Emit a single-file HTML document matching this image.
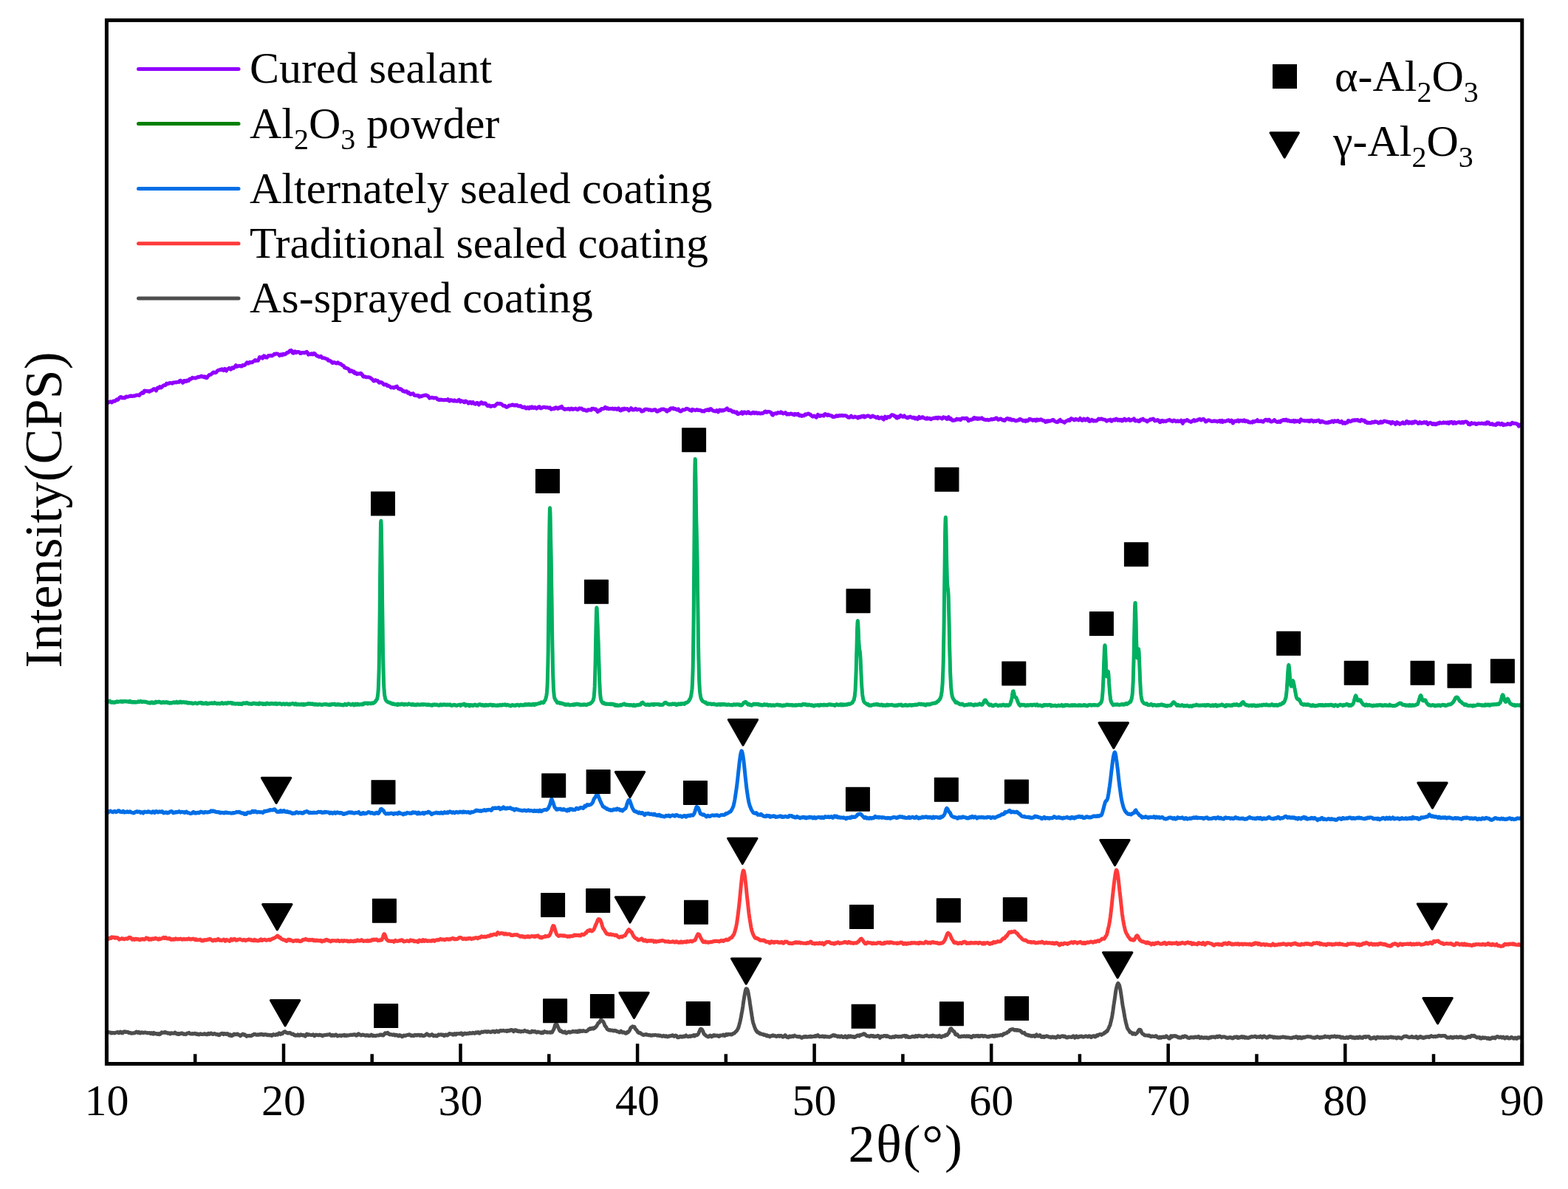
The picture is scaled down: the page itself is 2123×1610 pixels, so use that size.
<!DOCTYPE html><html><head><meta charset="utf-8"><style>html,body{margin:0;padding:0;background:#fff;}svg{display:block;}svg text{font-family:"Liberation Serif",serif;}</style></head><body>
<svg width="2123" height="1610" viewBox="0 0 2123 1610">
<rect width="2123" height="1610" fill="#fff"/>
<g fill="none" stroke-width="5" stroke-linejoin="round" stroke-linecap="round">
<path stroke="#9000FF" d="M144.4 545.0l1 0.0 1 0.4 1 -1.0 1 -0.1 1 -0.5 1 0.5 1 0.7 1 -1.0 1 -0.9 1 0.0 1 0.2 1 -0.8 1 -0.9 1 -0.9 1 0.7 1 -1.0 1 -1.3 1 -1.0 1 -0.5 1 0.1 1 1.3 1 -0.6 1 0.0 1 0.5 1 -0.1 1 -1.7 1 -0.2 1 0.5 1 -0.2 1 -0.3 1 -0.6 1 0.3 1 -0.7 1 0.5 1 0.0 1 -0.4 1 0.3 1 -0.3 1 -0.3 1 -0.5 1 -0.3 1 0.0 1 0.0 1 0.6 1 -1.5 1 -1.0 1 -0.1 1 -1.2 1 0.8 1 -0.5 1 -2.8 1 -0.2 1 0.7 1 -0.3 1 0.1 1 0.5 1 -0.5 1 0.8 1 -0.8 1 -0.7 1 0.1 1 -0.7 1 -0.9 1 -0.8 1 0.4 1 1.0 1 1.0 1 -2.2 1 -1.6 1 0.6 1 -0.9 1 -1.1 1 1.3 1 -0.1 1 -1.1 1 -1.1 1 -0.8 1 -0.3 1 0.2 1 -0.5 1 -2.0 1 0.0 1 0.3 1 -0.1 1 -0.9 1 0.1 1 -0.1 1 0.2 1 0.5 1 -1.3 1 0.1 1 -0.4 1 0.0 1 0.2 1 -0.4 1 -0.1 1 -0.2 1 0.2 1 -2.0 1 -0.1 1 0.8 1 0.4 1 1.8 1 -0.7 1 -2.2 1 0.1 1 0.9 1 0.1 1 -1.4 1 -0.1 1 0.5 1 -1.9 1 -0.7 1 0.4 1 -0.9 1 -1.0 1 0.7 1 -0.2 1 -0.2 1 0.4 1 -0.1 1 -0.7 1 -0.7 1 -0.3 1 0.5 1 -0.7 1 0.0 1 -0.9 1 0.2 1 0.8 1 -0.1 1 0.8 1 -1.1 1 0.6 1 1.4 1 -0.3 1 -2.0 1 -0.7 1 -1.4 1 0.0 1 -0.2 1 -0.9 1 -0.7 1 -1.2 1 -0.4 1 0.5 1 0.3 1 -0.4 1 -1.0 1 -1.5 1 -0.3 1 -0.5 1 -0.3 1 -0.4 1 0.5 1 -1.2 1 0.5 1 1.4 1 -0.4 1 -1.8 1 0.9 1 1.9 1 -2.0 1 -0.8 1 0.0 1 -1.1 1 1.2 1 0.7 1 -0.7 1 -1.6 1 0.9 1 -0.3 1 -1.6 1 -0.7 1 -1.5 1 1.8 1 -0.2 1 -0.4 1 -0.6 1 0.1 1 0.1 1 0.6 1 0.0 1 -1.5 1 -0.1 1 0.3 1 -0.5 1 -0.9 1 -1.4 1 -1.2 1 0.5 1 0.8 1 -1.1 1 -0.7 1 0.6 1 -0.4 1 0.3 1 -1.1 1 -0.5 1 -0.6 1 -1.0 1 0.9 1 -0.4 1 -0.1 1 0.3 1 -1.9 1 -2.7 1 0.6 1 0.0 1 -0.6 1 1.4 1 -1.2 1 -2.1 1 0.3 1 1.8 1 -0.3 1 0.6 1 -1.2 1 -1.4 1 0.0 1 0.1 1 -0.5 1 0.6 1 0.1 1 -0.9 1 -0.5 1 -1.3 1 0.5 1 -0.8 1 0.2 1 -0.1 1 0.4 1 0.8 1 1.3 1 -0.8 1 -0.8 1 1.1 1 -0.1 1 -1.6 1 0.0 1 0.7 1 -0.5 1 -0.8 1 -1.1 1 0.2 1 -0.7 1 -0.9 1 -1.3 1 0.7 1 -1.1 1 0.9 1 2.6 1 0.2 1 -1.4 1 -0.9 1 1.7 1 0.0 1 -1.1 1 -0.1 1 0.0 1 0.7 1 1.3 1 0.1 1 -0.8 1 -0.3 1 0.3 1 -0.1 1 0.3 1 -0.8 1 0.2 1 -0.9 1 1.2 1 2.5 1 -0.7 1 0.3 1 0.1 1 -0.9 1 -0.2 1 1.3 1 -0.4 1 -1.2 1 0.5 1 1.6 1 0.9 1 0.6 1 0.1 1 0.9 1 0.3 1 -0.2 1 -0.8 1 1.1 1 1.4 1 -0.2 1 0.2 1 0.2 1 0.2 1 0.6 1 0.4 1 0.0 1 2.1 1 -0.1 1 0.0 1 0.8 1 0.4 1 1.6 1 0.5 1 -0.5 1 -0.4 1 0.3 1 0.5 1 0.5 1 -0.1 1 -1.0 1 1.0 1 0.7 1 -0.1 1 0.2 1 1.2 1 0.9 1 0.2 1 0.7 1 2.0 1 0.7 1 -0.2 1 0.7 1 0.0 1 0.6 1 0.8 1 2.7 1 0.1 1 -1.3 1 0.2 1 1.1 1 1.0 1 -0.9 1 2.4 1 -0.1 1 -0.4 1 1.7 1 -0.3 1 -0.6 1 0.3 1 0.1 1 -0.8 1 0.7 1 1.2 1 2.2 1 0.7 1 -0.4 1 0.1 1 0.6 1 0.2 1 0.0 1 0.1 1 0.0 1 0.4 1 0.3 1 0.9 1 0.7 1 0.8 1 1.5 1 0.5 1 -0.4 1 -0.9 1 0.9 1 0.1 1 0.0 1 1.3 1 1.3 1 -0.2 1 -0.5 1 0.3 1 0.5 1 0.9 1 1.5 1 0.3 1 -0.5 1 0.1 1 0.5 1 1.3 1 -0.3 1 0.7 1 0.2 1 1.0 1 0.9 1 -0.2 1 -0.2 1 -0.1 1 0.8 1 -0.7 1 -0.8 1 0.2 1 -0.7 1 1.7 1 1.3 1 0.1 1 0.8 1 -0.5 1 0.6 1 1.1 1 1.3 1 -0.3 1 0.6 1 0.5 1 -0.4 1 -0.3 1 1.4 1 1.1 1 -0.8 1 1.3 1 1.2 1 0.0 1 -0.8 1 0.1 1 -0.3 1 1.7 1 1.0 1 -0.1 1 0.1 1 -0.4 1 0.7 1 -0.4 1 1.8 1 -0.1 1 -0.7 1 0.3 1 -0.9 1 0.1 1 -0.4 1 0.0 1 -0.5 1 -0.2 1 0.3 1 0.8 1 0.0 1 1.4 1 1.7 1 -0.4 1 -0.1 1 -0.4 1 0.0 1 0.5 1 0.4 1 -0.3 1 0.0 1 -0.1 1 0.9 1 1.2 1 0.4 1 0.4 1 -0.6 1 0.5 1 -0.4 1 0.3 1 0.1 1 0.2 1 0.0 1 -0.2 1 0.1 1 0.2 1 -0.1 1 -1.1 1 1.1 1 1.4 1 -0.5 1 -1.1 1 0.8 1 -0.2 1 0.9 1 -0.1 1 -1.0 1 1.2 1 -0.2 1 0.4 1 -0.1 1 -1.2 1 -0.7 1 1.6 1 1.1 1 -1.4 1 0.9 1 -0.2 1 0.1 1 1.4 1 0.0 1 -1.7 1 0.4 1 0.8 1 0.8 1 1.1 1 -1.2 1 -0.8 1 0.4 1 1.6 1 -1.3 1 -0.4 1 1.8 1 0.3 1 0.6 1 -0.5 1 -1.1 1 -0.1 1 1.5 1 1.2 1 -1.7 1 -0.9 1 -0.8 1 0.2 1 1.6 1 0.2 1 -0.2 1 -0.9 1 0.4 1 1.5 1 1.1 1 1.0 1 -0.1 1 -0.8 1 1.1 1 0.5 1 -0.5 1 -0.2 1 -0.3 1 0.4 1 0.2 1 -0.6 1 -1.2 1 -1.0 1 -0.9 1 0.2 1 0.2 1 -0.3 1 0.5 1 -0.2 1 0.8 1 0.9 1 1.0 1 0.2 1 -0.4 1 1.0 1 1.1 1 -0.1 1 -0.4 1 -0.8 1 -1.1 1 0.2 1 -0.1 1 -0.3 1 -0.8 1 0.0 1 1.0 1 0.2 1 -0.6 1 0.4 1 -0.7 1 0.5 1 1.1 1 0.1 1 0.1 1 -0.5 1 0.4 1 1.2 1 0.4 1 0.2 1 -0.6 1 0.0 1 1.4 1 0.5 1 -0.1 1 -1.2 1 0.7 1 0.7 1 -1.8 1 0.7 1 0.5 1 -1.6 1 0.6 1 1.0 1 -0.3 1 -0.8 1 0.8 1 1.0 1 -0.7 1 -0.7 1 -0.8 1 -0.3 1 1.9 1 0.3 1 -0.6 1 -0.3 1 -0.7 1 -0.1 1 0.0 1 0.6 1 0.1 1 -0.3 1 0.5 1 -0.2 1 0.5 1 -0.6 1 1.4 1 1.1 1 -0.5 1 -0.3 1 -0.5 1 0.6 1 -1.5 1 -0.3 1 0.2 1 1.1 1 0.3 1 -1.0 1 -0.9 1 0.8 1 -1.0 1 -1.0 1 2.1 1 0.5 1 0.7 1 0.9 1 -0.6 1 -0.1 1 0.1 1 0.0 1 -0.7 1 0.9 1 0.5 1 -0.7 1 -0.9 1 0.4 1 1.0 1 -0.7 1 0.2 1 -0.2 1 -0.6 1 0.8 1 0.6 1 0.3 1 -1.0 1 -0.9 1 0.4 1 -0.1 1 -0.2 1 0.9 1 1.1 1 0.3 1 -0.5 1 0.6 1 0.6 1 0.2 1 -0.1 1 -1.4 1 0.3 1 0.0 1 0.1 1 0.2 1 -2.0 1 0.1 1 -0.2 1 0.6 1 0.6 1 -0.6 1 1.1 1 1.7 1 1.1 1 -1.5 1 -0.8 1 0.6 1 -0.9 1 -1.7 1 0.1 1 0.1 1 -0.1 1 -1.0 1 -1.2 1 0.7 1 1.3 1 -1.0 1 0.6 1 0.9 1 -0.2 1 -0.4 1 0.2 1 0.0 1 -0.4 1 1.0 1 0.1 1 -0.8 1 -0.1 1 0.8 1 0.5 1 -0.6 1 -1.1 1 1.1 1 1.7 1 0.4 1 -1.7 1 -0.6 1 1.3 1 -0.5 1 -1.4 1 0.6 1 0.4 1 -0.4 1 -0.2 1 1.0 1 1.4 1 -1.0 1 -0.9 1 -1.3 1 0.6 1 1.6 1 0.0 1 0.0 1 -0.4 1 -1.1 1 0.4 1 1.2 1 -0.3 1 -0.4 1 0.0 1 0.0 1 0.6 1 2.0 1 0.1 1 -0.4 1 -0.2 1 -1.6 1 -0.5 1 -0.2 1 0.2 1 0.0 1 0.1 1 0.8 1 -0.1 1 -0.3 1 0.9 1 -0.2 1 0.2 1 -0.3 1 -0.6 1 0.0 1 -0.1 1 1.6 1 1.0 1 -0.1 1 -0.7 1 -1.1 1 0.4 1 -0.8 1 -0.9 1 0.2 1 -0.3 1 -0.1 1 0.7 1 0.5 1 -0.1 1 1.8 1 0.3 1 -1.8 1 0.3 1 -0.2 1 -2.0 1 -0.7 1 0.4 1 0.1 1 -0.6 1 1.2 1 -0.2 1 0.0 1 0.7 1 0.7 1 -0.2 1 -1.0 1 1.9 1 0.9 1 0.5 1 -0.3 1 -1.3 1 -0.7 1 0.2 1 0.0 1 -0.3 1 -0.6 1 -0.9 1 0.3 1 0.3 1 0.3 1 1.0 1 0.4 1 0.3 1 0.5 1 -2.0 1 0.8 1 -0.2 1 0.2 1 0.6 1 -0.3 1 -0.8 1 0.3 1 0.7 1 -0.4 1 0.3 1 0.0 1 0.5 1 1.0 1 -0.5 1 0.0 1 0.6 1 -1.4 1 -0.4 1 0.1 1 -0.4 1 -0.5 1 1.2 1 -0.1 1 -1.8 1 -0.2 1 0.7 1 1.2 1 0.7 1 0.1 1 0.3 1 0.4 1 -0.4 1 -1.1 1 0.8 1 1.5 1 -1.3 1 -1.4 1 0.2 1 0.9 1 0.1 1 -1.0 1 0.6 1 -0.4 1 -0.8 1 0.0 1 -1.0 1 -0.8 1 1.1 1 1.6 1 0.1 1 -0.4 1 0.0 1 1.1 1 0.9 1 0.6 1 -0.8 1 0.7 1 0.8 1 -0.5 1 -0.3 1 2.4 1 0.5 1 -0.8 1 -0.1 1 -0.3 1 -0.4 1 -1.1 1 2.3 1 -0.4 1 -1.8 1 -0.1 1 0.8 1 0.8 1 -0.7 1 -1.0 1 -0.2 1 1.8 1 0.1 1 0.5 1 -0.2 1 -1.0 1 -0.6 1 0.1 1 1.3 1 -0.8 1 -0.2 1 0.0 1 1.2 1 -0.2 1 -0.7 1 0.7 1 0.4 1 -0.4 1 -0.2 1 0.3 1 -0.8 1 -0.4 1 -1.1 1 -0.5 1 1.2 1 0.0 1 -0.8 1 0.1 1 0.0 1 0.4 1 0.5 1 0.6 1 2.6 1 0.6 1 -1.5 1 -0.6 1 0.0 1 -0.5 1 0.5 1 -0.7 1 -0.8 1 0.3 1 0.2 1 0.1 1 -1.3 1 0.6 1 0.9 1 0.6 1 -0.6 1 0.2 1 -0.9 1 1.2 1 1.2 1 -0.7 1 0.0 1 0.6 1 0.0 1 -0.9 1 0.0 1 0.8 1 -0.1 1 0.8 1 0.3 1 -1.6 1 0.8 1 0.4 1 -0.9 1 -0.3 1 2.0 1 0.6 1 -0.8 1 0.3 1 1.0 1 -0.7 1 0.0 1 0.3 1 -1.2 1 -0.9 1 0.7 1 -0.8 1 -0.3 1 -0.4 1 0.4 1 0.6 1 0.3 1 1.4 1 0.1 1 1.3 1 -0.6 1 -0.6 1 0.9 1 0.6 1 0.8 1 -2.1 1 -1.8 1 1.2 1 0.8 1 0.1 1 -0.9 1 0.1 1 0.0 1 -0.4 1 0.7 1 -2.0 1 -0.5 1 1.0 1 -0.1 1 1.1 1 -1.2 1 1.0 1 0.0 1 0.6 1 -0.2 1 0.4 1 1.3 1 0.0 1 0.2 1 -0.6 1 0.0 1 -1.2 1 0.2 1 0.6 1 -0.6 1 -0.5 1 0.6 1 -0.2 1 -0.7 1 0.6 1 0.2 1 -0.3 1 0.1 1 -0.1 1 0.3 1 0.4 1 0.9 1 0.9 1 0.0 1 0.1 1 -1.3 1 -0.8 1 1.1 1 0.6 1 0.3 1 -0.3 1 -0.8 1 0.3 1 0.2 1 0.7 1 0.7 1 -1.4 1 -0.4 1 0.9 1 -0.4 1 -1.2 1 0.6 1 -0.7 1 -0.3 1 1.9 1 -0.4 1 -0.6 1 -0.6 1 -0.3 1 -0.1 1 0.2 1 0.6 1 1.1 1 -0.1 1 -1.1 1 -0.7 1 0.6 1 0.7 1 -0.1 1 0.8 1 0.7 1 -0.2 1 -1.0 1 1.9 1 0.2 1 -0.6 1 -0.3 1 -0.6 1 0.2 1 2.0 1 0.7 1 -2.1 1 -1.7 1 0.6 1 1.5 1 -1.0 1 -0.9 1 0.4 1 0.1 1 -1.0 1 -1.1 1 -1.0 1 0.1 1 0.0 1 0.8 1 1.1 1 -0.2 1 1.9 1 0.6 1 -2.0 1 -0.2 1 1.2 1 -1.0 1 -1.7 1 0.9 1 0.4 1 0.7 1 -0.5 1 -1.0 1 1.3 1 0.7 1 0.4 1 0.7 1 -1.1 1 0.5 1 -0.6 1 -0.7 1 0.8 1 0.1 1 0.9 1 -0.6 1 -0.1 1 1.5 1 0.3 1 -1.2 1 0.9 1 0.8 1 -1.8 1 -1.3 1 1.8 1 -0.2 1 -0.2 1 -0.8 1 -0.3 1 1.2 1 0.2 1 0.5 1 0.5 1 0.1 1 -1.2 1 1.1 1 -0.2 1 -0.6 1 1.0 1 0.5 1 -0.6 1 -0.6 1 0.0 1 -0.5 1 -0.1 1 0.2 1 -0.8 1 0.6 1 0.7 1 -1.5 1 0.3 1 0.0 1 0.6 1 0.0 1 1.0 1 -0.5 1 -1.8 1 0.5 1 0.4 1 -0.1 1 1.4 1 0.5 1 -1.6 1 -1.2 1 2.5 1 0.4 1 -0.9 1 1.3 1 1.3 1 0.1 1 -0.6 1 0.4 1 -0.3 1 -0.3 1 -1.4 1 0.6 1 0.3 1 -0.5 1 0.1 1 0.9 1 -0.8 1 -1.3 1 -0.1 1 -0.2 1 0.5 1 0.2 1 -0.7 1 0.0 1 0.2 1 2.2 1 1.2 1 -0.6 1 -0.4 1 -0.8 1 0.4 1 -0.9 1 0.3 1 -2.1 1 -0.1 1 1.5 1 -0.1 1 -0.9 1 1.3 1 -0.1 1 -0.9 1 0.6 1 -0.6 1 0.4 1 -0.9 1 1.0 1 0.8 1 0.3 1 0.3 1 0.1 1 0.3 1 -0.4 1 0.0 1 0.7 1 -0.4 1 -0.2 1 -0.6 1 -0.4 1 0.7 1 -0.3 1 -0.5 1 0.2 1 -0.5 1 -0.9 1 0.0 1 1.2 1 1.1 1 -0.2 1 -0.6 1 -0.7 1 0.4 1 0.7 1 0.9 1 -0.4 1 1.0 1 0.0 1 -1.6 1 -0.5 1 -0.7 1 -0.2 1 0.7 1 0.9 1 -1.0 1 0.3 1 1.5 1 0.0 1 -0.7 1 0.2 1 0.6 1 0.6 1 0.3 1 -0.2 1 -0.5 1 -0.3 1 0.1 1 -1.4 1 -0.2 1 0.9 1 0.1 1 0.8 1 0.8 1 -0.8 1 0.6 1 0.7 1 -1.4 1 0.3 1 0.5 1 -0.9 1 -1.4 1 -0.4 1 1.0 1 -0.3 1 0.5 1 1.0 1 -0.6 1 -0.5 1 0.8 1 0.7 1 -1.7 1 0.0 1 1.0 1 -0.8 1 0.5 1 -0.5 1 -0.5 1 0.4 1 1.2 1 0.2 1 -0.2 1 0.8 1 1.2 1 -0.5 1 -1.1 1 1.0 1 -1.1 1 0.3 1 0.2 1 -0.4 1 -0.2 1 -0.7 1 -0.5 1 0.3 1 1.4 1 0.3 1 0.5 1 0.5 1 0.3 1 -0.3 1 -1.6 1 -0.7 1 -0.6 1 1.8 1 0.3 1 -0.1 1 0.8 1 0.2 1 0.8 1 -1.3 1 -0.8 1 -0.3 1 -0.3 1 -1.0 1 -0.2 1 1.1 1 -2.1 1 -0.8 1 0.6 1 0.3 1 0.7 1 0.7 1 -0.3 1 -1.3 1 0.5 1 0.5 1 -0.1 1 0.7 1 -1.2 1 -1.3 1 1.4 1 1.3 1 0.3 1 -1.2 1 -1.1 1 0.4 1 1.5 1 -0.1 1 -1.1 1 -1.0 1 0.4 1 3.1 1 0.2 1 -1.1 1 0.4 1 -1.4 1 1.2 1 0.5 1 -0.7 1 0.7 1 -0.1 1 0.0 1 -1.1 1 -0.4 1 -1.4 1 0.3 1 0.3 1 -0.5 1 -0.2 1 0.5 1 0.6 1 0.0 1 0.2 1 0.2 1 1.0 1 0.7 1 -0.8 1 -0.6 1 0.3 1 0.0 1 -0.9 1 2.0 1 0.1 1 -1.3 1 -0.7 1 -0.2 1 0.9 1 -1.2 1 -0.8 1 0.9 1 1.3 1 -0.9 1 -0.1 1 1.1 1 -1.1 1 0.3 1 1.5 1 -0.4 1 -1.8 1 -0.6 1 1.5 1 0.6 1 -1.1 1 0.1 1 0.2 1 -1.1 1 1.8 1 0.4 1 -0.6 1 -0.8 1 -0.1 1 0.1 1 -1.2 1 2.5 1 0.5 1 -0.2 1 -0.5 1 -0.1 1 1.4 1 0.1 1 -0.6 1 -2.1 1 0.5 1 -0.5 1 -0.8 1 1.2 1 0.7 1 0.0 1 0.2 1 1.2 1 0.4 1 -1.3 1 -0.4 1 -0.2 1 -1.3 1 0.5 1 -0.5 1 -0.4 1 -0.2 1 1.0 1 1.8 1 -0.5 1 -0.1 1 0.3 1 -1.0 1 0.4 1 1.5 1 1.2 1 -0.2 1 -1.8 1 -0.3 1 0.3 1 1.1 1 -0.7 1 0.0 1 0.5 1 -0.7 1 -0.5 1 -0.4 1 -0.1 1 -0.5 1 0.8 1 0.6 1 0.0 1 0.8 1 -0.7 1 -0.8 1 0.3 1 0.5 1 0.9 1 -0.5 1 -0.6 1 0.9 1 -0.4 1 0.2 1 0.3 1 -1.6 1 1.8 1 2.5 1 -2.4 1 -1.4 1 0.2 1 0.1 1 -0.8 1 -0.6 1 0.9 1 0.7 1 0.5 1 0.2 1 0.6 1 -0.4 1 -0.9 1 -0.7 1 -0.7 1 1.5 1 -0.5 1 -0.6 1 0.3 1 -0.6 1 -0.7 1 -0.1 1 -0.7 1 0.9 1 0.8 1 -0.7 1 -0.5 1 -0.5 1 0.9 1 1.0 1 1.8 1 -0.3 1 -1.0 1 -0.6 1 -0.3 1 0.3 1 0.7 1 0.1 1 0.5 1 0.0 1 -0.1 1 0.0 1 -0.6 1 0.5 1 0.2 1 -0.2 1 0.8 1 -0.7 1 -0.2 1 -0.6 1 1.5 1 -0.9 1 -0.6 1 2.1 1 -1.3 1 -0.2 1 0.7 1 -0.5 1 -0.2 1 -0.6 1 -0.2 1 -0.4 1 0.9 1 0.9 1 -0.1 1 -1.5 1 1.4 1 2.5 1 -1.8 1 -1.0 1 -0.2 1 0.4 1 -0.1 1 -1.0 1 -0.3 1 1.8 1 -0.7 1 -0.8 1 0.4 1 -0.3 1 0.7 1 -0.7 1 -0.6 1 1.8 1 0.1 1 -0.9 1 0.5 1 0.0 1 1.4 1 0.0 1 0.3 1 -0.1 1 -0.3 1 0.5 1 -1.5 1 0.1 1 0.4 1 -0.9 1 0.2 1 -0.7 1 -1.0 1 1.7 1 -0.1 1 0.2 1 0.0 1 -0.7 1 0.6 1 0.7 1 0.1 1 -1.6 1 -0.3 1 -1.0 1 0.0 1 1.0 1 0.4 1 -1.2 1 -0.2 1 1.7 1 0.8 1 0.3 1 -0.7 1 -0.2 1 -0.8 1 -0.8 1 1.4 1 0.6 1 0.5 1 0.5 1 0.0 1 -1.0 1 0.7 1 0.2 1 -1.9 1 -0.2 1 0.1 1 -1.0 1 -0.1 1 0.8 1 -0.8 1 -0.3 1 1.4 1 0.4 1 -0.8 1 0.4 1 0.9 1 0.2 1 -0.8 1 0.9 1 -0.3 1 -0.9 1 1.7 1 -0.1 1 -1.4 1 1.0 1 -0.4 1 -0.5 1 0.8 1 0.9 1 -2.0 1 -1.6 1 1.1 1 0.2 1 0.4 1 -0.2 1 0.6 1 -0.2 1 -0.1 1 0.4 1 -0.6 1 -0.1 1 1.4 1 -0.1 1 -1.5 1 -0.1 1 0.2 1 0.9 1 0.7 1 -0.8 1 -0.4 1 0.8 1 -0.3 1 -0.8 1 0.1 1 -0.4 1 1.0 1 1.7 1 -0.1 1 -1.5 1 0.2 1 0.7 1 0.4 1 0.3 1 0.5 1 0.1 1 -0.3 1 0.5 1 0.0 1 -1.1 1 -0.3 1 0.5 1 -0.6 1 -1.1 1 0.3 1 1.2 1 -1.5 1 -0.2 1 0.7 1 0.2 1 -0.6 1 -0.6 1 1.5 1 0.2 1 0.6 1 -0.3 1 -1.1 1 1.4 1 1.4 1 -0.7 1 -0.4 1 1.2 1 -1.1 1 0.2 1 -0.3 1 -2.7 1 0.2 1 0.7 1 0.6 1 -0.7 1 -0.1 1 -1.2 1 0.1 1 0.4 1 -0.8 1 0.7 1 -0.5 1 -0.2 1 0.0 1 1.2 1 0.0 1 0.6 1 -1.3 1 -0.8 1 0.6 1 0.7 1 -0.3 1 -0.1 1 2.2 1 -0.6 1 1.3 1 0.7 1 -0.7 1 0.6 1 -0.2 1 0.3 1 0.0 1 -1.3 1 0.0 1 0.5 1 -0.1 1 -1.1 1 0.0 1 0.8 1 -0.3 1 0.7 1 0.9 1 -0.1 1 -1.2 1 -0.8 1 1.5 1 -0.1 1 -0.6 1 -1.2 1 -0.5 1 0.5 1 0.2 1 0.7 1 -0.5 1 0.6 1 0.5 1 -0.5 1 0.4 1 1.8 1 -0.6 1 -1.6 1 1.1 1 -0.3 1 0.7 1 1.6 1 -1.1 1 -1.8 1 0.7 1 1.2 1 -0.4 1 1.2 1 -0.8 1 -0.3 1 -0.8 1 -0.6 1 1.6 1 -0.1 1 0.3 1 -1.1 1 -2.0 1 0.2 1 2.1 1 0.3 1 -1.6 1 0.5 1 0.9 1 0.3 1 -1.8 1 1.3 1 -0.2 1 -1.7 1 -0.1 1 0.4 1 0.9 1 0.7 1 0.8 1 -0.4 1 -1.5 1 0.6 1 1.0 1 -0.7 1 0.3 1 -0.9 1 -0.3 1 1.0 1 0.2 1 -1.2 1 1.5 1 1.4 1 -1.3 1 -0.3 1 -0.6 1 0.5 1 0.7 1 1.0 1 -1.1 1 0.0 1 1.2 1 -0.7 1 0.8 1 -0.4 1 -1.2 1 -0.1 1 0.4 1 -1.3 1 0.5 1 0.3 1 0.0 1 -0.4 1 -0.6 1 0.8 1 -0.4 1 -0.2 1 0.8 1 -0.1 1 -1.0 1 1.6 1 -0.1 1 -1.7 1 0.2 1 -0.5 1 0.4 1 1.7 1 -0.2 1 -1.5 1 1.0 1 0.5 1 -1.0 1 0.1 1 -0.4 1 -0.4 1 0.2 1 1.0 1 0.0 1 -1.1 1 -0.1 1 1.1 1 -1.0 1 -0.4 1 -0.3 1 0.1 1 0.8 1 0.6 1 2.2 1 0.0 1 0.4 1 -0.9 1 -1.5 1 0.8 1 0.2 1 -0.2 1 -0.3 1 0.3 1 1.0 1 0.0 1 -0.9 1 0.0 1 -0.3 1 0.2 1 0.2 1 -0.3 1 -0.2 1 0.3 1 0.4 1 0.0 1 -0.8 1 1.0 1 -0.1 1 -2.1 1 0.2 1 0.1 1 1.7 1 0.6 1 0.0 1 -0.4 1 -0.3 1 1.3 1 0.1 1 0.1 1 -0.5 1 0.8 1 -1.3 1 -1.1 1 1.1 1 -1.1 1 0.9 1 0.9 1 -0.4 1 -1.2 1 0.6 1 1.8 1 -0.9 1 0.4 1 -0.2 1 0.0 1 -0.2 1 -1.2 1 0.7 1 -0.2 1 0.8 1 -0.2 1 -1.4 1 -0.9 1 0.4 1 0.6 1 -0.1 1 0.0 1 0.1 1 0.6 1 0.0 1 1.5 1 1.6 1 -1.0 1 -1.0 1 1.1 1 0.1"/>
<path stroke="#00B060" d="M144.4 949.7l0.2 -0.3 0.3 0.1 0.3 0.2 0.2 0.1 0.2 0.3 0.3 0.1 0.3 0.3 0.2 -0.2 0.2 -0.2 0.3 -0.3 0.3 -0.3 0.2 0.1 0.2 -0.1 0.3 -0.1 0.3 0.0 0.2 -0.3 0.2 -0.1 0.3 0.3 0.3 0.2 0.2 0.4 0.2 0.3 0.3 0.6 0.3 0.2 0.2 0.1 0.2 0.2 0.3 -0.1 0.3 0.1 0.2 -0.3 0.2 0.1 0.3 -0.3 0.3 -0.1 0.2 -0.1 0.2 0.0 0.3 0.3 0.3 0.3 0.2 0.0 0.2 0.1 0.3 0.0 0.3 0.1 0.2 0.0 0.2 -0.2 0.3 -0.3 0.3 -0.1 0.2 0.1 0.2 -0.1 0.3 0.1 0.3 0.2 0.2 -0.1 0.2 -0.2 0.3 -0.1 0.3 0.1 0.2 -0.3 0.2 -0.5 0.3 0.3 0.3 -0.4 0.2 0.4 0.2 -0.1 0.3 0.2 0.3 0.1 0.2 -0.3 0.2 0.3 0.3 -0.5 0.3 0.0 0.2 0.0 0.2 0.3 0.3 -0.1 0.3 0.0 0.2 0.1 0.2 -0.2 0.3 -0.1 0.3 -0.2 0.2 0.1 0.2 0.1 0.3 -0.1 0.3 0.0 0.2 0.2 0.2 -0.2 0.3 -0.3 0.3 0.2 0.2 -0.2 0.2 0.0 0.3 0.0 0.3 0.2 0.2 0.3 0.2 -0.2 0.3 0.4 0.3 0.1 0.2 -0.3 0.2 0.0 0.3 -0.1 0.3 0.1 0.2 0.0 0.2 -0.4 0.3 0.3 0.3 -0.2 0.2 -0.1 0.2 -0.2 0.3 0.2 0.3 0.1 0.2 -0.2 0.2 0.0 0.3 0.3 0.3 -0.1 0.2 -0.2 0.2 0.3 0.3 -0.1 0.3 0.2 0.2 0.0 0.2 0.1 0.3 0.0 0.3 -0.3 0.2 0.2 0.2 0.1 0.3 -0.3 0.3 0.3 0.2 0.0 0.2 0.2 0.3 0.1 0.3 0.0 0.2 -0.2 0.2 0.1 0.3 0.1 0.3 -0.4 0.2 -0.6 0.2 -0.1 0.3 0.5 0.3 -0.2 0.2 -0.1 0.2 0.3 0.3 0.7 0.3 0.2 0.2 -0.2 0.2 0.1 0.3 0.2 0.3 0.1 0.2 -0.1 0.2 -0.2 0.3 -0.1 0.3 0.1 0.2 -0.3 0.2 0.1 0.3 0.1 0.3 0.2 0.2 0.3 0.2 -0.1 0.3 -0.1 0.3 -0.3 0.2 0.5 0.2 -0.2 0.3 -0.3 0.3 0.2 0.2 0.3 0.2 0.1 0.3 -0.6 0.3 0.3 0.2 0.2 0.2 -0.1 0.3 -0.1 0.3 0.2 0.2 0.0 0.2 -0.1 0.3 -0.3 0.3 -0.1 0.2 0.1 0.2 0.1 0.3 -0.2 0.3 0.0 0.2 0.2 0.2 -0.2 0.3 -0.2 0.3 -0.4 0.2 0.1 0.2 -0.2 0.3 0.1 0.3 0.2 0.2 0.0 0.2 0.3 0.3 -0.1 0.3 -0.2 0.2 -0.1 0.2 -0.2 0.3 -0.1 0.3 0.0 0.2 -0.1 0.2 -0.2 0.3 0.2 0.3 0.1 0.2 0.3 0.2 0.1 0.3 0.3 0.3 0.3 0.2 0.0 0.2 -0.3 0.3 -0.3 0.3 -0.1 0.2 0.1 0.2 -0.1 0.3 -0.1 0.3 0.1 0.2 0.2 0.2 0.1 0.3 0.0 0.3 0.1 0.2 -0.1 0.2 0.0 0.3 0.1 0.3 0.0 0.2 -0.2 0.2 -0.1 0.3 0.4 0.3 0.1 0.2 -0.1 0.2 0.0 0.3 0.1 0.3 0.0 0.2 -0.1 0.2 0.4 0.3 0.1 0.3 0.1 0.2 0.3 0.2 0.2 0.3 -0.1 0.3 -0.2 0.2 0.0 0.2 0.1 0.3 0.0 0.3 0.1 0.2 -0.2 0.2 0.3 0.3 0.4 0.3 0.1 0.2 -0.1 0.2 -0.2 0.3 0.3 0.3 -0.3 0.2 -0.4 0.2 -0.2 0.3 0.2 0.3 0.4 0.2 -0.3 0.2 0.1 0.3 -0.3 0.3 -0.1 0.2 -0.2 0.2 -0.2 0.3 0.5 0.3 -0.3 0.2 0.3 0.2 0.6 0.3 0.0 0.3 0.0 0.2 -0.1 0.2 -0.1 0.3 0.0 0.3 -0.3 0.2 -0.1 0.2 0.0 0.3 0.2 0.3 0.3 0.2 0.1 0.2 -0.3 0.3 -0.5 0.3 -0.4 0.2 -0.2 0.2 0.0 0.3 -0.3 0.3 0.4 0.2 0.2 0.2 0.1 0.3 0.0 0.3 -0.2 0.2 0.3 0.2 -0.4 0.3 -0.2 0.3 0.0 0.2 0.0 0.2 0.2 0.3 -0.1 0.3 0.1 0.2 0.1 0.2 -0.4 0.3 0.1 0.3 -0.1 0.2 -0.1 0.2 0.3 0.3 0.3 0.3 0.1 0.2 -0.4 0.2 0.3 0.3 -0.1 0.3 0.2 0.2 0.0 0.2 0.1 0.3 0.5 0.3 -0.2 0.2 0.3 0.2 -0.4 0.3 0.2 0.3 -0.1 0.2 -0.2 0.2 0.1 0.3 -0.3 0.3 0.5 0.2 -0.4 0.2 0.0 0.3 0.1 0.3 0.1 0.2 -0.2 0.2 -0.3 0.3 0.2 0.3 0.3 0.2 0.2 0.2 -0.4 0.3 0.2 0.3 -0.3 0.2 0.1 0.2 0.2 0.3 0.0 0.3 0.1 0.2 -0.4 0.2 -0.1 0.3 0.0 0.3 -0.2 0.2 0.2 0.2 -0.2 0.3 0.3 0.3 0.5 0.2 0.1 0.2 -0.1 0.3 -0.1 0.3 0.4 0.2 -0.3 0.2 -0.2 0.3 0.2 0.3 0.2 0.2 0.0 0.2 -0.3 0.3 0.5 0.3 0.3 0.2 -0.3 0.2 0.0 0.3 0.2 0.3 0.2 0.2 0.0 0.2 -0.3 0.3 -0.1 0.3 -0.2 0.2 0.1 0.2 -0.2 0.3 0.1 0.3 0.3 0.2 0.0 0.2 0.1 0.3 -0.5 0.3 0.1 0.2 0.1 0.2 -0.3 0.3 0.2 0.3 -0.3 0.2 -0.3 0.2 0.0 0.3 -0.1 0.3 -0.2 0.2 0.1 0.2 0.0 0.3 0.4 0.3 0.1 0.2 0.1 0.2 0.0 0.3 0.2 0.3 -0.2 0.2 -0.1 0.2 0.0 0.3 -0.1 0.3 -0.2 0.2 0.0 0.2 -0.2 0.3 -0.4 0.3 0.2 0.2 -0.3 0.2 0.5 0.3 0.2 0.3 0.5 0.2 0.2 0.2 -0.3 0.3 0.0 0.3 -0.3 0.2 -0.2 0.2 0.1 0.3 0.1 0.3 -0.1 0.2 0.0 0.2 0.3 0.3 0.2 0.3 -0.1 0.2 -0.2 0.2 -0.5 0.3 0.1 0.3 -0.3 0.2 -0.4 0.2 0.2 0.3 0.3 0.3 0.1 0.2 0.2 0.2 0.3 0.3 0.1 0.3 0.1 0.2 -0.3 0.2 0.1 0.3 -0.2 0.3 -0.3 0.2 0.2 0.2 -0.4 0.3 -0.1 0.3 0.1 0.2 0.1 0.2 0.3 0.3 0.0 0.3 0.1 0.2 0.0 0.2 0.2 0.3 -0.1 0.3 -0.1 0.2 -0.2 0.2 0.4 0.3 0.2 0.3 0.1 0.2 0.0 0.2 0.0 0.3 -0.2 0.3 -0.4 0.2 0.1 0.2 0.3 0.3 -0.1 0.3 -0.1 0.2 0.5 0.2 0.4 0.3 -0.2 0.3 0.0 0.2 0.1 0.2 0.1 0.3 -0.1 0.3 -0.1 0.2 0.2 0.2 -0.2 0.3 0.1 0.3 -0.3 0.2 0.2 0.2 0.0 0.3 -0.1 0.3 0.2 0.2 -0.1 0.2 0.1 0.3 0.1 0.3 0.2 0.2 -0.1 0.2 0.0 0.3 0.0 0.3 -0.3 0.2 0.0 0.2 0.0 0.3 0.3 0.3 -0.1 0.2 0.4 0.2 0.3 0.3 0.1 0.3 0.0 0.2 0.0 0.2 -0.1 0.3 -0.1 0.3 -0.1 0.2 -0.1 0.2 -0.2 0.3 0.1 0.3 -0.1 0.2 -0.2 0.2 0.0 0.3 -0.1 0.3 0.0 0.2 -0.1 0.2 0.0 0.3 0.2 0.3 0.2 0.2 -0.1 0.2 0.0 0.3 0.2 0.3 0.2 0.2 0.1 0.2 0.1 0.3 0.2 0.3 -0.2 0.2 -0.3 0.2 0.0 0.3 -0.2 0.3 0.1 0.2 -0.2 0.2 0.1 0.3 -0.1 0.3 0.0 0.2 -0.1 0.2 -0.3 0.3 -0.1 0.3 -0.1 0.2 0.0 0.2 0.1 0.3 0.1 0.3 0.2 0.2 -0.1 0.2 -0.3 0.3 -0.2 0.3 0.4 0.2 -0.2 0.2 0.1 0.3 0.4 0.3 0.3 0.2 0.3 0.2 -0.3 0.3 0.1 0.3 -0.1 0.2 -0.3 0.2 0.2 0.3 0.3 0.3 0.1 0.2 0.1 0.2 -0.1 0.3 0.0 0.3 -0.2 0.2 -0.1 0.2 0.0 0.3 0.0 0.3 0.4 0.2 -0.3 0.2 0.1 0.3 0.1 0.3 -0.3 0.2 0.1 0.2 -0.6 0.3 0.0 0.3 0.1 0.2 -0.1 0.2 0.4 0.3 0.1 0.3 0.5 0.2 0.3 0.2 -0.2 0.3 0.1 0.3 -0.2 0.2 -0.1 0.2 0.0 0.3 0.0 0.3 0.0 0.2 0.0 0.2 0.2 0.3 -0.1 0.3 -0.1 0.2 -0.4 0.2 -0.1 0.3 -0.1 0.3 0.1 0.2 0.1 0.2 -0.1 0.3 0.2 0.3 -0.1 0.2 -0.1 0.2 -0.1 0.3 -0.1 0.3 -0.2 0.2 0.1 0.2 0.3 0.3 0.1 0.3 0.0 0.2 -0.1 0.2 0.4 0.3 -0.2 0.3 0.1 0.2 0.1 0.2 -0.1 0.3 -0.1 0.3 0.0 0.2 -0.1 0.2 -0.1 0.3 -0.2 0.3 -0.3 0.2 -0.1 0.2 -0.3 0.3 0.4 0.3 0.6 0.2 0.0 0.2 0.0 0.3 0.1 0.3 0.1 0.2 0.1 0.2 -0.1 0.3 -0.1 0.3 -0.1 0.2 0.6 0.2 0.2 0.3 -0.1 0.3 -0.4 0.2 0.3 0.2 0.1 0.3 -0.1 0.3 -0.1 0.2 -0.1 0.2 0.1 0.3 -0.4 0.3 0.1 0.2 -0.1 0.2 0.1 0.3 0.2 0.3 -0.1 0.2 0.4 0.2 0.1 0.3 -0.1 0.3 0.0 0.2 -0.2 0.2 -0.1 0.3 -0.1 0.3 -0.1 0.2 -0.2 0.2 -0.3 0.3 -0.1 0.3 -0.2 0.2 -0.1 0.2 0.0 0.3 0.2 0.3 0.0 0.2 0.6 0.2 0.2 0.3 0.2 0.3 -0.1 0.2 0.2 0.2 -0.1 0.3 -0.2 0.3 -0.1 0.2 -0.1 0.2 0.2 0.3 -0.1 0.3 -0.2 0.2 0.1 0.2 -0.2 0.3 -0.2 0.3 -0.3 0.2 0.1 0.2 0.3 0.3 0.0 0.3 0.1 0.2 0.1 0.2 0.1 0.3 0.3 0.3 -0.3 0.2 0.0 0.2 -0.1 0.3 -0.3 0.3 0.0 0.2 -0.3 0.2 0.1 0.3 -0.1 0.3 -0.3 0.2 0.1 0.2 0.2 0.3 0.1 0.3 0.2 0.2 -0.2 0.2 0.1 0.3 -0.1 0.3 0.0 0.2 0.0 0.2 -0.3 0.3 -0.1 0.3 0.2 0.2 -0.2 0.2 0.0 0.3 0.0 0.3 0.5 0.2 0.2 0.2 0.4 0.3 0.3 0.3 -0.2 0.2 -0.5 0.2 -0.3 0.3 0.0 0.3 0.1 0.2 0.3 0.2 0.1 0.3 0.3 0.3 0.2 0.2 0.1 0.2 -0.2 0.3 -0.3 0.3 0.1 0.2 0.5 0.2 -0.4 0.3 0.1 0.3 0.1 0.2 0.4 0.2 -0.2 0.3 0.1 0.3 0.1 0.2 0.1 0.2 -0.1 0.3 -0.3 0.3 -0.1 0.2 0.0 0.2 -0.1 0.3 0.0 0.3 0.1 0.2 -0.1 0.2 0.1 0.3 -0.2 0.3 0.3 0.2 0.0 0.2 0.1 0.3 0.5 0.3 0.1 0.2 -0.1 0.2 -0.3 0.3 -0.1 0.3 -0.1 0.2 -0.2 0.2 0.0 0.3 -0.2 0.3 0.2 0.2 0.3 0.2 0.3 0.3 -0.2 0.3 -0.2 0.2 0.2 0.2 0.2 0.3 -0.2 0.3 -0.1 0.2 0.2 0.2 0.2 0.3 -0.3 0.3 -0.5 0.2 -0.1 0.2 -0.2 0.3 -0.4 0.3 0.1 0.2 -0.1 0.2 0.4 0.3 -0.1 0.3 0.1 0.2 0.0 0.2 -0.3 0.3 0.2 0.3 -0.2 0.2 0.0 0.2 0.3 0.3 -0.1 0.3 0.3 0.2 -0.2 0.2 -0.3 0.3 0.1 0.3 -0.5 0.2 0.0 0.2 0.3 0.3 -0.3 0.3 0.1 0.2 -0.1 0.2 0.3 0.3 -0.2 0.3 0.0 0.2 0.3 0.2 0.4 0.3 0.3 0.3 -0.3 0.2 0.0 0.2 0.2 0.3 0.3 0.3 -0.1 0.2 0.2 0.2 -0.2 0.3 0.3 0.3 -0.1 0.2 0.0 0.2 0.0 0.3 0.0 0.3 -0.1 0.2 0.1 0.2 0.0 0.3 -0.1 0.3 0.4 0.2 -0.3 0.2 0.2 0.3 0.1 0.3 -0.3 0.2 -0.2 0.2 -0.1 0.3 0.2 0.3 -0.1 0.2 0.0 0.2 -0.2 0.3 0.0 0.3 -0.2 0.2 -0.3 0.2 0.1 0.3 -0.2 0.3 0.2 0.2 0.2 0.2 0.1 0.3 0.2 0.3 0.1 0.2 -0.1 0.2 -0.1 0.3 -0.1 0.3 0.2 0.2 -0.1 0.2 -0.1 0.3 0.4 0.3 0.0 0.2 0.2 0.2 -0.3 0.3 -0.1 0.3 0.2 0.2 -0.1 0.2 0.2 0.3 -0.3 0.3 -0.1 0.2 0.0 0.2 0.5 0.3 0.1 0.3 0.0 0.2 0.1 0.2 0.2 0.3 -0.3 0.3 -0.8 0.2 -0.2 0.2 -0.3 0.3 0.3 0.3 0.0 0.2 0.1 0.2 0.2 0.3 -0.2 0.3 0.0 0.2 0.0 0.2 0.0 0.3 0.1 0.3 0.2 0.2 0.1 0.2 0.3 0.3 -0.4 0.3 -0.1 0.2 0.0 0.2 0.0 0.3 0.1 0.3 0.0 0.2 0.5 0.2 0.5 0.3 -0.4 0.3 -0.2 0.2 0.1 0.2 0.1 0.3 -0.4 0.3 -0.1 0.2 0.0 0.2 0.6 0.3 0.1 0.3 -0.1 0.2 -0.1 0.2 0.2 0.3 0.2 0.3 -0.6 0.2 -0.1 0.2 -0.2 0.3 0.0 0.3 -0.5 0.2 -0.2 0.2 -0.1 0.3 0.0 0.3 0.3 0.2 0.2 0.2 0.3 0.3 0.1 0.3 0.3 0.2 -0.1 0.2 -0.3 0.3 -0.1 0.3 0.0 0.2 0.3 0.2 -0.1 0.3 0.2 0.3 0.3 0.2 0.0 0.2 -0.3 0.3 -0.1 0.3 -0.3 0.2 -0.1 0.2 0.2 0.3 0.0 0.3 -0.1 0.2 -0.2 0.2 0.2 0.3 0.4 0.3 -0.3 0.2 -0.2 0.2 0.0 0.3 0.0 0.3 0.3 0.2 0.1 0.2 -0.1 0.3 -0.1 0.3 0.3 0.2 0.1 0.2 -0.2 0.3 -0.2 0.3 0.0 0.2 0.4 0.2 0.1 0.3 -0.2 0.3 -0.1 0.2 -0.2 0.2 -0.3 0.3 -0.2 0.3 0.1 0.2 -0.2 0.2 0.1 0.3 0.2 0.3 0.3 0.2 0.3 0.2 0.0 0.3 0.5 0.3 -0.3 0.2 -0.2 0.2 0.0 0.3 0.2 0.3 0.0 0.2 -0.3 0.2 -0.1 0.3 -0.2 0.3 0.0 0.2 -0.1 0.2 0.2 0.3 0.1 0.3 0.1 0.2 0.1 0.2 0.0 0.3 -0.1 0.3 -0.4 0.2 0.4 0.2 0.1 0.3 -0.1 0.3 0.3 0.2 -0.1 0.2 0.2 0.3 0.0 0.3 0.1 0.2 0.3 0.2 -0.2 0.3 0.0 0.3 -0.4 0.2 0.1 0.2 -0.2 0.3 0.2 0.3 -0.3 0.2 0.0 0.2 0.2 0.3 -0.3 0.3 -0.1 0.2 0.1 0.2 0.6 0.3 -0.3 0.3 0.2 0.2 0.2 0.2 0.3 0.3 -0.1 0.3 -0.2 0.2 0.0 0.2 -0.3 0.3 0.0 0.3 -0.2 0.2 0.1 0.2 -0.1 0.3 -0.3 0.3 0.2 0.2 0.0 0.2 0.2 0.3 -0.3 0.3 0.0 0.2 0.7 0.2 0.1 0.3 0.1 0.3 0.0 0.2 -0.1 0.2 0.2 0.3 -0.5 0.3 0.0 0.2 0.0 0.2 -0.1 0.3 0.2 0.3 -0.3 0.2 0.3 0.2 0.4 0.3 -0.2 0.3 -0.1 0.2 -0.3 0.2 -0.1 0.3 0.1 0.3 -0.3 0.2 -0.1 0.2 0.0 0.3 0.3 0.3 -0.1 0.2 -0.1 0.2 -0.1 0.3 -0.3 0.3 0.0 0.2 -0.2 0.2 0.1 0.3 0.2 0.3 0.1 0.2 0.1 0.2 0.1 0.3 0.2 0.3 0.4 0.2 -0.1 0.2 0.3 0.3 -0.3 0.3 0.1 0.2 0.1 0.2 -0.5 0.3 -0.4 0.3 -0.2 0.2 0.4 0.2 -0.1 0.3 0.2 0.3 0.7 0.2 0.0 0.2 0.2 0.3 0.2 0.3 0.1 0.2 -0.3 0.2 -0.1 0.3 0.1 0.3 -0.2 0.2 -0.2 0.2 -0.2 0.3 0.3 0.3 -0.1 0.2 0.3 0.2 0.2 0.3 0.0 0.3 0.1 0.2 0.0 0.2 -0.4 0.3 0.2 0.3 -0.2 0.2 0.1 0.2 0.1 0.3 0.0 0.3 0.1 0.2 -0.5 0.2 0.0 0.3 0.1 0.3 0.1 0.2 -0.2 0.2 0.1 0.3 0.3 0.3 0.2 0.2 -0.5 0.2 -0.3 0.3 0.0 0.3 0.1 0.2 -0.2 0.2 0.0 0.3 0.5 0.3 0.1 0.2 0.3 0.2 0.3 0.3 -0.3 0.3 0.0 0.2 0.0 0.2 0.1 0.3 -0.4 0.3 -0.3 0.2 0.1 0.2 -0.1 0.3 0.0 0.3 -0.1 0.2 0.1 0.2 -0.1 0.3 0.1 0.3 0.1 0.2 -0.2 0.2 0.1 0.3 0.0 0.3 -0.3 0.2 -0.1 0.2 -0.3 0.3 -0.3 0.3 0.2 0.2 -0.1 0.2 0.0 0.3 0.0 0.3 0.2 0.2 0.3 0.2 -0.1 0.3 -0.2 0.3 0.2 0.2 0.0 0.2 0.2 0.3 -0.3 0.3 -0.2 0.2 0.3 0.2 -0.1 0.3 0.1 0.3 -0.1 0.2 0.1 0.2 0.4 0.3 -0.4 0.3 0.1 0.2 -0.1 0.2 -0.1 0.3 0.2 0.3 -0.2 0.2 0.7 0.2 0.1 0.3 -0.2 0.3 -0.2 0.2 0.2 0.2 0.2 0.3 -0.3 0.3 0.0 0.2 0.1 0.2 0.4 0.3 -0.4 0.3 0.3 0.2 0.1 0.2 -0.3 0.3 0.3 0.3 -0.5 0.2 0.1 0.2 -0.1 0.3 0.1 0.3 0.5 0.2 -0.2 0.2 0.0 0.3 0.1 0.3 -0.4 0.2 0.2 0.2 0.0 0.3 0.1 0.3 0.4 0.2 0.0 0.2 0.1 0.3 -0.2 0.3 -0.1 0.2 0.1 0.2 -0.2 0.3 -0.3 0.3 0.1 0.2 -0.3 0.2 0.0 0.3 -0.1 0.3 0.3 0.2 0.1 0.2 -0.1 0.3 0.4 0.3 0.1 0.2 -0.2 0.2 0.0 0.3 0.3 0.3 -0.1 0.2 -0.1 0.2 0.0 0.3 0.5 0.3 0.0 0.2 -0.4 0.2 0.0 0.3 -0.1 0.3 0.0 0.2 -0.1 0.2 -0.1 0.3 0.2 0.3 0.0 0.2 -0.2 0.2 -0.2 0.3 -0.2 0.3 0.0 0.2 0.1 0.2 -0.1 0.3 0.2 0.3 0.2 0.2 0.1 0.2 -0.3 0.3 -0.1 0.3 -0.1 0.2 0.3 0.2 -0.2 0.3 0.0 0.3 0.2 0.2 -0.1 0.2 0.2 0.3 -0.1 0.3 0.1 0.2 0.1 0.2 0.1 0.3 0.0 0.3 0.3 0.2 0.0 0.2 0.0 0.3 -0.1 0.3 0.0 0.2 0.2 0.2 -0.5 0.3 0.2 0.3 -0.1 0.2 0.1 0.2 -0.3 0.3 0.1 0.3 0.4 0.2 -0.2 0.2 -0.1 0.3 0.4 0.3 -0.2 0.2 -0.4 0.2 -0.3 0.3 -0.2 0.3 0.2 0.2 -0.2 0.2 0.1 0.3 0.1 0.3 0.2 0.2 0.0 0.2 -0.1 0.3 -0.1 0.3 -0.2 0.2 0.3 0.2 -0.3 0.3 0.1 0.3 0.0 0.2 -0.3 0.2 0.2 0.3 0.0 0.3 0.2 0.2 -0.2 0.2 0.4 0.3 0.3 0.3 0.2 0.2 -0.2 0.2 0.1 0.3 -0.1 0.3 0.1 0.2 -0.1 0.2 0.1 0.3 0.2 0.3 -0.1 0.2 -0.1 0.2 -0.5 0.3 -0.2 0.3 0.2 0.2 -0.1 0.2 0.0 0.3 0.1 0.3 0.0 0.2 0.3 0.2 -0.3 0.3 0.0 0.3 0.3 0.2 -0.1 0.2 0.2 0.3 0.0 0.3 0.2 0.2 0.0 0.2 -0.2 0.3 0.3 0.3 -0.1 0.2 -0.2 0.2 0.3 0.3 0.0 0.3 0.4 0.2 -0.1 0.2 -0.1 0.3 0.2 0.3 -0.2 0.2 -0.3 0.2 0.0 0.3 0.1 0.3 0.3 0.2 -0.2 0.2 0.0 0.3 0.4 0.3 -0.3 0.2 0.1 0.2 -0.4 0.3 0.2 0.3 -0.3 0.2 -0.4 0.2 -0.3 0.3 -0.2 0.3 0.3 0.2 -0.3 0.2 0.2 0.3 0.2 0.3 0.5 0.2 0.2 0.2 0.3 0.3 0.0 0.3 0.1 0.2 -0.2 0.2 -0.2 0.3 0.1 0.3 -0.6 0.2 0.0 0.2 -0.3 0.3 -0.3 0.3 -0.1 0.2 -0.3 0.2 -0.1 0.3 0.1 0.3 0.3 0.2 -0.2 0.2 0.1 0.3 0.2 0.3 0.2 0.2 -0.1 0.2 0.1 0.3 0.2 0.3 0.3 0.2 0.0 0.2 0.3 0.3 0.2 0.3 0.0 0.2 -0.2 0.2 0.0 0.3 -0.1 0.3 -0.2 0.2 -0.1 0.2 -0.1 0.3 0.2 0.3 -0.4 0.2 0.0 0.2 -0.5 0.3 0.2 0.3 0.4 0.2 0.3 0.2 0.1 0.3 0.2 0.3 0.6 0.2 -0.1 0.2 -0.1 0.3 -0.1 0.3 -0.1 0.2 -0.4 0.2 -0.5 0.3 -0.2 0.3 -0.1 0.2 0.2 0.2 -0.3 0.3 0.4 0.3 0.5 0.2 0.2 0.2 -0.2 0.3 -0.2 0.3 0.3 0.2 -0.4 0.2 -0.5 0.3 0.0 0.3 -0.2 0.2 0.1 0.2 0.0 0.3 0.3 0.3 0.3 0.2 0.1 0.2 0.4 0.3 0.0 0.3 -0.2 0.2 0.0 0.2 -0.3 0.3 0.1 0.3 0.2 0.2 -0.1 0.2 -0.1 0.3 -0.1 0.3 0.0 0.2 0.0 0.2 -0.2 0.3 0.0 0.3 0.2 0.2 0.1 0.2 0.0 0.3 -0.3 0.3 -0.2 0.2 0.2 0.2 0.1 0.3 0.2 0.3 0.1 0.2 0.0 0.2 0.0 0.3 -0.5 0.3 -0.2 0.2 -0.5 0.2 -0.4 0.3 0.1 0.3 -0.2 0.2 0.2 0.2 0.2 0.3 -0.4 0.3 0.3 0.2 -0.4 0.2 -0.1 0.3 -0.2 0.3 0.0 0.2 0.6 0.2 -0.2 0.3 0.2 0.3 0.0 0.2 -0.2 0.2 0.1 0.3 -0.4 0.3 0.2 0.2 -0.1 0.2 0.6 0.3 0.3 0.3 -0.3 0.2 -0.2 0.2 -0.1 0.3 0.0 0.3 -0.3 0.2 -0.1 0.2 0.5 0.3 0.0 0.3 0.0 0.2 -0.1 0.2 -0.1 0.3 0.2 0.3 -0.1 0.2 -0.1 0.2 0.0 0.3 0.2 0.3 0.3 0.2 -0.2 0.2 -0.1 0.3 -0.1 0.3 -0.2 0.2 -0.1 0.2 -0.3 0.3 0.0 0.3 -0.1 0.2 0.2 0.2 0.2 0.3 -0.2 0.3 0.0 0.2 0.4 0.2 -0.4 0.3 -0.2 0.3 0.0 0.2 0.1 0.2 -0.2 0.3 -0.6 0.3 0.1 0.2 -0.1 0.2 -0.4 0.3 -0.2 0.3 -0.2 0.2 -0.3 0.2 -0.5 0.3 -0.7 0.3 -0.2 0.2 -0.2 0.2 -0.2 0.3 -0.3 0.3 -0.6 0.2 -0.2 0.2 -0.9 0.3 -1.3 0.3 -1.1 0.2 -1.9 0.2 -1.6 0.3 -2.8 0.3 -3.3 0.2 -4.7 0.2 -6.4 0.3 -8.2 0.3 -10.5 0.2 -13.5 0.2 -16.8 0.3 -20.1 0.3 -23.0 0.2 -25.0 0.2 -26.5 0.3 -25.4 0.3 -21.9 0.2 -16.4 0.2 -9.2 0.3 -1.2 0.3 5.2 0.2 9.7 0.2 13.8 0.3 17.2 0.3 19.0 0.2 20.9 0.2 22.2 0.3 21.5 0.3 19.9 0.2 17.7 0.2 15.7 0.3 12.9 0.3 10.1 0.2 8.4 0.2 6.8 0.3 5.2 0.3 3.4 0.2 3.3 0.2 2.6 0.3 1.7 0.3 1.1 0.2 1.2 0.2 1.2 0.3 0.7 0.3 0.8 0.2 0.5 0.2 0.4 0.3 0.3 0.3 0.1 0.2 0.3 0.2 0.2 0.3 0.4 0.3 0.2 0.2 0.4 0.2 0.0 0.3 0.2 0.3 0.1 0.2 0.0 0.2 -0.1 0.3 0.2 0.3 0.5 0.2 0.0 0.2 0.0 0.3 0.2 0.3 0.1 0.2 0.0 0.2 -0.2 0.3 0.0 0.3 0.2 0.2 0.2 0.2 0.2 0.3 -0.1 0.3 0.7 0.2 0.2 0.2 -0.1 0.3 -0.2 0.3 0.1 0.2 0.0 0.2 -0.2 0.3 0.4 0.3 0.1 0.2 0.5 0.2 0.2 0.3 -0.2 0.3 0.0 0.2 -0.3 0.2 0.0 0.3 -0.2 0.3 0.1 0.2 0.5 0.2 0.1 0.3 0.3 0.3 0.0 0.2 0.1 0.2 0.1 0.3 -0.3 0.3 0.1 0.2 0.0 0.2 0.0 0.3 -0.1 0.3 0.0 0.2 0.0 0.2 -0.1 0.3 0.2 0.3 0.5 0.2 0.2 0.2 -0.1 0.3 0.0 0.3 0.2 0.2 -0.5 0.2 -0.4 0.3 -0.5 0.3 0.4 0.2 0.2 0.2 -0.1 0.3 0.3 0.3 -0.1 0.2 0.2 0.2 -0.1 0.3 -0.2 0.3 0.1 0.2 -0.2 0.2 0.0 0.3 0.3 0.3 -0.2 0.2 0.1 0.2 -0.2 0.3 -0.1 0.3 0.1 0.2 -0.4 0.2 0.3 0.3 -0.2 0.3 -0.2 0.2 0.3 0.2 0.0 0.3 0.3 0.3 -0.4 0.2 0.4 0.2 0.0 0.3 0.0 0.3 -0.1 0.2 -0.1 0.2 0.3 0.3 -0.2 0.3 0.3 0.2 0.3 0.2 -0.1 0.3 -0.2 0.3 -0.2 0.2 0.0 0.2 0.0 0.3 -0.4 0.3 0.3 0.2 0.2 0.2 0.0 0.3 0.0 0.3 -0.1 0.2 0.2 0.2 0.0 0.3 -0.1 0.3 0.0 0.2 0.0 0.2 0.2 0.3 -0.2 0.3 -0.2 0.2 0.0 0.2 -0.3 0.3 0.0 0.3 -0.4 0.2 0.3 0.2 0.0 0.3 -0.1 0.3 0.2 0.2 -0.1 0.2 0.2 0.3 0.1 0.3 0.1 0.2 -0.1 0.2 0.1 0.3 0.2 0.3 0.3 0.2 -0.1 0.2 -0.1 0.3 0.4 0.3 0.1 0.2 0.0 0.2 0.0 0.3 -0.6 0.3 -0.1 0.2 0.1 0.2 -0.5 0.3 0.2 0.3 -0.1 0.2 0.5 0.2 0.4 0.3 -0.6 0.3 0.3 0.2 0.3 0.2 -0.1 0.3 -0.1 0.3 0.0 0.2 0.4 0.2 0.1 0.3 -0.6 0.3 0.1 0.2 0.1 0.2 -0.2 0.3 -0.1 0.3 0.3 0.2 0.3 0.2 -0.2 0.3 -0.1 0.3 0.3 0.2 -0.3 0.2 -0.5 0.3 0.0 0.3 0.1 0.2 -0.3 0.2 0.2 0.3 0.1 0.3 0.0 0.2 0.0 0.2 0.2 0.3 0.0 0.3 -0.1 0.2 0.2 0.2 0.2 0.3 -0.1 0.3 0.0 0.2 0.1 0.2 -0.2 0.3 -0.2 0.3 -0.2 0.2 0.3 0.2 -0.1 0.3 0.2 0.3 0.0 0.2 -0.1 0.2 0.1 0.3 0.0 0.3 0.0 0.2 -0.2 0.2 -0.3 0.3 0.4 0.3 0.0 0.2 0.1 0.2 -0.2 0.3 0.2 0.3 0.1 0.2 -0.1 0.2 -0.6 0.3 0.0 0.3 0.1 0.2 0.3 0.2 -0.1 0.3 0.0 0.3 0.1 0.2 0.1 0.2 -0.1 0.3 -0.2 0.3 0.3 0.2 0.1 0.2 0.1 0.3 0.0 0.3 -0.1 0.2 0.3 0.2 0.1 0.3 -0.4 0.3 0.3 0.2 -0.3 0.2 0.2 0.3 -0.1 0.3 -0.1 0.2 0.1 0.2 -0.3 0.3 0.1 0.3 0.0 0.2 0.3 0.2 -0.3 0.3 0.1 0.3 0.2 0.2 0.0 0.2 0.2 0.3 -0.2 0.3 0.3 0.2 0.1 0.2 0.0 0.3 0.1 0.3 -0.2 0.2 0.0 0.2 -0.1 0.3 0.3 0.3 0.2 0.2 -0.1 0.2 0.0 0.3 0.1 0.3 0.1 0.2 -0.5 0.2 -0.2 0.3 -0.1 0.3 -0.3 0.2 -0.1 0.2 0.2 0.3 0.1 0.3 0.1 0.2 -0.2 0.2 0.0 0.3 0.0 0.3 -0.3 0.2 -0.2 0.2 0.0 0.3 0.3 0.3 0.1 0.2 0.0 0.2 0.2 0.3 0.3 0.3 -0.3 0.2 0.1 0.2 0.1 0.3 -0.1 0.3 -0.2 0.2 -0.1 0.2 0.4 0.3 0.1 0.3 0.0 0.2 0.0 0.2 0.1 0.3 0.3 0.3 0.0 0.2 0.1 0.2 -0.2 0.3 0.0 0.3 0.3 0.2 -0.2 0.2 -0.1 0.3 -0.2 0.3 0.1 0.2 0.1 0.2 -0.5 0.3 -0.4 0.3 0.1 0.2 -0.1 0.2 0.0 0.3 -0.2 0.3 0.4 0.2 0.6 0.2 0.1 0.3 0.1 0.3 -0.1 0.2 -0.1 0.2 -0.2 0.3 -0.5 0.3 -0.1 0.2 0.0 0.2 0.3 0.3 0.0 0.3 0.0 0.2 0.1 0.2 -0.1 0.3 -0.4 0.3 -0.1 0.2 0.2 0.2 0.0 0.3 0.1 0.3 -0.1 0.2 0.4 0.2 -0.1 0.3 -0.1 0.3 0.0 0.2 -0.1 0.2 0.5 0.3 -0.3 0.3 0.1 0.2 0.3 0.2 -0.1 0.3 0.0 0.3 -0.2 0.2 -0.1 0.2 0.1 0.3 -0.1 0.3 -0.1 0.2 0.0 0.2 -0.1 0.3 0.0 0.3 0.3 0.2 0.0 0.2 0.2 0.3 -0.1 0.3 0.0 0.2 -0.2 0.2 -0.3 0.3 0.0 0.3 -0.1 0.2 0.5 0.2 0.2 0.3 0.0 0.3 0.5 0.2 0.2 0.2 -0.1 0.3 0.1 0.3 -0.1 0.2 0.0 0.2 -0.2 0.3 0.1 0.3 0.2 0.2 -0.2 0.2 0.0 0.3 0.1 0.3 -0.3 0.2 -0.2 0.2 -0.3 0.3 0.0 0.3 0.2 0.2 -0.1 0.2 -0.1 0.3 0.2 0.3 -0.2 0.2 -0.1 0.2 0.2 0.3 0.1 0.3 0.0 0.2 0.2 0.2 0.4 0.3 0.1 0.3 -0.3 0.2 0.2 0.2 -0.1 0.3 0.2 0.3 0.1 0.2 0.1 0.2 -0.1 0.3 -0.1 0.3 -0.1 0.2 -0.1 0.2 -0.3 0.3 0.0 0.3 0.0 0.2 -0.2 0.2 -0.1 0.3 0.1 0.3 0.0 0.2 -0.2 0.2 -0.2 0.3 0.1 0.3 0.0 0.2 -0.1 0.2 0.5 0.3 0.2 0.3 0.0 0.2 0.3 0.2 0.3 0.3 -0.3 0.3 -0.2 0.2 -0.1 0.2 -0.1 0.3 -0.3 0.3 -0.3 0.2 -0.1 0.2 -0.2 0.3 -0.1 0.3 0.1 0.2 0.2 0.2 -0.1 0.3 0.1 0.3 0.1 0.2 -0.2 0.2 -0.2 0.3 -0.3 0.3 -0.3 0.2 0.2 0.2 -0.2 0.3 0.1 0.3 0.5 0.2 0.3 0.2 0.5 0.3 0.2 0.3 0.4 0.2 0.4 0.2 0.1 0.3 -0.2 0.3 -0.3 0.2 -0.3 0.2 -0.3 0.3 -0.5 0.3 0.2 0.2 0.1 0.2 0.0 0.3 0.0 0.3 0.3 0.2 0.2 0.2 -0.3 0.3 -0.1 0.3 -0.2 0.2 0.1 0.2 0.0 0.3 0.4 0.3 0.3 0.2 0.3 0.2 0.5 0.3 0.2 0.3 -0.3 0.2 -0.3 0.2 -0.5 0.3 -0.4 0.3 0.3 0.2 -0.1 0.2 0.3 0.3 -0.3 0.3 0.1 0.2 0.2 0.2 -0.2 0.3 0.2 0.3 0.0 0.2 -0.1 0.2 0.2 0.3 0.3 0.3 0.1 0.2 -0.5 0.2 -0.2 0.3 0.1 0.3 0.0 0.2 -0.3 0.2 0.2 0.3 -0.1 0.3 0.2 0.2 -0.2 0.2 -0.3 0.3 0.2 0.3 -0.1 0.2 0.0 0.2 -0.4 0.3 0.3 0.3 0.0 0.2 0.1 0.2 0.3 0.3 0.2 0.3 0.3 0.2 -0.2 0.2 0.2 0.3 0.0 0.3 -0.3 0.2 -0.1 0.2 0.1 0.3 0.2 0.3 -0.6 0.2 -0.3 0.2 0.0 0.3 0.0 0.3 -0.4 0.2 0.0 0.2 0.2 0.3 0.0 0.3 -0.1 0.2 -0.3 0.2 0.3 0.3 -0.3 0.3 0.0 0.2 0.1 0.2 0.0 0.3 0.3 0.3 0.0 0.2 0.7 0.2 0.2 0.3 -0.2 0.3 0.0 0.2 -0.1 0.2 0.1 0.3 -0.5 0.3 -0.1 0.2 0.3 0.2 0.2 0.3 0.0 0.3 0.1 0.2 0.1 0.2 0.4 0.3 -0.1 0.3 0.1 0.2 -0.4 0.2 0.1 0.3 0.1 0.3 0.2 0.2 -0.1 0.2 -0.3 0.3 0.4 0.3 -0.2 0.2 -0.5 0.2 -0.4 0.3 0.1 0.3 0.4 0.2 0.0 0.2 -0.2 0.3 0.6 0.3 -0.2 0.2 -0.1 0.2 -0.4 0.3 0.1 0.3 0.3 0.2 -0.2 0.2 0.1 0.3 0.2 0.3 0.2 0.2 -0.5 0.2 -0.1 0.3 -0.2 0.3 0.0 0.2 -0.1 0.2 0.1 0.3 0.4 0.3 -0.1 0.2 -0.1 0.2 -0.1 0.3 -0.2 0.3 -0.1 0.2 0.0 0.2 -0.1 0.3 0.1 0.3 0.3 0.2 0.3 0.2 0.2 0.3 0.1 0.3 0.2 0.2 0.0 0.2 0.1 0.3 -0.3 0.3 0.0 0.2 -0.5 0.2 0.1 0.3 -0.1 0.3 0.1 0.2 0.3 0.2 -0.4 0.3 0.4 0.3 -0.1 0.2 0.2 0.2 -0.2 0.3 0.1 0.3 0.2 0.2 0.0 0.2 -0.1 0.3 0.0 0.3 0.0 0.2 0.3 0.2 -0.1 0.3 -0.1 0.3 0.4 0.2 0.0 0.2 0.0 0.3 -0.3 0.3 -0.3 0.2 0.2 0.2 -0.1 0.3 0.1 0.3 -0.2 0.2 0.0 0.2 0.5 0.3 -0.1 0.3 -0.2 0.2 0.1 0.2 -0.1 0.3 -0.5 0.3 -0.2 0.2 0.0 0.2 0.1 0.3 -0.2 0.3 0.3 0.2 0.3 0.2 -0.1 0.3 0.0 0.3 0.1 0.2 0.2 0.2 0.1 0.3 0.0 0.3 -0.3 0.2 0.0 0.2 -0.2 0.3 -0.1 0.3 -0.5 0.2 0.1 0.2 0.5 0.3 -0.1 0.3 -0.1 0.2 -0.1 0.2 0.2 0.3 -0.1 0.3 -0.2 0.2 -0.2 0.2 -0.1 0.3 -0.1 0.3 -0.1 0.2 0.1 0.2 -0.1 0.3 0.5 0.3 0.2 0.2 -0.1 0.2 0.3 0.3 0.0 0.3 0.2 0.2 -0.4 0.2 -0.1 0.3 0.4 0.3 -0.2 0.2 -0.1 0.2 -0.2 0.3 0.2 0.3 0.1 0.2 -0.4 0.2 0.4 0.3 -0.1 0.3 0.1 0.2 0.2 0.2 -0.1 0.3 0.3 0.3 -0.2 0.2 0.0 0.2 0.3 0.3 -0.1 0.3 0.3 0.2 0.2 0.2 0.1 0.3 0.2 0.3 0.0 0.2 -0.1 0.2 0.2 0.3 -0.1 0.3 -0.2 0.2 -0.3 0.2 -0.1 0.3 -0.5 0.3 0.0 0.2 -0.2 0.2 0.3 0.3 -0.2 0.3 0.3 0.2 0.1 0.2 -0.1 0.3 0.1 0.3 -0.2 0.2 0.0 0.2 0.2 0.3 0.1 0.3 0.3 0.2 0.1 0.2 0.0 0.3 -0.2 0.3 -0.2 0.2 0.1 0.2 -0.5 0.3 0.2 0.3 0.1 0.2 0.2 0.2 -0.2 0.3 0.0 0.3 -0.3 0.2 -0.1 0.2 -0.3 0.3 0.0 0.3 -0.2 0.2 0.0 0.2 0.0 0.3 0.1 0.3 0.1 0.2 0.1 0.2 0.3 0.3 0.1 0.3 0.1 0.2 0.3 0.2 0.0 0.3 0.2 0.3 -0.5 0.2 -0.2 0.2 -0.1 0.3 0.2 0.3 -0.2 0.2 -0.2 0.2 0.5 0.3 -0.1 0.3 -0.3 0.2 -0.3 0.2 0.1 0.3 0.1 0.3 0.0 0.2 0.3 0.2 0.2 0.3 -0.2 0.3 0.1 0.2 -0.1 0.2 0.0 0.3 -0.2 0.3 0.0 0.2 0.3 0.2 -0.2 0.3 0.2 0.3 0.1 0.2 -0.3 0.2 0.3 0.3 -0.1 0.3 -0.1 0.2 -0.4 0.2 -0.6 0.3 0.5 0.3 -0.3 0.2 -0.4 0.2 0.3 0.3 0.3 0.3 0.2 0.2 -0.3 0.2 0.3 0.3 0.0 0.3 0.2 0.2 -0.2 0.2 -0.3 0.3 0.1 0.3 0.0 0.2 -0.1 0.2 -0.2 0.3 -0.3 0.3 0.0 0.2 0.1 0.2 -0.3 0.3 0.3 0.3 0.0 0.2 0.6 0.2 0.2 0.3 -0.4 0.3 0.0 0.2 -0.3 0.2 0.0 0.3 -0.3 0.3 0.2 0.2 0.3 0.2 0.2 0.3 0.3 0.3 -0.1 0.2 0.2 0.2 -0.1 0.3 0.2 0.3 -0.2 0.2 -0.3 0.2 -0.2 0.3 -0.3 0.3 -0.3 0.2 -0.1 0.2 0.0 0.3 0.2 0.3 -0.1 0.2 0.3 0.2 0.4 0.3 0.1 0.3 0.2 0.2 0.3 0.2 -0.2 0.3 0.0 0.3 -0.4 0.2 0.0 0.2 -0.3 0.3 -0.2 0.3 0.0 0.2 -0.4 0.2 0.2 0.3 0.0 0.3 0.0 0.2 0.2 0.2 -0.1 0.3 0.0 0.3 -0.3 0.2 -0.1 0.2 0.1 0.3 -0.3 0.3 0.1 0.2 -0.1 0.2 -0.2 0.3 0.0 0.3 0.0 0.2 -0.2 0.2 -0.2 0.3 0.0 0.3 0.2 0.2 -0.2 0.2 0.0 0.3 0.0 0.3 0.2 0.2 -0.2 0.2 -0.5 0.3 0.0 0.3 -0.5 0.2 -0.2 0.2 -0.2 0.3 0.2 0.3 0.2 0.2 0.0 0.2 0.1 0.3 0.0 0.3 -0.2 0.2 0.0 0.2 0.2 0.3 0.0 0.3 0.0 0.2 0.2 0.2 0.1 0.3 -0.4 0.3 -0.1 0.2 -0.4 0.2 -0.8 0.3 0.0 0.3 -0.6 0.2 -0.4 0.2 -0.4 0.3 -0.3 0.3 -0.4 0.2 -0.9 0.2 -0.4 0.3 -0.8 0.3 -0.9 0.2 -1.0 0.2 -0.9 0.3 -1.3 0.3 -1.8 0.2 -1.9 0.2 -3.0 0.3 -4.0 0.3 -5.3 0.2 -7.3 0.2 -9.4 0.3 -12.3 0.3 -15.3 0.2 -18.5 0.2 -21.5 0.3 -24.5 0.3 -26.5 0.2 -27.0 0.2 -26.2 0.3 -22.7 0.3 -16.7 0.2 -8.9 0.2 -1.1 0.3 5.3 0.3 10.3 0.2 12.0 0.2 12.6 0.3 13.3 0.3 13.4 0.2 14.6 0.2 16.3 0.3 17.6 0.3 19.1 0.2 17.9 0.2 17.4 0.3 16.1 0.3 14.1 0.2 12.8 0.2 9.8 0.3 8.5 0.3 6.9 0.2 5.3 0.2 4.4 0.3 2.7 0.3 2.9 0.2 1.8 0.2 1.3 0.3 1.2 0.3 0.5 0.2 0.7 0.2 0.3 0.3 0.5 0.3 0.5 0.2 0.4 0.2 0.1 0.3 0.5 0.3 0.1 0.2 0.5 0.2 0.8 0.3 0.5 0.3 0.3 0.2 0.0 0.2 0.6 0.3 -0.2 0.3 -0.1 0.2 -0.1 0.2 0.2 0.3 0.1 0.3 0.1 0.2 -0.4 0.2 0.0 0.3 0.2 0.3 -0.2 0.2 0.2 0.2 0.2 0.3 0.3 0.3 0.4 0.2 -0.5 0.2 0.3 0.3 0.2 0.3 -0.4 0.2 0.0 0.2 -0.1 0.3 0.1 0.3 0.0 0.2 0.0 0.2 0.4 0.3 0.4 0.3 -0.2 0.2 0.1 0.2 0.3 0.3 0.0 0.3 -0.2 0.2 0.1 0.2 0.3 0.3 -0.2 0.3 0.3 0.2 -0.2 0.2 0.5 0.3 0.0 0.3 0.2 0.2 0.4 0.2 -0.5 0.3 0.3 0.3 -0.3 0.2 0.2 0.2 0.1 0.3 0.1 0.3 0.4 0.2 0.0 0.2 0.0 0.3 -0.2 0.3 -0.3 0.2 0.4 0.2 0.1 0.3 -0.3 0.3 -0.2 0.2 0.1 0.2 0.0 0.3 -0.1 0.3 -0.3 0.2 0.1 0.2 0.2 0.3 -0.1 0.3 0.4 0.2 0.2 0.2 0.0 0.3 0.3 0.3 0.2 0.2 0.0 0.2 -0.2 0.3 -0.1 0.3 0.1 0.2 0.0 0.2 -0.3 0.3 0.1 0.3 -0.1 0.2 -0.2 0.2 0.1 0.3 0.0 0.3 -0.1 0.2 0.0 0.2 -0.1 0.3 -0.2 0.3 0.0 0.2 0.3 0.2 0.2 0.3 -0.2 0.3 0.4 0.2 -0.2 0.2 -0.2 0.3 -0.2 0.3 0.0 0.2 -0.1 0.2 -0.3 0.3 0.6 0.3 0.1 0.2 -0.2 0.2 -0.2 0.3 -0.1 0.3 0.0 0.2 -0.1 0.2 -0.3 0.3 0.0 0.3 -0.3 0.2 0.2 0.2 0.2 0.3 0.0 0.3 0.1 0.2 0.2 0.2 0.0 0.3 -0.1 0.3 -0.2 0.2 -0.3 0.2 0.2 0.3 0.3 0.3 -0.2 0.2 0.0 0.2 0.3 0.3 0.3 0.3 -0.1 0.2 -0.4 0.2 0.0 0.3 0.1 0.3 0.1 0.2 0.2 0.2 0.0 0.3 0.0 0.3 0.3 0.2 0.4 0.2 -0.2 0.3 -0.2 0.3 0.1 0.2 0.1 0.2 0.0 0.3 -0.4 0.3 -0.1 0.2 0.2 0.2 0.2 0.3 0.0 0.3 0.0 0.2 0.1 0.2 -0.3 0.3 -0.2 0.3 -0.3 0.2 0.0 0.2 0.3 0.3 -0.1 0.3 0.1 0.2 0.0 0.2 0.1 0.3 0.1 0.3 -0.3 0.2 0.4 0.2 -0.1 0.3 0.0 0.3 0.0 0.2 0.0 0.2 0.4 0.3 0.0 0.3 0.0 0.2 -0.1 0.2 -0.3 0.3 0.0 0.3 -0.3 0.2 -0.1 0.2 -0.1 0.3 -0.3 0.3 -0.2 0.2 -0.1 0.2 0.1 0.3 -0.1 0.3 0.0 0.2 0.3 0.2 0.0 0.3 -0.2 0.3 -0.5 0.2 0.2 0.2 -0.1 0.3 -0.2 0.3 -0.2 0.2 -0.2 0.2 0.2 0.3 -0.4 0.3 -0.3 0.2 -0.1 0.2 -0.1 0.3 -0.3 0.3 -0.4 0.2 -0.2 0.2 -0.3 0.3 -0.4 0.3 -0.2 0.2 -0.2 0.2 -0.5 0.3 -0.4 0.3 -0.8 0.2 -0.9 0.2 -0.8 0.3 -1.0 0.3 -1.5 0.2 -2.4 0.2 -2.7 0.3 -3.8 0.3 -5.4 0.2 -6.7 0.2 -8.3 0.3 -9.7 0.3 -11.8 0.2 -12.7 0.2 -13.4 0.3 -13.5 0.3 -12.2 0.2 -9.8 0.2 -6.4 0.3 -2.2 0.3 1.6 0.2 4.2 0.2 5.8 0.3 6.1 0.3 6.2 0.2 6.0 0.2 6.0 0.3 6.0 0.3 6.5 0.2 7.9 0.2 8.5 0.3 8.7 0.3 8.2 0.2 8.3 0.2 7.4 0.3 6.0 0.3 5.4 0.2 4.4 0.2 3.7 0.3 2.5 0.3 2.2 0.2 1.6 0.2 1.4 0.3 0.9 0.3 0.7 0.2 0.6 0.2 0.5 0.3 0.2 0.3 0.2 0.2 0.7 0.2 0.3 0.3 0.6 0.3 -0.2 0.2 0.3 0.2 -0.3 0.3 -0.1 0.3 0.1 0.2 -0.1 0.2 0.5 0.3 0.4 0.3 0.3 0.2 0.0 0.2 -0.3 0.3 0.1 0.3 0.1 0.2 0.0 0.2 0.2 0.3 0.0 0.3 0.3 0.2 0.1 0.2 -0.3 0.3 -0.1 0.3 -0.1 0.2 0.2 0.2 -0.1 0.3 0.1 0.3 0.2 0.2 0.0 0.2 0.2 0.3 -0.1 0.3 0.0 0.2 -0.2 0.2 0.0 0.3 0.3 0.3 0.1 0.2 -0.1 0.2 -0.1 0.3 0.1 0.3 -0.1 0.2 -0.2 0.2 -0.1 0.3 0.0 0.3 0.4 0.2 0.1 0.2 0.1 0.3 -0.1 0.3 0.0 0.2 0.1 0.2 0.0 0.3 -0.3 0.3 -0.2 0.2 0.4 0.2 0.1 0.3 0.0 0.3 0.1 0.2 -0.1 0.2 -0.1 0.3 0.0 0.3 -0.2 0.2 -0.1 0.2 -0.1 0.3 0.3 0.3 0.4 0.2 0.2 0.2 0.6 0.3 0.0 0.3 0.3 0.2 -0.3 0.2 0.0 0.3 -0.3 0.3 -0.2 0.2 0.3 0.2 0.1 0.3 0.1 0.3 0.3 0.2 0.5 0.2 0.0 0.3 0.0 0.3 -0.3 0.2 0.1 0.2 -0.3 0.3 -0.3 0.3 0.4 0.2 0.0 0.2 0.1 0.3 0.1 0.3 0.1 0.2 0.0 0.2 -0.1 0.3 0.0 0.3 0.0 0.2 -0.2 0.2 -0.1 0.3 0.2 0.3 -0.2 0.2 -0.3 0.2 0.1 0.3 0.2 0.3 -0.5 0.2 -0.3 0.2 0.0 0.3 0.2 0.3 0.0 0.2 0.1 0.2 0.4 0.3 -0.3 0.3 -0.4 0.2 0.1 0.2 -0.2 0.3 -0.3 0.3 -0.1 0.2 0.3 0.2 -0.1 0.3 -0.2 0.3 -0.2 0.2 0.2 0.2 -0.2 0.3 -0.5 0.3 0.1 0.2 0.0 0.2 0.3 0.3 -0.1 0.3 0.2 0.2 0.5 0.2 -0.1 0.3 0.5 0.3 0.0 0.2 0.0 0.2 0.1 0.3 0.0 0.3 0.2 0.2 -0.2 0.2 -0.3 0.3 0.0 0.3 -0.1 0.2 0.1 0.2 0.0 0.3 0.0 0.3 0.2 0.2 0.2 0.2 -0.1 0.3 0.0 0.3 0.3 0.2 -0.1 0.2 0.2 0.3 -0.1 0.3 0.2 0.2 0.0 0.2 -0.2 0.3 -0.3 0.3 0.0 0.2 0.0 0.2 0.5 0.3 -0.3 0.3 0.3 0.2 -0.1 0.2 -0.1 0.3 0.1 0.3 -0.2 0.2 0.1 0.2 0.0 0.3 0.2 0.3 0.2 0.2 0.0 0.2 0.0 0.3 -0.1 0.3 0.1 0.2 0.3 0.2 -0.6 0.3 -0.1 0.3 -0.5 0.2 0.1 0.2 0.0 0.3 0.2 0.3 0.2 0.2 0.3 0.2 0.5 0.3 0.1 0.3 0.1 0.2 -0.3 0.2 -0.1 0.3 -0.2 0.3 0.0 0.2 -0.2 0.2 -0.2 0.3 -0.1 0.3 -0.1 0.2 -0.2 0.2 -0.1 0.3 0.2 0.3 0.1 0.2 0.1 0.2 0.1 0.3 0.1 0.3 -0.1 0.2 -0.1 0.2 -0.1 0.3 -0.3 0.3 -0.1 0.2 -0.2 0.2 0.1 0.3 0.2 0.3 -0.3 0.2 0.1 0.2 -0.3 0.3 0.0 0.3 0.4 0.2 -0.7 0.2 -0.2 0.3 -0.1 0.3 0.0 0.2 -0.3 0.2 -1.1 0.3 0.4 0.3 -0.4 0.2 -0.1 0.2 -0.3 0.3 -0.2 0.3 0.2 0.2 -0.1 0.2 0.4 0.3 0.1 0.3 0.5 0.2 0.3 0.2 0.2 0.3 0.2 0.3 0.2 0.2 0.1 0.2 0.2 0.3 0.3 0.3 0.0 0.2 0.0 0.2 0.2 0.3 0.0 0.3 0.2 0.2 0.0 0.2 0.2 0.3 -0.3 0.3 0.2 0.2 0.1 0.2 -0.5 0.3 0.0 0.3 0.0 0.2 0.4 0.2 -0.5 0.3 0.0 0.3 0.3 0.2 -0.2 0.2 -0.2 0.3 0.0 0.3 0.7 0.2 0.2 0.2 0.0 0.3 0.2 0.3 -0.2 0.2 0.2 0.2 -0.2 0.3 -0.3 0.3 -0.2 0.2 0.2 0.2 0.0 0.3 -0.3 0.3 -0.1 0.2 0.3 0.2 -0.2 0.3 -0.1 0.3 0.0 0.2 -0.1 0.2 -0.1 0.3 -0.2 0.3 0.2 0.2 0.1 0.2 -0.1 0.3 0.2 0.3 0.2 0.2 0.3 0.2 -0.3 0.3 0.2 0.3 0.2 0.2 -0.1 0.2 -0.4 0.3 -0.5 0.3 0.3 0.2 0.0 0.2 0.1 0.3 -0.2 0.3 0.0 0.2 0.2 0.2 0.0 0.3 -0.3 0.3 0.0 0.2 0.1 0.2 0.0 0.3 0.0 0.3 -0.1 0.2 -0.1 0.2 -0.1 0.3 0.1 0.3 0.2 0.2 0.0 0.2 -0.1 0.3 0.1 0.3 0.2 0.2 -0.1 0.2 -0.1 0.3 -0.1 0.3 0.5 0.2 -0.1 0.2 0.2 0.3 0.2 0.3 0.0 0.2 0.2 0.2 -0.1 0.3 0.1 0.3 -0.2 0.2 -0.4 0.2 0.0 0.3 0.1 0.3 0.1 0.2 0.0 0.2 0.0 0.3 0.4 0.3 0.0 0.2 -0.1 0.2 -0.2 0.3 0.0 0.3 0.1 0.2 -0.4 0.2 0.1 0.3 -0.4 0.3 -0.1 0.2 -0.3 0.2 -0.4 0.3 -0.1 0.3 -0.4 0.2 -0.1 0.2 -0.4 0.3 -0.4 0.3 0.2 0.2 0.0 0.2 -0.2 0.3 -0.3 0.3 0.1 0.2 0.2 0.2 -0.2 0.3 0.4 0.3 0.1 0.2 0.5 0.2 0.1 0.3 0.1 0.3 0.3 0.2 -0.1 0.2 0.1 0.3 0.0 0.3 0.3 0.2 0.2 0.2 0.4 0.3 0.0 0.3 0.0 0.2 0.2 0.2 0.1 0.3 -0.1 0.3 -0.1 0.2 -0.2 0.2 0.4 0.3 -0.1 0.3 -0.3 0.2 0.0 0.2 -0.1 0.3 0.3 0.3 0.1 0.2 0.0 0.2 0.0 0.3 0.2 0.3 -0.1 0.2 -0.3 0.2 -0.1 0.3 -0.3 0.3 -0.2 0.2 0.0 0.2 -0.3 0.3 0.2 0.3 0.0 0.2 0.3 0.2 -0.1 0.3 0.0 0.3 0.4 0.2 -0.3 0.2 0.1 0.3 -0.3 0.3 0.1 0.2 0.0 0.2 -0.3 0.3 0.1 0.3 0.1 0.2 0.6 0.2 0.1 0.3 0.1 0.3 0.2 0.2 0.3 0.2 0.2 0.3 -0.3 0.3 0.2 0.2 -0.1 0.2 0.0 0.3 -0.3 0.3 -0.4 0.2 -0.4 0.2 0.1 0.3 0.1 0.3 0.1 0.2 -0.4 0.2 -0.1 0.3 0.3 0.3 0.0 0.2 0.1 0.2 -0.4 0.3 0.5 0.3 -0.1 0.2 -0.3 0.2 0.1 0.3 0.2 0.3 0.0 0.2 -0.2 0.2 0.0 0.3 0.1 0.3 0.2 0.2 -0.7 0.2 -0.3 0.3 0.3 0.3 0.1 0.2 0.0 0.2 -0.2 0.3 -0.1 0.3 0.1 0.2 0.0 0.2 0.1 0.3 0.1 0.3 -0.4 0.2 0.1 0.2 0.2 0.3 0.2 0.3 0.2 0.2 0.0 0.2 0.1 0.3 -0.1 0.3 -0.3 0.2 -0.3 0.2 -0.6 0.3 -0.2 0.3 -0.4 0.2 0.0 0.2 0.0 0.3 -0.1 0.3 0.0 0.2 0.0 0.2 0.1 0.3 0.0 0.3 -0.1 0.2 -0.2 0.2 -0.1 0.3 -0.2 0.3 -0.6 0.2 -0.1 0.2 -0.1 0.3 0.0 0.3 -0.3 0.2 -0.5 0.2 -0.2 0.3 -0.5 0.3 -0.5 0.2 -0.5 0.2 -0.4 0.3 -0.2 0.3 -0.6 0.2 -0.4 0.2 -0.4 0.3 -0.8 0.3 -0.7 0.2 -1.1 0.2 -1.1 0.3 -1.4 0.3 -1.6 0.2 -1.1 0.2 -2.0 0.3 -2.2 0.3 -3.0 0.2 -3.9 0.2 -5.3 0.3 -7.4 0.3 -9.9 0.2 -12.2 0.2 -15.6 0.3 -19.7 0.3 -23.4 0.2 -26.9 0.2 -30.1 0.3 -33.0 0.3 -33.5 0.2 -31.2 0.2 -27.2 0.3 -19.3 0.3 -10.4 0.2 1.0 0.2 9.1 0.3 14.2 0.3 17.0 0.2 16.8 0.2 15.8 0.3 12.6 0.3 10.7 0.2 9.9 0.2 10.3 0.3 12.4 0.3 15.2 0.2 17.6 0.2 19.4 0.3 20.2 0.3 19.4 0.2 18.3 0.2 16.3 0.3 13.9 0.3 11.5 0.2 9.4 0.2 7.5 0.3 5.9 0.3 4.2 0.2 3.6 0.2 2.8 0.3 2.3 0.3 1.9 0.2 1.3 0.2 1.4 0.3 1.2 0.3 0.9 0.2 0.7 0.2 0.5 0.3 0.5 0.3 0.3 0.2 0.5 0.2 0.5 0.3 -0.1 0.3 0.7 0.2 0.0 0.2 0.5 0.3 0.2 0.3 0.0 0.2 0.1 0.2 0.0 0.3 0.3 0.3 0.0 0.2 0.1 0.2 0.3 0.3 0.3 0.3 0.2 0.2 -0.2 0.2 0.3 0.3 -0.2 0.3 -0.1 0.2 0.0 0.2 0.0 0.3 0.5 0.3 0.0 0.2 0.3 0.2 0.6 0.3 0.3 0.3 0.5 0.2 0.0 0.2 0.0 0.3 0.1 0.3 -0.1 0.2 0.1 0.2 -0.3 0.3 -0.2 0.3 0.4 0.2 -0.2 0.2 -0.3 0.3 0.0 0.3 0.2 0.2 0.1 0.2 0.1 0.3 -0.1 0.3 0.0 0.2 0.0 0.2 0.0 0.3 0.2 0.3 0.1 0.2 -0.3 0.2 0.4 0.3 0.2 0.3 0.2 0.2 0.0 0.2 -0.2 0.3 0.2 0.3 -0.2 0.2 0.0 0.2 -0.4 0.3 0.0 0.3 0.2 0.2 0.0 0.2 -0.1 0.3 -0.1 0.3 0.4 0.2 -0.4 0.2 -0.2 0.3 0.1 0.3 0.5 0.2 0.1 0.2 -0.1 0.3 0.3 0.3 0.0 0.2 0.1 0.2 0.0 0.3 0.0 0.3 0.1 0.2 -0.2 0.2 0.3 0.3 -0.1 0.3 0.0 0.2 0.0 0.2 0.0 0.3 0.5 0.3 -0.4 0.2 0.1 0.2 0.0 0.3 -0.1 0.3 -0.5 0.2 -0.2 0.2 0.0 0.3 0.0 0.3 0.1 0.2 -0.3 0.2 0.5 0.3 0.2 0.3 0.3 0.2 -0.1 0.2 -0.2 0.3 0.4 0.3 -0.4 0.2 -0.2 0.2 -0.4 0.3 0.0 0.3 0.2 0.2 -0.1 0.2 0.4 0.3 0.1 0.3 -0.1 0.2 0.3 0.2 -0.2 0.3 0.1 0.3 -0.4 0.2 -0.2 0.2 0.4 0.3 -0.2 0.3 -0.1 0.2 0.0 0.2 0.2 0.3 0.3 0.3 -0.3 0.2 -0.2 0.2 0.2 0.3 -0.1 0.3 0.0 0.2 -0.1 0.2 0.3 0.3 0.2 0.3 -0.2 0.2 0.1 0.2 0.0 0.3 -0.1 0.3 0.2 0.2 0.3 0.2 0.0 0.3 0.1 0.3 0.2 0.2 -0.4 0.2 -0.2 0.3 -0.2 0.3 0.0 0.2 0.0 0.2 0.0 0.3 0.0 0.3 0.0 0.2 -0.1 0.2 0.3 0.3 -0.1 0.3 0.0 0.2 0.3 0.2 0.2 0.3 0.1 0.3 -0.2 0.2 0.1 0.2 0.0 0.3 -0.1 0.3 0.0 0.2 0.2 0.2 0.0 0.3 0.2 0.3 -0.2 0.2 -0.1 0.2 0.2 0.3 -0.3 0.3 0.2 0.2 -0.2 0.2 0.0 0.3 0.4 0.3 -0.3 0.2 0.1 0.2 -0.1 0.3 0.0 0.3 -0.3 0.2 -0.3 0.2 -0.2 0.3 0.3 0.3 -0.3 0.2 0.0 0.2 0.4 0.3 0.1 0.3 -0.2 0.2 0.1 0.2 0.0 0.3 0.0 0.3 0.2 0.2 -0.3 0.2 0.2 0.3 -0.1 0.3 0.0 0.2 -0.1 0.2 -0.3 0.3 0.1 0.3 0.0 0.2 0.1 0.2 -0.2 0.3 0.0 0.3 0.2 0.2 0.2 0.2 0.2 0.3 -0.2 0.3 0.1 0.2 -0.1 0.2 -0.2 0.3 0.1 0.3 0.3 0.2 -0.2 0.2 0.0 0.3 0.4 0.3 0.4 0.2 0.1 0.2 0.0 0.3 0.0 0.3 0.2 0.2 -0.1 0.2 -0.3 0.3 0.0 0.3 -0.2 0.2 0.2 0.2 -0.1 0.3 -0.3 0.3 -0.2 0.2 -0.2 0.2 -0.7 0.3 -0.4 0.3 -0.1 0.2 -0.4 0.2 -0.2 0.3 -0.6 0.3 0.3 0.2 -0.1 0.2 -0.4 0.3 -0.1 0.3 -0.1 0.2 0.2 0.2 -0.3 0.3 -0.5 0.3 0.0 0.2 -0.1 0.2 0.1 0.3 0.0 0.3 0.3 0.2 0.5 0.2 0.6 0.3 -0.1 0.3 0.0 0.2 0.5 0.2 0.1 0.3 0.3 0.3 0.4 0.2 0.5 0.2 0.4 0.3 -0.2 0.3 0.0 0.2 -0.2 0.2 -0.4 0.3 -0.3 0.3 0.2 0.2 0.3 0.2 0.2 0.3 0.2 0.3 0.3 0.2 0.5 0.2 -0.2 0.3 0.0 0.3 0.0 0.2 -0.1 0.2 0.0 0.3 0.4 0.3 -0.1 0.2 0.4 0.2 -0.2 0.3 0.2 0.3 -0.2 0.2 -0.5 0.2 0.0 0.3 -0.4 0.3 0.2 0.2 -0.6 0.2 -0.2 0.3 0.0 0.3 -0.1 0.2 0.0 0.2 -0.2 0.3 0.4 0.3 0.0 0.2 0.0 0.2 0.2 0.3 0.2 0.3 0.1 0.2 -0.3 0.2 0.1 0.3 -0.2 0.3 0.0 0.2 -0.5 0.2 0.3 0.3 0.3 0.3 0.0 0.2 -0.2 0.2 0.1 0.3 0.1 0.3 0.0 0.2 0.0 0.2 -0.2 0.3 0.4 0.3 -0.2 0.2 0.0 0.2 -0.3 0.3 0.4 0.3 0.4 0.2 0.0 0.2 0.1 0.3 -0.2 0.3 0.2 0.2 -0.2 0.2 0.3 0.3 0.0 0.3 -0.4 0.2 0.1 0.2 0.2 0.3 0.1 0.3 0.0 0.2 0.2 0.2 0.3 0.3 -0.3 0.3 -0.1 0.2 0.1 0.2 0.0 0.3 0.0 0.3 0.2 0.2 0.2 0.2 0.0 0.3 -0.2 0.3 0.1 0.2 -0.2 0.2 -0.1 0.3 0.1 0.3 -0.1 0.2 -0.5 0.2 -0.1 0.3 -0.3 0.3 0.4 0.2 0.0 0.2 0.2 0.3 0.3 0.3 -0.3 0.2 0.4 0.2 -0.2 0.3 -0.3 0.3 -0.1 0.2 0.1 0.2 0.3 0.3 -0.1 0.3 -0.4 0.2 0.1 0.2 -0.1 0.3 0.0 0.3 0.2 0.2 0.3 0.2 0.4 0.3 0.2 0.3 0.3 0.2 0.0 0.2 -0.3 0.3 -0.1 0.3 0.0 0.2 -0.2 0.2 -0.3 0.3 0.0 0.3 -0.1 0.2 0.0 0.2 0.0 0.3 0.3 0.3 0.3 0.2 -0.2 0.2 0.3 0.3 -0.2 0.3 0.2 0.2 0.1 0.2 -0.2 0.3 0.4 0.3 -0.3 0.2 0.0 0.2 -0.1 0.3 0.0 0.3 0.1 0.2 -0.3 0.2 0.1 0.3 -0.2 0.3 0.1 0.2 0.0 0.2 0.0 0.3 0.2 0.3 0.3 0.2 0.2 0.2 -0.1 0.3 -0.3 0.3 -0.1 0.2 0.1 0.2 -0.2 0.3 -0.1 0.3 -0.1 0.2 0.0 0.2 0.0 0.3 0.0 0.3 -0.4 0.2 0.2 0.2 -0.1 0.3 -0.1 0.3 0.1 0.2 -0.2 0.2 0.2 0.3 -0.1 0.3 0.0 0.2 0.2 0.2 -0.1 0.3 0.3 0.3 -0.1 0.2 0.2 0.2 0.3 0.3 -0.1 0.3 -0.2 0.2 -0.2 0.2 -0.1 0.3 0.0 0.3 0.0 0.2 0.1 0.2 0.5 0.3 0.2 0.3 -0.1 0.2 -0.2 0.2 0.2 0.3 -0.2 0.3 -0.1 0.2 0.2 0.2 0.2 0.3 0.3 0.3 -0.1 0.2 0.3 0.2 -0.2 0.3 -0.1 0.3 0.0 0.2 -0.4 0.2 0.1 0.3 -0.2 0.3 0.1 0.2 0.1 0.2 0.1 0.3 0.0 0.3 -0.3 0.2 0.2 0.2 0.2 0.3 -0.1 0.3 -0.3 0.2 -0.1 0.2 0.2 0.3 0.0 0.3 -0.3 0.2 -0.3 0.2 0.1 0.3 -0.4 0.3 0.2 0.2 0.0 0.2 -0.1 0.3 0.2 0.3 -0.1 0.2 0.3 0.2 0.1 0.3 -0.2 0.3 0.1 0.2 -0.4 0.2 -0.1 0.3 0.0 0.3 0.2 0.2 0.2 0.2 0.0 0.3 0.2 0.3 0.3 0.2 0.0 0.2 -0.3 0.3 0.0 0.3 -0.1 0.2 -0.2 0.2 0.1 0.3 -0.1 0.3 0.0 0.2 0.0 0.2 -0.1 0.3 0.0 0.3 0.2 0.2 0.5 0.2 -0.1 0.3 -0.3 0.3 0.3 0.2 0.0 0.2 0.3 0.3 -0.1 0.3 -0.3 0.2 0.2 0.2 -0.1 0.3 -0.1 0.3 0.2 0.2 0.0 0.2 -0.1 0.3 0.0 0.3 -0.1 0.2 0.4 0.2 -0.4 0.3 -0.2 0.3 0.3 0.2 0.0 0.2 0.1 0.3 -0.3 0.3 0.0 0.2 0.2 0.2 -0.2 0.3 0.0 0.3 0.1 0.2 0.0 0.2 0.0 0.3 -0.2 0.3 0.0 0.2 0.0 0.2 0.0 0.3 0.0 0.3 -0.3 0.2 0.3 0.2 -0.1 0.3 0.1 0.3 -0.2 0.2 -0.1 0.2 0.0 0.3 -0.1 0.3 0.2 0.2 0.2 0.2 0.2 0.3 -0.1 0.3 -0.1 0.2 -0.1 0.2 0.3 0.3 -0.2 0.3 -0.1 0.2 0.0 0.2 0.2 0.3 -0.2 0.3 -0.3 0.2 -0.6 0.2 0.0 0.3 0.0 0.3 -0.1 0.2 -0.3 0.2 0.1 0.3 0.0 0.3 0.3 0.2 0.0 0.2 -0.1 0.3 0.3 0.3 -0.1 0.2 0.3 0.2 -0.2 0.3 -0.1 0.3 0.2 0.2 -0.3 0.2 0.3 0.3 -0.1 0.3 -0.1 0.2 0.0 0.2 0.3 0.3 0.4 0.3 -0.4 0.2 0.2 0.2 0.1 0.3 0.4 0.3 -0.3 0.2 -0.2 0.2 0.4 0.3 -0.2 0.3 -0.3 0.2 0.4 0.2 0.2 0.3 -0.3 0.3 -0.1 0.2 0.0 0.2 0.1 0.3 -0.2 0.3 -0.1 0.2 0.2 0.2 -0.1 0.3 0.1 0.3 0.0 0.2 0.4 0.2 -0.1 0.3 0.2 0.3 0.3 0.2 -0.3 0.2 0.3 0.3 -0.3 0.3 0.0 0.2 -0.2 0.2 0.3 0.3 -0.1 0.3 0.1 0.2 0.0 0.2 0.1 0.3 0.3 0.3 -0.1 0.2 0.5 0.2 -0.2 0.3 0.1 0.3 0.3 0.2 -0.3 0.2 -0.2 0.3 -0.3 0.3 0.1 0.2 -0.3 0.2 -0.2 0.3 0.2 0.3 0.0 0.2 0.2 0.2 -0.1 0.3 0.0 0.3 -0.1 0.2 0.0 0.2 0.0 0.3 -0.1 0.3 0.0 0.2 0.0 0.2 -0.2 0.3 0.2 0.3 -0.2 0.2 -0.2 0.2 0.0 0.3 0.2 0.3 0.3 0.2 0.1 0.2 0.4 0.3 0.1 0.3 0.1 0.2 -0.2 0.2 -0.4 0.3 -0.1 0.3 -0.3 0.2 -0.3 0.2 -0.1 0.3 -0.1 0.3 0.4 0.2 -0.2 0.2 0.0 0.3 0.2 0.3 -0.1 0.2 0.4 0.2 -0.1 0.3 0.1 0.3 -0.1 0.2 -0.1 0.2 -0.1 0.3 0.1 0.3 -0.1 0.2 -0.2 0.2 -0.1 0.3 0.3 0.3 0.3 0.2 -0.5 0.2 0.0 0.3 -0.2 0.3 0.3 0.2 0.0 0.2 0.1 0.3 0.1 0.3 0.2 0.2 0.2 0.2 0.0 0.3 -0.3 0.3 -0.2 0.2 0.0 0.2 0.0 0.3 -0.2 0.3 0.1 0.2 0.4 0.2 -0.2 0.3 0.0 0.3 0.3 0.2 0.0 0.2 -0.3 0.3 -0.4 0.3 0.1 0.2 -0.1 0.2 -0.2 0.3 -0.1 0.3 -0.2 0.2 -0.1 0.2 0.0 0.3 0.1 0.3 -0.1 0.2 0.0 0.2 0.2 0.3 0.3 0.3 0.0 0.2 -0.1 0.2 0.1 0.3 0.2 0.3 -0.3 0.2 0.1 0.2 0.1 0.3 0.2 0.3 -0.2 0.2 0.0 0.2 0.1 0.3 -0.1 0.3 0.1 0.2 0.0 0.2 0.1 0.3 0.2 0.3 0.1 0.2 0.0 0.2 -0.3 0.3 0.1 0.3 0.2 0.2 -0.2 0.2 0.3 0.3 0.3 0.3 0.3 0.2 0.1 0.2 0.0 0.3 -0.4 0.3 -0.3 0.2 -0.2 0.2 -0.2 0.3 -0.5 0.3 -0.2 0.2 0.1 0.2 0.1 0.3 0.2 0.3 -0.5 0.2 0.1 0.2 0.2 0.3 0.2 0.3 0.2 0.2 0.0 0.2 0.3 0.3 -0.1 0.3 0.1 0.2 0.0 0.2 -0.2 0.3 0.0 0.3 0.3 0.2 -0.1 0.2 -0.2 0.3 -0.4 0.3 -0.1 0.2 -0.2 0.2 -0.1 0.3 0.1 0.3 -0.2 0.2 0.4 0.2 0.5 0.3 0.4 0.3 -0.5 0.2 0.1 0.2 -0.1 0.3 -0.2 0.3 -0.4 0.2 0.1 0.2 0.5 0.3 0.0 0.3 0.2 0.2 0.3 0.2 0.0 0.3 -0.5 0.3 -0.5 0.2 0.2 0.2 0.1 0.3 0.2 0.3 -0.2 0.2 0.3 0.2 0.0 0.3 -0.3 0.3 0.2 0.2 0.1 0.2 0.0 0.3 -0.1 0.3 0.0 0.2 -0.3 0.2 -0.1 0.3 -0.2 0.3 0.2 0.2 -0.2 0.2 0.3 0.3 0.2 0.3 -0.2 0.2 -0.5 0.2 0.0 0.3 0.3 0.3 -0.1 0.2 -0.4 0.2 -0.2 0.3 0.4 0.3 0.0 0.2 -0.2 0.2 -0.2 0.3 0.3 0.3 0.0 0.2 -0.3 0.2 -0.1 0.3 0.0 0.3 -0.2 0.2 0.1 0.2 0.1 0.3 -0.3 0.3 0.0 0.2 -0.4 0.2 0.0 0.3 -0.2 0.3 -0.1 0.2 -0.2 0.2 -0.4 0.3 0.2 0.3 -0.1 0.2 -0.8 0.2 -0.6 0.3 -0.2 0.3 -0.6 0.2 -0.3 0.2 -0.7 0.3 -0.1 0.3 -0.5 0.2 -0.9 0.2 -1.2 0.3 -1.4 0.3 -1.2 0.2 -2.0 0.2 -2.4 0.3 -2.7 0.3 -3.9 0.2 -4.9 0.2 -5.6 0.3 -6.6 0.3 -7.7 0.2 -8.9 0.2 -9.2 0.3 -9.3 0.3 -10.3 0.2 -9.9 0.2 -8.6 0.3 -6.1 0.3 -3.7 0.2 -0.7 0.2 2.3 0.3 4.7 0.3 5.7 0.2 6.0 0.2 5.9 0.3 5.1 0.3 3.9 0.2 2.5 0.2 2.2 0.3 1.4 0.3 1.5 0.2 1.6 0.2 2.6 0.3 3.7 0.3 4.7 0.2 5.4 0.2 5.7 0.3 5.8 0.3 5.6 0.2 5.1 0.2 4.4 0.3 4.4 0.3 3.5 0.2 3.0 0.2 2.5 0.3 2.2 0.3 1.9 0.2 1.2 0.2 1.3 0.3 1.1 0.3 1.1 0.2 0.6 0.2 0.5 0.3 0.7 0.3 0.4 0.2 0.1 0.2 0.4 0.3 0.3 0.3 0.4 0.2 0.0 0.2 0.3 0.3 -0.1 0.3 0.2 0.2 0.1 0.2 0.4 0.3 0.1 0.3 0.0 0.2 0.6 0.2 0.1 0.3 -0.1 0.3 0.1 0.2 0.2 0.2 -0.3 0.3 0.2 0.3 -0.3 0.2 0.5 0.2 0.3 0.3 0.2 0.3 0.4 0.2 0.1 0.2 0.2 0.3 -0.3 0.3 0.0 0.2 0.0 0.2 -0.1 0.3 0.0 0.3 0.1 0.2 0.2 0.2 0.0 0.3 0.2 0.3 -0.3 0.2 0.3 0.2 -0.2 0.3 0.1 0.3 -0.2 0.2 -0.2 0.2 0.0 0.3 -0.2 0.3 0.1 0.2 0.0 0.2 -0.2 0.3 0.0 0.3 0.0 0.2 -0.2 0.2 -0.3 0.3 -0.1 0.3 0.0 0.2 0.1 0.2 -0.1 0.3 0.1 0.3 0.3 0.2 -0.2 0.2 -0.1 0.3 -0.3 0.3 0.1 0.2 -0.1 0.2 0.1 0.3 0.0 0.3 0.1 0.2 -0.1 0.2 -0.1 0.3 0.3 0.3 -0.5 0.2 0.3 0.2 -0.3 0.3 0.3 0.3 0.6 0.2 -0.4 0.2 0.1 0.3 -0.1 0.3 0.3 0.2 -0.1 0.2 -0.3 0.3 0.3 0.3 0.3 0.2 0.0 0.2 0.0 0.3 0.0 0.3 0.0 0.2 0.5 0.2 -0.1 0.3 0.0 0.3 0.1 0.2 -0.2 0.2 -0.1 0.3 -0.5 0.3 0.0 0.2 -0.3 0.2 0.0 0.3 0.2 0.3 0.1 0.2 0.1 0.2 0.2 0.3 0.5 0.3 0.4 0.2 -0.1 0.2 -0.3 0.3 0.3 0.3 0.0 0.2 -0.1 0.2 -0.4 0.3 0.2 0.3 0.0 0.2 -0.2 0.2 0.1 0.3 0.1 0.3 0.3 0.2 0.2 0.2 0.0 0.3 -0.2 0.3 0.1 0.2 -0.1 0.2 -0.3 0.3 -0.3 0.3 0.2 0.2 -0.6 0.2 0.0 0.3 -0.1 0.3 0.1 0.2 -0.1 0.2 0.5 0.3 0.4 0.3 -0.1 0.2 0.2 0.2 -0.1 0.3 0.0 0.3 -0.3 0.2 -0.2 0.2 0.1 0.3 -0.1 0.3 0.2 0.2 -0.1 0.2 0.0 0.3 0.2 0.3 -0.2 0.2 -0.1 0.2 0.0 0.3 0.0 0.3 -0.2 0.2 0.1 0.2 0.0 0.3 -0.2 0.3 0.1 0.2 -0.1 0.2 0.1 0.3 0.0 0.3 0.1 0.2 0.0 0.2 0.1 0.3 0.2 0.3 0.3 0.2 0.1 0.2 0.1 0.3 0.0 0.3 -0.2 0.2 0.3 0.2 0.0 0.3 0.1 0.3 -0.1 0.2 0.0 0.2 0.1 0.3 -0.2 0.3 0.0 0.2 -0.2 0.2 0.3 0.3 0.0 0.3 -0.3 0.2 0.2 0.2 -0.3 0.3 0.1 0.3 0.0 0.2 0.0 0.2 0.1 0.3 0.1 0.3 0.1 0.2 -0.7 0.2 -0.1 0.3 0.0 0.3 -0.1 0.2 0.0 0.2 -0.2 0.3 0.1 0.3 -0.1 0.2 0.1 0.2 0.1 0.3 0.0 0.3 0.2 0.2 -0.1 0.2 0.1 0.3 -0.1 0.3 -0.1 0.2 -0.1 0.2 -0.2 0.3 0.2 0.3 -0.2 0.2 0.5 0.2 0.0 0.3 0.0 0.3 0.3 0.2 0.2 0.2 0.3 0.3 -0.6 0.3 0.0 0.2 0.4 0.2 0.0 0.3 -0.1 0.3 0.0 0.2 0.3 0.2 -0.1 0.3 -0.4 0.3 -0.1 0.2 0.1 0.2 0.1 0.3 -0.1 0.3 0.0 0.2 -0.3 0.2 0.1 0.3 -0.2 0.3 -0.2 0.2 0.2 0.2 0.2 0.3 0.4 0.3 0.0 0.2 0.2 0.2 0.1 0.3 -0.3 0.3 0.2 0.2 -0.3 0.2 -0.2 0.3 0.0 0.3 0.0 0.2 -0.1 0.2 0.0 0.3 0.0 0.3 0.5 0.2 0.0 0.2 -0.1 0.3 -0.2 0.3 0.0 0.2 -0.2 0.2 -0.2 0.3 0.1 0.3 -0.3 0.2 0.1 0.2 0.0 0.3 0.0 0.3 0.1 0.2 0.1 0.2 0.3 0.3 0.3 0.3 -0.4 0.2 0.0 0.2 -0.2 0.3 -0.2 0.3 -0.1 0.2 0.0 0.2 0.1 0.3 0.2 0.3 0.2 0.2 -0.2 0.2 -0.1 0.3 0.1 0.3 -0.1 0.2 0.2 0.2 -0.1 0.3 0.1 0.3 0.0 0.2 -0.1 0.2 -0.2 0.3 -0.4 0.3 -0.2 0.2 0.0 0.2 0.1 0.3 0.0 0.3 0.2 0.2 0.3 0.2 -0.1 0.3 0.0 0.3 0.0 0.2 0.1 0.2 0.0 0.3 0.0 0.3 -0.3 0.2 -0.3 0.2 0.2 0.3 -0.4 0.3 -0.1 0.2 0.0 0.2 -0.2 0.3 0.1 0.3 -0.5 0.2 0.3 0.2 0.0 0.3 0.2 0.3 0.1 0.2 -0.1 0.2 0.2 0.3 -0.2 0.3 0.3 0.2 -0.6 0.2 0.1 0.3 -0.1 0.3 0.2 0.2 -0.1 0.2 0.0 0.3 0.3 0.3 0.1 0.2 0.2 0.2 0.0 0.3 0.1 0.3 0.0 0.2 0.0 0.2 0.0 0.3 0.2 0.3 -0.3 0.2 -0.3 0.2 -0.1 0.3 -0.1 0.3 0.3 0.2 0.1 0.2 0.3 0.3 0.2 0.3 0.4 0.2 -0.1 0.2 0.2 0.3 0.0 0.3 0.2 0.2 -0.3 0.2 -0.5 0.3 0.3 0.3 -0.2 0.2 -0.2 0.2 -0.4 0.3 0.0 0.3 -0.3 0.2 0.1 0.2 0.0 0.3 0.3 0.3 0.0 0.2 0.1 0.2 0.2 0.3 -0.1 0.3 -0.4 0.2 -0.1 0.2 0.2 0.3 -0.1 0.3 0.4 0.2 0.1 0.2 -0.2 0.3 0.1 0.3 -0.1 0.2 -0.1 0.2 -0.6 0.3 0.1 0.3 0.3 0.2 -0.4 0.2 -0.2 0.3 0.0 0.3 0.1 0.2 -0.4 0.2 0.0 0.3 -0.1 0.3 0.0 0.2 -0.2 0.2 0.3 0.3 -0.1 0.3 0.0 0.2 -0.2 0.2 0.2 0.3 0.0 0.3 -0.4 0.2 0.0 0.2 0.0 0.3 -0.1 0.3 -0.2 0.2 0.3 0.2 0.1 0.3 -0.2 0.3 -0.2 0.2 0.0 0.2 0.0 0.3 0.0 0.3 -0.4 0.2 0.1 0.2 0.0 0.3 -0.2 0.3 -0.3 0.2 -0.5 0.2 -0.3 0.3 -0.2 0.3 -0.4 0.2 0.0 0.2 0.0 0.3 0.2 0.3 -0.1 0.2 -0.5 0.2 -0.2 0.3 -0.3 0.3 -0.5 0.2 -0.3 0.2 -0.4 0.3 0.1 0.3 -0.3 0.2 -0.4 0.2 -0.6 0.3 -0.2 0.3 -0.6 0.2 -0.7 0.2 -0.7 0.3 -0.8 0.3 -1.0 0.2 -1.2 0.2 -1.4 0.3 -1.6 0.3 -1.8 0.2 -2.2 0.2 -2.5 0.3 -3.2 0.3 -3.9 0.2 -5.4 0.2 -5.8 0.3 -7.4 0.3 -9.1 0.2 -11.0 0.2 -13.0 0.3 -14.8 0.3 -17.1 0.2 -19.1 0.2 -20.3 0.3 -21.3 0.3 -21.4 0.2 -20.0 0.2 -17.5 0.3 -12.6 0.3 -7.2 0.2 -1.1 0.2 5.3 0.3 9.9 0.3 12.5 0.2 13.7 0.2 13.5 0.3 12.5 0.3 9.9 0.2 7.5 0.2 5.3 0.3 3.1 0.3 2.0 0.2 1.1 0.2 2.0 0.3 3.8 0.3 5.6 0.2 8.0 0.2 9.9 0.3 11.5 0.3 12.0 0.2 11.9 0.2 11.7 0.3 11.0 0.3 9.3 0.2 8.6 0.2 7.7 0.3 6.7 0.3 5.2 0.2 4.6 0.2 4.2 0.3 2.5 0.3 2.8 0.2 2.0 0.2 1.9 0.3 1.1 0.3 1.1 0.2 1.4 0.2 0.8 0.3 0.4 0.3 0.7 0.2 0.8 0.2 0.2 0.3 0.6 0.3 0.1 0.2 0.5 0.2 0.3 0.3 0.5 0.3 0.2 0.2 0.1 0.2 0.6 0.3 0.3 0.3 0.8 0.2 0.3 0.2 0.4 0.3 0.6 0.3 -0.2 0.2 0.0 0.2 -0.3 0.3 -0.1 0.3 -0.1 0.2 0.0 0.2 0.4 0.3 0.3 0.3 0.1 0.2 0.1 0.2 0.2 0.3 0.3 0.3 0.0 0.2 0.0 0.2 -0.2 0.3 0.2 0.3 0.5 0.2 0.0 0.2 0.2 0.3 0.1 0.3 0.6 0.2 -0.1 0.2 -0.1 0.3 -0.1 0.3 0.0 0.2 0.2 0.2 -0.1 0.3 0.1 0.3 0.4 0.2 0.1 0.2 -0.1 0.3 -0.3 0.3 -0.1 0.2 -0.3 0.2 0.2 0.3 0.1 0.3 -0.1 0.2 0.4 0.2 0.2 0.3 0.0 0.3 0.1 0.2 0.2 0.2 0.4 0.3 -0.1 0.3 0.1 0.2 0.4 0.2 -0.1 0.3 -0.1 0.3 0.2 0.2 -0.1 0.2 0.0 0.3 -0.1 0.3 -0.3 0.2 0.1 0.2 -0.1 0.3 -0.1 0.3 -0.2 0.2 0.0 0.2 0.0 0.3 0.0 0.3 0.2 0.2 0.0 0.2 0.0 0.3 0.1 0.3 -0.1 0.2 -0.1 0.2 -0.3 0.3 -0.2 0.3 0.0 0.2 -0.3 0.2 0.0 0.3 0.3 0.3 0.0 0.2 0.1 0.2 0.0 0.3 0.3 0.3 0.0 0.2 -0.2 0.2 0.1 0.3 -0.3 0.3 0.1 0.2 -0.3 0.2 -0.3 0.3 0.1 0.3 0.1 0.2 0.4 0.2 0.0 0.3 0.1 0.3 0.3 0.2 -0.1 0.2 0.0 0.3 0.3 0.3 0.1 0.2 0.0 0.2 0.1 0.3 0.2 0.3 0.2 0.2 -0.4 0.2 -0.4 0.3 0.3 0.3 0.2 0.2 -0.4 0.2 -0.5 0.3 0.0 0.3 0.1 0.2 -0.2 0.2 -0.2 0.3 0.1 0.3 0.1 0.2 0.1 0.2 0.1 0.3 -0.1 0.3 0.2 0.2 0.2 0.2 -0.2 0.3 0.0 0.3 -0.1 0.2 0.2 0.2 -0.1 0.3 -0.3 0.3 0.2 0.2 0.1 0.2 -0.2 0.3 0.0 0.3 0.1 0.2 -0.1 0.2 0.0 0.3 -0.6 0.3 0.3 0.2 -0.4 0.2 -0.4 0.3 0.1 0.3 0.1 0.2 0.3 0.2 0.1 0.3 0.3 0.3 0.3 0.2 0.1 0.2 -0.1 0.3 -0.1 0.3 0.2 0.2 0.1 0.2 -0.3 0.3 0.1 0.3 0.0 0.2 -0.4 0.2 -0.5 0.3 -0.7 0.3 -0.3 0.2 0.0 0.2 -0.9 0.3 -0.4 0.3 -0.9 0.2 -0.4 0.2 -0.5 0.3 -0.7 0.3 0.0 0.2 -0.3 0.2 0.0 0.3 -0.1 0.3 -0.1 0.2 0.0 0.2 0.3 0.3 0.3 0.3 0.4 0.2 0.5 0.2 0.5 0.3 1.0 0.3 0.2 0.2 0.3 0.2 0.5 0.3 -0.1 0.3 0.4 0.2 -0.1 0.2 0.1 0.3 0.5 0.3 0.2 0.2 0.9 0.2 0.0 0.3 0.4 0.3 0.4 0.2 0.1 0.2 -0.1 0.3 0.1 0.3 0.2 0.2 -0.3 0.2 -0.3 0.3 0.0 0.3 0.2 0.2 -0.3 0.2 -0.1 0.3 0.0 0.3 0.3 0.2 0.4 0.2 0.1 0.3 0.4 0.3 0.3 0.2 0.1 0.2 -0.1 0.3 -0.3 0.3 -0.1 0.2 0.3 0.2 0.4 0.3 -0.3 0.3 -0.4 0.2 0.3 0.2 0.1 0.3 -0.3 0.3 -0.4 0.2 0.1 0.2 0.1 0.3 -0.4 0.3 0.0 0.2 -0.2 0.2 -0.1 0.3 -0.2 0.3 0.1 0.2 0.0 0.2 -0.2 0.3 0.2 0.3 0.1 0.2 0.3 0.2 -0.1 0.3 0.2 0.3 0.4 0.2 0.1 0.2 0.0 0.3 -0.1 0.3 0.3 0.2 0.3 0.2 -0.1 0.3 -0.1 0.3 0.0 0.2 -0.2 0.2 -0.1 0.3 -0.2 0.3 -0.2 0.2 -0.1 0.2 0.2 0.3 0.2 0.3 -0.2 0.2 0.2 0.2 0.1 0.3 -0.3 0.3 -0.2 0.2 0.2 0.2 0.3 0.3 -0.4 0.3 -0.2 0.2 0.0 0.2 0.2 0.3 -0.1 0.3 0.0 0.2 0.1 0.2 -0.1 0.3 0.1 0.3 -0.4 0.2 -0.3 0.2 0.2 0.3 0.1 0.3 -0.2 0.2 0.3 0.2 0.3 0.3 0.2 0.3 -0.2 0.2 0.3 0.2 0.0 0.3 -0.1 0.3 0.2 0.2 0.2 0.2 -0.3 0.3 -0.3 0.3 -0.2 0.2 0.2 0.2 -0.3 0.3 0.1 0.3 -0.1 0.2 0.1 0.2 0.0 0.3 0.0 0.3 0.4 0.2 0.0 0.2 0.3 0.3 -0.2 0.3 0.3 0.2 -0.1 0.2 -0.2 0.3 -0.2 0.3 -0.2 0.2 -0.1 0.2 0.0 0.3 -0.2 0.3 -0.2 0.2 -0.5 0.2 -0.5 0.3 -0.8 0.3 -0.6 0.2 -0.8 0.2 -0.9 0.3 -0.9 0.3 -0.4 0.2 -1.0 0.2 -0.9 0.3 -1.3 0.3 -2.0 0.2 -1.4 0.2 -1.8 0.3 -1.7 0.3 -1.4 0.2 -1.2 0.2 -0.3 0.3 0.0 0.3 -0.1 0.2 1.2 0.2 0.7 0.3 1.0 0.3 1.1 0.2 1.4 0.2 1.1 0.3 0.7 0.3 0.7 0.2 0.3 0.2 0.0 0.3 -0.1 0.3 0.1 0.2 0.2 0.2 0.1 0.3 0.8 0.3 0.2 0.2 0.5 0.2 0.6 0.3 0.8 0.3 0.5 0.2 0.5 0.2 1.1 0.3 0.7 0.3 0.4 0.2 0.4 0.2 0.8 0.3 0.8 0.3 0.4 0.2 0.3 0.2 0.4 0.3 0.8 0.3 0.1 0.2 0.0 0.2 0.3 0.3 0.5 0.3 0.3 0.2 -0.3 0.2 -0.1 0.3 0.0 0.3 -0.1 0.2 -0.5 0.2 -0.3 0.3 0.2 0.3 0.0 0.2 0.1 0.2 -0.1 0.3 -0.1 0.3 0.1 0.2 0.2 0.2 0.2 0.3 -0.1 0.3 -0.4 0.2 0.2 0.2 0.1 0.3 -0.1 0.3 -0.3 0.2 0.0 0.2 0.4 0.3 0.4 0.3 0.3 0.2 0.0 0.2 0.1 0.3 0.1 0.3 0.1 0.2 -0.5 0.2 0.0 0.3 0.1 0.3 0.0 0.2 0.0 0.2 0.1 0.3 0.1 0.3 0.0 0.2 -0.5 0.2 -0.3 0.3 0.1 0.3 -0.1 0.2 0.1 0.2 0.0 0.3 0.2 0.3 0.2 0.2 0.2 0.2 -0.1 0.3 -0.1 0.3 0.1 0.2 0.1 0.2 -0.2 0.3 -0.5 0.3 0.2 0.2 0.0 0.2 -0.3 0.3 -0.1 0.3 -0.1 0.2 0.2 0.2 0.1 0.3 0.1 0.3 -0.3 0.2 0.3 0.2 0.2 0.3 0.3 0.3 0.0 0.2 -0.2 0.2 0.2 0.3 -0.2 0.3 -0.2 0.2 -0.3 0.2 0.2 0.3 -0.2 0.3 -0.3 0.2 0.0 0.2 0.1 0.3 0.1 0.3 -0.2 0.2 -0.1 0.2 0.1 0.3 0.2 0.3 0.1 0.2 -0.1 0.2 0.2 0.3 0.2 0.3 0.4 0.2 -0.3 0.2 0.1 0.3 -0.3 0.3 -0.3 0.2 -0.4 0.2 0.0 0.3 -0.2 0.3 0.0 0.2 0.4 0.2 0.1 0.3 0.5 0.3 0.3 0.2 0.3 0.2 -0.2 0.3 -0.1 0.3 0.2 0.2 -0.1 0.2 0.1 0.3 -0.2 0.3 -0.1 0.2 0.0 0.2 -0.1 0.3 0.1 0.3 -0.2 0.2 0.3 0.2 0.1 0.3 0.1 0.3 0.0 0.2 0.2 0.2 0.2 0.3 0.1 0.3 0.2 0.2 0.0 0.2 -0.2 0.3 0.3 0.3 -0.3 0.2 0.0 0.2 0.2 0.3 -0.2 0.3 0.0 0.2 -0.5 0.2 -0.2 0.3 -0.4 0.3 -0.2 0.2 0.3 0.2 0.2 0.3 0.1 0.3 -0.1 0.2 -0.2 0.2 0.3 0.3 -0.2 0.3 -0.2 0.2 -0.1 0.2 0.0 0.3 0.1 0.3 -0.1 0.2 -0.2 0.2 0.1 0.3 0.1 0.3 0.1 0.2 0.0 0.2 0.0 0.3 0.0 0.3 0.3 0.2 -0.3 0.2 0.2 0.3 0.0 0.3 0.1 0.2 0.0 0.2 -0.3 0.3 0.1 0.3 -0.3 0.2 0.0 0.2 -0.2 0.3 0.2 0.3 0.2 0.2 -0.3 0.2 -0.1 0.3 0.2 0.3 0.3 0.2 -0.1 0.2 -0.1 0.3 0.8 0.3 0.3 0.2 0.3 0.2 -0.2 0.3 0.2 0.3 -0.3 0.2 -0.2 0.2 -0.3 0.3 0.1 0.3 0.2 0.2 0.0 0.2 0.1 0.3 0.0 0.3 0.1 0.2 -0.1 0.2 -0.1 0.3 0.1 0.3 -0.3 0.2 0.2 0.2 0.0 0.3 -0.1 0.3 -0.1 0.2 -0.1 0.2 0.2 0.3 -0.4 0.3 0.2 0.2 0.3 0.2 -0.1 0.3 0.2 0.3 0.2 0.2 0.3 0.2 -0.1 0.3 0.0 0.3 -0.2 0.2 0.0 0.2 0.0 0.3 -0.2 0.3 0.0 0.2 -0.3 0.2 0.0 0.3 -0.2 0.3 0.1 0.2 0.0 0.2 -0.1 0.3 0.0 0.3 0.2 0.2 0.4 0.2 0.0 0.3 -0.1 0.3 -0.1 0.2 0.0 0.2 0.1 0.3 -0.4 0.3 0.0 0.2 0.1 0.2 0.1 0.3 -0.2 0.3 -0.2 0.2 -0.2 0.2 -0.4 0.3 0.3 0.3 0.1 0.2 0.1 0.2 0.4 0.3 0.3 0.3 0.5 0.2 -0.3 0.2 -0.4 0.3 -0.1 0.3 -0.2 0.2 0.0 0.2 0.2 0.3 0.0 0.3 0.3 0.2 0.2 0.2 -0.2 0.3 -0.4 0.3 -0.4 0.2 -0.2 0.2 0.0 0.3 -0.1 0.3 0.0 0.2 0.3 0.2 0.3 0.3 0.0 0.3 0.1 0.2 -0.1 0.2 -0.1 0.3 0.1 0.3 -0.3 0.2 -0.2 0.2 -0.1 0.3 0.2 0.3 0.2 0.2 0.1 0.2 0.1 0.3 0.3 0.3 -0.1 0.2 0.1 0.2 -0.2 0.3 0.0 0.3 0.1 0.2 0.1 0.2 0.0 0.3 -0.1 0.3 0.1 0.2 -0.1 0.2 -0.2 0.3 0.1 0.3 -0.1 0.2 0.0 0.2 -0.1 0.3 0.1 0.3 -0.2 0.2 0.4 0.2 0.1 0.3 -0.4 0.3 0.4 0.2 0.0 0.2 0.0 0.3 -0.4 0.3 0.2 0.2 0.0 0.2 0.0 0.3 -0.4 0.3 0.2 0.2 -0.3 0.2 0.0 0.3 -0.1 0.3 0.2 0.2 0.2 0.2 -0.1 0.3 0.1 0.3 0.0 0.2 0.4 0.2 -0.3 0.3 0.1 0.3 0.1 0.2 0.0 0.2 0.0 0.3 -0.2 0.3 0.2 0.2 0.0 0.2 0.0 0.3 -0.2 0.3 0.1 0.2 0.2 0.2 0.0 0.3 -0.1 0.3 0.0 0.2 0.1 0.2 0.0 0.3 -0.1 0.3 -0.6 0.2 0.3 0.2 0.0 0.3 -0.2 0.3 -0.1 0.2 0.2 0.2 0.2 0.3 0.1 0.3 0.1 0.2 0.1 0.2 -0.1 0.3 -0.4 0.3 0.1 0.2 0.1 0.2 0.0 0.3 0.1 0.3 0.3 0.2 0.0 0.2 -0.2 0.3 -0.3 0.3 0.0 0.2 0.1 0.2 -0.2 0.3 0.1 0.3 -0.4 0.2 0.2 0.2 0.3 0.3 -0.3 0.3 0.0 0.2 -0.2 0.2 0.2 0.3 -0.2 0.3 0.1 0.2 0.3 0.2 0.2 0.3 0.2 0.3 -0.3 0.2 0.1 0.2 0.0 0.3 0.1 0.3 0.2 0.2 0.1 0.2 0.3 0.3 -0.2 0.3 0.1 0.2 -0.5 0.2 -0.3 0.3 0.1 0.3 -0.1 0.2 0.2 0.2 -0.4 0.3 0.1 0.3 -0.1 0.2 0.0 0.2 -0.3 0.3 -0.1 0.3 0.2 0.2 -0.2 0.2 -0.2 0.3 0.0 0.3 0.5 0.2 0.0 0.2 -0.2 0.3 0.2 0.3 0.3 0.2 0.1 0.2 -0.2 0.3 0.1 0.3 0.2 0.2 -0.4 0.2 0.1 0.3 -0.1 0.3 0.1 0.2 -0.2 0.2 -0.2 0.3 0.1 0.3 0.1 0.2 0.1 0.2 -0.2 0.3 0.1 0.3 0.2 0.2 -0.1 0.2 -0.2 0.3 -0.2 0.3 0.3 0.2 0.1 0.2 0.0 0.3 0.1 0.3 -0.2 0.2 0.0 0.2 0.1 0.3 -0.3 0.3 0.1 0.2 0.2 0.2 0.0 0.3 0.3 0.3 -0.1 0.2 0.1 0.2 0.0 0.3 0.1 0.3 -0.1 0.2 0.0 0.2 0.0 0.3 -0.2 0.3 -0.2 0.2 -0.1 0.2 -0.4 0.3 -0.3 0.3 -0.3 0.2 -0.1 0.2 -0.2 0.3 -0.1 0.3 -0.1 0.2 0.0 0.2 -0.3 0.3 -0.3 0.3 -0.5 0.2 -0.5 0.2 -0.1 0.3 -0.3 0.3 -0.8 0.2 -0.5 0.2 -0.7 0.3 -1.1 0.3 -1.7 0.2 -2.2 0.2 -2.4 0.3 -3.1 0.3 -3.8 0.2 -4.4 0.2 -5.0 0.3 -5.9 0.3 -6.5 0.2 -7.1 0.2 -7.3 0.3 -7.5 0.3 -6.7 0.2 -5.5 0.2 -3.7 0.3 -1.4 0.3 0.3 0.2 3.0 0.2 4.6 0.3 5.6 0.3 6.0 0.2 5.9 0.2 5.7 0.3 4.3 0.3 3.3 0.2 2.2 0.2 1.4 0.3 -0.5 0.3 -0.9 0.2 -1.3 0.2 -1.6 0.3 -1.6 0.3 -1.1 0.2 0.3 0.2 1.5 0.3 2.4 0.3 3.4 0.2 3.8 0.2 4.2 0.3 4.2 0.3 3.4 0.2 3.2 0.2 3.3 0.3 2.4 0.3 2.2 0.2 1.9 0.2 1.9 0.3 1.2 0.3 0.8 0.2 1.0 0.2 0.8 0.3 0.2 0.3 0.4 0.2 0.4 0.2 0.5 0.3 0.5 0.3 0.4 0.2 0.4 0.2 0.2 0.3 0.5 0.3 0.3 0.2 -0.4 0.2 0.0 0.3 0.2 0.3 -0.1 0.2 -0.4 0.2 -0.1 0.3 0.2 0.3 -0.1 0.2 0.1 0.2 -0.3 0.3 0.2 0.3 -0.1 0.2 0.1 0.2 -0.2 0.3 0.2 0.3 0.1 0.2 -0.2 0.2 0.1 0.3 -0.1 0.3 0.2 0.2 -0.4 0.2 0.0 0.3 0.2 0.3 -0.2 0.2 0.1 0.2 0.1 0.3 0.2 0.3 0.0 0.2 0.0 0.2 0.2 0.3 -0.1 0.3 0.1 0.2 0.0 0.2 0.3 0.3 0.1 0.3 -0.3 0.2 0.0 0.2 -0.3 0.3 0.1 0.3 -0.3 0.2 0.0 0.2 0.0 0.3 0.0 0.3 -0.2 0.2 -0.2 0.2 0.0 0.3 0.1 0.3 -0.1 0.2 0.3 0.2 0.0 0.3 0.2 0.3 -0.1 0.2 0.0 0.2 0.2 0.3 -0.4 0.3 0.1 0.2 0.0 0.2 0.1 0.3 0.1 0.3 -0.4 0.2 0.2 0.2 -0.3 0.3 -0.3 0.3 0.1 0.2 -0.1 0.2 -0.1 0.3 0.0 0.3 0.0 0.2 -0.5 0.2 -0.2 0.3 0.3 0.3 0.3 0.2 0.1 0.2 0.0 0.3 0.5 0.3 -0.2 0.2 -0.2 0.2 0.0 0.3 -0.4 0.3 -0.1 0.2 -0.4 0.2 0.2 0.3 -0.4 0.3 -0.1 0.2 -0.4 0.2 -0.2 0.3 -0.2 0.3 0.0 0.2 -0.2 0.2 -0.4 0.3 0.2 0.3 -0.1 0.2 -0.3 0.2 -0.5 0.3 -0.2 0.3 -0.4 0.2 -1.1 0.2 -0.5 0.3 -0.9 0.3 -0.7 0.2 -1.2 0.2 -1.7 0.3 -1.3 0.3 -2.1 0.2 -2.8 0.2 -3.8 0.3 -4.7 0.3 -5.8 0.2 -6.9 0.2 -8.1 0.3 -9.4 0.3 -10.9 0.2 -12.0 0.2 -12.1 0.3 -12.6 0.3 -12.0 0.2 -10.5 0.2 -7.9 0.3 -4.0 0.3 -0.1 0.2 3.3 0.2 6.7 0.3 8.9 0.3 10.6 0.2 10.6 0.2 9.7 0.3 8.7 0.3 7.0 0.2 5.1 0.2 2.9 0.3 1.1 0.3 -0.4 0.2 -1.9 0.2 -2.9 0.3 -2.8 0.3 -2.8 0.2 -1.4 0.2 0.1 0.3 2.1 0.3 3.9 0.2 5.1 0.2 6.1 0.3 6.4 0.3 6.5 0.2 6.3 0.2 5.9 0.3 5.4 0.3 4.7 0.2 4.1 0.2 3.3 0.3 2.7 0.3 2.0 0.2 1.5 0.2 1.1 0.3 1.1 0.3 1.0 0.2 0.8 0.2 0.5 0.3 0.7 0.3 0.3 0.2 0.3 0.2 0.1 0.3 0.5 0.3 0.3 0.2 0.3 0.2 0.4 0.3 0.3 0.3 0.0 0.2 -0.1 0.2 0.2 0.3 -0.1 0.3 0.2 0.2 0.1 0.2 0.3 0.3 0.1 0.3 0.3 0.2 -0.1 0.2 0.0 0.3 -0.2 0.3 -0.2 0.2 -0.2 0.2 -0.2 0.3 0.4 0.3 0.1 0.2 0.3 0.2 0.3 0.3 0.0 0.3 0.3 0.2 0.6 0.2 -0.1 0.3 0.1 0.3 -0.3 0.2 0.2 0.2 0.1 0.3 0.2 0.3 0.0 0.2 -0.1 0.2 0.1 0.3 -0.3 0.3 -0.1 0.2 -0.1 0.2 -0.4 0.3 -0.2 0.3 0.3 0.2 0.0 0.2 -0.1 0.3 -0.4 0.3 0.5 0.2 0.4 0.2 -0.1 0.3 0.4 0.3 0.1 0.2 0.2 0.2 0.3 0.3 0.1 0.3 -0.2 0.2 -0.2 0.2 0.0 0.3 -0.2 0.3 -0.2 0.2 -0.3 0.2 0.1 0.3 0.1 0.3 0.2 0.2 -0.1 0.2 0.1 0.3 -0.1 0.3 0.1 0.2 0.1 0.2 -0.1 0.3 0.4 0.3 0.0 0.2 0.4 0.2 -0.2 0.3 0.0 0.3 -0.2 0.2 0.0 0.2 -0.4 0.3 0.0 0.3 0.3 0.2 -0.2 0.2 0.2 0.3 -0.1 0.3 0.2 0.2 0.1 0.2 -0.5 0.3 0.2 0.3 -0.1 0.2 -0.2 0.2 0.1 0.3 -0.2 0.3 0.2 0.2 0.2 0.2 -0.2 0.3 0.1 0.3 -0.4 0.2 -0.1 0.2 0.0 0.3 0.1 0.3 -0.1 0.2 -0.3 0.2 0.2 0.3 0.0 0.3 -0.1 0.2 0.0 0.2 0.1 0.3 0.6 0.3 -0.3 0.2 0.2 0.2 0.0 0.3 0.1 0.3 0.1 0.2 -0.2 0.2 0.5 0.3 -0.1 0.3 0.0 0.2 -0.1 0.2 0.4 0.3 0.1 0.3 0.1 0.2 0.0 0.2 0.2 0.3 0.2 0.3 -0.2 0.2 -0.5 0.2 0.1 0.3 -0.1 0.3 0.1 0.2 0.4 0.2 -0.3 0.3 0.1 0.3 0.2 0.2 0.2 0.2 -0.3 0.3 -0.2 0.3 0.0 0.2 -0.2 0.2 0.1 0.3 0.0 0.3 0.0 0.2 0.0 0.2 0.0 0.3 0.1 0.3 -0.3 0.2 0.0 0.2 0.3 0.3 -0.1 0.3 -0.2 0.2 -0.3 0.2 -0.2 0.3 0.1 0.3 0.2 0.2 -0.4 0.2 -0.1 0.3 0.0 0.3 -0.4 0.2 -0.5 0.2 -0.5 0.3 -0.1 0.3 -0.2 0.2 -0.3 0.2 -0.3 0.3 -0.2 0.3 -0.2 0.2 -0.6 0.2 -0.5 0.3 0.1 0.3 0.3 0.2 0.1 0.2 -0.3 0.3 0.4 0.3 0.5 0.2 0.2 0.2 0.3 0.3 0.3 0.3 0.3 0.2 0.2 0.2 0.0 0.3 0.4 0.3 0.2 0.2 -0.1 0.2 0.5 0.3 0.6 0.3 0.5 0.2 0.0 0.2 -0.1 0.3 0.2 0.3 -0.4 0.2 -0.3 0.2 -0.2 0.3 0.0 0.3 0.2 0.2 -0.2 0.2 0.5 0.3 0.3 0.3 0.3 0.2 -0.1 0.2 0.1 0.3 0.0 0.3 0.0 0.2 0.1 0.2 -0.2 0.3 0.1 0.3 0.0 0.2 0.1 0.2 -0.4 0.3 -0.1 0.3 0.1 0.2 -0.1 0.2 -0.2 0.3 -0.2 0.3 0.0 0.2 0.1 0.2 -0.2 0.3 0.3 0.3 0.1 0.2 0.2 0.2 0.3 0.3 0.0 0.3 0.5 0.2 0.0 0.2 0.0 0.3 0.2 0.3 -0.2 0.2 -0.3 0.2 0.1 0.3 -0.1 0.3 0.1 0.2 -0.4 0.2 0.4 0.3 -0.2 0.3 0.1 0.2 0.0 0.2 0.1 0.3 0.2 0.3 -0.4 0.2 -0.2 0.2 0.0 0.3 -0.1 0.3 -0.2 0.2 0.4 0.2 -0.2 0.3 0.1 0.3 0.1 0.2 0.4 0.2 0.0 0.3 -0.1 0.3 0.3 0.2 0.3 0.2 0.2 0.3 0.1 0.3 -0.3 0.2 -0.3 0.2 0.0 0.3 -0.1 0.3 -0.2 0.2 -0.1 0.2 0.1 0.3 0.3 0.3 -0.2 0.2 0.1 0.2 -0.1 0.3 0.0 0.3 0.4 0.2 -0.1 0.2 0.2 0.3 0.2 0.3 -0.3 0.2 0.0 0.2 -0.3 0.3 -0.3 0.3 -0.4 0.2 0.1 0.2 0.0 0.3 -0.2 0.3 0.2 0.2 0.2 0.2 -0.1 0.3 -0.3 0.3 0.0 0.2 -0.1 0.2 0.0 0.3 -0.1 0.3 0.1 0.2 0.1 0.2 -0.3 0.3 -0.1 0.3 -0.1 0.2 -0.1 0.2 0.0 0.3 -0.5 0.3 0.3 0.2 0.0 0.2 0.1 0.3 0.2 0.3 0.2 0.2 0.1 0.2 0.2 0.3 0.0 0.3 -0.4 0.2 0.1 0.2 0.0 0.3 0.1 0.3 -0.1 0.2 0.1 0.2 0.4 0.3 0.0 0.3 -0.3 0.2 -0.1 0.2 0.3 0.3 -0.1 0.3 -0.3 0.2 0.0 0.2 0.0 0.3 0.1 0.3 0.0 0.2 0.0 0.2 0.2 0.3 -0.1 0.3 0.1 0.2 -0.2 0.2 -0.1 0.3 -0.1 0.3 0.0 0.2 0.0 0.2 0.2 0.3 -0.2 0.3 0.2 0.2 0.2 0.2 0.0 0.3 -0.2 0.3 -0.1 0.2 0.3 0.2 -0.3 0.3 0.1 0.3 -0.2 0.2 0.0 0.2 0.6 0.3 0.0 0.3 0.2 0.2 -0.4 0.2 0.0 0.3 0.1 0.3 -0.2 0.2 -0.1 0.2 -0.4 0.3 0.2 0.3 0.0 0.2 -0.1 0.2 0.4 0.3 -0.3 0.3 0.2 0.2 0.0 0.2 -0.2 0.3 0.0 0.3 -0.5 0.2 0.4 0.2 0.0 0.3 0.2 0.3 0.2 0.2 -0.1 0.2 0.1 0.3 -0.1 0.3 0.0 0.2 0.0 0.2 0.5 0.3 0.4 0.3 0.1 0.2 0.0 0.2 -0.1 0.3 -0.3 0.3 0.1 0.2 -0.4 0.2 -0.2 0.3 0.0 0.3 -0.1 0.2 0.3 0.2 -0.3 0.3 0.1 0.3 -0.2 0.2 0.4 0.2 0.1 0.3 0.0 0.3 0.5 0.2 -0.7 0.2 0.1 0.3 -0.2 0.3 0.3 0.2 -0.3 0.2 -0.2 0.3 0.5 0.3 0.0 0.2 -0.1 0.2 0.0 0.3 -0.4 0.3 -0.5 0.2 0.6 0.2 -0.1 0.3 0.0 0.3 0.1 0.2 0.7 0.2 0.3 0.3 -0.3 0.3 0.0 0.2 0.2 0.2 -0.6 0.3 -0.1 0.3 -0.1 0.2 0.4 0.2 0.1 0.3 -0.3 0.3 0.0 0.2 -0.1 0.2 0.1 0.3 -0.2 0.3 -0.3 0.2 0.3 0.2 0.1 0.3 0.1 0.3 -0.1 0.2 -0.2 0.2 -0.2 0.3 0.0 0.3 -0.1 0.2 -0.1 0.2 -0.1 0.3 -0.1 0.3 0.2 0.2 -0.7 0.2 0.2 0.3 0.0 0.3 0.2 0.2 0.4 0.2 -0.1 0.3 0.6 0.3 0.3 0.2 0.0 0.2 -0.3 0.3 -0.1 0.3 0.4 0.2 0.1 0.2 -0.3 0.3 0.3 0.3 0.4 0.2 0.1 0.2 0.2 0.3 -0.2 0.3 0.5 0.2 -0.3 0.2 -0.4 0.3 -0.1 0.3 -0.7 0.2 -0.4 0.2 0.1 0.3 -0.2 0.3 0.1 0.2 0.2 0.2 0.1 0.3 0.4 0.3 -0.4 0.2 0.1 0.2 0.0 0.3 -0.3 0.3 0.1 0.2 -0.1 0.2 -0.1 0.3 -0.1 0.3 0.2 0.2 0.2 0.2 0.1 0.3 0.2 0.3 0.2 0.2 0.1 0.2 -0.2 0.3 -0.2 0.3 0.0 0.2 -0.1 0.2 0.2 0.3 -0.2 0.3 0.0 0.2 -0.2 0.2 0.2 0.3 0.3 0.3 -0.4 0.2 -0.2 0.2 0.0 0.3 0.2 0.3 -0.6 0.2 -0.2 0.2 0.2 0.3 0.0 0.3 -0.1 0.2 0.2 0.2 0.1 0.3 -0.3 0.3 -0.3 0.2 0.4 0.2 0.1 0.3 -0.2 0.3 0.1 0.2 0.3 0.2 -0.3 0.3 0.3 0.3 0.0 0.2 -0.1 0.2 -0.2 0.3 -0.4 0.3 0.4 0.2 -0.6 0.2 -0.2 0.3 0.4 0.3 0.1 0.2 0.4 0.2 -0.2 0.3 0.5 0.3 0.3 0.2 -0.1 0.2 0.1 0.3 -0.3 0.3 0.2 0.2 -0.5 0.2 0.3 0.3 -0.3 0.3 -0.3 0.2 0.1 0.2 0.2 0.3 0.3 0.3 -0.4 0.2 0.3 0.2 0.0 0.3 0.0 0.3 -0.5 0.2 -0.7 0.2 -0.7 0.3 -0.4 0.3 -0.5 0.2 -0.2 0.2 -0.2 0.3 0.1 0.3 0.0 0.2 -0.5 0.2 -0.4 0.3 -0.1 0.3 0.2 0.2 -0.2 0.2 0.3 0.3 0.5 0.3 0.8 0.2 0.1 0.2 0.2 0.3 0.8 0.3 0.1 0.2 0.0 0.2 0.0 0.3 0.2 0.3 0.4 0.2 0.1 0.2 0.5 0.3 -0.1 0.3 0.1 0.2 0.3 0.2 -0.3 0.3 -0.1 0.3 0.0 0.2 0.1 0.2 0.1 0.3 0.1 0.3 0.2 0.2 0.1 0.2 0.1 0.3 0.0 0.3 0.1 0.2 0.2 0.2 -0.4 0.3 0.1 0.3 0.1 0.2 0.3 0.2 -0.2 0.3 -0.2 0.3 0.1 0.2 0.0 0.2 0.0 0.3 -0.1 0.3 0.1 0.2 -0.1 0.2 0.0 0.3 -0.4 0.3 0.2 0.2 0.3 0.2 0.1 0.3 0.6 0.3 -0.2 0.2 -0.1 0.2 -0.1 0.3 0.0 0.3 -0.3 0.2 -0.4 0.2 0.1 0.3 0.2 0.3 -0.3 0.2 0.1 0.2 0.0 0.3 0.2 0.3 0.0 0.2 -0.2 0.2 0.7 0.3 0.0 0.3 -0.1 0.2 -0.1 0.2 0.3 0.3 0.2 0.3 -0.5 0.2 0.2 0.2 0.1 0.3 -0.3 0.3 0.2 0.2 0.1 0.2 0.1 0.3 -0.4 0.3 0.0 0.2 -0.1 0.2 -0.4 0.3 0.0 0.3 0.1 0.2 0.1 0.2 0.1 0.3 0.1 0.3 0.3 0.2 -0.2 0.2 -0.2 0.3 -0.3 0.3 0.2 0.2 0.0 0.2 -0.4 0.3 0.2 0.3 0.1 0.2 -0.1 0.2 0.0 0.3 0.0 0.3 0.3 0.2 -0.1 0.2 -0.3 0.3 0.0 0.3 -0.2 0.2 0.3 0.2 -0.2 0.3 -0.3 0.3 0.4 0.2 0.2 0.2 -0.2 0.3 0.0 0.3 -0.2 0.2 0.0 0.2 -0.2 0.3 -0.1 0.3 0.1 0.2 -0.3 0.2 0.2 0.3 -0.1 0.3 0.2 0.2 0.1 0.2 0.2 0.3 0.2 0.3 0.0 0.2 -0.2 0.2 -0.1 0.3 -0.1 0.3 -0.5 0.2 -0.1 0.2 -0.2 0.3 0.2 0.3 0.2 0.2 0.0 0.2 0.5 0.3 0.0 0.3 0.1 0.2 0.1 0.2 -0.4 0.3 0.1 0.3 0.2 0.2 0.2 0.2 -0.3 0.3 0.0 0.3 0.1 0.2 0.1 0.2 -0.1 0.3 -0.1 0.3 0.4 0.2 0.2 0.2 -0.1 0.3 -0.4 0.3 0.1 0.2 -0.1 0.2 0.0 0.3 0.0 0.3 -0.2 0.2 0.0 0.2 -0.3 0.3 -0.2 0.3 -0.5 0.2 0.2 0.2 0.2 0.3 0.5 0.3 0.2 0.2 0.2 0.2 0.3 0.3 0.1 0.3 -0.2 0.2 -0.1 0.2 -0.1 0.3 0.2 0.3 0.0 0.2 -0.4 0.2 0.3 0.3 -0.4 0.3 0.1 0.2 -0.1 0.2 0.2 0.3 0.3 0.3 -0.3 0.2 0.1 0.2 -0.2 0.3 0.2 0.3 -0.4 0.2 0.4 0.2 0.0 0.3 0.3 0.3 0.1 0.2 -0.1 0.2 0.2 0.3 -0.5 0.3 0.3 0.2 -0.4 0.2 0.1 0.3 -0.2 0.3 0.1 0.2 -0.4 0.2 0.0 0.3 -0.3 0.3 -0.1 0.2 -0.2 0.2 -0.2 0.3 0.4 0.3 0.2 0.2 0.1 0.2 -0.1 0.3 -0.1 0.3 -0.2 0.2 -0.3 0.2 -0.3 0.3 0.3 0.3 -0.3 0.2 -0.1 0.2 -0.4 0.3 -0.5 0.3 -0.2 0.2 0.0 0.2 -0.4 0.3 0.3 0.3 0.1 0.2 0.2 0.2 -0.4 0.3 -0.6 0.3 0.0 0.2 -0.1 0.2 -0.3 0.3 -0.6 0.3 -0.4 0.2 -0.6 0.2 -0.8 0.3 -0.8 0.3 -0.7 0.2 -0.5 0.2 -0.6 0.3 -1.2 0.3 -0.7 0.2 -2.0 0.2 -1.9 0.3 -2.6 0.3 -3.0 0.2 -3.4 0.2 -3.7 0.3 -3.5 0.3 -4.5 0.2 -3.9 0.2 -3.9 0.3 -3.7 0.3 -3.1 0.2 -2.6 0.2 -1.2 0.3 -0.5 0.3 1.1 0.2 1.8 0.2 2.7 0.3 2.9 0.3 3.6 0.2 3.4 0.2 3.2 0.3 2.9 0.3 2.3 0.2 2.1 0.2 1.2 0.3 1.0 0.3 0.3 0.2 0.2 0.2 -0.8 0.3 -0.6 0.3 -1.4 0.2 -1.0 0.2 -1.3 0.3 -1.3 0.3 -0.8 0.2 -0.5 0.2 0.7 0.3 0.3 0.3 0.8 0.2 1.4 0.2 0.8 0.3 1.4 0.3 1.0 0.2 1.4 0.2 1.4 0.3 1.1 0.3 1.4 0.2 1.3 0.2 1.5 0.3 1.4 0.3 1.1 0.2 1.3 0.2 1.5 0.3 1.1 0.3 1.3 0.2 0.6 0.2 0.7 0.3 0.6 0.3 0.4 0.2 0.4 0.2 0.0 0.3 0.2 0.3 0.1 0.2 0.2 0.2 0.3 0.3 -0.2 0.3 -0.1 0.2 0.4 0.2 0.0 0.3 -0.1 0.3 0.2 0.2 0.6 0.2 0.4 0.3 0.4 0.3 0.5 0.2 0.6 0.2 0.3 0.3 0.8 0.3 0.5 0.2 0.3 0.2 0.8 0.3 0.2 0.3 0.4 0.2 -0.1 0.2 0.1 0.3 0.1 0.3 -0.1 0.2 0.5 0.2 0.1 0.3 0.1 0.3 -0.1 0.2 0.3 0.2 0.4 0.3 -0.3 0.3 0.0 0.2 0.1 0.2 0.0 0.3 -0.3 0.3 -0.4 0.2 0.3 0.2 0.0 0.3 0.0 0.3 0.3 0.2 -0.1 0.2 0.4 0.3 -0.3 0.3 -0.1 0.2 0.2 0.2 -0.1 0.3 0.2 0.3 -0.5 0.2 0.2 0.2 0.2 0.3 0.2 0.3 0.0 0.2 -0.4 0.2 0.1 0.3 -0.1 0.3 -0.2 0.2 -0.1 0.2 0.1 0.3 0.2 0.3 -0.1 0.2 0.5 0.2 0.5 0.3 0.1 0.3 -0.1 0.2 -0.3 0.2 0.2 0.3 -0.2 0.3 0.2 0.2 0.1 0.2 0.2 0.3 0.6 0.3 0.3 0.2 0.0 0.2 -0.2 0.3 -0.1 0.3 0.0 0.2 -0.3 0.2 -0.3 0.3 0.3 0.3 -0.5 0.2 -0.3 0.2 0.1 0.3 -0.1 0.3 0.4 0.2 -0.1 0.2 0.3 0.3 0.4 0.3 -0.2 0.2 0.3 0.2 0.0 0.3 0.1 0.3 -0.3 0.2 -0.2 0.2 0.4 0.3 0.3 0.3 -0.4 0.2 0.0 0.2 -0.2 0.3 0.0 0.3 0.0 0.2 -0.2 0.2 0.2 0.3 0.0 0.3 0.2 0.2 0.1 0.2 0.0 0.3 0.0 0.3 -0.3 0.2 -0.1 0.2 -0.2 0.3 -0.3 0.3 -0.2 0.2 -0.3 0.2 0.0 0.3 0.3 0.3 0.2 0.2 -0.2 0.2 0.0 0.3 -0.1 0.3 0.0 0.2 0.4 0.2 0.0 0.3 0.2 0.3 -0.1 0.2 0.1 0.2 -0.2 0.3 -0.5 0.3 0.0 0.2 0.1 0.2 -0.1 0.3 0.2 0.3 0.5 0.2 -0.2 0.2 0.1 0.3 -0.4 0.3 0.2 0.2 0.1 0.2 -0.2 0.3 0.2 0.3 0.0 0.2 0.4 0.2 0.1 0.3 -0.1 0.3 -0.2 0.2 -0.1 0.2 0.1 0.3 -0.3 0.3 -0.2 0.2 -0.2 0.2 0.2 0.3 0.2 0.3 -0.2 0.2 0.5 0.2 -0.1 0.3 0.1 0.3 -0.1 0.2 -0.1 0.2 -0.1 0.3 -0.1 0.3 -0.1 0.2 -0.1 0.2 0.2 0.3 -0.1 0.3 -0.1 0.2 0.1 0.2 0.3 0.3 -0.3 0.3 0.1 0.2 -0.2 0.2 0.1 0.3 0.0 0.3 0.1 0.2 0.2 0.2 -0.1 0.3 -0.2 0.3 -0.2 0.2 -0.2 0.2 -0.1 0.3 -0.1 0.3 0.1 0.2 0.4 0.2 0.3 0.3 0.1 0.3 0.2 0.2 -0.1 0.2 0.1 0.3 -0.4 0.3 0.0 0.2 0.1 0.2 0.1 0.3 -0.1 0.3 0.4 0.2 0.4 0.2 -0.1 0.3 0.2 0.3 0.0 0.2 0.2 0.2 -0.4 0.3 -0.1 0.3 -0.1 0.2 -0.3 0.2 -0.2 0.3 0.0 0.3 -0.4 0.2 0.4 0.2 -0.2 0.3 0.3 0.3 -0.2 0.2 0.0 0.2 0.2 0.3 0.1 0.3 0.2 0.2 0.2 0.2 0.3 0.3 0.1 0.3 0.2 0.2 -0.5 0.2 0.0 0.3 -0.3 0.3 -0.1 0.2 -0.3 0.2 0.0 0.3 -0.1 0.3 -0.1 0.2 -0.1 0.2 0.1 0.3 0.0 0.3 -0.1 0.2 -0.2 0.2 0.1 0.3 -0.3 0.3 0.3 0.2 0.0 0.2 -0.2 0.3 0.3 0.3 -0.1 0.2 -0.1 0.2 0.1 0.3 0.4 0.3 0.2 0.2 0.2 0.2 0.2 0.3 0.1 0.3 -0.5 0.2 -0.5 0.2 -0.2 0.3 0.1 0.3 0.2 0.2 -0.2 0.2 0.3 0.3 0.0 0.3 0.1 0.2 0.0 0.2 -0.1 0.3 0.2 0.3 -0.4 0.2 0.1 0.2 -0.2 0.3 -0.3 0.3 -0.3 0.2 0.4 0.2 -0.1 0.3 -0.3 0.3 -0.3 0.2 -0.3 0.2 0.2 0.3 0.0 0.3 0.0 0.2 0.2 0.2 0.3 0.3 0.5 0.3 0.1 0.2 -0.1 0.2 0.5 0.3 0.3 0.3 0.3 0.2 -0.2 0.2 -0.3 0.3 -0.2 0.3 -0.5 0.2 0.2 0.2 0.0 0.3 0.0 0.3 0.2 0.2 0.4 0.2 0.3 0.3 -0.1 0.3 0.0 0.2 0.0 0.2 -0.4 0.3 -0.4 0.3 -0.2 0.2 -0.2 0.2 -0.2 0.3 -0.1 0.3 0.4 0.2 -0.6 0.2 -0.4 0.3 -0.2 0.3 -0.6 0.2 -0.5 0.2 -0.8 0.3 -0.5 0.3 -0.9 0.2 -1.0 0.2 -1.0 0.3 -0.8 0.3 -1.0 0.2 -1.2 0.2 -0.8 0.3 -0.6 0.3 -0.7 0.2 -0.5 0.2 -0.3 0.3 0.4 0.3 0.5 0.2 0.4 0.2 0.9 0.3 0.7 0.3 1.3 0.2 0.4 0.2 1.0 0.3 0.8 0.3 -0.1 0.2 0.4 0.2 -0.1 0.3 0.3 0.3 -0.1 0.2 -0.3 0.2 0.3 0.3 -0.4 0.3 -0.3 0.2 0.2 0.2 -0.3 0.3 0.1 0.3 -0.3 0.2 0.0 0.2 0.3 0.3 -0.1 0.3 0.2 0.2 0.7 0.2 0.6 0.3 0.4 0.3 0.7 0.2 0.3 0.2 0.5 0.3 0.0 0.3 0.3 0.2 0.6 0.2 0.3 0.3 0.2 0.3 0.3 0.2 0.5 0.2 0.2 0.3 0.5 0.3 0.0 0.2 0.2 0.2 0.0 0.3 -0.3 0.3 0.3 0.2 -0.2 0.2 0.1 0.3 0.3 0.3 0.1 0.2 0.7 0.2 -0.3 0.3 -0.2 0.3 -0.3 0.2 -0.2 0.2 -0.3 0.3 -0.3 0.3 0.3 0.2 0.1 0.2 0.1 0.3 0.3 0.3 0.4 0.2 0.2 0.2 0.0 0.3 -0.2 0.3 0.1 0.2 0.1 0.2 0.0 0.3 -0.2 0.3 0.0 0.2 0.0 0.2 0.0 0.3 -0.5 0.3 0.3 0.2 0.1 0.2 0.2 0.3 -0.2 0.3 0.0 0.2 0.2 0.2 -0.1 0.3 0.0 0.3 0.0 0.2 0.1 0.2 0.3 0.3 -0.1 0.3 0.0 0.2 0.0 0.2 0.2 0.3 0.4 0.3 0.0 0.2 0.2 0.2 -0.1 0.3 -0.6 0.3 -0.2 0.2 0.0 0.2 -0.2 0.3 -0.1 0.3 0.0 0.2 0.6 0.2 0.1 0.3 -0.2 0.3 -0.1 0.2 0.1 0.2 0.0 0.3 0.0 0.3 0.0 0.2 -0.2 0.2 0.0 0.3 0.1 0.3 -0.2 0.2 -0.2 0.2 0.3 0.3 0.2 0.3 0.0 0.2 -0.5 0.2 -0.1 0.3 0.1 0.3 0.1 0.2 -0.2 0.2 -0.1 0.3 0.4 0.3 0.1 0.2 0.0 0.2 -0.3 0.3 0.1 0.3 0.0 0.2 -0.4 0.2 -0.1 0.3 0.1 0.3 -0.2 0.2 0.1 0.2 0.4 0.3 0.1 0.3 0.1 0.2 -0.1 0.2 -0.1 0.3 0.2 0.3 -0.4 0.2 0.2 0.2 -0.1 0.3 0.0 0.3 0.5 0.2 0.0 0.2 0.3 0.3 -0.1 0.3 -0.1 0.2 0.0 0.2 -0.1 0.3 0.2 0.3 -0.1 0.2 0.0 0.2 0.0 0.3 -0.2 0.3 -0.3 0.2 -0.2 0.2 -0.1 0.3 0.0 0.3 0.1 0.2 0.2 0.2 0.2 0.3 0.0 0.3 0.1 0.2 -0.2 0.2 0.3 0.3 0.2 0.3 0.0 0.2 -0.2 0.2 -0.5 0.3 0.1 0.3 0.2 0.2 0.1 0.2 -0.2 0.3 0.1 0.3 0.3 0.2 0.2 0.2 0.0 0.3 -0.2 0.3 0.2 0.2 -0.1 0.2 0.0 0.3 -0.5 0.3 -0.3 0.2 -0.3 0.2 -0.3 0.3 0.3 0.3 0.3 0.2 0.3 0.2 0.2 0.3 0.1 0.3 0.3 0.2 0.0 0.2 -0.2 0.3 0.0 0.3 -0.1 0.2 -0.1 0.2 0.2 0.3 0.0 0.3 0.3 0.2 0.1 0.2 0.2 0.3 -0.2 0.3 -0.3 0.2 0.1 0.2 -0.2 0.3 0.1 0.3 0.0 0.2 0.3 0.2 0.0 0.3 -0.2 0.3 0.0 0.2 0.2 0.2 -0.2 0.3 -0.3 0.3 0.1 0.2 0.0 0.2 -0.2 0.3 -0.1 0.3 -0.3 0.2 0.1 0.2 -0.1 0.3 0.2 0.3 -0.1 0.2 -0.6 0.2 0.0 0.3 -0.3 0.3 -0.2 0.2 0.0 0.2 -0.3 0.3 0.0 0.3 -0.2 0.2 -0.4 0.2 -0.1 0.3 0.1 0.3 -0.2 0.2 -0.1 0.2 0.0 0.3 0.2 0.3 -0.3 0.2 -0.4 0.2 0.2 0.3 0.0 0.3 0.0 0.2 0.0 0.2 0.1 0.3 0.1 0.3 -0.1 0.2 0.5 0.2 -0.1 0.3 0.2 0.3 0.4 0.2 0.2 0.2 0.5 0.3 0.1 0.3 0.3 0.2 0.0 0.2 0.0 0.3 -0.1 0.3 0.0 0.2 0.2 0.2 0.0 0.3 0.1 0.3 0.0 0.2 -0.1 0.2 0.2 0.3 -0.3 0.3 0.3 0.2 0.1 0.2 0.1 0.3 0.2 0.3 -0.2 0.2 0.3 0.2 -0.1 0.3 0.3 0.3 -0.1 0.2 -0.3 0.2 -0.1 0.3 0.0 0.3 0.0 0.2 -0.2 0.2 0.1 0.3 0.0 0.3 0.4 0.2 0.0 0.2 0.2 0.3 0.2 0.3 0.1 0.2 -0.1 0.2 -0.4 0.3 -0.3 0.3 -0.1 0.2 -0.1 0.2 -0.3 0.3 0.7 0.3 0.1 0.2 -0.2 0.2 0.0 0.3 0.1 0.3 0.5 0.2 -0.3 0.2 -0.3 0.3 0.2 0.3 0.2 0.2 -0.8 0.2 0.0 0.3 0.1 0.3 0.0 0.2 -0.1 0.2 -0.2 0.3 0.1 0.3 0.2 0.2 0.2 0.2 0.1 0.3 0.2 0.3 0.0 0.2 0.1 0.2 -0.4 0.3 -0.1 0.3 0.2 0.2 -0.1 0.2 0.0 0.3 0.1 0.3 -0.2 0.2 -0.3 0.2 -0.2 0.3 0.0 0.3 0.0 0.2 0.0 0.2 -0.4 0.3 0.1 0.3 -0.1 0.2 -0.1 0.2 0.0 0.3 0.0 0.3 -0.3 0.2 -0.3 0.2 -0.4 0.3 -0.5 0.3 -1.1 0.2 -0.9 0.2 -0.7 0.3 -0.8 0.3 -0.9 0.2 -1.0 0.2 -0.4 0.3 -1.0 0.3 -0.6 0.2 -0.9 0.2 -0.8 0.3 -0.5 0.3 -0.9 0.2 -0.2 0.2 -0.1 0.3 0.3 0.3 0.6 0.2 0.1 0.2 1.0 0.3 0.9 0.3 1.2 0.2 0.9 0.2 0.8 0.3 0.7 0.3 0.5 0.2 0.2 0.2 -0.1 0.3 0.1 0.3 0.1 0.2 0.1 0.2 -0.1 0.3 -0.1 0.3 0.0 0.2 -0.2 0.2 -0.3 0.3 -0.3 0.3 -0.2 0.2 0.1 0.2 0.0 0.3 0.2 0.3 0.3 0.2 0.5 0.2 0.8 0.3 0.6 0.3 0.5 0.2 0.6 0.2 0.2 0.3 0.5 0.3 0.2 0.2 0.4 0.2 0.2 0.3 0.0 0.3 0.7 0.2 0.3 0.2 0.4 0.3 0.1 0.3 0.2 0.2 0.2 0.2 -0.2 0.3 0.1 0.3 0.1 0.2 -0.3 0.2 0.3 0.3 -0.2 0.3 0.1 0.2 0.0 0.2 0.4 0.3 0.2 0.3 -0.2 0.2 0.3 0.2 0.1 0.3 -0.4 0.3 -0.1 0.2 0.2 0.2 -0.1 0.3 -0.2 0.3 0.0 0.2 0.1 0.2 -0.3 0.3 0.2 0.3 0.1 0.2 0.1 0.2 -0.4 0.3 0.0 0.3 0.0 0.2 0.1 0.2 0.3 0.3 0.0 0.3 0.5 0.2 0.1 0.2 0.2 0.3 -0.1 0.3 -0.1 0.2 0.1 0.2 -0.4 0.3 -0.2 0.3 0.0 0.2 -0.3 0.2 0.0 0.3 0.3 0.3 0.1 0.2 0.3 0.2 -0.1 0.3 0.1 0.3 -0.2 0.2 -0.1 0.2 0.0 0.3 -0.5 0.3 0.3 0.2 -0.1 0.2 0.3 0.3 -0.1 0.3 0.0 0.2 0.0 0.2 -0.3 0.3 -0.1 0.3 0.0 0.2 0.2 0.2 0.2 0.3 0.2 0.3 0.4 0.2 0.1 0.2 -0.5 0.3 -0.3 0.3 0.0 0.2 0.0 0.2 0.1 0.3 -0.3 0.3 0.1 0.2 0.0 0.2 -0.4 0.3 -0.3 0.3 -0.1 0.2 0.0 0.2 0.0 0.3 0.2 0.3 0.3 0.2 0.2 0.2 0.0 0.3 -0.1 0.3 0.1 0.2 -0.2 0.2 -0.1 0.3 0.4 0.3 0.1 0.2 0.2 0.2 -0.3 0.3 0.3 0.3 0.0 0.2 0.2 0.2 -0.3 0.3 0.2 0.3 0.0 0.2 -0.2 0.2 -0.1 0.3 -0.3 0.3 0.3 0.2 0.0 0.2 -0.2 0.3 -0.2 0.3 -0.2 0.2 -0.2 0.2 -0.4 0.3 0.0 0.3 0.3 0.2 0.0 0.2 -0.3 0.3 0.1 0.3 0.1 0.2 -0.1 0.2 0.0 0.3 0.1 0.3 0.0 0.2 -0.1 0.2 -0.4 0.3 0.0 0.3 -0.3 0.2 -0.1 0.2 0.3 0.3 -0.3 0.3 0.0 0.2 -0.3 0.2 -0.2 0.3 -0.5 0.3 -0.1 0.2 -0.4 0.2 -0.2 0.3 -0.2 0.3 -0.1 0.2 0.0 0.2 -0.6 0.3 -0.6 0.3 -0.4 0.2 -0.1 0.2 -0.3 0.3 -0.5 0.3 -0.7 0.2 -0.3 0.2 -0.4 0.3 -0.9 0.3 -0.5 0.2 -0.7 0.2 0.0 0.3 -0.4 0.3 -0.4 0.2 0.3 0.2 -0.3 0.3 0.0 0.3 -0.1 0.2 0.0 0.2 0.4 0.3 -0.6 0.3 0.2 0.2 0.3 0.2 0.4 0.3 0.1 0.3 0.1 0.2 0.4 0.2 0.6 0.3 0.5 0.3 0.1 0.2 0.7 0.2 0.6 0.3 0.2 0.3 0.3 0.2 0.2 0.2 0.6 0.3 0.2 0.3 0.2 0.2 0.3 0.2 0.1 0.3 0.1 0.3 -0.1 0.2 0.2 0.2 0.2 0.3 0.2 0.3 0.5 0.2 0.3 0.2 0.4 0.3 0.2 0.3 0.1 0.2 0.3 0.2 0.2 0.3 0.1 0.3 -0.1 0.2 0.0 0.2 0.1 0.3 0.3 0.3 0.2 0.2 0.1 0.2 0.4 0.3 0.7 0.3 -0.3 0.2 0.0 0.2 -0.1 0.3 0.1 0.3 -0.2 0.2 -0.3 0.2 0.1 0.3 0.2 0.3 0.1 0.2 -0.1 0.2 0.3 0.3 0.4 0.3 0.2 0.2 0.2 0.2 -0.5 0.3 0.3 0.3 0.1 0.2 -0.1 0.2 0.0 0.3 0.2 0.3 0.5 0.2 -0.2 0.2 0.0 0.3 0.0 0.3 -0.1 0.2 0.2 0.2 -0.1 0.3 -0.1 0.3 -0.1 0.2 0.2 0.2 0.0 0.3 -0.2 0.3 0.0 0.2 0.1 0.2 -0.1 0.3 0.0 0.3 0.1 0.2 0.3 0.2 -0.1 0.3 0.1 0.3 0.3 0.2 0.1 0.2 0.1 0.3 -0.4 0.3 -0.1 0.2 0.3 0.2 -0.4 0.3 -0.6 0.3 0.1 0.2 0.1 0.2 0.3 0.3 0.1 0.3 0.0 0.2 0.2 0.2 -0.2 0.3 -0.1 0.3 -0.1 0.2 -0.2 0.2 0.0 0.3 0.0 0.3 0.0 0.2 0.1 0.2 -0.2 0.3 -0.1 0.3 0.1 0.2 0.0 0.2 -0.2 0.3 -0.3 0.3 -0.1 0.2 -0.2 0.2 -0.3 0.3 -0.2 0.3 0.1 0.2 0.0 0.2 0.3 0.3 0.2 0.3 0.1 0.2 0.2 0.2 -0.2 0.3 -0.1 0.3 -0.1 0.2 0.2 0.2 -0.1 0.3 0.2 0.3 0.0 0.2 0.0 0.2 -0.1 0.3 0.2 0.3 0.2 0.2 -0.2 0.2 0.1 0.3 0.4 0.3 -0.2 0.2 -0.3 0.2 0.2 0.3 0.4 0.3 0.1 0.2 -0.5 0.2 0.1 0.3 0.2 0.3 0.1 0.2 -0.1 0.2 -0.1 0.3 0.2 0.3 -0.1 0.2 -0.2 0.2 0.3 0.3 0.0 0.3 0.1 0.2 -0.1 0.2 -0.3 0.3 -0.5 0.3 -0.3 0.2 -0.3 0.2 0.4 0.3 0.2 0.3 0.2 0.2 0.1 0.2 -0.2 0.3 0.4 0.3 -0.1 0.2 -0.2 0.2 0.0 0.3 0.2 0.3 -0.2 0.2 -0.2 0.2 -0.4 0.3 0.0 0.3 -0.2 0.2 0.0 0.2 0.0 0.3 0.3 0.3 0.4 0.2 0.4 0.2 0.4 0.3 0.0 0.3 -0.3 0.2 -0.1 0.2 -0.3 0.3 -0.1 0.3 -0.4 0.2 0.4 0.2 0.0 0.3 -0.3 0.3 0.1 0.2 -0.1 0.2 0.1 0.3 -0.3 0.3 -0.1 0.2 -0.2 0.2 0.0 0.3 0.2 0.3 0.0 0.2 0.0 0.2 0.2 0.3 0.1 0.3 0.0 0.2 -0.2 0.2 -0.2 0.3 -0.2 0.3 -0.1 0.2 0.1 0.2 0.1 0.3 -0.1 0.3 0.1 0.2 0.1 0.2 0.0 0.3 -0.1 0.3 -0.2 0.2 0.0 0.2 0.3 0.3 -0.3 0.3 0.3 0.2 -0.1 0.2 0.0 0.3 -0.1 0.3 -0.2 0.2 0.2 0.2 -0.2 0.3 -0.4 0.3 0.1 0.2 0.3 0.2 0.3 0.3 -0.1 0.3 -0.5 0.2 0.2 0.2 -0.2 0.3 -0.4 0.3 -0.5 0.2 0.0 0.2 0.0 0.3 -0.5 0.3 -0.2 0.2 -0.8 0.2 -0.5 0.3 -0.6 0.3 -1.0 0.2 -0.7 0.2 -1.0 0.3 -1.0 0.3 -0.9 0.2 -1.2 0.2 -0.9 0.3 -0.8 0.3 -0.9 0.2 -0.2 0.2 -0.3 0.3 0.2 0.3 0.5 0.2 0.5 0.2 0.8 0.3 1.2 0.3 1.0 0.2 0.9 0.2 0.8 0.3 0.8 0.3 0.7 0.2 0.7 0.2 0.5 0.3 0.4 0.3 0.3 0.2 0.4 0.2 -0.1 0.3 -0.4 0.3 -0.4 0.2 -0.4 0.2 -0.3 0.3 -0.7 0.3 -0.3 0.2 -0.5 0.2 -0.4 0.3 -0.5 0.3 -0.3 0.2 0.2 0.2 0.3 0.3 0.1 0.3 0.7 0.2 0.5 0.2 0.6 0.3 0.5 0.3 0.7 0.2 0.6 0.2 0.3 0.3 0.4 0.3 0.7 0.2 0.2 0.2 0.4 0.3 0.2 0.3 0.1 0.2 0.3 0.2 0.0 0.3 0.4 0.3 0.0 0.2 0.2 0.2 -0.1 0.3 0.2 0.3 0.2 0.2 0.2 0.2 -0.1 0.3 0.4 0.3 0.3 0.2 0.0 0.2 0.0 0.3 -0.3 0.3 0.2 0.2 0.4 0.2 -0.2 0.3 0.4 0.3 0.0 0.2 0.1 0.2 -0.4 0.3 -0.4 0.3 0.5 0.2 -0.1 0.2 0.3 0.3 -0.1 0.3 0.3 0.2 0.2 0.2 -0.3 0.3 -0.2 0.3 -0.2 0.2 0.2 0.2 -0.1 0.3 -0.2 0.3 0.0 0.2 -0.2 0.2 0.2 0.3 -0.1 0.3 0.2 0.2 0.1 0.2 0.0 0.3 0.2 0.3 -0.1 0.2 0.1 0.2 -0.1 0.3 -0.1 0.3 -0.1 0.2 -0.2 0.2 0.4 0.3 0.0 0.3 -0.2 0.2 0.3 0.2 0.2 0.3 0.3 0.3 0.0 0.2 0.0 0.2 0.0 0.3 0.0 0.3 -0.2 0.2 0.0 0.2 -0.3"/>
<path stroke="#006EE6" d="M144.4 1099.5l0.5 0.2 0.5 0.8 0.5 -0.5 0.5 -0.3 0.5 0.2 0.5 -0.8 0.5 -0.5 0.5 0.1 0.5 -0.2 0.5 -0.4 0.5 0.2 0.5 0.4 0.5 0.0 0.5 0.4 0.5 0.4 0.5 0.2 0.5 0.0 0.5 -0.4 0.5 -0.4 0.5 -0.3 0.5 0.0 0.5 -0.3 0.5 0.5 0.5 0.0 0.5 0.8 0.5 0.1 0.5 -0.3 0.5 -0.3 0.5 -0.1 0.5 -0.4 0.5 -0.8 0.5 0.2 0.5 -0.2 0.5 0.0 0.5 0.5 0.5 0.6 0.5 0.5 0.5 0.1 0.5 0.0 0.5 0.0 0.5 0.1 0.5 0.1 0.5 -0.9 0.5 -0.4 0.5 0.5 0.5 -0.3 0.5 0.6 0.5 0.8 0.5 -0.6 0.5 0.4 0.5 0.0 0.5 -0.3 0.5 -0.3 0.5 0.4 0.5 -0.6 0.5 -0.2 0.5 0.7 0.5 -0.3 0.5 0.5 0.5 0.1 0.5 -0.6 0.5 -0.2 0.5 -0.2 0.5 0.2 0.5 0.2 0.5 0.6 0.5 0.3 0.5 0.2 0.5 -0.1 0.5 0.2 0.5 0.2 0.5 0.1 0.5 0.0 0.5 0.2 0.5 -0.3 0.5 -0.7 0.5 -0.2 0.5 -0.3 0.5 -0.1 0.5 -0.3 0.5 -0.2 0.5 -0.1 0.5 0.8 0.5 0.1 0.5 -0.4 0.5 -0.2 0.5 -0.1 0.5 0.1 0.5 0.4 0.5 -0.2 0.5 0.1 0.5 1.1 0.5 -0.7 0.5 0.1 0.5 0.0 0.5 -0.1 0.5 0.4 0.5 0.5 0.5 0.5 0.5 -1.0 0.5 -0.5 0.5 -0.5 0.5 0.5 0.5 -0.1 0.5 -0.3 0.5 0.3 0.5 -0.1 0.5 0.4 0.5 0.0 0.5 -0.1 0.5 0.1 0.5 -1.1 0.5 0.1 0.5 0.4 0.5 0.3 0.5 0.2 0.5 -0.4 0.5 0.2 0.5 0.4 0.5 0.1 0.5 0.3 0.5 0.1 0.5 -0.5 0.5 -0.7 0.5 -0.5 0.5 0.2 0.5 0.6 0.5 0.3 0.5 0.2 0.5 0.6 0.5 -1.1 0.5 -0.6 0.5 -0.2 0.5 -0.1 0.5 0.0 0.5 0.2 0.5 0.5 0.5 0.3 0.5 0.4 0.5 -0.5 0.5 0.1 0.5 -0.2 0.5 -0.6 0.5 0.2 0.5 0.1 0.5 0.5 0.5 -0.1 0.5 -0.5 0.5 0.0 0.5 -0.4 0.5 0.4 0.5 0.5 0.5 0.4 0.5 1.0 0.5 -0.1 0.5 -0.5 0.5 0.1 0.5 0.1 0.5 -0.3 0.5 -0.2 0.5 -0.3 0.5 0.2 0.5 0.0 0.5 1.0 0.5 0.1 0.5 -0.2 0.5 0.0 0.5 -0.7 0.5 0.1 0.5 -0.4 0.5 -0.2 0.5 -0.4 0.5 -0.5 0.5 0.0 0.5 -0.1 0.5 0.0 0.5 0.7 0.5 0.0 0.5 0.5 0.5 0.9 0.5 0.0 0.5 0.0 0.5 -0.5 0.5 -0.2 0.5 0.2 0.5 -0.4 0.5 0.3 0.5 -0.1 0.5 -0.7 0.5 0.3 0.5 0.3 0.5 -0.4 0.5 -0.1 0.5 0.0 0.5 -0.5 0.5 -0.3 0.5 0.6 0.5 0.0 0.5 0.6 0.5 0.3 0.5 -0.3 0.5 0.0 0.5 -0.5 0.5 -0.1 0.5 0.4 0.5 -0.1 0.5 0.1 0.5 0.4 0.5 -0.3 0.5 0.6 0.5 0.2 0.5 -0.3 0.5 -0.1 0.5 -0.5 0.5 -0.5 0.5 -0.1 0.5 0.7 0.5 0.6 0.5 -0.2 0.5 0.7 0.5 0.0 0.5 -0.1 0.5 0.1 0.5 0.2 0.5 0.2 0.5 0.3 0.5 0.2 0.5 -0.3 0.5 0.1 0.5 -0.2 0.5 0.0 0.5 -0.8 0.5 0.0 0.5 -0.8 0.5 -0.3 0.5 0.3 0.5 0.4 0.5 0.8 0.5 -0.1 0.5 -0.3 0.5 0.3 0.5 0.4 0.5 -0.7 0.5 0.3 0.5 -0.2 0.5 -0.2 0.5 -0.3 0.5 0.1 0.5 0.7 0.5 0.0 0.5 -0.1 0.5 -0.8 0.5 -0.4 0.5 -0.4 0.5 -0.2 0.5 0.2 0.5 0.5 0.5 -0.1 0.5 0.1 0.5 0.1 0.5 0.6 0.5 0.1 0.5 0.1 0.5 -0.2 0.5 -0.2 0.5 -0.3 0.5 -0.7 0.5 0.2 0.5 0.0 0.5 0.7 0.5 -0.1 0.5 -0.1 0.5 0.1 0.5 -0.3 0.5 0.2 0.5 -0.1 0.5 -0.5 0.5 0.1 0.5 0.1 0.5 -0.4 0.5 -0.1 0.5 -0.4 0.5 -0.8 0.5 0.4 0.5 0.3 0.5 0.3 0.5 -0.3 0.5 -0.5 0.5 0.6 0.5 0.2 0.5 -0.3 0.5 0.3 0.5 -0.3 0.5 0.8 0.5 0.1 0.5 -0.2 0.5 0.4 0.5 -0.3 0.5 0.4 0.5 -0.1 0.5 0.0 0.5 0.1 0.5 -0.3 0.5 0.1 0.5 0.8 0.5 -0.3 0.5 0.3 0.5 0.5 0.5 -0.5 0.5 0.1 0.5 -0.1 0.5 0.2 0.5 0.0 0.5 -0.2 0.5 0.0 0.5 0.3 0.5 0.1 0.5 0.3 0.5 -0.4 0.5 0.0 0.5 -0.6 0.5 -0.1 0.5 0.4 0.5 -0.2 0.5 0.7 0.5 -0.2 0.5 -0.3 0.5 0.3 0.5 0.1 0.5 -0.1 0.5 0.1 0.5 0.1 0.5 0.0 0.5 -0.1 0.5 0.2 0.5 0.3 0.5 0.0 0.5 0.0 0.5 -0.1 0.5 -0.3 0.5 -0.1 0.5 -0.1 0.5 0.5 0.5 -0.3 0.5 -0.3 0.5 0.3 0.5 -0.3 0.5 0.1 0.5 -0.5 0.5 -0.1 0.5 0.1 0.5 -0.8 0.5 0.2 0.5 0.1 0.5 0.1 0.5 0.0 0.5 0.0 0.5 -0.4 0.5 -0.1 0.5 0.8 0.5 -0.4 0.5 0.6 0.5 0.4 0.5 -0.1 0.5 0.4 0.5 0.2 0.5 0.2 0.5 -0.1 0.5 -0.4 0.5 0.2 0.5 0.4 0.5 0.5 0.5 0.5 0.5 -0.7 0.5 -0.5 0.5 0.2 0.5 0.3 0.5 0.7 0.5 -0.6 0.5 -0.8 0.5 -0.3 0.5 -0.6 0.5 0.3 0.5 -0.1 0.5 0.1 0.5 -0.1 0.5 -0.2 0.5 0.6 0.5 -0.1 0.5 -0.1 0.5 -0.4 0.5 -0.3 0.5 -0.6 0.5 -0.7 0.5 -0.1 0.5 -0.1 0.5 0.8 0.5 0.6 0.5 -0.2 0.5 -0.3 0.5 -0.7 0.5 -0.1 0.5 0.1 0.5 0.3 0.5 0.8 0.5 0.3 0.5 0.0 0.5 -0.2 0.5 0.2 0.5 -0.4 0.5 -0.2 0.5 0.2 0.5 0.0 0.5 0.3 0.5 0.1 0.5 -0.2 0.5 -0.1 0.5 0.0 0.5 0.1 0.5 0.1 0.5 0.3 0.5 0.1 0.5 0.4 0.5 -0.5 0.5 -0.4 0.5 -0.5 0.5 -0.7 0.5 0.6 0.5 -0.4 0.5 -0.2 0.5 0.1 0.5 -0.6 0.5 0.2 0.5 0.0 0.5 0.0 0.5 -0.4 0.5 -0.2 0.5 -0.4 0.5 0.0 0.5 0.4 0.5 -0.7 0.5 -0.3 0.5 0.0 0.5 0.0 0.5 0.4 0.5 -0.1 0.5 -0.2 0.5 0.3 0.5 -0.2 0.5 0.2 0.5 -0.2 0.5 -0.7 0.5 -0.2 0.5 -0.2 0.5 0.1 0.5 0.5 0.5 0.7 0.5 0.7 0.5 0.4 0.5 0.4 0.5 0.8 0.5 0.0 0.5 -0.1 0.5 0.3 0.5 -0.7 0.5 0.3 0.5 0.2 0.5 0.1 0.5 -0.8 0.5 -0.7 0.5 -0.4 0.5 0.1 0.5 0.9 0.5 0.7 0.5 0.1 0.5 -0.2 0.5 -0.9 0.5 -0.5 0.5 0.0 0.5 -0.1 0.5 0.6 0.5 0.1 0.5 0.8 0.5 -0.2 0.5 0.0 0.5 0.4 0.5 0.3 0.5 0.0 0.5 -0.9 0.5 0.5 0.5 0.0 0.5 0.1 0.5 0.8 0.5 0.0 0.5 -0.4 0.5 -0.1 0.5 0.1 0.5 0.9 0.5 0.0 0.5 0.1 0.5 -0.1 0.5 0.3 0.5 0.8 0.5 -0.1 0.5 -0.2 0.5 -0.3 0.5 0.0 0.5 0.1 0.5 0.3 0.5 -0.2 0.5 -0.6 0.5 -0.6 0.5 -0.2 0.5 -0.3 0.5 0.1 0.5 0.3 0.5 0.4 0.5 0.3 0.5 0.3 0.5 -0.4 0.5 -0.2 0.5 -0.2 0.5 0.1 0.5 0.0 0.5 -0.1 0.5 0.7 0.5 -0.2 0.5 -0.1 0.5 0.5 0.5 -0.6 0.5 0.3 0.5 0.3 0.5 -0.3 0.5 -0.2 0.5 -0.6 0.5 -0.7 0.5 0.0 0.5 0.1 0.5 -0.1 0.5 -0.3 0.5 -0.4 0.5 0.0 0.5 0.2 0.5 0.1 0.5 0.4 0.5 0.7 0.5 0.2 0.5 0.5 0.5 0.0 0.5 -0.1 0.5 0.2 0.5 -0.7 0.5 0.3 0.5 0.2 0.5 -0.1 0.5 0.3 0.5 0.0 0.5 0.0 0.5 -0.5 0.5 -0.1 0.5 0.1 0.5 -0.2 0.5 0.4 0.5 -0.1 0.5 0.0 0.5 0.2 0.5 -0.2 0.5 -0.2 0.5 0.2 0.5 0.0 0.5 -0.4 0.5 -0.4 0.5 -0.4 0.5 0.3 0.5 -0.3 0.5 0.4 0.5 0.2 0.5 0.0 0.5 -0.6 0.5 0.0 0.5 0.2 0.5 0.3 0.5 0.9 0.5 0.0 0.5 0.0 0.5 -0.4 0.5 -0.2 0.5 -0.3 0.5 0.5 0.5 -0.8 0.5 0.2 0.5 0.3 0.5 -0.6 0.5 0.6 0.5 -0.2 0.5 -0.1 0.5 0.2 0.5 0.0 0.5 0.1 0.5 0.2 0.5 -0.3 0.5 0.7 0.5 0.2 0.5 0.6 0.5 -0.4 0.5 -0.4 0.5 0.4 0.5 -0.8 0.5 0.8 0.5 -0.3 0.5 0.3 0.5 0.6 0.5 -0.6 0.5 0.1 0.5 -0.8 0.5 -0.2 0.5 0.1 0.5 0.0 0.5 0.6 0.5 0.6 0.5 -0.5 0.5 -0.3 0.5 -0.3 0.5 -0.3 0.5 0.7 0.5 0.2 0.5 -0.1 0.5 -0.4 0.5 0.1 0.5 0.3 0.5 0.4 0.5 0.1 0.5 -0.6 0.5 -0.2 0.5 0.1 0.5 0.2 0.5 0.2 0.5 0.2 0.5 0.7 0.5 0.4 0.5 0.0 0.5 0.3 0.5 0.0 0.5 -0.7 0.5 0.2 0.5 -0.3 0.5 -0.4 0.5 0.2 0.5 0.1 0.5 0.0 0.5 -0.7 0.5 -0.2 0.5 -0.5 0.5 0.2 0.5 0.0 0.5 -0.5 0.5 -0.1 0.5 0.2 0.5 0.1 0.5 0.2 0.5 0.3 0.5 -0.7 0.5 0.5 0.5 0.0 0.5 -0.3 0.5 0.8 0.5 0.1 0.5 0.0 0.5 0.0 0.5 0.2 0.5 0.1 0.5 -0.4 0.5 -0.4 0.5 0.0 0.5 -0.2 0.5 0.2 0.5 0.0 0.5 0.0 0.5 0.2 0.5 -0.3 0.5 -0.4 0.5 -0.4 0.5 0.0 0.5 0.9 0.5 0.4 0.5 0.9 0.5 0.4 0.5 -0.4 0.5 0.1 0.5 -0.1 0.5 0.4 0.5 -0.8 0.5 -0.5 0.5 -0.4 0.5 0.0 0.5 0.7 0.5 0.7 0.5 0.0 0.5 -0.1 0.5 -0.2 0.5 -0.5 0.5 0.5 0.5 -0.2 0.5 -0.2 0.5 -0.1 0.5 -0.6 0.5 -0.1 0.5 -0.6 0.5 -0.1 0.5 -0.2 0.5 0.2 0.5 0.2 0.5 0.3 0.5 0.3 0.5 0.6 0.5 -0.3 0.5 -0.3 0.5 0.4 0.5 -0.4 0.5 0.3 0.5 0.5 0.5 0.3 0.5 -0.2 0.5 0.4 0.5 -0.5 0.5 0.1 0.5 0.3 0.5 -0.9 0.5 -0.4 0.5 0.2 0.5 -0.3 0.5 -0.1 0.5 0.7 0.5 0.3 0.5 0.4 0.5 -0.2 0.5 -0.4 0.5 -0.9 0.5 -1.0 0.5 -0.8 0.5 -1.3 0.5 -1.3 0.5 -0.3 0.5 -0.2 0.5 0.6 0.5 1.2 0.5 -0.5 0.5 0.3 0.5 0.7 0.5 0.2 0.5 1.5 0.5 0.7 0.5 0.6 0.5 0.6 0.5 0.4 0.5 0.5 0.5 0.1 0.5 0.0 0.5 -0.3 0.5 0.0 0.5 -0.3 0.5 -0.1 0.5 0.6 0.5 0.0 0.5 -0.3 0.5 -0.1 0.5 -0.2 0.5 0.1 0.5 -0.1 0.5 -0.3 0.5 0.0 0.5 0.1 0.5 0.1 0.5 0.2 0.5 0.3 0.5 0.3 0.5 0.4 0.5 -0.6 0.5 -0.1 0.5 -0.5 0.5 -0.1 0.5 0.5 0.5 -0.1 0.5 0.0 0.5 -0.5 0.5 -0.1 0.5 0.5 0.5 0.6 0.5 -0.7 0.5 -0.5 0.5 -0.7 0.5 -0.2 0.5 0.4 0.5 0.4 0.5 0.7 0.5 0.1 0.5 0.0 0.5 0.2 0.5 0.1 0.5 -0.1 0.5 0.5 0.5 0.1 0.5 0.6 0.5 -0.1 0.5 -0.4 0.5 -0.4 0.5 -0.8 0.5 0.4 0.5 0.1 0.5 0.3 0.5 -0.3 0.5 -0.7 0.5 -0.3 0.5 -0.5 0.5 0.3 0.5 0.1 0.5 0.2 0.5 0.3 0.5 -0.4 0.5 0.0 0.5 0.3 0.5 -0.1 0.5 0.5 0.5 0.1 0.5 0.0 0.5 -0.6 0.5 -0.4 0.5 -0.6 0.5 -0.3 0.5 0.1 0.5 0.6 0.5 -0.1 0.5 0.2 0.5 0.1 0.5 -0.4 0.5 0.4 0.5 -0.5 0.5 0.5 0.5 0.5 0.5 0.5 0.5 0.4 0.5 0.1 0.5 -0.6 0.5 -0.3 0.5 -1.0 0.5 0.5 0.5 0.6 0.5 -0.2 0.5 0.7 0.5 -0.5 0.5 0.3 0.5 -0.1 0.5 -0.4 0.5 0.2 0.5 -0.4 0.5 -0.4 0.5 1.0 0.5 0.2 0.5 0.4 0.5 -0.1 0.5 -0.6 0.5 -0.4 0.5 -0.6 0.5 0.2 0.5 0.0 0.5 0.0 0.5 -0.1 0.5 0.0 0.5 -0.4 0.5 -0.6 0.5 0.4 0.5 -0.6 0.5 0.1 0.5 0.9 0.5 -0.3 0.5 0.5 0.5 0.5 0.5 0.5 0.5 0.7 0.5 0.5 0.5 -0.4 0.5 -0.2 0.5 -0.5 0.5 0.1 0.5 -0.2 0.5 -0.5 0.5 0.2 0.5 -0.3 0.5 0.2 0.5 -0.3 0.5 -0.1 0.5 -0.5 0.5 -0.1 0.5 0.4 0.5 0.0 0.5 0.6 0.5 -0.3 0.5 0.0 0.5 -0.3 0.5 0.3 0.5 0.5 0.5 -0.2 0.5 0.1 0.5 -0.2 0.5 -0.1 0.5 -0.8 0.5 0.3 0.5 0.3 0.5 0.6 0.5 0.0 0.5 0.1 0.5 -0.3 0.5 -0.8 0.5 0.1 0.5 -0.7 0.5 0.5 0.5 0.2 0.5 -0.2 0.5 0.5 0.5 -0.4 0.5 0.2 0.5 0.2 0.5 -1.1 0.5 0.4 0.5 0.5 0.5 -0.5 0.5 -0.2 0.5 -0.4 0.5 -0.5 0.5 0.3 0.5 0.2 0.5 -0.2 0.5 0.5 0.5 0.5 0.5 0.1 0.5 0.3 0.5 -0.3 0.5 -0.5 0.5 -0.2 0.5 0.3 0.5 0.3 0.5 0.6 0.5 0.1 0.5 -0.7 0.5 -0.1 0.5 -0.4 0.5 -0.4 0.5 0.4 0.5 -0.2 0.5 0.4 0.5 0.4 0.5 0.0 0.5 -0.3 0.5 -0.3 0.5 0.2 0.5 -0.7 0.5 -0.1 0.5 0.1 0.5 0.0 0.5 0.6 0.5 -0.1 0.5 0.2 0.5 0.3 0.5 -0.9 0.5 -0.3 0.5 0.0 0.5 -0.1 0.5 1.0 0.5 -0.2 0.5 0.1 0.5 0.0 0.5 -0.4 0.5 0.3 0.5 0.1 0.5 0.3 0.5 -0.3 0.5 0.0 0.5 -0.1 0.5 -0.4 0.5 0.2 0.5 0.7 0.5 0.3 0.5 0.1 0.5 0.3 0.5 -0.1 0.5 -0.5 0.5 -0.6 0.5 -0.5 0.5 0.2 0.5 0.3 0.5 0.1 0.5 0.0 0.5 -0.4 0.5 -0.3 0.5 -0.1 0.5 -0.5 0.5 0.2 0.5 -0.3 0.5 -0.8 0.5 0.1 0.5 -0.6 0.5 0.3 0.5 0.4 0.5 -0.5 0.5 0.1 0.5 0.2 0.5 -0.1 0.5 0.6 0.5 0.2 0.5 -0.3 0.5 0.0 0.5 -0.4 0.5 0.5 0.5 0.3 0.5 -0.2 0.5 -0.2 0.5 -0.4 0.5 0.1 0.5 0.0 0.5 -0.1 0.5 -0.6 0.5 -0.4 0.5 -0.1 0.5 0.4 0.5 0.4 0.5 0.5 0.5 -0.3 0.5 -0.5 0.5 -0.1 0.5 -0.4 0.5 0.4 0.5 0.2 0.5 -0.3 0.5 -0.4 0.5 -0.2 0.5 0.2 0.5 0.0 0.5 0.3 0.5 -0.1 0.5 0.4 0.5 0.5 0.5 -0.2 0.5 -0.5 0.5 -1.1 0.5 -1.2 0.5 -0.4 0.5 0.2 0.5 0.3 0.5 -0.1 0.5 0.0 0.5 -0.1 0.5 -0.5 0.5 0.6 0.5 -0.2 0.5 -0.1 0.5 0.3 0.5 -0.2 0.5 -0.2 0.5 0.2 0.5 -0.4 0.5 -0.3 0.5 0.0 0.5 0.2 0.5 1.2 0.5 0.1 0.5 0.7 0.5 -0.7 0.5 -0.7 0.5 0.1 0.5 -0.3 0.5 0.7 0.5 -0.6 0.5 -0.6 0.5 0.1 0.5 -0.9 0.5 0.5 0.5 0.9 0.5 -0.2 0.5 0.8 0.5 0.0 0.5 -0.2 0.5 0.1 0.5 0.2 0.5 -0.8 0.5 0.3 0.5 -0.1 0.5 -0.4 0.5 0.5 0.5 0.0 0.5 -0.1 0.5 -0.3 0.5 -0.1 0.5 -0.4 0.5 0.4 0.5 0.7 0.5 0.5 0.5 0.0 0.5 0.4 0.5 -0.4 0.5 -0.1 0.5 0.3 0.5 0.0 0.5 0.8 0.5 0.9 0.5 -0.2 0.5 -0.5 0.5 -0.1 0.5 -0.7 0.5 -0.2 0.5 0.5 0.5 0.0 0.5 0.3 0.5 -0.2 0.5 0.3 0.5 0.5 0.5 0.0 0.5 0.2 0.5 -0.2 0.5 0.2 0.5 0.2 0.5 0.0 0.5 0.0 0.5 0.1 0.5 0.5 0.5 -0.1 0.5 -0.2 0.5 0.1 0.5 0.1 0.5 -0.5 0.5 0.0 0.5 -0.3 0.5 0.2 0.5 0.3 0.5 0.1 0.5 0.5 0.5 -0.1 0.5 0.0 0.5 0.1 0.5 -0.5 0.5 -0.3 0.5 0.2 0.5 -0.6 0.5 0.4 0.5 0.3 0.5 0.3 0.5 0.2 0.5 -0.1 0.5 -0.4 0.5 0.1 0.5 0.0 0.5 0.1 0.5 0.1 0.5 0.2 0.5 0.4 0.5 0.1 0.5 -0.5 0.5 -0.1 0.5 0.4 0.5 -0.9 0.5 0.3 0.5 0.2 0.5 0.3 0.5 0.3 0.5 -0.5 0.5 0.2 0.5 -0.6 0.5 0.4 0.5 0.3 0.5 0.0 0.5 0.4 0.5 -0.5 0.5 -0.9 0.5 -0.2 0.5 0.3 0.5 0.3 0.5 0.5 0.5 0.5 0.5 -0.7 0.5 -0.2 0.5 -0.1 0.5 -0.4 0.5 -0.1 0.5 -0.2 0.5 -0.2 0.5 -0.2 0.5 -0.2 0.5 0.0 0.5 0.2 0.5 -0.4 0.5 0.1 0.5 0.4 0.5 -0.5 0.5 -0.4 0.5 -0.1 0.5 -0.8 0.5 -0.4 0.5 -1.1 0.5 -1.2 0.5 -1.0 0.5 -1.3 0.5 -1.5 0.5 -2.1 0.5 -2.0 0.5 -1.4 0.5 -1.0 0.5 0.9 0.5 1.5 0.5 1.0 0.5 1.4 0.5 1.7 0.5 1.4 0.5 1.9 0.5 1.1 0.5 0.9 0.5 0.5 0.5 0.2 0.5 1.0 0.5 0.8 0.5 0.1 0.5 0.0 0.5 0.0 0.5 -0.9 0.5 0.4 0.5 -0.1 0.5 -0.4 0.5 0.0 0.5 0.0 0.5 0.1 0.5 -0.1 0.5 0.7 0.5 -0.4 0.5 0.1 0.5 0.8 0.5 0.0 0.5 0.2 0.5 -0.2 0.5 -0.7 0.5 -0.3 0.5 0.4 0.5 0.7 0.5 0.1 0.5 0.0 0.5 0.3 0.5 -0.2 0.5 0.7 0.5 0.1 0.5 0.4 0.5 -1.3 0.5 -0.5 0.5 0.5 0.5 0.3 0.5 0.5 0.5 -0.4 0.5 -0.7 0.5 -1.1 0.5 0.0 0.5 -0.1 0.5 0.2 0.5 0.4 0.5 0.3 0.5 -0.3 0.5 0.8 0.5 0.1 0.5 -0.4 0.5 0.1 0.5 0.1 0.5 0.1 0.5 0.2 0.5 -0.5 0.5 -0.5 0.5 -1.0 0.5 -0.6 0.5 0.1 0.5 0.4 0.5 0.1 0.5 0.4 0.5 0.3 0.5 -0.6 0.5 0.2 0.5 -0.3 0.5 -0.7 0.5 -0.2 0.5 -0.4 0.5 -0.1 0.5 0.3 0.5 0.2 0.5 -0.2 0.5 0.0 0.5 0.4 0.5 0.5 0.5 -0.3 0.5 -1.0 0.5 -0.8 0.5 -0.7 0.5 -0.6 0.5 0.6 0.5 0.3 0.5 -0.6 0.5 -0.2 0.5 -0.7 0.5 -1.1 0.5 0.4 0.5 -0.2 0.5 0.1 0.5 0.5 0.5 0.0 0.5 -0.3 0.5 -0.3 0.5 0.0 0.5 -0.3 0.5 0.0 0.5 -0.4 0.5 -0.5 0.5 -0.5 0.5 -0.5 0.5 -0.9 0.5 -0.8 0.5 -1.8 0.5 -1.6 0.5 -0.5 0.5 -1.3 0.5 -0.1 0.5 -0.7 0.5 -1.3 0.5 -0.6 0.5 -1.4 0.5 -0.5 0.5 0.1 0.5 0.3 0.5 0.1 0.5 0.5 0.5 1.8 0.5 1.0 0.5 1.3 0.5 1.6 0.5 1.0 0.5 1.1 0.5 1.3 0.5 0.9 0.5 1.1 0.5 0.9 0.5 1.0 0.5 1.1 0.5 1.2 0.5 0.2 0.5 0.0 0.5 0.2 0.5 0.3 0.5 0.8 0.5 0.3 0.5 -0.1 0.5 0.4 0.5 0.2 0.5 -0.1 0.5 1.2 0.5 -0.2 0.5 -0.1 0.5 0.3 0.5 0.5 0.5 0.5 0.5 -0.3 0.5 0.4 0.5 -0.3 0.5 0.1 0.5 0.7 0.5 -0.5 0.5 0.0 0.5 0.5 0.5 -0.1 0.5 0.0 0.5 -0.2 0.5 -0.3 0.5 -0.7 0.5 0.4 0.5 -0.1 0.5 -0.4 0.5 0.1 0.5 -0.3 0.5 0.7 0.5 0.0 0.5 0.0 0.5 -0.6 0.5 -0.8 0.5 0.7 0.5 -0.3 0.5 0.2 0.5 0.6 0.5 -0.6 0.5 0.9 0.5 0.7 0.5 -0.1 0.5 0.2 0.5 -0.3 0.5 -0.4 0.5 0.5 0.5 0.2 0.5 0.7 0.5 -0.7 0.5 -0.4 0.5 -0.5 0.5 -0.7 0.5 0.0 0.5 -0.4 0.5 -0.3 0.5 -0.2 0.5 -0.9 0.5 -1.5 0.5 -1.6 0.5 -2.1 0.5 -1.0 0.5 -1.6 0.5 -1.4 0.5 -0.7 0.5 -0.8 0.5 0.0 0.5 0.5 0.5 0.9 0.5 1.8 0.5 0.9 0.5 1.8 0.5 1.3 0.5 1.7 0.5 1.3 0.5 0.7 0.5 1.4 0.5 0.3 0.5 1.1 0.5 1.0 0.5 0.5 0.5 0.2 0.5 0.3 0.5 -0.2 0.5 -0.1 0.5 0.3 0.5 0.2 0.5 0.7 0.5 0.3 0.5 0.0 0.5 0.3 0.5 0.6 0.5 -0.6 0.5 0.4 0.5 -0.8 0.5 0.5 0.5 0.5 0.5 0.2 0.5 0.3 0.5 -0.8 0.5 -0.2 0.5 -0.1 0.5 0.1 0.5 0.8 0.5 0.6 0.5 0.5 0.5 0.4 0.5 0.2 0.5 0.7 0.5 -0.9 0.5 -0.3 0.5 -0.9 0.5 0.1 0.5 0.2 0.5 -0.2 0.5 0.0 0.5 0.3 0.5 -0.8 0.5 0.0 0.5 0.6 0.5 0.1 0.5 0.6 0.5 0.1 0.5 0.1 0.5 -0.3 0.5 -0.3 0.5 -0.1 0.5 0.6 0.5 0.0 0.5 0.3 0.5 0.3 0.5 0.1 0.5 -0.6 0.5 -0.4 0.5 -0.1 0.5 0.1 0.5 1.0 0.5 -0.2 0.5 0.6 0.5 0.2 0.5 -0.4 0.5 0.5 0.5 0.3 0.5 -0.4 0.5 0.1 0.5 0.2 0.5 -1.0 0.5 0.2 0.5 -0.2 0.5 0.7 0.5 1.1 0.5 0.0 0.5 0.2 0.5 -0.7 0.5 0.1 0.5 0.6 0.5 -0.2 0.5 0.1 0.5 0.5 0.5 -0.3 0.5 0.4 0.5 0.2 0.5 0.1 0.5 -0.6 0.5 -0.5 0.5 0.1 0.5 -0.7 0.5 0.2 0.5 0.5 0.5 0.1 0.5 -0.4 0.5 -0.4 0.5 0.2 0.5 -0.4 0.5 0.9 0.5 0.3 0.5 -0.3 0.5 0.6 0.5 -0.8 0.5 -0.1 0.5 -0.1 0.5 0.0 0.5 -0.5 0.5 -0.3 0.5 0.2 0.5 0.0 0.5 -0.1 0.5 0.4 0.5 0.6 0.5 -0.2 0.5 0.4 0.5 -0.4 0.5 -0.9 0.5 -0.1 0.5 -0.2 0.5 0.0 0.5 0.3 0.5 0.5 0.5 -0.1 0.5 0.5 0.5 0.5 0.5 0.0 0.5 0.1 0.5 -0.2 0.5 -0.2 0.5 -0.2 0.5 0.4 0.5 0.5 0.5 0.5 0.5 0.1 0.5 -0.2 0.5 -0.4 0.5 -0.7 0.5 0.1 0.5 -0.4 0.5 0.4 0.5 -0.6 0.5 0.1 0.5 0.3 0.5 0.4 0.5 1.0 0.5 -0.7 0.5 -0.2 0.5 -0.5 0.5 -0.4 0.5 0.3 0.5 0.0 0.5 -0.5 0.5 0.7 0.5 -0.1 0.5 -0.4 0.5 0.3 0.5 -0.8 0.5 0.3 0.5 -0.1 0.5 -0.5 0.5 0.3 0.5 -0.2 0.5 -0.1 0.5 0.4 0.5 -1.0 0.5 -0.5 0.5 -0.7 0.5 -1.8 0.5 -0.6 0.5 -2.2 0.5 -1.4 0.5 -1.5 0.5 -1.5 0.5 -0.4 0.5 0.5 0.5 0.4 0.5 0.0 0.5 0.7 0.5 1.1 0.5 1.2 0.5 1.5 0.5 1.3 0.5 1.6 0.5 1.3 0.5 0.1 0.5 0.3 0.5 0.1 0.5 -0.1 0.5 0.6 0.5 0.4 0.5 0.2 0.5 -0.3 0.5 -0.4 0.5 0.4 0.5 0.3 0.5 0.5 0.5 0.4 0.5 0.1 0.5 0.9 0.5 0.2 0.5 0.3 0.5 -0.6 0.5 -0.8 0.5 0.0 0.5 -0.2 0.5 0.5 0.5 0.3 0.5 0.2 0.5 0.1 0.5 -0.3 0.5 -0.1 0.5 -0.3 0.5 -0.4 0.5 -0.2 0.5 -0.2 0.5 -0.2 0.5 0.3 0.5 -0.1 0.5 0.0 0.5 0.4 0.5 -0.3 0.5 0.1 0.5 -0.3 0.5 0.1 0.5 0.3 0.5 -0.5 0.5 0.1 0.5 -0.3 0.5 0.3 0.5 -0.1 0.5 0.6 0.5 0.1 0.5 -0.1 0.5 0.5 0.5 0.0 0.5 -0.5 0.5 -0.1 0.5 -0.4 0.5 -0.1 0.5 -0.4 0.5 0.1 0.5 0.0 0.5 -0.2 0.5 0.2 0.5 -0.1 0.5 0.0 0.5 0.0 0.5 -0.2 0.5 0.2 0.5 -0.6 0.5 -0.5 0.5 0.1 0.5 -0.8 0.5 0.6 0.5 -0.7 0.5 -0.3 0.5 0.1 0.5 -0.3 0.5 -0.4 0.5 0.0 0.5 -0.5 0.5 -0.5 0.5 0.1 0.5 -0.3 0.5 -0.6 0.5 0.0 0.5 -1.2 0.5 -0.9 0.5 -0.4 0.5 -1.3 0.5 -1.0 0.5 -1.2 0.5 -1.1 0.5 -1.9 0.5 -2.1 0.5 -2.4 0.5 -2.7 0.5 -3.1 0.5 -3.3 0.5 -3.6 0.5 -3.3 0.5 -3.4 0.5 -4.0 0.5 -4.1 0.5 -4.6 0.5 -4.8 0.5 -4.5 0.5 -4.7 0.5 -4.7 0.5 -4.2 0.5 -3.7 0.5 -3.5 0.5 -2.8 0.5 -1.5 0.5 -1.9 0.5 0.2 0.5 1.6 0.5 1.8 0.5 2.7 0.5 3.4 0.5 3.4 0.5 4.6 0.5 5.0 0.5 4.5 0.5 5.3 0.5 4.6 0.5 4.6 0.5 4.5 0.5 4.3 0.5 3.7 0.5 3.3 0.5 3.5 0.5 3.2 0.5 2.5 0.5 3.0 0.5 1.6 0.5 1.8 0.5 1.7 0.5 1.2 0.5 1.0 0.5 1.5 0.5 1.3 0.5 0.5 0.5 0.8 0.5 0.9 0.5 0.6 0.5 0.9 0.5 0.4 0.5 0.2 0.5 0.0 0.5 0.1 0.5 0.1 0.5 0.3 0.5 -0.1 0.5 -0.8 0.5 0.5 0.5 0.3 0.5 1.0 0.5 0.9 0.5 -0.3 0.5 0.1 0.5 0.0 0.5 -0.1 0.5 0.5 0.5 -0.3 0.5 0.2 0.5 -0.2 0.5 -0.8 0.5 0.4 0.5 0.5 0.5 0.5 0.5 0.4 0.5 0.7 0.5 -0.3 0.5 0.5 0.5 0.3 0.5 -0.1 0.5 0.2 0.5 -0.3 0.5 0.1 0.5 0.4 0.5 -0.8 0.5 -0.6 0.5 -0.1 0.5 0.3 0.5 0.4 0.5 0.3 0.5 -0.1 0.5 -0.6 0.5 0.2 0.5 -0.1 0.5 0.6 0.5 1.1 0.5 -0.2 0.5 -0.3 0.5 0.1 0.5 -0.7 0.5 0.1 0.5 -0.1 0.5 -0.3 0.5 0.6 0.5 -0.1 0.5 0.1 0.5 -0.7 0.5 0.3 0.5 0.3 0.5 0.2 0.5 0.8 0.5 -0.2 0.5 0.1 0.5 -0.3 0.5 0.3 0.5 -0.3 0.5 -0.3 0.5 0.0 0.5 -0.1 0.5 -0.4 0.5 0.1 0.5 0.3 0.5 -0.6 0.5 0.5 0.5 0.1 0.5 -0.2 0.5 0.9 0.5 -0.2 0.5 -0.4 0.5 0.8 0.5 -0.1 0.5 -0.1 0.5 0.0 0.5 -0.4 0.5 -0.3 0.5 -0.2 0.5 -0.2 0.5 0.4 0.5 0.1 0.5 0.1 0.5 0.4 0.5 -0.1 0.5 0.0 0.5 0.3 0.5 -0.7 0.5 0.3 0.5 -0.7 0.5 -0.9 0.5 0.5 0.5 -0.3 0.5 0.2 0.5 -0.1 0.5 0.0 0.5 -0.1 0.5 0.7 0.5 0.6 0.5 0.2 0.5 0.2 0.5 -0.1 0.5 -0.3 0.5 0.5 0.5 0.5 0.5 0.0 0.5 0.1 0.5 0.1 0.5 -0.8 0.5 0.5 0.5 -0.4 0.5 -0.8 0.5 0.6 0.5 -0.2 0.5 0.5 0.5 0.5 0.5 -0.2 0.5 0.7 0.5 0.0 0.5 0.4 0.5 -0.4 0.5 -0.4 0.5 -0.4 0.5 0.1 0.5 0.2 0.5 -0.4 0.5 0.4 0.5 -0.7 0.5 0.3 0.5 -0.3 0.5 0.2 0.5 0.0 0.5 0.1 0.5 1.1 0.5 -0.2 0.5 -0.2 0.5 0.6 0.5 -1.1 0.5 -0.1 0.5 0.2 0.5 0.1 0.5 0.2 0.5 -0.5 0.5 0.2 0.5 -0.7 0.5 0.9 0.5 -0.1 0.5 -0.3 0.5 0.2 0.5 -0.5 0.5 0.1 0.5 0.3 0.5 0.4 0.5 0.7 0.5 -0.2 0.5 0.0 0.5 -0.4 0.5 -0.8 0.5 0.0 0.5 0.5 0.5 0.9 0.5 -0.1 0.5 0.2 0.5 -0.5 0.5 -0.4 0.5 -0.4 0.5 0.0 0.5 -0.2 0.5 0.1 0.5 -0.1 0.5 0.0 0.5 0.5 0.5 0.0 0.5 -0.3 0.5 0.6 0.5 0.0 0.5 -0.5 0.5 0.7 0.5 -0.9 0.5 0.0 0.5 0.2 0.5 0.0 0.5 0.6 0.5 0.2 0.5 -0.9 0.5 -0.3 0.5 0.0 0.5 -0.7 0.5 0.3 0.5 0.0 0.5 0.0 0.5 0.6 0.5 0.0 0.5 0.0 0.5 -0.7 0.5 -0.1 0.5 0.0 0.5 0.2 0.5 0.8 0.5 -0.1 0.5 -0.4 0.5 -0.2 0.5 -0.1 0.5 -0.3 0.5 0.8 0.5 0.1 0.5 0.4 0.5 0.4 0.5 -0.1 0.5 -0.7 0.5 -0.8 0.5 -0.5 0.5 -0.5 0.5 0.4 0.5 0.2 0.5 0.6 0.5 0.4 0.5 -0.6 0.5 -0.6 0.5 0.4 0.5 0.8 0.5 0.1 0.5 0.6 0.5 -0.1 0.5 -0.7 0.5 0.2 0.5 0.2 0.5 0.0 0.5 0.6 0.5 -0.1 0.5 -0.1 0.5 0.0 0.5 -0.1 0.5 0.3 0.5 0.0 0.5 -0.1 0.5 0.3 0.5 -0.6 0.5 0.4 0.5 0.1 0.5 0.0 0.5 0.4 0.5 0.5 0.5 0.4 0.5 -0.1 0.5 -0.3 0.5 -1.1 0.5 0.1 0.5 0.2 0.5 -0.1 0.5 0.1 0.5 -0.4 0.5 -0.1 0.5 0.1 0.5 -0.2 0.5 0.7 0.5 -0.9 0.5 0.1 0.5 -0.3 0.5 -0.5 0.5 0.7 0.5 0.0 0.5 -0.5 0.5 -0.2 0.5 0.4 0.5 -0.3 0.5 0.2 0.5 0.2 0.5 -0.1 0.5 -0.7 0.5 -0.2 0.5 -0.5 0.5 -0.1 0.5 -1.0 0.5 -0.8 0.5 -0.3 0.5 -0.3 0.5 0.3 0.5 -0.3 0.5 -0.3 0.5 0.0 0.5 -0.3 0.5 0.0 0.5 0.6 0.5 0.2 0.5 0.4 0.5 0.9 0.5 0.4 0.5 0.5 0.5 0.7 0.5 0.4 0.5 0.6 0.5 0.6 0.5 0.3 0.5 -0.2 0.5 -0.8 0.5 0.0 0.5 0.7 0.5 0.5 0.5 0.5 0.5 -0.3 0.5 -0.5 0.5 0.4 0.5 0.2 0.5 -0.1 0.5 0.5 0.5 -0.2 0.5 -0.3 0.5 -0.6 0.5 0.1 0.5 0.2 0.5 0.4 0.5 0.3 0.5 -0.4 0.5 -0.4 0.5 -0.2 0.5 0.3 0.5 0.1 0.5 0.0 0.5 -0.9 0.5 -0.1 0.5 -0.6 0.5 -0.7 0.5 1.1 0.5 0.1 0.5 0.1 0.5 0.1 0.5 -0.5 0.5 0.6 0.5 -0.2 0.5 -0.1 0.5 -0.2 0.5 -0.1 0.5 0.8 0.5 -0.5 0.5 -0.2 0.5 0.3 0.5 0.0 0.5 0.1 0.5 0.3 0.5 0.3 0.5 -0.4 0.5 -0.4 0.5 0.1 0.5 0.2 0.5 0.2 0.5 0.1 0.5 -0.2 0.5 0.1 0.5 0.4 0.5 0.0 0.5 0.2 0.5 0.2 0.5 -0.1 0.5 -0.1 0.5 -0.3 0.5 0.6 0.5 -0.1 0.5 -0.5 0.5 0.1 0.5 0.0 0.5 0.0 0.5 0.4 0.5 0.4 0.5 -0.4 0.5 -0.3 0.5 0.1 0.5 -0.2 0.5 -0.2 0.5 -0.1 0.5 -0.5 0.5 -0.1 0.5 0.2 0.5 -0.3 0.5 0.3 0.5 0.0 0.5 -0.1 0.5 0.1 0.5 0.3 0.5 0.5 0.5 0.2 0.5 -0.2 0.5 -0.2 0.5 -0.7 0.5 -0.3 0.5 0.4 0.5 -0.7 0.5 0.4 0.5 -0.6 0.5 -0.3 0.5 0.3 0.5 0.1 0.5 0.0 0.5 0.4 0.5 -0.4 0.5 -0.2 0.5 0.2 0.5 0.5 0.5 0.5 0.5 0.1 0.5 -0.2 0.5 -0.4 0.5 0.4 0.5 0.1 0.5 0.6 0.5 0.0 0.5 0.0 0.5 -0.1 0.5 -0.1 0.5 0.2 0.5 -0.1 0.5 -0.2 0.5 -0.6 0.5 -0.3 0.5 -0.1 0.5 0.8 0.5 0.7 0.5 -0.2 0.5 -0.2 0.5 -0.3 0.5 -0.2 0.5 -0.2 0.5 -0.2 0.5 -0.3 0.5 0.1 0.5 0.3 0.5 0.4 0.5 0.3 0.5 0.3 0.5 -0.1 0.5 0.1 0.5 -0.2 0.5 -0.8 0.5 0.1 0.5 -0.8 0.5 0.7 0.5 -0.1 0.5 0.2 0.5 1.0 0.5 0.1 0.5 0.4 0.5 -0.8 0.5 0.2 0.5 0.0 0.5 -0.5 0.5 0.6 0.5 -0.1 0.5 -0.6 0.5 -0.2 0.5 -0.2 0.5 -0.5 0.5 0.2 0.5 0.6 0.5 -0.6 0.5 0.6 0.5 -0.1 0.5 -0.6 0.5 0.0 0.5 0.3 0.5 -0.4 0.5 -0.2 0.5 0.5 0.5 -0.4 0.5 0.1 0.5 1.0 0.5 -0.5 0.5 0.3 0.5 0.0 0.5 -0.5 0.5 0.2 0.5 0.6 0.5 -0.3 0.5 -0.5 0.5 0.4 0.5 -0.1 0.5 0.7 0.5 0.4 0.5 -0.6 0.5 -0.4 0.5 -0.7 0.5 0.0 0.5 0.5 0.5 0.9 0.5 -0.5 0.5 -0.5 0.5 -0.1 0.5 -0.1 0.5 0.0 0.5 0.2 0.5 0.0 0.5 0.0 0.5 0.3 0.5 0.4 0.5 -0.2 0.5 -0.1 0.5 0.4 0.5 -0.6 0.5 0.7 0.5 -0.7 0.5 0.6 0.5 -0.4 0.5 -1.0 0.5 0.6 0.5 -0.7 0.5 0.2 0.5 -0.3 0.5 -0.7 0.5 -0.4 0.5 -0.4 0.5 -1.1 0.5 -0.7 0.5 -1.2 0.5 -1.8 0.5 -1.6 0.5 -1.9 0.5 -0.8 0.5 -0.8 0.5 0.5 0.5 1.0 0.5 0.0 0.5 1.9 0.5 1.0 0.5 0.2 0.5 1.1 0.5 0.4 0.5 0.1 0.5 1.3 0.5 1.1 0.5 1.1 0.5 0.9 0.5 0.3 0.5 0.4 0.5 0.1 0.5 0.4 0.5 0.0 0.5 0.2 0.5 0.4 0.5 -0.4 0.5 0.2 0.5 0.5 0.5 -0.1 0.5 0.1 0.5 0.0 0.5 0.3 0.5 0.4 0.5 0.6 0.5 -0.1 0.5 -0.6 0.5 -0.1 0.5 -1.0 0.5 0.3 0.5 0.3 0.5 -0.3 0.5 0.5 0.5 0.0 0.5 -0.6 0.5 0.4 0.5 0.0 0.5 -0.6 0.5 -0.2 0.5 -0.5 0.5 0.4 0.5 0.2 0.5 0.4 0.5 0.0 0.5 0.1 0.5 -0.1 0.5 0.1 0.5 0.2 0.5 0.6 0.5 -0.3 0.5 0.5 0.5 -0.4 0.5 0.1 0.5 0.4 0.5 -0.4 0.5 0.2 0.5 -0.9 0.5 -0.5 0.5 -0.1 0.5 0.1 0.5 0.1 0.5 0.5 0.5 -0.8 0.5 -0.7 0.5 0.0 0.5 -0.1 0.5 0.5 0.5 0.4 0.5 0.8 0.5 -0.1 0.5 -0.1 0.5 -0.1 0.5 -1.0 0.5 0.3 0.5 0.7 0.5 0.1 0.5 0.4 0.5 0.7 0.5 -0.9 0.5 -0.2 0.5 -0.2 0.5 -0.2 0.5 0.5 0.5 -0.1 0.5 -0.3 0.5 0.0 0.5 0.2 0.5 0.2 0.5 -0.4 0.5 -0.3 0.5 0.4 0.5 -0.2 0.5 0.5 0.5 -0.3 0.5 -0.1 0.5 0.6 0.5 0.0 0.5 0.0 0.5 -0.1 0.5 -0.2 0.5 0.2 0.5 -0.1 0.5 -0.1 0.5 0.2 0.5 -0.6 0.5 -0.3 0.5 0.2 0.5 -0.1 0.5 0.2 0.5 0.0 0.5 0.0 0.5 -0.3 0.5 0.3 0.5 0.6 0.5 0.0 0.5 0.7 0.5 -0.4 0.5 -0.3 0.5 -0.2 0.5 -0.3 0.5 -0.3 0.5 0.5 0.5 0.1 0.5 -0.1 0.5 0.7 0.5 -0.1 0.5 -0.1 0.5 -0.3 0.5 -0.4 0.5 -0.3 0.5 -0.4 0.5 -0.1 0.5 -0.1 0.5 -0.1 0.5 -0.3 0.5 -0.5 0.5 0.2 0.5 -0.4 0.5 0.1 0.5 -0.2 0.5 -0.3 0.5 -0.3 0.5 -0.7 0.5 -0.4 0.5 0.1 0.5 -0.6 0.5 0.1 0.5 0.0 0.5 0.3 0.5 -0.2 0.5 -0.6 0.5 -0.1 0.5 -1.6 0.5 -0.6 0.5 0.5 0.5 -0.3 0.5 0.0 0.5 0.2 0.5 -0.6 0.5 -0.3 0.5 0.0 0.5 -0.3 0.5 -0.4 0.5 0.4 0.5 -1.0 0.5 -0.4 0.5 0.4 0.5 0.5 0.5 1.0 0.5 0.6 0.5 0.0 0.5 -0.6 0.5 -0.2 0.5 0.2 0.5 0.1 0.5 0.3 0.5 -0.6 0.5 0.2 0.5 0.2 0.5 0.0 0.5 0.6 0.5 -0.1 0.5 -0.2 0.5 -0.4 0.5 -0.3 0.5 0.3 0.5 0.0 0.5 1.0 0.5 0.6 0.5 -0.1 0.5 1.0 0.5 -0.2 0.5 0.0 0.5 0.7 0.5 0.4 0.5 0.9 0.5 0.8 0.5 0.2 0.5 0.4 0.5 0.3 0.5 -0.1 0.5 0.4 0.5 0.1 0.5 0.0 0.5 0.0 0.5 -0.5 0.5 0.6 0.5 0.4 0.5 -0.3 0.5 0.2 0.5 0.2 0.5 0.1 0.5 0.1 0.5 0.0 0.5 -0.4 0.5 0.2 0.5 -0.1 0.5 0.2 0.5 0.6 0.5 0.0 0.5 -0.6 0.5 0.2 0.5 0.6 0.5 0.3 0.5 -0.3 0.5 0.2 0.5 0.0 0.5 -0.3 0.5 -0.3 0.5 0.0 0.5 0.1 0.5 -0.8 0.5 -0.4 0.5 -0.1 0.5 -0.5 0.5 0.7 0.5 0.2 0.5 -0.6 0.5 0.3 0.5 -0.2 0.5 0.1 0.5 0.6 0.5 0.3 0.5 -0.3 0.5 0.6 0.5 -0.1 0.5 0.1 0.5 0.1 0.5 0.0 0.5 0.1 0.5 0.3 0.5 1.0 0.5 0.1 0.5 0.2 0.5 -0.5 0.5 -0.7 0.5 -0.2 0.5 -0.1 0.5 -0.7 0.5 0.1 0.5 -0.1 0.5 0.6 0.5 1.2 0.5 -0.4 0.5 -0.1 0.5 -0.3 0.5 0.0 0.5 0.3 0.5 0.2 0.5 -0.6 0.5 0.3 0.5 0.0 0.5 0.1 0.5 0.6 0.5 -0.8 0.5 0.1 0.5 0.1 0.5 -0.2 0.5 0.1 0.5 -0.2 0.5 0.1 0.5 0.1 0.5 -0.1 0.5 -0.5 0.5 -0.3 0.5 -1.0 0.5 -0.1 0.5 0.3 0.5 0.1 0.5 0.4 0.5 0.5 0.5 0.3 0.5 0.1 0.5 0.3 0.5 -0.6 0.5 -0.2 0.5 -0.1 0.5 -0.1 0.5 -0.3 0.5 0.6 0.5 0.5 0.5 -0.1 0.5 -0.3 0.5 0.4 0.5 -0.3 0.5 0.0 0.5 0.4 0.5 0.4 0.5 0.3 0.5 -0.1 0.5 -0.1 0.5 -0.7 0.5 -0.3 0.5 0.4 0.5 0.0 0.5 0.0 0.5 -0.1 0.5 -0.3 0.5 -0.2 0.5 0.1 0.5 -0.2 0.5 -0.5 0.5 0.6 0.5 0.2 0.5 0.5 0.5 0.1 0.5 -0.2 0.5 -0.1 0.5 -0.3 0.5 0.4 0.5 0.7 0.5 -1.0 0.5 -0.2 0.5 0.1 0.5 -0.8 0.5 1.2 0.5 0.2 0.5 0.1 0.5 -0.3 0.5 -0.5 0.5 0.5 0.5 0.6 0.5 -0.5 0.5 -0.1 0.5 -0.1 0.5 -1.1 0.5 0.0 0.5 0.0 0.5 -0.1 0.5 -0.3 0.5 -0.2 0.5 -0.1 0.5 0.7 0.5 -0.4 0.5 -0.6 0.5 0.7 0.5 0.0 0.5 0.4 0.5 0.0 0.5 -0.6 0.5 -0.1 0.5 0.0 0.5 0.1 0.5 1.1 0.5 0.5 0.5 0.0 0.5 0.1 0.5 0.2 0.5 -0.5 0.5 0.1 0.5 -0.1 0.5 -0.9 0.5 -0.2 0.5 -0.3 0.5 0.1 0.5 -0.2 0.5 0.3 0.5 0.3 0.5 0.6 0.5 -0.4 0.5 -0.1 0.5 0.4 0.5 -0.5 0.5 0.3 0.5 0.3 0.5 -0.2 0.5 0.1 0.5 -0.2 0.5 -0.3 0.5 -0.6 0.5 0.1 0.5 -0.3 0.5 -0.4 0.5 -0.2 0.5 0.1 0.5 -0.1 0.5 0.0 0.5 0.5 0.5 -0.4 0.5 0.2 0.5 0.2 0.5 -0.4 0.5 0.4 0.5 -0.7 0.5 0.3 0.5 0.0 0.5 -0.3 0.5 0.5 0.5 -0.7 0.5 -0.3 0.5 0.2 0.5 -0.1 0.5 -0.3 0.5 0.1 0.5 -0.6 0.5 -1.0 0.5 -1.6 0.5 -1.4 0.5 -2.3 0.5 -1.6 0.5 -1.9 0.5 -2.5 0.5 -1.3 0.5 -2.1 0.5 -1.6 0.5 -0.9 0.5 -0.8 0.5 -0.4 0.5 -0.1 0.5 -1.2 0.5 -1.0 0.5 -1.5 0.5 -3.0 0.5 -2.6 0.5 -3.2 0.5 -3.8 0.5 -3.1 0.5 -3.7 0.5 -3.9 0.5 -4.2 0.5 -4.6 0.5 -4.2 0.5 -4.1 0.5 -4.1 0.5 -4.2 0.5 -3.6 0.5 -3.3 0.5 -2.3 0.5 -1.8 0.5 -1.5 0.5 -0.5 0.5 0.7 0.5 2.1 0.5 2.4 0.5 3.8 0.5 3.2 0.5 4.1 0.5 3.8 0.5 3.7 0.5 4.9 0.5 4.6 0.5 4.8 0.5 4.1 0.5 4.1 0.5 3.4 0.5 3.6 0.5 3.6 0.5 3.8 0.5 2.5 0.5 2.8 0.5 2.1 0.5 1.7 0.5 2.4 0.5 1.6 0.5 1.5 0.5 1.0 0.5 1.6 0.5 0.7 0.5 0.9 0.5 1.1 0.5 0.2 0.5 0.4 0.5 1.1 0.5 0.1 0.5 0.4 0.5 0.6 0.5 0.3 0.5 0.1 0.5 0.1 0.5 -0.2 0.5 -0.2 0.5 0.4 0.5 0.3 0.5 0.2 0.5 0.0 0.5 -0.4 0.5 -0.3 0.5 -0.4 0.5 -0.7 0.5 0.2 0.5 -0.4 0.5 -0.1 0.5 -0.2 0.5 -0.7 0.5 -1.1 0.5 -1.3 0.5 -0.1 0.5 -0.5 0.5 1.1 0.5 1.1 0.5 0.7 0.5 1.1 0.5 0.0 0.5 0.4 0.5 0.8 0.5 0.4 0.5 0.9 0.5 0.6 0.5 0.3 0.5 0.2 0.5 -0.1 0.5 0.6 0.5 0.5 0.5 1.1 0.5 0.5 0.5 -0.3 0.5 0.1 0.5 -0.5 0.5 -0.3 0.5 0.3 0.5 0.1 0.5 0.1 0.5 -0.2 0.5 0.1 0.5 -0.9 0.5 0.5 0.5 0.4 0.5 -0.1 0.5 0.4 0.5 0.4 0.5 -0.7 0.5 0.2 0.5 0.5 0.5 -0.6 0.5 0.1 0.5 -0.4 0.5 -0.1 0.5 0.3 0.5 -0.2 0.5 0.3 0.5 0.0 0.5 -0.1 0.5 0.0 0.5 0.0 0.5 0.1 0.5 -0.8 0.5 -0.3 0.5 0.3 0.5 0.4 0.5 0.4 0.5 0.6 0.5 -0.6 0.5 -0.6 0.5 0.0 0.5 0.2 0.5 0.3 0.5 0.5 0.5 -0.5 0.5 0.3 0.5 0.1 0.5 -0.5 0.5 0.7 0.5 0.4 0.5 0.0 0.5 -0.5 0.5 0.0 0.5 -0.4 0.5 -0.2 0.5 0.2 0.5 -0.2 0.5 0.4 0.5 0.5 0.5 0.5 0.5 0.5 0.5 0.2 0.5 -0.1 0.5 0.3 0.5 0.3 0.5 0.0 0.5 -0.1 0.5 -0.3 0.5 -0.5 0.5 0.1 0.5 0.1 0.5 -0.4 0.5 -0.3 0.5 -0.4 0.5 -0.4 0.5 0.0 0.5 0.3 0.5 -0.1 0.5 0.3 0.5 -0.3 0.5 0.0 0.5 0.2 0.5 0.5 0.5 0.4 0.5 0.1 0.5 0.4 0.5 -0.4 0.5 -0.3 0.5 -0.5 0.5 0.7 0.5 0.6 0.5 0.3 0.5 -0.4 0.5 0.2 0.5 -0.2 0.5 -0.7 0.5 -0.6 0.5 -0.6 0.5 -0.1 0.5 0.4 0.5 0.4 0.5 0.2 0.5 0.1 0.5 -0.2 0.5 -0.2 0.5 0.4 0.5 -0.1 0.5 -0.4 0.5 0.0 0.5 0.2 0.5 -0.5 0.5 0.6 0.5 0.1 0.5 0.7 0.5 0.4 0.5 0.1 0.5 0.0 0.5 -1.0 0.5 -0.2 0.5 -0.2 0.5 0.1 0.5 0.7 0.5 0.5 0.5 -0.4 0.5 0.6 0.5 -0.6 0.5 0.1 0.5 0.0 0.5 0.0 0.5 -0.2 0.5 -0.5 0.5 0.4 0.5 0.3 0.5 0.1 0.5 -0.3 0.5 -0.3 0.5 -0.5 0.5 0.0 0.5 -0.3 0.5 0.4 0.5 -0.3 0.5 -0.4 0.5 0.6 0.5 0.0 0.5 0.3 0.5 -0.2 0.5 -0.9 0.5 -0.1 0.5 0.7 0.5 0.0 0.5 0.5 0.5 0.1 0.5 -0.9 0.5 0.2 0.5 0.4 0.5 -0.1 0.5 -0.1 0.5 0.3 0.5 -0.3 0.5 0.0 0.5 0.3 0.5 -0.2 0.5 0.0 0.5 0.1 0.5 -0.2 0.5 0.3 0.5 0.8 0.5 0.0 0.5 0.2 0.5 -0.3 0.5 -0.7 0.5 -0.2 0.5 -0.3 0.5 0.4 0.5 -0.4 0.5 -0.2 0.5 0.4 0.5 -0.5 0.5 0.9 0.5 0.4 0.5 -0.3 0.5 0.9 0.5 -0.4 0.5 0.1 0.5 0.0 0.5 -0.1 0.5 0.3 0.5 -0.3 0.5 0.1 0.5 0.0 0.5 -0.1 0.5 -0.5 0.5 -0.1 0.5 0.0 0.5 -0.3 0.5 0.1 0.5 -0.2 0.5 -0.2 0.5 0.1 0.5 0.8 0.5 0.3 0.5 0.0 0.5 -0.4 0.5 -0.5 0.5 -0.5 0.5 0.0 0.5 0.2 0.5 -0.6 0.5 0.7 0.5 0.8 0.5 0.1 0.5 0.1 0.5 0.0 0.5 -0.9 0.5 -0.1 0.5 0.5 0.5 0.4 0.5 0.2 0.5 0.0 0.5 0.3 0.5 0.2 0.5 0.1 0.5 0.0 0.5 -0.4 0.5 -1.0 0.5 0.1 0.5 -0.2 0.5 -0.6 0.5 0.7 0.5 0.0 0.5 -0.3 0.5 0.6 0.5 -0.4 0.5 0.0 0.5 0.0 0.5 0.0 0.5 0.1 0.5 -0.1 0.5 0.3 0.5 0.1 0.5 0.7 0.5 -0.3 0.5 -0.2 0.5 -0.4 0.5 0.0 0.5 0.7 0.5 -0.1 0.5 0.5 0.5 -0.2 0.5 -0.3 0.5 0.0 0.5 -0.6 0.5 -0.7 0.5 0.0 0.5 -0.3 0.5 0.9 0.5 0.3 0.5 -0.5 0.5 0.5 0.5 -0.2 0.5 0.4 0.5 -0.4 0.5 0.6 0.5 0.3 0.5 -0.2 0.5 0.2 0.5 0.1 0.5 -0.2 0.5 -0.2 0.5 0.0 0.5 -0.2 0.5 0.4 0.5 0.1 0.5 -0.7 0.5 0.1 0.5 0.3 0.5 0.1 0.5 0.4 0.5 0.4 0.5 0.1 0.5 -0.3 0.5 -0.3 0.5 0.0 0.5 -0.1 0.5 0.5 0.5 -0.3 0.5 -0.7 0.5 -0.2 0.5 -0.5 0.5 0.1 0.5 -0.4 0.5 0.0 0.5 -0.6 0.5 0.4 0.5 0.4 0.5 -0.1 0.5 0.6 0.5 0.0 0.5 -0.2 0.5 0.3 0.5 0.3 0.5 0.1 0.5 -0.3 0.5 0.2 0.5 0.0 0.5 -0.1 0.5 0.6 0.5 -0.7 0.5 0.3 0.5 0.4 0.5 -0.5 0.5 0.2 0.5 -0.7 0.5 -0.4 0.5 0.0 0.5 0.5 0.5 0.3 0.5 0.1 0.5 0.3 0.5 -0.4 0.5 -0.6 0.5 -0.3 0.5 0.3 0.5 0.1 0.5 1.0 0.5 0.6 0.5 -0.2 0.5 0.2 0.5 -0.6 0.5 -0.5 0.5 0.1 0.5 -0.3 0.5 0.7 0.5 0.2 0.5 0.1 0.5 -0.1 0.5 -0.2 0.5 0.2 0.5 -0.8 0.5 0.2 0.5 -0.8 0.5 -0.1 0.5 0.4 0.5 -0.5 0.5 -0.2 0.5 -0.6 0.5 0.7 0.5 0.3 0.5 0.5 0.5 0.3 0.5 0.0 0.5 0.0 0.5 0.2 0.5 0.3 0.5 -0.1 0.5 -0.3 0.5 0.0 0.5 0.6 0.5 -0.1 0.5 -0.1 0.5 -0.8 0.5 -0.3 0.5 0.4 0.5 -0.1 0.5 0.0 0.5 0.2 0.5 -0.9 0.5 -0.1 0.5 -0.1 0.5 -0.8 0.5 0.2 0.5 0.2 0.5 0.9 0.5 0.7 0.5 0.0 0.5 0.4 0.5 -0.4 0.5 -0.5 0.5 -0.1 0.5 0.0 0.5 0.0 0.5 0.3 0.5 -0.6 0.5 0.0 0.5 0.0 0.5 -0.7 0.5 -0.4 0.5 -0.4 0.5 -0.2 0.5 0.0 0.5 -0.3 0.5 0.1 0.5 0.5 0.5 0.2 0.5 1.0 0.5 0.3 0.5 -0.1 0.5 -0.7 0.5 -0.4 0.5 0.2 0.5 0.2 0.5 0.3 0.5 0.2 0.5 0.4 0.5 -0.3 0.5 0.3 0.5 -0.1 0.5 -0.6 0.5 0.0 0.5 -0.1 0.5 0.2 0.5 0.7 0.5 0.2 0.5 -0.9 0.5 0.7 0.5 0.4 0.5 -0.3 0.5 0.7 0.5 -0.8 0.5 0.8 0.5 0.1 0.5 0.3 0.5 0.3 0.5 -1.2 0.5 0.2 0.5 -0.6 0.5 0.0 0.5 0.4 0.5 0.0 0.5 0.3 0.5 0.4 0.5 0.4 0.5 -0.6 0.5 -0.9 0.5 0.0 0.5 -0.2 0.5 0.5 0.5 -0.6 0.5 -0.7 0.5 -0.3 0.5 0.2 0.5 0.7 0.5 0.4 0.5 0.9 0.5 -0.9 0.5 -0.3 0.5 0.8 0.5 0.4 0.5 0.8 0.5 -0.1 0.5 -0.1 0.5 -0.2 0.5 -0.3 0.5 0.0 0.5 -0.2 0.5 0.3 0.5 0.0 0.5 -0.1 0.5 -0.4 0.5 -0.7 0.5 -0.2 0.5 0.2 0.5 0.7 0.5 0.1 0.5 0.3 0.5 -0.4 0.5 -0.2 0.5 -0.3 0.5 -0.3 0.5 0.7 0.5 0.6 0.5 0.0 0.5 0.1 0.5 0.2 0.5 0.7 0.5 0.3 0.5 0.7 0.5 -0.5 0.5 -0.7 0.5 -0.4 0.5 0.1 0.5 0.3 0.5 0.2 0.5 -0.1 0.5 -1.0 0.5 -0.2 0.5 -0.6 0.5 0.0 0.5 -0.3 0.5 0.4 0.5 0.9 0.5 0.6 0.5 0.3 0.5 0.0 0.5 -0.4 0.5 -0.3 0.5 0.3 0.5 0.1 0.5 0.0 0.5 0.2 0.5 0.4 0.5 -0.3 0.5 -0.1 0.5 -0.5 0.5 -0.2 0.5 -0.2 0.5 0.0 0.5 0.3 0.5 -0.2 0.5 0.7 0.5 0.2 0.5 -0.3 0.5 0.3 0.5 -0.7 0.5 -0.3 0.5 0.5 0.5 0.1 0.5 0.2 0.5 0.0 0.5 0.1 0.5 0.0 0.5 -0.2 0.5 0.6 0.5 0.0 0.5 -0.1 0.5 0.6 0.5 -0.5 0.5 -0.2 0.5 0.5 0.5 -0.5 0.5 -0.5 0.5 -0.3 0.5 -0.6 0.5 0.0 0.5 0.0 0.5 -0.2 0.5 -0.1 0.5 0.1 0.5 0.7 0.5 0.1 0.5 0.6 0.5 -0.2 0.5 -0.3 0.5 -0.9 0.5 -0.5 0.5 -0.2 0.5 0.2 0.5 0.9 0.5 -0.1 0.5 0.2 0.5 -0.3 0.5 -0.1 0.5 0.0 0.5 -0.2 0.5 0.2 0.5 -0.4 0.5 0.1 0.5 0.3 0.5 -0.4 0.5 0.1 0.5 -0.7 0.5 0.2 0.5 -0.3 0.5 0.2 0.5 -0.2 0.5 -0.1 0.5 0.3 0.5 0.2 0.5 1.0 0.5 -0.1 0.5 0.0 0.5 -0.6 0.5 -0.4 0.5 0.1 0.5 -0.1 0.5 0.9 0.5 -0.1 0.5 0.3 0.5 -0.2 0.5 0.0 0.5 -0.4 0.5 -0.3 0.5 -0.3 0.5 0.2 0.5 0.2 0.5 -0.1 0.5 0.3 0.5 -0.8 0.5 0.2 0.5 -0.3 0.5 0.4 0.5 0.5 0.5 -0.1 0.5 0.1 0.5 0.1 0.5 -0.5 0.5 0.2 0.5 0.5 0.5 0.0 0.5 0.2 0.5 0.1 0.5 0.2 0.5 0.1 0.5 -0.2 0.5 0.3 0.5 -0.6 0.5 -0.5 0.5 0.5 0.5 0.0 0.5 0.0 0.5 -0.3 0.5 -0.3 0.5 -0.6 0.5 0.4 0.5 -0.5 0.5 0.3 0.5 0.3 0.5 -0.5 0.5 -0.1 0.5 -0.2 0.5 0.3 0.5 -0.1 0.5 0.0 0.5 0.2 0.5 0.2 0.5 0.6 0.5 0.5 0.5 0.1 0.5 0.3 0.5 -0.4 0.5 -0.3 0.5 0.5 0.5 0.0 0.5 -0.1 0.5 -0.4 0.5 0.1 0.5 0.2 0.5 0.1 0.5 0.7 0.5 -0.3 0.5 -0.8 0.5 0.3 0.5 0.4 0.5 0.1 0.5 0.8 0.5 -0.7 0.5 0.0 0.5 0.1 0.5 -0.6 0.5 0.2 0.5 -0.2 0.5 -0.9 0.5 0.0 0.5 -0.1 0.5 -0.3 0.5 0.2 0.5 0.5 0.5 0.3 0.5 0.3 0.5 0.5 0.5 -0.4 0.5 0.0 0.5 -1.2 0.5 -0.4 0.5 0.3 0.5 0.5 0.5 0.4 0.5 0.5 0.5 -0.5 0.5 -0.8 0.5 -0.2 0.5 -0.3 0.5 0.2 0.5 0.9 0.5 0.8 0.5 -0.2 0.5 -0.1 0.5 -0.7 0.5 -0.2 0.5 -0.1 0.5 -0.6 0.5 0.5 0.5 0.4 0.5 0.8 0.5 0.3 0.5 -0.1 0.5 -0.1 0.5 -0.7 0.5 0.2 0.5 -0.1 0.5 -0.1 0.5 -0.1 0.5 0.1 0.5 -0.2 0.5 0.6 0.5 0.3 0.5 0.1 0.5 -0.4 0.5 0.9 0.5 -0.5 0.5 -0.1 0.5 0.1 0.5 -0.7 0.5 0.5 0.5 -0.4 0.5 -0.6 0.5 0.8 0.5 -0.1 0.5 0.2 0.5 0.0 0.5 0.1 0.5 -0.1 0.5 -0.4 0.5 -0.1 0.5 -0.3 0.5 0.7 0.5 -0.6 0.5 0.3 0.5 0.7 0.5 -0.2 0.5 -0.2 0.5 -0.4 0.5 -0.2 0.5 0.3 0.5 0.3 0.5 -0.3 0.5 -0.7 0.5 0.1 0.5 0.9 0.5 0.0 0.5 -0.6 0.5 0.8 0.5 -1.2 0.5 -1.0 0.5 -0.1 0.5 0.1 0.5 0.5 0.5 1.1 0.5 0.1 0.5 -0.3 0.5 -0.1 0.5 -0.4 0.5 0.3 0.5 0.2 0.5 0.2 0.5 -0.5 0.5 -0.2 0.5 0.2 0.5 0.7 0.5 0.7 0.5 0.4 0.5 -0.3 0.5 -0.4 0.5 0.2 0.5 -0.6 0.5 -0.2 0.5 -0.1 0.5 -1.2 0.5 -0.1 0.5 0.3 0.5 0.1 0.5 0.0 0.5 0.2 0.5 -0.6 0.5 -0.1 0.5 0.0 0.5 0.0 0.5 0.1 0.5 -0.5 0.5 0.3 0.5 -0.7 0.5 0.3 0.5 0.0 0.5 -0.5 0.5 0.3 0.5 -0.3 0.5 -0.8 0.5 -0.9 0.5 -0.7 0.5 -0.3 0.5 0.7 0.5 1.0 0.5 0.2 0.5 0.1 0.5 0.6 0.5 -0.6 0.5 0.3 0.5 0.5 0.5 -0.7 0.5 0.4 0.5 -0.1 0.5 0.3 0.5 0.6 0.5 0.0 0.5 -0.6 0.5 0.1 0.5 0.4 0.5 -0.3 0.5 0.1 0.5 0.3 0.5 0.3 0.5 0.4 0.5 0.4 0.5 -0.5 0.5 0.3 0.5 -1.0 0.5 0.2 0.5 0.7 0.5 0.2 0.5 0.3 0.5 -0.2 0.5 0.4 0.5 -0.2 0.5 -0.4 0.5 -0.2 0.5 0.3 0.5 -0.4 0.5 0.4 0.5 0.3 0.5 -0.1 0.5 -0.4 0.5 -0.3 0.5 0.6 0.5 0.1 0.5 0.7 0.5 0.0 0.5 -0.5 0.5 0.3 0.5 -0.7 0.5 0.3 0.5 -0.1 0.5 -0.3 0.5 0.2 0.5 -0.4 0.5 0.7 0.5 0.1 0.5 -0.1 0.5 0.2 0.5 -0.2 0.5 0.3 0.5 0.1 0.5 0.3 0.5 0.0 0.5 0.2 0.5 -0.1 0.5 -0.1 0.5 -0.3 0.5 -0.1 0.5 -0.3 0.5 -0.2 0.5 0.1 0.5 0.8 0.5 -0.5 0.5 0.3 0.5 -0.1 0.5 -0.4 0.5 0.6 0.5 -0.5 0.5 0.2 0.5 0.3 0.5 0.0 0.5 0.5 0.5 -0.2 0.5 0.0 0.5 0.5 0.5 0.0 0.5 0.3 0.5 -0.7 0.5 -0.1 0.5 -0.5 0.5 -0.5 0.5 0.6 0.5 -0.3 0.5 0.1 0.5 -0.3 0.5 -0.4 0.5 0.4 0.5 -0.1 0.5 0.4 0.5 -0.8 0.5 -0.3 0.5 0.2 0.5 0.2 0.5 0.4 0.5 0.2 0.5 -0.3 0.5 0.3 0.5 0.2 0.5 0.5 0.5 0.2 0.5 -0.7 0.5 0.4 0.5 -0.4 0.5 -0.2 0.5 0.1 0.5 0.2 0.5 0.6 0.5 0.0 0.5 0.1 0.5 -0.2 0.5 -0.6 0.5 -0.1 0.5 -0.1 0.5 -0.1 0.5 0.0 0.5 0.8 0.5 0.1 0.5 0.5 0.5 0.5 0.5 0.1 0.5 -0.4 0.5 -0.5 0.5 0.0 0.5 -0.5 0.5 0.6 0.5 -0.1 0.5 0.4 0.5 -0.1 0.5 0.2 0.5 0.1 0.5 -0.6 0.5 -0.2 0.5 -0.7 0.5 0.2 0.5 -0.3 0.5 0.4 0.5 0.5 0.5 -0.1 0.5 0.3 0.5 -0.3 0.5 -0.5 0.5 -0.2 0.5 -0.5 0.5 -0.2 0.5 0.8 0.5 0.0 0.5 0.1 0.5 0.1 0.5 -0.1 0.5 0.4 0.5 0.2 0.5 -0.3 0.5 0.6 0.5 0.7 0.5 0.0 0.5 0.5 0.5 0.0 0.5 0.0 0.5 0.2 0.5 -0.3 0.5 -0.6 0.5 -0.1 0.5 -0.1 0.5 -0.3 0.5 -0.5 0.5 -0.3 0.5 -0.3 0.5 -0.4 0.5 0.3 0.5 0.0 0.5 0.0 0.5 0.6 0.5 0.3 0.5 -0.2 0.5 0.3 0.5 -0.2 0.5 -0.1 0.5 0.2 0.5 0.1 0.5 0.2 0.5 0.2 0.5 -0.4 0.5 0.1 0.5 -0.4 0.5 -0.4 0.5 0.6 0.5 0.3 0.5 0.2 0.5 -0.5 0.5 -0.4 0.5 0.6 0.5 0.1 0.5 0.5 0.5 0.0 0.5 -0.3 0.5 0.3 0.5 -0.6 0.5 -0.2 0.5 0.6 0.5 -0.3 0.5 0.1 0.5 -0.1 0.5 -0.6 0.5 -0.1 0.5 -0.3 0.5 0.0 0.5 0.2 0.5 -0.4 0.5 0.4 0.5 0.4 0.5 0.3 0.5 0.6 0.5 -0.2 0.5 -0.7 0.5 0.0 0.5 0.1 0.5 0.4 0.5 0.5 0.5 -0.3 0.5 0.2 0.5 -0.3 0.5 0.0 0.5 0.0 0.5 0.0 0.5 0.0 0.5 -1.0 0.5 0.1 0.5 -0.4 0.5 -0.2 0.5 0.3 0.5 0.0 0.5 0.2 0.5 0.2 0.5 -0.4 0.5 0.1 0.5 -0.2 0.5 0.1 0.5 0.2 0.5 -0.7 0.5 0.4"/>
<path stroke="#FF3A3A" d="M144.4 1271.1l0.5 0.2 0.5 0.4 0.5 0.0 0.5 -0.1 0.5 -0.2 0.5 -0.2 0.5 -0.8 0.5 -0.4 0.5 0.0 0.5 0.5 0.5 0.1 0.5 0.0 0.5 -1.1 0.5 -0.7 0.5 0.4 0.5 -0.2 0.5 0.4 0.5 0.1 0.5 -0.3 0.5 0.2 0.5 -0.2 0.5 0.3 0.5 0.7 0.5 -0.7 0.5 0.5 0.5 -0.3 0.5 0.3 0.5 0.0 0.5 -0.5 0.5 0.4 0.5 1.0 0.5 -0.2 0.5 0.8 0.5 0.6 0.5 -0.2 0.5 -0.2 0.5 -0.1 0.5 -0.4 0.5 0.0 0.5 -0.1 0.5 -0.4 0.5 0.4 0.5 0.1 0.5 0.1 0.5 -0.2 0.5 0.6 0.5 -0.1 0.5 0.2 0.5 -0.4 0.5 -0.3 0.5 -0.1 0.5 0.0 0.5 0.1 0.5 -0.3 0.5 0.4 0.5 -0.4 0.5 0.4 0.5 -0.8 0.5 -0.5 0.5 0.3 0.5 -0.8 0.5 0.2 0.5 0.2 0.5 -0.5 0.5 0.6 0.5 0.7 0.5 0.1 0.5 1.0 0.5 0.5 0.5 -0.6 0.5 -0.4 0.5 0.1 0.5 0.0 0.5 0.6 0.5 0.6 0.5 -0.3 0.5 -0.5 0.5 -0.3 0.5 -0.3 0.5 0.4 0.5 0.4 0.5 -0.3 0.5 0.4 0.5 -0.2 0.5 -0.2 0.5 0.6 0.5 0.1 0.5 0.0 0.5 0.2 0.5 0.3 0.5 -0.8 0.5 -0.2 0.5 0.0 0.5 -0.2 0.5 0.3 0.5 0.0 0.5 -0.3 0.5 -0.2 0.5 0.6 0.5 -0.3 0.5 0.2 0.5 0.3 0.5 -0.4 0.5 -0.1 0.5 -0.4 0.5 -0.7 0.5 -0.6 0.5 0.6 0.5 0.4 0.5 -0.1 0.5 0.2 0.5 -0.4 0.5 0.9 0.5 0.7 0.5 0.2 0.5 -0.2 0.5 -1.1 0.5 0.1 0.5 -0.1 0.5 0.6 0.5 0.4 0.5 -0.5 0.5 -0.8 0.5 0.1 0.5 0.1 0.5 0.0 0.5 0.5 0.5 -0.2 0.5 -0.5 0.5 -0.3 0.5 0.0 0.5 -0.3 0.5 0.6 0.5 0.2 0.5 -0.3 0.5 0.4 0.5 -0.1 0.5 0.7 0.5 0.2 0.5 0.2 0.5 -0.4 0.5 -0.4 0.5 -0.5 0.5 0.2 0.5 0.5 0.5 -0.2 0.5 -0.2 0.5 -0.3 0.5 -0.1 0.5 -0.1 0.5 -0.3 0.5 -0.1 0.5 -0.6 0.5 -0.4 0.5 0.7 0.5 0.1 0.5 0.6 0.5 -0.3 0.5 -0.4 0.5 -0.6 0.5 0.7 0.5 0.2 0.5 0.5 0.5 0.3 0.5 -0.1 0.5 0.1 0.5 0.0 0.5 0.2 0.5 -0.2 0.5 -0.6 0.5 0.6 0.5 0.0 0.5 0.1 0.5 1.1 0.5 -0.2 0.5 0.0 0.5 0.1 0.5 -0.3 0.5 -0.1 0.5 0.5 0.5 -0.7 0.5 0.5 0.5 0.0 0.5 -0.5 0.5 0.5 0.5 -0.9 0.5 -0.4 0.5 0.3 0.5 0.1 0.5 0.2 0.5 0.6 0.5 -0.3 0.5 0.0 0.5 -0.1 0.5 0.2 0.5 -0.2 0.5 -0.2 0.5 0.3 0.5 -0.5 0.5 -0.1 0.5 0.3 0.5 0.3 0.5 0.1 0.5 0.5 0.5 -0.1 0.5 -0.3 0.5 0.0 0.5 -0.5 0.5 -0.1 0.5 0.2 0.5 0.0 0.5 0.6 0.5 -0.1 0.5 0.0 0.5 -0.3 0.5 -0.2 0.5 0.0 0.5 0.2 0.5 0.2 0.5 -0.2 0.5 -0.6 0.5 -0.3 0.5 0.3 0.5 -0.1 0.5 0.6 0.5 0.4 0.5 -0.4 0.5 0.1 0.5 0.3 0.5 -0.4 0.5 -0.1 0.5 0.1 0.5 -0.4 0.5 -0.1 0.5 0.7 0.5 -0.2 0.5 0.0 0.5 0.7 0.5 -0.1 0.5 0.1 0.5 0.6 0.5 -1.1 0.5 0.1 0.5 0.8 0.5 -0.1 0.5 0.3 0.5 -0.1 0.5 -0.1 0.5 0.1 0.5 -0.2 0.5 0.2 0.5 -0.3 0.5 -0.4 0.5 0.5 0.5 0.6 0.5 0.0 0.5 0.6 0.5 -0.4 0.5 -0.4 0.5 0.4 0.5 0.5 0.5 -0.4 0.5 0.3 0.5 -0.5 0.5 -0.7 0.5 0.4 0.5 -0.3 0.5 0.1 0.5 0.2 0.5 0.1 0.5 0.0 0.5 -0.7 0.5 -0.3 0.5 0.0 0.5 0.2 0.5 0.0 0.5 -0.1 0.5 -0.6 0.5 -0.4 0.5 0.3 0.5 0.1 0.5 0.6 0.5 0.2 0.5 0.2 0.5 0.3 0.5 0.8 0.5 -0.1 0.5 0.3 0.5 -0.6 0.5 -0.4 0.5 -0.1 0.5 -0.2 0.5 0.0 0.5 0.1 0.5 0.8 0.5 -0.4 0.5 0.0 0.5 0.2 0.5 -1.0 0.5 -0.4 0.5 -0.3 0.5 -0.2 0.5 0.6 0.5 0.3 0.5 0.5 0.5 0.5 0.5 -0.5 0.5 -0.1 0.5 0.4 0.5 -0.1 0.5 0.6 0.5 -0.1 0.5 -0.3 0.5 -0.2 0.5 -0.2 0.5 -0.5 0.5 -0.3 0.5 0.3 0.5 0.5 0.5 0.5 0.5 1.0 0.5 -0.3 0.5 -1.0 0.5 -0.4 0.5 -0.3 0.5 0.6 0.5 0.0 0.5 0.4 0.5 -0.1 0.5 0.3 0.5 0.2 0.5 0.5 0.5 0.2 0.5 -0.5 0.5 -0.4 0.5 -1.1 0.5 -0.9 0.5 0.2 0.5 0.2 0.5 0.7 0.5 0.5 0.5 -0.4 0.5 -0.6 0.5 -0.4 0.5 -0.1 0.5 -0.3 0.5 0.8 0.5 -0.1 0.5 0.0 0.5 1.2 0.5 0.0 0.5 0.1 0.5 0.0 0.5 -0.5 0.5 -0.5 0.5 0.1 0.5 -0.4 0.5 0.1 0.5 -0.1 0.5 -0.3 0.5 0.1 0.5 0.2 0.5 0.1 0.5 0.2 0.5 0.2 0.5 0.3 0.5 0.2 0.5 0.3 0.5 -0.1 0.5 -0.3 0.5 -0.1 0.5 -0.5 0.5 0.5 0.5 0.5 0.5 0.2 0.5 0.2 0.5 -0.1 0.5 -0.7 0.5 -0.1 0.5 0.1 0.5 -0.1 0.5 0.0 0.5 -0.2 0.5 -0.5 0.5 -0.3 0.5 0.7 0.5 0.0 0.5 0.0 0.5 0.1 0.5 -0.2 0.5 0.9 0.5 0.0 0.5 0.1 0.5 0.0 0.5 -0.3 0.5 0.2 0.5 0.2 0.5 0.3 0.5 -0.3 0.5 -1.1 0.5 0.3 0.5 -0.2 0.5 0.4 0.5 0.7 0.5 -0.5 0.5 0.2 0.5 0.2 0.5 0.1 0.5 0.4 0.5 0.1 0.5 -0.1 0.5 -0.4 0.5 0.0 0.5 0.0 0.5 -1.1 0.5 -0.3 0.5 -0.2 0.5 -0.2 0.5 1.1 0.5 0.7 0.5 -0.1 0.5 -0.4 0.5 -0.2 0.5 -0.4 0.5 -0.1 0.5 0.2 0.5 0.0 0.5 -0.4 0.5 0.4 0.5 0.0 0.5 0.1 0.5 0.6 0.5 0.0 0.5 -0.1 0.5 -0.3 0.5 -0.2 0.5 -0.2 0.5 0.1 0.5 0.0 0.5 -0.5 0.5 0.7 0.5 0.3 0.5 -0.3 0.5 -0.3 0.5 -0.3 0.5 -0.2 0.5 -0.5 0.5 -0.1 0.5 -0.5 0.5 -0.1 0.5 0.0 0.5 -0.1 0.5 -0.5 0.5 -0.2 0.5 0.0 0.5 -0.5 0.5 0.0 0.5 -0.6 0.5 -0.5 0.5 -0.1 0.5 -0.7 0.5 -0.4 0.5 -0.1 0.5 0.5 0.5 0.3 0.5 1.0 0.5 0.5 0.5 -0.5 0.5 0.4 0.5 0.0 0.5 0.8 0.5 0.9 0.5 0.2 0.5 0.4 0.5 0.2 0.5 0.0 0.5 0.4 0.5 0.3 0.5 0.0 0.5 0.3 0.5 0.2 0.5 -0.2 0.5 0.4 0.5 0.5 0.5 -0.3 0.5 0.5 0.5 0.6 0.5 -0.3 0.5 -0.6 0.5 -0.4 0.5 -0.6 0.5 -0.5 0.5 0.1 0.5 0.5 0.5 -0.3 0.5 1.1 0.5 -0.1 0.5 -0.7 0.5 0.6 0.5 0.1 0.5 0.1 0.5 0.3 0.5 0.3 0.5 0.3 0.5 0.3 0.5 -0.1 0.5 -0.6 0.5 -0.3 0.5 0.0 0.5 0.1 0.5 -0.3 0.5 -0.2 0.5 0.3 0.5 -0.2 0.5 0.9 0.5 -0.2 0.5 -0.7 0.5 -0.1 0.5 0.0 0.5 0.5 0.5 0.1 0.5 0.7 0.5 0.1 0.5 0.0 0.5 -0.3 0.5 -0.2 0.5 0.2 0.5 -0.6 0.5 -0.1 0.5 -0.5 0.5 -0.7 0.5 -0.1 0.5 0.0 0.5 -0.1 0.5 0.3 0.5 -0.5 0.5 -0.3 0.5 0.1 0.5 -0.4 0.5 0.7 0.5 0.2 0.5 -0.1 0.5 0.2 0.5 -0.2 0.5 0.6 0.5 -0.3 0.5 0.3 0.5 0.4 0.5 0.0 0.5 -0.2 0.5 -0.8 0.5 0.4 0.5 0.1 0.5 0.2 0.5 0.1 0.5 -0.1 0.5 -0.6 0.5 0.5 0.5 0.0 0.5 0.1 0.5 0.7 0.5 -0.7 0.5 -0.1 0.5 0.3 0.5 0.6 0.5 0.2 0.5 -0.4 0.5 -0.3 0.5 -0.2 0.5 0.0 0.5 0.4 0.5 0.4 0.5 -0.2 0.5 -0.1 0.5 0.0 0.5 -0.1 0.5 0.1 0.5 0.5 0.5 -0.4 0.5 -0.4 0.5 0.7 0.5 0.5 0.5 0.5 0.5 -0.4 0.5 -0.7 0.5 -0.2 0.5 0.1 0.5 0.1 0.5 0.2 0.5 0.1 0.5 -1.2 0.5 0.3 0.5 -0.7 0.5 0.1 0.5 0.2 0.5 -0.5 0.5 0.2 0.5 0.2 0.5 0.7 0.5 0.1 0.5 0.1 0.5 0.3 0.5 -0.4 0.5 0.2 0.5 0.7 0.5 0.2 0.5 0.2 0.5 -0.3 0.5 -0.8 0.5 -0.2 0.5 -0.1 0.5 0.3 0.5 0.0 0.5 -0.1 0.5 0.2 0.5 -0.1 0.5 -0.1 0.5 0.0 0.5 0.0 0.5 0.1 0.5 0.0 0.5 0.4 0.5 -0.2 0.5 -0.4 0.5 0.1 0.5 -0.5 0.5 0.2 0.5 0.3 0.5 0.7 0.5 0.3 0.5 -0.3 0.5 0.0 0.5 0.0 0.5 -0.3 0.5 -0.3 0.5 -0.2 0.5 0.2 0.5 0.3 0.5 0.3 0.5 0.3 0.5 -0.7 0.5 -0.3 0.5 -0.1 0.5 0.0 0.5 0.3 0.5 0.1 0.5 -0.1 0.5 0.2 0.5 -0.3 0.5 0.5 0.5 0.1 0.5 -0.2 0.5 0.5 0.5 -0.5 0.5 0.6 0.5 0.1 0.5 -0.1 0.5 0.0 0.5 0.0 0.5 -0.2 0.5 -0.7 0.5 0.4 0.5 0.1 0.5 -0.1 0.5 0.3 0.5 -0.1 0.5 0.3 0.5 -0.3 0.5 -0.1 0.5 0.2 0.5 -0.7 0.5 0.5 0.5 -0.1 0.5 -0.5 0.5 0.6 0.5 -0.5 0.5 0.0 0.5 -0.4 0.5 -0.5 0.5 0.9 0.5 -0.3 0.5 0.2 0.5 0.2 0.5 -0.3 0.5 0.4 0.5 -0.2 0.5 -0.2 0.5 0.0 0.5 -0.6 0.5 -0.4 0.5 0.5 0.5 0.1 0.5 0.5 0.5 0.5 0.5 0.2 0.5 -0.4 0.5 0.2 0.5 0.0 0.5 -0.2 0.5 -0.3 0.5 0.0 0.5 0.5 0.5 -0.3 0.5 0.3 0.5 0.1 0.5 -1.0 0.5 -0.1 0.5 0.3 0.5 0.1 0.5 0.6 0.5 -0.5 0.5 0.0 0.5 0.0 0.5 0.3 0.5 -0.1 0.5 -0.5 0.5 -0.8 0.5 -0.2 0.5 -0.1 0.5 -0.1 0.5 0.5 0.5 0.3 0.5 -0.1 0.5 -0.8 0.5 0.4 0.5 -0.3 0.5 0.1 0.5 0.0 0.5 -0.3 0.5 -0.1 0.5 0.0 0.5 0.9 0.5 0.0 0.5 0.7 0.5 0.1 0.5 -0.3 0.5 -0.2 0.5 0.2 0.5 -0.6 0.5 0.3 0.5 0.0 0.5 0.1 0.5 -0.7 0.5 -0.1 0.5 0.2 0.5 -1.6 0.5 -0.1 0.5 -1.8 0.5 -2.0 0.5 -1.3 0.5 -1.0 0.5 -0.1 0.5 1.0 0.5 0.5 0.5 1.8 0.5 1.7 0.5 1.3 0.5 1.1 0.5 0.5 0.5 0.1 0.5 0.7 0.5 0.6 0.5 0.1 0.5 0.2 0.5 -0.3 0.5 0.0 0.5 0.2 0.5 0.1 0.5 -0.1 0.5 0.2 0.5 -0.2 0.5 0.2 0.5 -0.1 0.5 0.1 0.5 0.3 0.5 -0.3 0.5 0.4 0.5 0.6 0.5 -1.0 0.5 -0.1 0.5 -0.9 0.5 -0.1 0.5 0.6 0.5 -0.1 0.5 0.5 0.5 0.1 0.5 0.0 0.5 0.0 0.5 -0.2 0.5 -0.2 0.5 -0.2 0.5 -0.2 0.5 -0.1 0.5 0.4 0.5 -0.3 0.5 -0.5 0.5 0.0 0.5 0.1 0.5 -0.4 0.5 0.0 0.5 0.2 0.5 0.8 0.5 0.7 0.5 0.2 0.5 0.3 0.5 -0.4 0.5 -0.1 0.5 -0.1 0.5 0.2 0.5 -0.4 0.5 0.0 0.5 -0.2 0.5 -0.3 0.5 0.1 0.5 0.0 0.5 0.2 0.5 0.3 0.5 0.5 0.5 0.0 0.5 -0.9 0.5 -0.1 0.5 -0.3 0.5 -0.6 0.5 0.5 0.5 0.4 0.5 0.0 0.5 -0.2 0.5 -0.2 0.5 0.3 0.5 -0.2 0.5 0.3 0.5 0.8 0.5 -0.4 0.5 0.5 0.5 -0.3 0.5 -0.1 0.5 0.5 0.5 -0.2 0.5 -0.1 0.5 -0.1 0.5 0.1 0.5 0.4 0.5 0.8 0.5 -0.9 0.5 -1.2 0.5 -0.2 0.5 -0.4 0.5 0.3 0.5 0.9 0.5 -0.3 0.5 0.1 0.5 -0.4 0.5 0.5 0.5 0.4 0.5 -0.8 0.5 -0.2 0.5 -1.0 0.5 0.8 0.5 0.9 0.5 0.2 0.5 0.0 0.5 -0.9 0.5 -0.4 0.5 0.0 0.5 0.1 0.5 0.4 0.5 0.4 0.5 0.4 0.5 0.0 0.5 -0.3 0.5 0.0 0.5 -0.1 0.5 -0.2 0.5 0.4 0.5 -0.1 0.5 0.2 0.5 -0.3 0.5 0.1 0.5 -0.1 0.5 0.3 0.5 -0.3 0.5 -0.8 0.5 0.0 0.5 -0.1 0.5 0.5 0.5 -0.3 0.5 0.3 0.5 0.7 0.5 -0.6 0.5 -0.3 0.5 -0.2 0.5 -0.2 0.5 -0.2 0.5 0.1 0.5 -0.1 0.5 -0.2 0.5 0.5 0.5 -0.3 0.5 -0.4 0.5 0.3 0.5 -0.4 0.5 -0.3 0.5 0.1 0.5 -0.6 0.5 0.5 0.5 -0.1 0.5 0.3 0.5 0.0 0.5 -0.1 0.5 -0.2 0.5 0.3 0.5 0.1 0.5 -0.2 0.5 0.7 0.5 -0.2 0.5 0.2 0.5 -0.3 0.5 -0.4 0.5 -0.2 0.5 -0.4 0.5 0.1 0.5 -0.1 0.5 -0.1 0.5 0.6 0.5 0.2 0.5 0.0 0.5 -0.4 0.5 -0.2 0.5 0.3 0.5 -0.2 0.5 0.2 0.5 -0.8 0.5 -0.1 0.5 -0.1 0.5 -0.2 0.5 0.0 0.5 -0.3 0.5 0.5 0.5 -0.2 0.5 0.8 0.5 0.1 0.5 -0.4 0.5 0.6 0.5 -0.4 0.5 0.3 0.5 0.1 0.5 0.0 0.5 -0.3 0.5 -0.3 0.5 0.3 0.5 -0.7 0.5 -0.2 0.5 -0.2 0.5 -0.6 0.5 -0.2 0.5 -0.1 0.5 -0.1 0.5 0.1 0.5 0.0 0.5 0.2 0.5 0.4 0.5 0.3 0.5 0.5 0.5 0.5 0.5 0.3 0.5 -0.5 0.5 -0.1 0.5 -0.2 0.5 -0.2 0.5 0.6 0.5 0.1 0.5 -0.1 0.5 0.4 0.5 -0.1 0.5 -0.7 0.5 0.5 0.5 -0.1 0.5 -0.5 0.5 0.4 0.5 -0.6 0.5 -0.3 0.5 0.4 0.5 -0.1 0.5 -0.3 0.5 0.6 0.5 0.1 0.5 -0.1 0.5 0.8 0.5 -0.3 0.5 -0.4 0.5 -0.3 0.5 0.4 0.5 0.0 0.5 -0.6 0.5 -0.1 0.5 0.1 0.5 -0.5 0.5 0.0 0.5 -0.3 0.5 -0.1 0.5 0.3 0.5 0.1 0.5 0.4 0.5 -0.2 0.5 0.5 0.5 -0.4 0.5 -0.6 0.5 -0.4 0.5 0.0 0.5 -0.1 0.5 0.1 0.5 0.2 0.5 -0.7 0.5 -0.4 0.5 -0.6 0.5 0.2 0.5 0.0 0.5 0.5 0.5 -0.1 0.5 0.2 0.5 0.2 0.5 -0.5 0.5 0.3 0.5 -0.4 0.5 0.4 0.5 0.1 0.5 0.0 0.5 -0.2 0.5 -0.4 0.5 -0.2 0.5 -0.1 0.5 -0.1 0.5 -0.4 0.5 0.0 0.5 0.5 0.5 -0.3 0.5 0.0 0.5 -0.5 0.5 -0.5 0.5 -0.7 0.5 0.0 0.5 0.7 0.5 -0.4 0.5 0.2 0.5 -0.3 0.5 -0.2 0.5 -0.5 0.5 0.3 0.5 -0.5 0.5 -0.1 0.5 0.2 0.5 0.1 0.5 0.1 0.5 0.2 0.5 0.3 0.5 -1.4 0.5 -0.4 0.5 -0.8 0.5 -0.7 0.5 0.7 0.5 0.4 0.5 0.3 0.5 0.2 0.5 0.2 0.5 -0.2 0.5 -0.2 0.5 -0.4 0.5 0.0 0.5 -0.2 0.5 0.0 0.5 0.5 0.5 0.0 0.5 -0.1 0.5 0.2 0.5 0.0 0.5 0.3 0.5 0.8 0.5 -0.3 0.5 -0.5 0.5 -0.3 0.5 0.3 0.5 0.6 0.5 0.3 0.5 -0.2 0.5 0.0 0.5 -0.2 0.5 0.3 0.5 -0.2 0.5 0.1 0.5 -0.2 0.5 -0.1 0.5 0.5 0.5 0.3 0.5 0.3 0.5 0.6 0.5 -0.5 0.5 0.5 0.5 -0.1 0.5 0.1 0.5 0.3 0.5 -0.6 0.5 0.1 0.5 -0.3 0.5 -0.2 0.5 -0.1 0.5 0.4 0.5 0.1 0.5 -0.3 0.5 0.1 0.5 -0.2 0.5 -0.2 0.5 0.7 0.5 0.2 0.5 -0.2 0.5 0.7 0.5 0.1 0.5 0.1 0.5 0.6 0.5 0.3 0.5 0.3 0.5 0.0 0.5 0.0 0.5 -0.7 0.5 -0.2 0.5 0.3 0.5 0.1 0.5 0.4 0.5 0.5 0.5 -0.8 0.5 0.3 0.5 0.5 0.5 0.4 0.5 0.1 0.5 -0.2 0.5 -0.4 0.5 -0.5 0.5 0.0 0.5 0.4 0.5 0.2 0.5 -0.9 0.5 0.0 0.5 0.0 0.5 0.1 0.5 0.4 0.5 0.7 0.5 -0.1 0.5 -0.4 0.5 -0.2 0.5 -0.3 0.5 -0.4 0.5 0.0 0.5 0.1 0.5 -0.1 0.5 0.3 0.5 0.3 0.5 -0.3 0.5 0.2 0.5 0.3 0.5 -0.7 0.5 0.8 0.5 -0.1 0.5 -0.3 0.5 -0.1 0.5 -0.7 0.5 0.1 0.5 0.1 0.5 -0.3 0.5 -0.3 0.5 0.7 0.5 0.4 0.5 0.5 0.5 0.7 0.5 -0.1 0.5 -0.2 0.5 0.8 0.5 -0.2 0.5 -0.3 0.5 0.7 0.5 -1.0 0.5 0.1 0.5 0.2 0.5 -0.6 0.5 -0.1 0.5 0.1 0.5 -0.1 0.5 0.1 0.5 -0.5 0.5 -0.6 0.5 0.7 0.5 -0.1 0.5 -0.1 0.5 -0.2 0.5 0.2 0.5 -0.2 0.5 -0.4 0.5 0.4 0.5 -0.1 0.5 -0.8 0.5 -0.1 0.5 -1.1 0.5 -1.1 0.5 -0.7 0.5 -1.9 0.5 -1.1 0.5 -1.3 0.5 -2.5 0.5 -1.3 0.5 -1.4 0.5 -0.9 0.5 0.2 0.5 0.0 0.5 1.2 0.5 1.6 0.5 1.8 0.5 1.7 0.5 1.8 0.5 1.2 0.5 1.4 0.5 1.0 0.5 0.5 0.5 0.4 0.5 0.2 0.5 0.8 0.5 0.3 0.5 -0.2 0.5 -0.3 0.5 -0.3 0.5 -0.1 0.5 -0.2 0.5 0.4 0.5 0.1 0.5 -0.2 0.5 0.2 0.5 -0.2 0.5 -0.1 0.5 0.4 0.5 0.3 0.5 -0.2 0.5 -0.4 0.5 0.0 0.5 0.3 0.5 0.3 0.5 0.1 0.5 0.1 0.5 0.3 0.5 0.0 0.5 -0.1 0.5 0.1 0.5 0.5 0.5 -0.4 0.5 0.0 0.5 -0.3 0.5 -0.1 0.5 0.7 0.5 -0.3 0.5 -0.2 0.5 -0.4 0.5 0.1 0.5 0.1 0.5 -0.3 0.5 0.3 0.5 0.1 0.5 -0.3 0.5 -0.2 0.5 -0.4 0.5 -0.8 0.5 0.0 0.5 0.1 0.5 0.1 0.5 0.5 0.5 -0.5 0.5 0.2 0.5 -0.1 0.5 0.2 0.5 0.1 0.5 -0.3 0.5 0.4 0.5 -0.2 0.5 -0.3 0.5 0.3 0.5 0.4 0.5 -0.1 0.5 0.3 0.5 -0.6 0.5 -0.9 0.5 -0.2 0.5 -0.4 0.5 0.1 0.5 0.3 0.5 0.2 0.5 0.3 0.5 -0.1 0.5 -0.7 0.5 -0.1 0.5 -0.9 0.5 -0.3 0.5 -0.6 0.5 -0.4 0.5 0.3 0.5 -1.1 0.5 -0.8 0.5 0.1 0.5 -1.1 0.5 -0.1 0.5 0.0 0.5 -0.1 0.5 0.4 0.5 -0.6 0.5 -0.6 0.5 0.4 0.5 0.2 0.5 0.4 0.5 0.7 0.5 0.1 0.5 -0.5 0.5 -0.4 0.5 -0.4 0.5 -0.5 0.5 -0.5 0.5 -1.3 0.5 -0.5 0.5 -1.7 0.5 -1.0 0.5 -1.5 0.5 -1.3 0.5 -0.3 0.5 -1.7 0.5 -1.0 0.5 -1.6 0.5 -1.2 0.5 -0.5 0.5 -0.5 0.5 0.0 0.5 0.3 0.5 0.1 0.5 0.4 0.5 0.9 0.5 0.9 0.5 1.6 0.5 1.1 0.5 2.0 0.5 1.8 0.5 1.7 0.5 1.2 0.5 0.8 0.5 0.7 0.5 0.6 0.5 0.8 0.5 0.7 0.5 1.0 0.5 1.1 0.5 0.4 0.5 1.2 0.5 0.6 0.5 -0.3 0.5 -0.1 0.5 0.4 0.5 0.6 0.5 0.0 0.5 0.5 0.5 -0.1 0.5 0.0 0.5 -0.1 0.5 -0.5 0.5 -0.1 0.5 0.5 0.5 0.5 0.5 0.1 0.5 -0.2 0.5 -0.1 0.5 -0.1 0.5 0.2 0.5 0.3 0.5 0.2 0.5 0.2 0.5 0.2 0.5 -0.5 0.5 0.0 0.5 0.5 0.5 -0.5 0.5 0.2 0.5 0.6 0.5 0.6 0.5 0.7 0.5 0.0 0.5 0.5 0.5 0.5 0.5 0.2 0.5 -0.1 0.5 -0.5 0.5 -0.2 0.5 -0.2 0.5 -0.3 0.5 0.5 0.5 0.1 0.5 0.0 0.5 -0.4 0.5 -0.4 0.5 -0.4 0.5 -0.2 0.5 -0.2 0.5 0.0 0.5 0.0 0.5 -0.3 0.5 -1.1 0.5 -0.9 0.5 -0.8 0.5 -0.9 0.5 -0.5 0.5 -0.6 0.5 -1.6 0.5 -0.6 0.5 -0.4 0.5 -0.7 0.5 0.3 0.5 0.5 0.5 0.6 0.5 0.7 0.5 0.7 0.5 0.0 0.5 0.2 0.5 1.0 0.5 1.3 0.5 0.7 0.5 1.2 0.5 1.2 0.5 0.3 0.5 1.0 0.5 0.6 0.5 0.4 0.5 0.6 0.5 0.4 0.5 0.2 0.5 0.2 0.5 0.3 0.5 -0.1 0.5 0.9 0.5 0.5 0.5 0.6 0.5 0.1 0.5 -0.3 0.5 -0.1 0.5 -0.1 0.5 -0.3 0.5 -0.1 0.5 -0.6 0.5 -0.3 0.5 0.2 0.5 -0.5 0.5 0.7 0.5 0.6 0.5 -0.1 0.5 1.3 0.5 0.3 0.5 0.1 0.5 0.1 0.5 -0.9 0.5 0.1 0.5 -0.4 0.5 0.8 0.5 0.4 0.5 0.0 0.5 0.7 0.5 0.0 0.5 -0.5 0.5 -0.3 0.5 -0.3 0.5 0.1 0.5 0.1 0.5 0.0 0.5 0.4 0.5 -0.4 0.5 -0.1 0.5 -0.2 0.5 0.1 0.5 0.5 0.5 -0.3 0.5 0.0 0.5 0.3 0.5 -0.2 0.5 0.7 0.5 0.7 0.5 -0.6 0.5 0.0 0.5 -0.3 0.5 -0.1 0.5 0.6 0.5 0.5 0.5 -0.3 0.5 -0.4 0.5 0.2 0.5 -0.4 0.5 -0.1 0.5 0.3 0.5 0.0 0.5 -0.5 0.5 0.3 0.5 -0.4 0.5 0.0 0.5 -0.1 0.5 -0.1 0.5 0.0 0.5 -0.4 0.5 0.4 0.5 -0.3 0.5 -0.2 0.5 0.4 0.5 0.0 0.5 0.3 0.5 0.3 0.5 0.2 0.5 0.4 0.5 -0.1 0.5 -0.2 0.5 0.2 0.5 -0.1 0.5 0.3 0.5 0.0 0.5 0.0 0.5 0.1 0.5 -0.5 0.5 0.5 0.5 0.0 0.5 0.5 0.5 0.0 0.5 -0.3 0.5 0.0 0.5 0.2 0.5 -0.2 0.5 -0.2 0.5 0.1 0.5 -0.3 0.5 -0.3 0.5 0.1 0.5 0.1 0.5 0.3 0.5 0.5 0.5 0.3 0.5 -0.4 0.5 0.1 0.5 -0.1 0.5 -0.7 0.5 0.6 0.5 -0.6 0.5 0.4 0.5 0.3 0.5 0.1 0.5 0.7 0.5 -0.1 0.5 -0.4 0.5 0.4 0.5 -0.1 0.5 0.1 0.5 -0.1 0.5 -1.1 0.5 0.0 0.5 -0.2 0.5 0.4 0.5 0.9 0.5 -0.3 0.5 0.0 0.5 -0.1 0.5 -0.4 0.5 0.3 0.5 -0.6 0.5 0.1 0.5 -0.1 0.5 0.3 0.5 0.3 0.5 0.2 0.5 -0.4 0.5 -1.0 0.5 0.0 0.5 0.1 0.5 0.3 0.5 0.3 0.5 0.0 0.5 -0.3 0.5 -0.1 0.5 -0.5 0.5 -0.3 0.5 0.2 0.5 0.1 0.5 0.3 0.5 0.4 0.5 -0.5 0.5 -0.2 0.5 -0.1 0.5 -0.5 0.5 -0.2 0.5 -0.2 0.5 -0.2 0.5 0.2 0.5 -0.8 0.5 -1.1 0.5 -1.3 0.5 -1.2 0.5 -1.3 0.5 -1.0 0.5 -0.4 0.5 -1.4 0.5 -0.1 0.5 0.5 0.5 0.0 0.5 0.8 0.5 0.9 0.5 1.1 0.5 1.4 0.5 0.8 0.5 0.9 0.5 0.7 0.5 1.0 0.5 1.1 0.5 0.8 0.5 0.3 0.5 0.7 0.5 -0.1 0.5 -0.4 0.5 0.1 0.5 -0.5 0.5 0.0 0.5 1.1 0.5 -0.2 0.5 0.0 0.5 0.0 0.5 0.0 0.5 0.1 0.5 -0.1 0.5 0.6 0.5 -0.6 0.5 0.2 0.5 0.0 0.5 0.0 0.5 -0.3 0.5 -0.2 0.5 -0.2 0.5 0.3 0.5 0.2 0.5 -0.3 0.5 0.0 0.5 -0.4 0.5 0.1 0.5 -0.6 0.5 0.3 0.5 0.0 0.5 -0.5 0.5 0.2 0.5 -0.3 0.5 0.1 0.5 0.2 0.5 -0.3 0.5 0.0 0.5 0.4 0.5 -0.1 0.5 -0.3 0.5 0.3 0.5 0.3 0.5 -0.2 0.5 0.5 0.5 -0.3 0.5 -0.6 0.5 0.0 0.5 -0.6 0.5 -0.1 0.5 0.0 0.5 0.2 0.5 0.5 0.5 -0.1 0.5 0.1 0.5 0.2 0.5 -1.1 0.5 0.0 0.5 0.0 0.5 -0.4 0.5 0.2 0.5 -0.4 0.5 -0.5 0.5 -0.2 0.5 0.2 0.5 0.9 0.5 0.0 0.5 0.0 0.5 -0.5 0.5 -0.4 0.5 0.0 0.5 -0.8 0.5 -0.7 0.5 -0.3 0.5 -0.3 0.5 -0.4 0.5 0.3 0.5 -0.7 0.5 0.2 0.5 -0.8 0.5 -1.4 0.5 0.0 0.5 -1.3 0.5 -0.5 0.5 -0.9 0.5 -1.5 0.5 -1.5 0.5 -1.7 0.5 -2.1 0.5 -1.6 0.5 -2.6 0.5 -2.4 0.5 -2.9 0.5 -4.0 0.5 -3.3 0.5 -4.1 0.5 -4.3 0.5 -4.1 0.5 -4.4 0.5 -4.9 0.5 -5.2 0.5 -5.6 0.5 -5.0 0.5 -4.9 0.5 -4.9 0.5 -4.5 0.5 -3.9 0.5 -2.8 0.5 -2.4 0.5 -1.2 0.5 0.2 0.5 1.5 0.5 2.2 0.5 3.5 0.5 3.5 0.5 4.5 0.5 4.4 0.5 4.7 0.5 5.4 0.5 4.8 0.5 4.4 0.5 4.6 0.5 4.7 0.5 4.6 0.5 4.5 0.5 3.4 0.5 3.6 0.5 3.0 0.5 3.1 0.5 3.1 0.5 3.0 0.5 2.6 0.5 2.2 0.5 1.0 0.5 1.9 0.5 1.4 0.5 0.8 0.5 1.2 0.5 1.2 0.5 0.7 0.5 0.7 0.5 0.9 0.5 -0.5 0.5 0.6 0.5 0.3 0.5 -0.3 0.5 0.5 0.5 0.3 0.5 -0.3 0.5 0.3 0.5 0.2 0.5 0.9 0.5 0.4 0.5 0.2 0.5 0.5 0.5 -0.3 0.5 0.5 0.5 0.1 0.5 -0.5 0.5 0.2 0.5 -0.2 0.5 0.3 0.5 0.3 0.5 -0.3 0.5 0.3 0.5 -0.5 0.5 0.5 0.5 0.4 0.5 -0.2 0.5 1.1 0.5 0.4 0.5 -0.1 0.5 0.2 0.5 -0.1 0.5 0.0 0.5 -0.1 0.5 0.0 0.5 0.2 0.5 0.5 0.5 0.5 0.5 0.6 0.5 -0.5 0.5 0.4 0.5 -1.0 0.5 -0.6 0.5 -0.5 0.5 0.1 0.5 0.7 0.5 -0.3 0.5 0.1 0.5 0.5 0.5 0.5 0.5 0.1 0.5 -0.1 0.5 -1.0 0.5 0.2 0.5 -0.3 0.5 0.4 0.5 0.0 0.5 -0.3 0.5 -0.1 0.5 -0.1 0.5 0.1 0.5 0.8 0.5 0.3 0.5 -0.3 0.5 0.0 0.5 0.3 0.5 -0.4 0.5 0.4 0.5 -0.2 0.5 -0.4 0.5 0.0 0.5 -0.4 0.5 0.6 0.5 0.6 0.5 0.4 0.5 0.2 0.5 0.1 0.5 -0.8 0.5 -0.4 0.5 -0.3 0.5 -0.8 0.5 0.2 0.5 -0.1 0.5 0.2 0.5 0.3 0.5 -0.4 0.5 0.6 0.5 0.3 0.5 0.3 0.5 0.6 0.5 -0.2 0.5 0.7 0.5 -0.3 0.5 0.0 0.5 0.3 0.5 -0.5 0.5 0.4 0.5 0.0 0.5 0.0 0.5 0.4 0.5 -0.3 0.5 -0.5 0.5 -0.2 0.5 -0.2 0.5 0.4 0.5 -0.4 0.5 -0.2 0.5 0.1 0.5 -0.7 0.5 0.6 0.5 0.3 0.5 -0.7 0.5 -0.3 0.5 0.3 0.5 0.2 0.5 0.5 0.5 -0.5 0.5 -0.3 0.5 0.1 0.5 0.0 0.5 0.3 0.5 0.0 0.5 0.7 0.5 -0.4 0.5 0.2 0.5 0.0 0.5 -0.1 0.5 0.2 0.5 0.0 0.5 0.3 0.5 0.1 0.5 0.0 0.5 0.0 0.5 0.0 0.5 0.0 0.5 0.0 0.5 0.0 0.5 0.3 0.5 -0.1 0.5 -0.2 0.5 -0.7 0.5 0.0 0.5 -0.2 0.5 0.4 0.5 0.3 0.5 -0.7 0.5 -0.2 0.5 -0.3 0.5 -0.3 0.5 -0.5 0.5 0.5 0.5 -0.2 0.5 0.9 0.5 1.1 0.5 0.0 0.5 0.2 0.5 0.0 0.5 0.0 0.5 -0.3 0.5 0.2 0.5 0.6 0.5 -0.8 0.5 0.0 0.5 0.4 0.5 0.0 0.5 -0.1 0.5 -0.6 0.5 0.3 0.5 -0.1 0.5 0.4 0.5 0.3 0.5 -0.3 0.5 -0.3 0.5 -0.1 0.5 -0.6 0.5 0.5 0.5 0.4 0.5 0.3 0.5 -0.1 0.5 -0.5 0.5 0.7 0.5 -1.1 0.5 0.7 0.5 0.7 0.5 0.0 0.5 0.8 0.5 -0.5 0.5 -0.9 0.5 0.0 0.5 -0.6 0.5 -0.7 0.5 0.1 0.5 -0.6 0.5 -0.1 0.5 -0.3 0.5 0.3 0.5 -0.3 0.5 0.0 0.5 0.3 0.5 -0.3 0.5 0.3 0.5 0.2 0.5 0.5 0.5 0.4 0.5 0.4 0.5 0.2 0.5 -0.1 0.5 0.2 0.5 -0.1 0.5 -0.4 0.5 0.4 0.5 0.5 0.5 0.0 0.5 0.2 0.5 0.1 0.5 -0.8 0.5 -0.6 0.5 0.1 0.5 0.2 0.5 0.1 0.5 -0.5 0.5 -0.4 0.5 -0.2 0.5 0.4 0.5 -0.5 0.5 0.7 0.5 0.2 0.5 0.0 0.5 0.6 0.5 -0.5 0.5 0.0 0.5 -0.2 0.5 0.2 0.5 -0.1 0.5 0.1 0.5 -0.1 0.5 -0.4 0.5 -0.2 0.5 0.1 0.5 -0.4 0.5 -0.4 0.5 0.1 0.5 -0.2 0.5 0.0 0.5 0.6 0.5 -0.3 0.5 0.5 0.5 0.2 0.5 -0.4 0.5 0.9 0.5 -0.7 0.5 -0.1 0.5 -0.2 0.5 -0.7 0.5 0.3 0.5 0.1 0.5 0.4 0.5 0.8 0.5 0.0 0.5 0.0 0.5 0.0 0.5 -0.4 0.5 0.5 0.5 0.0 0.5 0.4 0.5 0.0 0.5 -0.5 0.5 -0.1 0.5 -0.1 0.5 0.3 0.5 -0.3 0.5 0.4 0.5 -0.2 0.5 -0.3 0.5 0.3 0.5 -0.6 0.5 -0.1 0.5 -0.5 0.5 -0.9 0.5 -0.2 0.5 0.1 0.5 -0.9 0.5 -0.7 0.5 -0.5 0.5 -1.1 0.5 -0.2 0.5 0.0 0.5 -0.2 0.5 1.0 0.5 0.2 0.5 0.6 0.5 0.8 0.5 0.6 0.5 0.9 0.5 0.9 0.5 0.6 0.5 0.7 0.5 0.4 0.5 0.0 0.5 0.1 0.5 -0.1 0.5 -0.6 0.5 -0.4 0.5 -0.7 0.5 0.0 0.5 0.0 0.5 0.4 0.5 0.1 0.5 0.0 0.5 0.2 0.5 -0.1 0.5 0.0 0.5 -0.1 0.5 0.2 0.5 0.5 0.5 0.5 0.5 -0.2 0.5 0.2 0.5 -0.6 0.5 -0.5 0.5 0.2 0.5 0.5 0.5 -0.1 0.5 0.2 0.5 0.0 0.5 0.1 0.5 -0.2 0.5 -0.3 0.5 0.6 0.5 -0.6 0.5 0.0 0.5 -0.2 0.5 -0.5 0.5 0.2 0.5 0.0 0.5 -0.2 0.5 0.1 0.5 0.5 0.5 -0.6 0.5 0.6 0.5 0.8 0.5 -0.1 0.5 0.2 0.5 -0.1 0.5 -0.3 0.5 0.3 0.5 0.2 0.5 -0.7 0.5 -0.3 0.5 -0.6 0.5 0.2 0.5 0.7 0.5 -0.7 0.5 -0.3 0.5 -0.1 0.5 -0.2 0.5 0.4 0.5 -0.2 0.5 -0.4 0.5 0.2 0.5 -0.1 0.5 0.2 0.5 0.9 0.5 -0.4 0.5 0.0 0.5 -0.8 0.5 0.1 0.5 0.4 0.5 -0.3 0.5 0.3 0.5 0.0 0.5 -0.1 0.5 0.7 0.5 0.2 0.5 -0.2 0.5 0.3 0.5 -0.2 0.5 0.1 0.5 -0.1 0.5 -0.1 0.5 0.1 0.5 -0.1 0.5 0.2 0.5 0.5 0.5 -0.7 0.5 0.5 0.5 -0.2 0.5 -0.1 0.5 0.2 0.5 -0.6 0.5 0.1 0.5 -0.1 0.5 -0.5 0.5 -0.2 0.5 0.0 0.5 0.2 0.5 0.3 0.5 -0.2 0.5 0.8 0.5 0.6 0.5 0.5 0.5 0.1 0.5 0.0 0.5 -0.6 0.5 0.0 0.5 -0.7 0.5 0.3 0.5 0.0 0.5 0.5 0.5 0.5 0.5 -0.8 0.5 0.2 0.5 -0.1 0.5 -0.5 0.5 -0.1 0.5 0.6 0.5 -0.4 0.5 0.0 0.5 0.4 0.5 -0.2 0.5 0.1 0.5 -0.1 0.5 -1.0 0.5 0.1 0.5 0.0 0.5 0.3 0.5 0.3 0.5 -0.2 0.5 -0.1 0.5 0.1 0.5 -0.3 0.5 -0.1 0.5 0.3 0.5 0.0 0.5 0.4 0.5 0.1 0.5 -0.1 0.5 -0.3 0.5 -0.2 0.5 0.1 0.5 0.5 0.5 0.3 0.5 0.1 0.5 -0.4 0.5 -1.0 0.5 0.0 0.5 -0.1 0.5 0.2 0.5 0.2 0.5 0.4 0.5 0.0 0.5 -0.2 0.5 0.1 0.5 0.3 0.5 0.0 0.5 0.1 0.5 -0.2 0.5 0.1 0.5 -0.3 0.5 -0.8 0.5 -0.6 0.5 -0.5 0.5 0.3 0.5 0.2 0.5 0.3 0.5 0.2 0.5 0.6 0.5 0.4 0.5 0.0 0.5 -0.2 0.5 -0.2 0.5 -0.5 0.5 0.4 0.5 -0.1 0.5 0.7 0.5 -0.6 0.5 -0.5 0.5 0.2 0.5 -0.2 0.5 -0.3 0.5 -0.1 0.5 0.0 0.5 0.2 0.5 0.7 0.5 -0.2 0.5 0.0 0.5 -0.1 0.5 0.2 0.5 0.2 0.5 0.3 0.5 0.1 0.5 -0.4 0.5 -0.2 0.5 0.3 0.5 0.4 0.5 0.2 0.5 0.4 0.5 0.0 0.5 0.1 0.5 -0.4 0.5 -0.3 0.5 0.0 0.5 0.0 0.5 0.3 0.5 -0.3 0.5 -0.3 0.5 -0.4 0.5 0.3 0.5 -0.4 0.5 -0.7 0.5 -0.6 0.5 -0.9 0.5 -0.6 0.5 -0.6 0.5 -1.6 0.5 -1.1 0.5 -1.4 0.5 -1.4 0.5 -1.0 0.5 -1.7 0.5 -0.7 0.5 -0.5 0.5 -0.3 0.5 0.5 0.5 0.9 0.5 0.2 0.5 0.7 0.5 0.4 0.5 1.2 0.5 1.4 0.5 1.0 0.5 1.5 0.5 0.9 0.5 0.5 0.5 0.9 0.5 0.5 0.5 1.1 0.5 1.2 0.5 -0.1 0.5 0.7 0.5 0.0 0.5 -0.4 0.5 -0.3 0.5 0.4 0.5 -0.1 0.5 0.1 0.5 0.8 0.5 0.1 0.5 0.4 0.5 0.0 0.5 0.0 0.5 -0.7 0.5 -0.3 0.5 0.0 0.5 -0.2 0.5 0.1 0.5 0.2 0.5 0.3 0.5 0.6 0.5 -0.6 0.5 -0.2 0.5 -0.1 0.5 -0.9 0.5 0.4 0.5 -0.7 0.5 0.2 0.5 -0.1 0.5 -0.6 0.5 0.3 0.5 0.5 0.5 0.3 0.5 0.9 0.5 0.4 0.5 -0.1 0.5 -0.3 0.5 -0.4 0.5 0.2 0.5 0.2 0.5 0.3 0.5 -0.3 0.5 0.1 0.5 -0.7 0.5 0.1 0.5 0.4 0.5 -0.7 0.5 0.1 0.5 0.2 0.5 0.2 0.5 0.3 0.5 -0.1 0.5 0.0 0.5 0.0 0.5 -0.5 0.5 0.0 0.5 0.4 0.5 -0.5 0.5 0.3 0.5 0.0 0.5 -0.2 0.5 0.3 0.5 -0.2 0.5 0.2 0.5 0.2 0.5 0.4 0.5 0.0 0.5 -0.3 0.5 -0.8 0.5 0.1 0.5 0.1 0.5 -0.1 0.5 0.3 0.5 0.0 0.5 0.3 0.5 0.5 0.5 0.5 0.5 0.0 0.5 0.2 0.5 -1.0 0.5 0.3 0.5 -0.8 0.5 0.7 0.5 0.5 0.5 -0.6 0.5 0.1 0.5 -0.5 0.5 -0.1 0.5 -0.1 0.5 0.0 0.5 -0.3 0.5 0.4 0.5 0.0 0.5 0.2 0.5 0.9 0.5 0.0 0.5 -0.1 0.5 0.6 0.5 -0.3 0.5 -0.9 0.5 -0.2 0.5 -0.1 0.5 0.6 0.5 0.1 0.5 -0.2 0.5 -0.4 0.5 -1.2 0.5 -0.4 0.5 0.4 0.5 0.2 0.5 0.0 0.5 0.3 0.5 -0.6 0.5 -0.2 0.5 0.4 0.5 -0.3 0.5 -0.6 0.5 0.0 0.5 -0.5 0.5 0.2 0.5 0.4 0.5 -0.1 0.5 0.1 0.5 -0.1 0.5 -0.4 0.5 0.2 0.5 -0.3 0.5 -0.9 0.5 -0.3 0.5 -0.7 0.5 -0.8 0.5 -0.1 0.5 -0.5 0.5 -0.6 0.5 0.3 0.5 -0.1 0.5 -0.1 0.5 -0.4 0.5 -0.7 0.5 -1.0 0.5 -0.9 0.5 0.4 0.5 -0.4 0.5 -0.6 0.5 -1.0 0.5 -1.1 0.5 -0.1 0.5 -0.9 0.5 -1.2 0.5 -0.1 0.5 -0.8 0.5 0.0 0.5 0.0 0.5 0.0 0.5 0.6 0.5 -0.5 0.5 -0.4 0.5 0.2 0.5 0.2 0.5 -0.1 0.5 0.0 0.5 -0.4 0.5 0.0 0.5 -0.6 0.5 0.0 0.5 0.7 0.5 0.7 0.5 0.5 0.5 0.4 0.5 0.2 0.5 0.2 0.5 0.3 0.5 1.0 0.5 0.4 0.5 1.1 0.5 0.7 0.5 0.1 0.5 0.9 0.5 0.2 0.5 0.5 0.5 0.4 0.5 0.7 0.5 0.3 0.5 0.8 0.5 0.4 0.5 0.6 0.5 0.4 0.5 0.1 0.5 0.2 0.5 0.3 0.5 0.0 0.5 0.4 0.5 -0.3 0.5 -0.3 0.5 0.4 0.5 0.4 0.5 0.3 0.5 0.3 0.5 0.5 0.5 0.4 0.5 0.5 0.5 0.0 0.5 -0.3 0.5 0.2 0.5 0.0 0.5 -0.1 0.5 0.6 0.5 0.1 0.5 -0.6 0.5 0.7 0.5 -0.4 0.5 -0.1 0.5 0.4 0.5 -0.3 0.5 0.1 0.5 -0.5 0.5 0.1 0.5 0.2 0.5 0.6 0.5 0.1 0.5 0.6 0.5 -0.2 0.5 -0.2 0.5 -0.1 0.5 0.2 0.5 -0.1 0.5 0.2 0.5 0.0 0.5 -0.7 0.5 0.1 0.5 -0.2 0.5 -0.1 0.5 0.2 0.5 -0.2 0.5 0.4 0.5 -0.2 0.5 -0.2 0.5 0.2 0.5 -0.9 0.5 0.7 0.5 0.1 0.5 0.0 0.5 0.2 0.5 0.6 0.5 0.4 0.5 -0.1 0.5 -0.1 0.5 -0.3 0.5 -0.2 0.5 -0.5 0.5 0.0 0.5 0.4 0.5 0.5 0.5 -0.2 0.5 0.2 0.5 0.1 0.5 -0.3 0.5 -0.2 0.5 -0.1 0.5 0.4 0.5 0.1 0.5 0.2 0.5 0.2 0.5 -0.4 0.5 -0.2 0.5 0.7 0.5 -0.6 0.5 0.2 0.5 0.5 0.5 -0.6 0.5 0.8 0.5 0.2 0.5 -0.4 0.5 0.4 0.5 -0.4 0.5 -0.8 0.5 0.0 0.5 -0.2 0.5 0.2 0.5 0.8 0.5 0.0 0.5 -0.1 0.5 1.0 0.5 0.5 0.5 0.6 0.5 0.4 0.5 -0.6 0.5 0.1 0.5 -0.8 0.5 -0.8 0.5 0.5 0.5 -0.6 0.5 0.4 0.5 0.1 0.5 0.1 0.5 0.4 0.5 -0.9 0.5 -0.3 0.5 -0.4 0.5 -0.1 0.5 0.1 0.5 0.3 0.5 0.0 0.5 0.0 0.5 0.4 0.5 -0.3 0.5 0.7 0.5 0.2 0.5 -0.5 0.5 -0.2 0.5 -0.6 0.5 0.3 0.5 -0.3 0.5 -0.2 0.5 -0.5 0.5 -0.2 0.5 -0.2 0.5 -0.1 0.5 -0.3 0.5 0.5 0.5 0.0 0.5 0.6 0.5 0.3 0.5 -0.4 0.5 -0.1 0.5 -1.0 0.5 0.1 0.5 0.0 0.5 0.1 0.5 0.2 0.5 0.1 0.5 0.1 0.5 0.5 0.5 0.6 0.5 -0.1 0.5 -0.5 0.5 -0.2 0.5 -0.4 0.5 0.1 0.5 -0.1 0.5 -0.3 0.5 0.0 0.5 -0.4 0.5 0.6 0.5 0.3 0.5 0.2 0.5 0.8 0.5 0.0 0.5 0.0 0.5 0.4 0.5 -0.5 0.5 -0.6 0.5 0.4 0.5 -0.5 0.5 0.4 0.5 0.8 0.5 -0.7 0.5 0.1 0.5 -0.6 0.5 -0.2 0.5 -0.3 0.5 -0.2 0.5 0.7 0.5 0.0 0.5 0.0 0.5 -0.1 0.5 -0.6 0.5 0.0 0.5 0.0 0.5 -0.6 0.5 -0.1 0.5 0.1 0.5 0.1 0.5 0.4 0.5 0.1 0.5 0.4 0.5 -0.4 0.5 0.4 0.5 -0.4 0.5 -0.2 0.5 -0.5 0.5 -0.4 0.5 0.2 0.5 0.4 0.5 0.2 0.5 -0.7 0.5 0.0 0.5 -0.3 0.5 -0.5 0.5 0.3 0.5 -0.4 0.5 -0.1 0.5 1.0 0.5 -1.0 0.5 -0.1 0.5 -0.3 0.5 -0.2 0.5 -0.1 0.5 -0.9 0.5 -0.1 0.5 -0.7 0.5 -0.4 0.5 0.2 0.5 -0.2 0.5 0.2 0.5 0.2 0.5 0.0 0.5 -0.6 0.5 -0.5 0.5 -1.5 0.5 -0.9 0.5 -0.3 0.5 -0.5 0.5 -1.0 0.5 -1.7 0.5 -2.3 0.5 -2.3 0.5 -2.1 0.5 -2.1 0.5 -1.9 0.5 -2.5 0.5 -2.8 0.5 -3.5 0.5 -3.2 0.5 -4.4 0.5 -4.2 0.5 -4.6 0.5 -4.5 0.5 -5.2 0.5 -4.7 0.5 -4.4 0.5 -4.9 0.5 -4.4 0.5 -4.0 0.5 -4.3 0.5 -3.3 0.5 -3.5 0.5 -3.2 0.5 -2.2 0.5 -1.7 0.5 0.2 0.5 1.0 0.5 2.2 0.5 3.0 0.5 3.0 0.5 4.3 0.5 4.9 0.5 4.5 0.5 5.1 0.5 4.1 0.5 4.1 0.5 4.9 0.5 4.7 0.5 4.7 0.5 4.7 0.5 4.3 0.5 3.2 0.5 3.7 0.5 2.7 0.5 2.8 0.5 2.8 0.5 2.0 0.5 2.1 0.5 2.3 0.5 1.7 0.5 1.3 0.5 1.3 0.5 0.4 0.5 1.2 0.5 0.6 0.5 1.2 0.5 0.8 0.5 0.8 0.5 0.5 0.5 0.4 0.5 1.1 0.5 0.4 0.5 0.9 0.5 0.4 0.5 -0.2 0.5 -0.1 0.5 0.3 0.5 -0.1 0.5 -0.2 0.5 0.7 0.5 0.4 0.5 -0.1 0.5 -0.3 0.5 -0.3 0.5 -1.1 0.5 -0.7 0.5 -0.6 0.5 -1.5 0.5 -1.0 0.5 -0.4 0.5 -0.5 0.5 0.2 0.5 0.9 0.5 0.3 0.5 1.1 0.5 1.2 0.5 0.7 0.5 1.1 0.5 0.9 0.5 0.0 0.5 0.2 0.5 1.0 0.5 0.0 0.5 0.3 0.5 0.4 0.5 -0.1 0.5 0.1 0.5 -0.2 0.5 0.6 0.5 0.0 0.5 0.0 0.5 0.5 0.5 0.0 0.5 0.3 0.5 0.6 0.5 -0.6 0.5 0.2 0.5 0.6 0.5 -1.2 0.5 0.6 0.5 0.2 0.5 -0.2 0.5 0.8 0.5 0.2 0.5 -0.1 0.5 -0.2 0.5 0.5 0.5 0.2 0.5 0.4 0.5 0.9 0.5 -0.6 0.5 -0.4 0.5 -0.3 0.5 -0.4 0.5 0.3 0.5 0.4 0.5 0.2 0.5 0.4 0.5 -1.0 0.5 -0.2 0.5 -0.3 0.5 -0.5 0.5 0.2 0.5 0.6 0.5 0.0 0.5 -0.4 0.5 0.0 0.5 -0.7 0.5 0.4 0.5 0.1 0.5 0.4 0.5 0.2 0.5 0.4 0.5 0.2 0.5 0.0 0.5 0.2 0.5 -0.4 0.5 0.1 0.5 -0.3 0.5 -0.3 0.5 0.4 0.5 -0.7 0.5 -0.1 0.5 -0.2 0.5 -0.5 0.5 0.5 0.5 -0.2 0.5 0.9 0.5 0.7 0.5 0.2 0.5 0.1 0.5 -0.3 0.5 -0.6 0.5 0.0 0.5 -0.5 0.5 -0.4 0.5 0.2 0.5 -0.1 0.5 0.6 0.5 0.0 0.5 0.0 0.5 -0.5 0.5 0.4 0.5 0.1 0.5 -0.2 0.5 0.6 0.5 -0.3 0.5 -0.4 0.5 0.2 0.5 -0.1 0.5 -0.1 0.5 0.2 0.5 0.1 0.5 -0.2 0.5 0.1 0.5 -0.1 0.5 -0.2 0.5 -0.6 0.5 0.8 0.5 0.8 0.5 -0.6 0.5 1.1 0.5 -0.5 0.5 -0.4 0.5 0.0 0.5 -0.6 0.5 0.3 0.5 0.5 0.5 -0.4 0.5 0.0 0.5 -0.4 0.5 -0.4 0.5 0.0 0.5 -0.2 0.5 0.5 0.5 0.0 0.5 0.0 0.5 0.1 0.5 0.3 0.5 0.3 0.5 0.3 0.5 -0.6 0.5 0.0 0.5 -0.9 0.5 0.0 0.5 -0.2 0.5 0.0 0.5 0.3 0.5 -0.5 0.5 0.8 0.5 0.1 0.5 0.1 0.5 0.2 0.5 -0.1 0.5 -0.6 0.5 0.1 0.5 -0.1 0.5 0.8 0.5 0.8 0.5 0.6 0.5 -0.1 0.5 -0.6 0.5 0.0 0.5 -0.9 0.5 0.8 0.5 0.1 0.5 -0.2 0.5 0.4 0.5 -0.2 0.5 0.1 0.5 0.2 0.5 0.1 0.5 0.2 0.5 0.3 0.5 -0.2 0.5 -0.8 0.5 -0.8 0.5 -0.5 0.5 0.2 0.5 0.6 0.5 0.1 0.5 0.0 0.5 -0.1 0.5 0.0 0.5 0.1 0.5 0.7 0.5 0.3 0.5 -1.1 0.5 -0.3 0.5 -0.7 0.5 0.0 0.5 1.3 0.5 0.2 0.5 0.8 0.5 0.5 0.5 -0.9 0.5 -0.2 0.5 0.0 0.5 -1.0 0.5 -0.3 0.5 -0.2 0.5 -0.1 0.5 0.2 0.5 0.1 0.5 0.0 0.5 -0.1 0.5 0.5 0.5 0.2 0.5 0.1 0.5 0.2 0.5 0.1 0.5 -0.1 0.5 0.2 0.5 0.1 0.5 0.9 0.5 0.2 0.5 0.2 0.5 0.6 0.5 0.0 0.5 0.3 0.5 -0.6 0.5 0.0 0.5 -0.7 0.5 -0.4 0.5 0.2 0.5 0.0 0.5 -0.2 0.5 -0.1 0.5 0.1 0.5 -0.4 0.5 0.8 0.5 -0.3 0.5 0.1 0.5 0.5 0.5 -0.5 0.5 0.2 0.5 0.0 0.5 -0.1 0.5 0.4 0.5 0.1 0.5 0.4 0.5 -0.2 0.5 -0.6 0.5 -0.8 0.5 -0.4 0.5 -0.4 0.5 0.4 0.5 0.3 0.5 -0.6 0.5 -0.4 0.5 0.1 0.5 0.4 0.5 0.4 0.5 0.4 0.5 0.3 0.5 -0.3 0.5 -0.5 0.5 -0.6 0.5 -0.6 0.5 0.6 0.5 -0.3 0.5 0.9 0.5 -0.6 0.5 0.3 0.5 0.4 0.5 0.3 0.5 0.7 0.5 0.1 0.5 -0.3 0.5 -0.5 0.5 0.4 0.5 0.1 0.5 0.2 0.5 -0.2 0.5 -0.1 0.5 -0.3 0.5 -0.5 0.5 0.2 0.5 0.0 0.5 0.1 0.5 0.6 0.5 -0.4 0.5 -0.3 0.5 -0.5 0.5 0.4 0.5 0.5 0.5 0.2 0.5 0.6 0.5 -0.5 0.5 -0.6 0.5 0.5 0.5 -0.1 0.5 -0.1 0.5 0.0 0.5 -0.4 0.5 0.0 0.5 1.1 0.5 -0.1 0.5 -0.1 0.5 0.0 0.5 -0.7 0.5 0.0 0.5 -0.3 0.5 0.0 0.5 0.4 0.5 0.1 0.5 0.5 0.5 -0.3 0.5 -0.2 0.5 0.0 0.5 0.2 0.5 0.1 0.5 0.3 0.5 -0.4 0.5 -0.3 0.5 0.1 0.5 -0.3 0.5 0.4 0.5 0.8 0.5 -0.1 0.5 -0.1 0.5 0.4 0.5 -0.8 0.5 -0.1 0.5 -0.4 0.5 -0.5 0.5 0.9 0.5 -0.6 0.5 0.4 0.5 -0.3 0.5 -1.3 0.5 0.6 0.5 -0.6 0.5 0.5 0.5 0.0 0.5 0.3 0.5 -0.4 0.5 0.6 0.5 0.9 0.5 -0.3 0.5 0.4 0.5 -0.1 0.5 -1.0 0.5 0.3 0.5 0.5 0.5 0.3 0.5 0.7 0.5 -0.2 0.5 0.0 0.5 -0.5 0.5 0.1 0.5 -0.2 0.5 -0.2 0.5 0.1 0.5 0.0 0.5 0.2 0.5 0.6 0.5 0.4 0.5 -0.8 0.5 0.3 0.5 -0.5 0.5 -0.1 0.5 0.0 0.5 0.2 0.5 0.7 0.5 0.0 0.5 0.1 0.5 0.0 0.5 0.1 0.5 -0.2 0.5 -0.2 0.5 0.0 0.5 0.4 0.5 0.4 0.5 -0.3 0.5 -0.3 0.5 -0.3 0.5 -0.7 0.5 -0.6 0.5 0.4 0.5 0.6 0.5 0.6 0.5 0.3 0.5 0.2 0.5 -0.3 0.5 -0.6 0.5 0.4 0.5 -0.3 0.5 0.1 0.5 0.3 0.5 -0.2 0.5 -0.4 0.5 -0.3 0.5 -0.4 0.5 0.0 0.5 0.3 0.5 0.4 0.5 0.1 0.5 -0.6 0.5 0.0 0.5 -0.3 0.5 0.1 0.5 0.4 0.5 -0.2 0.5 -0.6 0.5 0.1 0.5 -0.3 0.5 -0.1 0.5 0.6 0.5 0.2 0.5 0.2 0.5 -0.4 0.5 0.5 0.5 0.1 0.5 -0.1 0.5 0.7 0.5 -0.2 0.5 -0.3 0.5 -0.1 0.5 -0.7 0.5 0.3 0.5 -0.3 0.5 -0.1 0.5 0.1 0.5 0.1 0.5 0.6 0.5 0.3 0.5 0.3 0.5 -0.4 0.5 -0.3 0.5 -0.7 0.5 -0.4 0.5 0.0 0.5 0.2 0.5 0.3 0.5 0.0 0.5 -0.5 0.5 -0.6 0.5 -0.1 0.5 0.0 0.5 0.5 0.5 0.8 0.5 0.5 0.5 -0.1 0.5 0.1 0.5 -0.4 0.5 0.4 0.5 0.6 0.5 -0.4 0.5 0.1 0.5 0.2 0.5 0.2 0.5 0.2 0.5 -0.7 0.5 -0.5 0.5 -0.2 0.5 -0.2 0.5 0.8 0.5 -0.1 0.5 0.0 0.5 -0.1 0.5 -0.2 0.5 0.4 0.5 -0.5 0.5 -0.1 0.5 -0.6 0.5 0.0 0.5 -0.2 0.5 0.4 0.5 -0.1 0.5 0.6 0.5 -0.3 0.5 -0.5 0.5 0.1 0.5 0.0 0.5 0.7 0.5 0.3 0.5 -0.4 0.5 0.2 0.5 -0.1 0.5 0.2 0.5 0.4 0.5 0.3 0.5 0.0 0.5 -0.2 0.5 -0.4 0.5 -0.9 0.5 -0.3 0.5 -0.5 0.5 -0.1 0.5 0.1 0.5 0.4 0.5 0.0 0.5 -0.1 0.5 0.1 0.5 -0.3 0.5 -0.2 0.5 -0.3 0.5 0.0 0.5 0.4 0.5 0.6 0.5 -0.3 0.5 0.2 0.5 0.1 0.5 -0.6 0.5 1.4 0.5 0.4 0.5 -0.7 0.5 0.3 0.5 -0.8 0.5 0.2 0.5 0.8 0.5 0.3 0.5 -0.3 0.5 0.0 0.5 0.5 0.5 -0.2 0.5 0.2 0.5 -0.2 0.5 -0.3 0.5 0.2 0.5 0.6 0.5 0.4 0.5 -0.1 0.5 -0.4 0.5 -0.3 0.5 -0.9 0.5 0.4 0.5 0.1 0.5 -0.5 0.5 0.5 0.5 -0.2 0.5 -0.1 0.5 0.4 0.5 -0.4 0.5 -0.1 0.5 0.1 0.5 0.4 0.5 0.7 0.5 -0.1 0.5 -0.1 0.5 -0.3 0.5 -0.3 0.5 -0.1 0.5 0.4 0.5 0.0 0.5 0.0 0.5 -0.3 0.5 -0.6 0.5 0.5 0.5 -0.2 0.5 -0.2 0.5 0.0 0.5 -0.3 0.5 0.6 0.5 0.4 0.5 0.1 0.5 -0.3 0.5 -0.6 0.5 -0.4 0.5 0.2 0.5 0.9 0.5 0.1 0.5 -0.1 0.5 -0.2 0.5 -0.3 0.5 0.2 0.5 0.7 0.5 0.1 0.5 0.1 0.5 0.0 0.5 -0.1 0.5 0.0 0.5 0.2 0.5 -0.2 0.5 0.4 0.5 0.1 0.5 0.1 0.5 0.1 0.5 -0.8 0.5 -0.7 0.5 -0.5 0.5 0.3 0.5 0.0 0.5 0.3 0.5 -0.1 0.5 -0.2 0.5 0.0 0.5 -0.4 0.5 -0.1 0.5 0.4 0.5 -0.2 0.5 0.3 0.5 -0.3 0.5 -0.1 0.5 0.2 0.5 -0.3 0.5 0.4 0.5 -0.1 0.5 -0.1 0.5 0.0 0.5 0.1 0.5 0.1 0.5 0.3 0.5 0.5 0.5 0.0 0.5 0.5 0.5 0.2 0.5 -0.6 0.5 -0.3 0.5 0.5 0.5 -0.7 0.5 1.1 0.5 0.4 0.5 -0.8 0.5 0.3 0.5 -0.6 0.5 -0.1 0.5 0.7 0.5 -0.7 0.5 -0.2 0.5 0.0 0.5 -1.0 0.5 -0.2 0.5 -0.1 0.5 0.0 0.5 0.4 0.5 0.2 0.5 -0.6 0.5 -0.1 0.5 -0.8 0.5 -0.1 0.5 0.6 0.5 0.4 0.5 0.2 0.5 -0.2 0.5 0.3 0.5 0.1 0.5 0.9 0.5 0.5 0.5 -0.6 0.5 0.1 0.5 -0.4 0.5 -0.5 0.5 0.1 0.5 -0.1 0.5 0.8 0.5 0.4 0.5 0.3 0.5 0.1 0.5 -0.7 0.5 0.0 0.5 -0.1 0.5 -0.2 0.5 0.5 0.5 0.4 0.5 -0.2 0.5 -0.3 0.5 -0.3 0.5 -0.1 0.5 0.4 0.5 0.4 0.5 -0.4 0.5 0.4 0.5 -1.2 0.5 -0.1 0.5 0.3 0.5 -0.3 0.5 0.2 0.5 0.2 0.5 -0.8 0.5 0.4 0.5 0.1 0.5 0.0 0.5 0.4 0.5 -0.2 0.5 0.8 0.5 -0.1 0.5 0.1 0.5 0.0 0.5 -0.5 0.5 0.5 0.5 0.2 0.5 -0.5 0.5 1.1 0.5 -0.5 0.5 0.4 0.5 0.1 0.5 0.1 0.5 0.8 0.5 0.1 0.5 0.0 0.5 0.0 0.5 -0.1 0.5 -0.2 0.5 0.8 0.5 -0.1 0.5 0.1 0.5 -0.3 0.5 -0.1 0.5 -1.1 0.5 -0.8 0.5 -0.2 0.5 -0.3 0.5 0.4 0.5 -0.1 0.5 -0.3 0.5 -0.5 0.5 -0.3 0.5 -0.1 0.5 0.5 0.5 0.5 0.5 -0.2 0.5 0.0 0.5 0.8 0.5 0.0 0.5 0.6 0.5 0.6 0.5 -0.6 0.5 0.0 0.5 -0.9 0.5 0.1 0.5 -0.4 0.5 -0.6 0.5 0.2 0.5 0.1 0.5 0.4 0.5 0.7 0.5 0.2 0.5 0.0 0.5 -0.3 0.5 -0.7 0.5 -0.3 0.5 0.0 0.5 0.4 0.5 -0.2 0.5 0.2 0.5 -0.3 0.5 -0.1 0.5 0.0 0.5 0.3 0.5 -0.2 0.5 -0.3 0.5 0.2 0.5 -0.3 0.5 0.2 0.5 0.6 0.5 -0.5 0.5 0.2 0.5 -0.4 0.5 -0.3 0.5 0.8 0.5 -0.3 0.5 0.7 0.5 0.3 0.5 -0.2 0.5 -0.4 0.5 -0.3 0.5 -0.2 0.5 0.7 0.5 0.1 0.5 0.0 0.5 0.1 0.5 -0.2 0.5 -0.6 0.5 0.1 0.5 -0.2 0.5 -0.2 0.5 0.6 0.5 0.2 0.5 -0.2 0.5 -0.3 0.5 -0.2 0.5 -0.2 0.5 -0.1 0.5 0.3 0.5 0.4 0.5 0.3 0.5 0.4 0.5 0.0 0.5 0.1 0.5 -0.2 0.5 -0.1 0.5 0.0 0.5 -0.2 0.5 0.1 0.5 -0.1 0.5 -0.2 0.5 0.0 0.5 -0.5 0.5 0.0 0.5 -0.3 0.5 -1.0 0.5 -0.2 0.5 0.5 0.5 -0.1 0.5 0.5 0.5 0.5 0.5 -0.5 0.5 0.4 0.5 -0.4 0.5 -0.5 0.5 -0.3 0.5 -0.4 0.5 -0.1 0.5 0.2 0.5 0.3 0.5 0.8 0.5 0.1 0.5 0.3 0.5 -0.3 0.5 -1.0 0.5 -0.8 0.5 -1.1 0.5 -0.3 0.5 0.6 0.5 0.4 0.5 0.2 0.5 -0.4 0.5 -0.5 0.5 0.0 0.5 -0.4 0.5 0.3 0.5 -0.2 0.5 -0.1 0.5 0.3 0.5 -0.4 0.5 0.8 0.5 0.9 0.5 -0.2 0.5 0.5 0.5 -0.1 0.5 0.5 0.5 0.5 0.5 0.3 0.5 -0.1 0.5 -0.2 0.5 0.3 0.5 -0.3 0.5 0.6 0.5 0.8 0.5 -0.4 0.5 -0.1 0.5 0.3 0.5 -0.1 0.5 -0.1 0.5 0.1 0.5 -0.5 0.5 -0.2 0.5 0.2 0.5 -0.1 0.5 0.3 0.5 0.2 0.5 0.1 0.5 -0.3 0.5 0.0 0.5 0.2 0.5 0.1 0.5 -0.1 0.5 -0.4 0.5 -0.2 0.5 0.4 0.5 0.0 0.5 0.5 0.5 0.7 0.5 0.1 0.5 0.0 0.5 0.5 0.5 -0.2 0.5 0.5 0.5 -0.3 0.5 -0.3 0.5 -0.1 0.5 -1.0 0.5 0.0 0.5 -1.0 0.5 0.3 0.5 0.4 0.5 -0.3 0.5 0.5 0.5 0.3 0.5 -0.4 0.5 0.6 0.5 0.2 0.5 0.4 0.5 0.1 0.5 -0.5 0.5 0.1 0.5 -0.2 0.5 -0.6 0.5 0.6 0.5 -0.6 0.5 0.2 0.5 1.1 0.5 -0.6 0.5 0.2 0.5 0.2 0.5 -1.3 0.5 0.4 0.5 0.1 0.5 0.1 0.5 1.2 0.5 -0.6 0.5 0.0 0.5 0.1 0.5 -0.4 0.5 0.4 0.5 0.5 0.5 -0.1 0.5 0.3 0.5 -0.6 0.5 0.0 0.5 0.2 0.5 0.3 0.5 0.2 0.5 0.2 0.5 0.3 0.5 -0.3 0.5 0.2 0.5 -0.3 0.5 -0.8 0.5 -0.2 0.5 0.0 0.5 -0.1 0.5 0.6 0.5 0.1 0.5 -0.6 0.5 -0.3 0.5 -0.2 0.5 0.0 0.5 0.2 0.5 0.1 0.5 0.0 0.5 -0.2 0.5 0.0 0.5 -0.1 0.5 0.0 0.5 0.3 0.5 0.3 0.5 -0.2 0.5 -0.2 0.5 0.3 0.5 0.1 0.5 0.1 0.5 -0.2 0.5 0.1 0.5 -0.8 0.5 0.2 0.5 0.4 0.5 -0.5 0.5 0.3 0.5 -0.1 0.5 0.3 0.5 0.5 0.5 -0.5 0.5 -0.4 0.5 0.1 0.5 0.1 0.5 -0.1 0.5 0.2 0.5 -0.7 0.5 -0.8 0.5 0.7 0.5 0.3 0.5 0.1 0.5 0.7 0.5 -0.5 0.5 0.1 0.5 0.5 0.5 0.5 0.5 0.1 0.5 -0.6 0.5 -0.6 0.5 -0.5 0.5 0.3 0.5 0.2 0.5 0.3 0.5 0.5 0.5 0.3 0.5 -0.4 0.5 0.5 0.5 -0.6 0.5 0.0 0.5 -0.4 0.5 -0.4 0.5 1.0 0.5 0.4 0.5 0.6 0.5 0.2 0.5 0.1 0.5 -0.2 0.5 -0.2 0.5 0.5 0.5 0.1 0.5 0.2 0.5 0.2 0.5 0.0 0.5 -0.1 0.5 -0.3 0.5 0.0 0.5 0.0 0.5 0.0 0.5 0.0 0.5 -1.0 0.5 -0.8 0.5 -0.3 0.5 -0.6 0.5 0.5 0.5 -0.4 0.5 0.7 0.5 0.0 0.5 -0.5 0.5 0.3 0.5 -0.3 0.5 0.2 0.5 -0.2 0.5 0.5 0.5 -0.3 0.5 -0.7 0.5 0.1 0.5 0.3 0.5 -0.4 0.5 0.3 0.5 -0.1 0.5 -0.1 0.5 -0.2 0.5 0.4 0.5 0.2 0.5 -0.8 0.5 0.7 0.5 -0.5 0.5 0.0 0.5 0.9 0.5 0.0 0.5 0.2 0.5 0.1 0.5 -0.2 0.5 0.2 0.5 0.1 0.5 -0.1 0.5 0.4 0.5 -0.2 0.5 -0.2 0.5 -0.1 0.5 -0.5 0.5 0.5 0.5 0.6 0.5 -0.3 0.5 0.4 0.5 -0.7 0.5 -0.3 0.5 0.2 0.5 0.0"/>
<path stroke="#4D4D4D" d="M144.4 1397.7l0.5 0.0 0.5 0.2 0.5 -0.3 0.5 -0.1 0.5 0.5 0.5 -0.3 0.5 0.2 0.5 0.1 0.5 0.1 0.5 -0.1 0.5 0.4 0.5 0.5 0.5 -0.3 0.5 0.3 0.5 -0.5 0.5 0.3 0.5 0.0 0.5 -0.1 0.5 0.2 0.5 -0.3 0.5 0.4 0.5 0.1 0.5 -0.5 0.5 0.0 0.5 -0.3 0.5 -0.3 0.5 0.1 0.5 0.1 0.5 -0.5 0.5 0.0 0.5 0.3 0.5 0.1 0.5 0.9 0.5 -0.5 0.5 -0.5 0.5 -0.3 0.5 -0.5 0.5 0.7 0.5 0.1 0.5 0.4 0.5 0.4 0.5 -0.9 0.5 1.0 0.5 -0.3 0.5 -0.5 0.5 -0.3 0.5 -0.7 0.5 -0.3 0.5 0.2 0.5 0.1 0.5 0.1 0.5 0.4 0.5 -0.2 0.5 -0.1 0.5 0.0 0.5 0.3 0.5 -0.1 0.5 0.2 0.5 0.6 0.5 0.4 0.5 -0.1 0.5 0.0 0.5 -0.2 0.5 0.5 0.5 0.2 0.5 -0.2 0.5 0.4 0.5 0.0 0.5 -0.2 0.5 0.1 0.5 -0.3 0.5 0.0 0.5 0.3 0.5 -0.2 0.5 -0.2 0.5 -0.1 0.5 -0.1 0.5 -0.7 0.5 0.0 0.5 -0.5 0.5 -0.2 0.5 0.6 0.5 0.0 0.5 0.4 0.5 0.4 0.5 -0.6 0.5 -0.5 0.5 0.6 0.5 -0.3 0.5 0.5 0.5 0.8 0.5 -0.5 0.5 -0.1 0.5 -0.1 0.5 -0.5 0.5 0.2 0.5 -0.1 0.5 0.5 0.5 0.2 0.5 -0.1 0.5 0.0 0.5 -0.5 0.5 0.0 0.5 -0.1 0.5 0.1 0.5 0.1 0.5 0.5 0.5 0.0 0.5 0.1 0.5 -0.2 0.5 0.0 0.5 0.4 0.5 -0.1 0.5 0.0 0.5 -0.4 0.5 0.2 0.5 0.1 0.5 0.7 0.5 0.3 0.5 0.0 0.5 -0.2 0.5 -0.8 0.5 0.4 0.5 0.2 0.5 0.1 0.5 0.7 0.5 -0.8 0.5 -0.8 0.5 0.5 0.5 -0.1 0.5 0.6 0.5 0.3 0.5 -0.2 0.5 -0.1 0.5 -0.1 0.5 0.9 0.5 -0.1 0.5 0.0 0.5 0.2 0.5 -0.7 0.5 -0.1 0.5 1.0 0.5 0.1 0.5 -0.3 0.5 0.0 0.5 -1.0 0.5 -0.2 0.5 -0.7 0.5 -0.6 0.5 0.7 0.5 -0.4 0.5 0.0 0.5 0.0 0.5 -0.1 0.5 -0.3 0.5 0.5 0.5 -0.1 0.5 -0.5 0.5 0.6 0.5 -0.5 0.5 0.4 0.5 0.1 0.5 -0.1 0.5 0.6 0.5 -0.1 0.5 0.5 0.5 0.1 0.5 -0.6 0.5 0.0 0.5 0.3 0.5 0.4 0.5 0.6 0.5 -0.4 0.5 -0.2 0.5 -0.6 0.5 0.0 0.5 0.1 0.5 0.0 0.5 0.4 0.5 -0.1 0.5 0.0 0.5 0.1 0.5 -0.6 0.5 -0.5 0.5 -0.2 0.5 0.1 0.5 0.8 0.5 0.4 0.5 0.6 0.5 0.3 0.5 -0.4 0.5 0.0 0.5 -0.4 0.5 0.1 0.5 0.8 0.5 -0.6 0.5 0.6 0.5 -0.3 0.5 -0.6 0.5 0.0 0.5 -0.2 0.5 -0.3 0.5 0.1 0.5 0.6 0.5 -0.4 0.5 0.5 0.5 0.2 0.5 0.4 0.5 0.2 0.5 -0.7 0.5 0.3 0.5 0.1 0.5 0.2 0.5 0.3 0.5 -0.1 0.5 -0.9 0.5 -0.2 0.5 -0.5 0.5 0.3 0.5 -0.1 0.5 -0.2 0.5 -0.1 0.5 -0.5 0.5 0.6 0.5 0.2 0.5 0.5 0.5 0.1 0.5 0.2 0.5 0.0 0.5 0.0 0.5 -0.1 0.5 -0.4 0.5 -0.1 0.5 0.6 0.5 -0.1 0.5 0.1 0.5 -0.2 0.5 -0.3 0.5 -0.2 0.5 -0.1 0.5 0.5 0.5 0.3 0.5 0.5 0.5 -0.1 0.5 0.1 0.5 -0.5 0.5 0.6 0.5 -0.2 0.5 0.0 0.5 0.5 0.5 -0.5 0.5 0.2 0.5 -0.3 0.5 -0.5 0.5 0.1 0.5 0.3 0.5 0.0 0.5 0.4 0.5 -0.1 0.5 0.0 0.5 -0.1 0.5 0.0 0.5 -0.3 0.5 -0.2 0.5 -0.3 0.5 0.6 0.5 -0.1 0.5 0.5 0.5 0.1 0.5 -0.4 0.5 0.3 0.5 0.2 0.5 -0.8 0.5 -0.4 0.5 -0.3 0.5 0.0 0.5 0.6 0.5 0.5 0.5 -0.1 0.5 -0.8 0.5 0.3 0.5 -0.8 0.5 -0.1 0.5 0.7 0.5 0.4 0.5 0.1 0.5 0.3 0.5 0.1 0.5 -0.3 0.5 -0.5 0.5 -0.2 0.5 0.0 0.5 0.1 0.5 0.3 0.5 0.2 0.5 0.6 0.5 0.1 0.5 -0.1 0.5 -0.3 0.5 0.2 0.5 0.0 0.5 0.8 0.5 0.1 0.5 0.1 0.5 0.1 0.5 -0.8 0.5 -0.3 0.5 -0.1 0.5 -0.8 0.5 -0.1 0.5 0.0 0.5 -0.2 0.5 -0.2 0.5 0.1 0.5 0.3 0.5 1.1 0.5 -0.1 0.5 -0.5 0.5 -0.7 0.5 0.0 0.5 0.4 0.5 0.1 0.5 0.5 0.5 0.1 0.5 -0.2 0.5 -0.5 0.5 -0.3 0.5 0.2 0.5 0.5 0.5 0.4 0.5 1.0 0.5 0.4 0.5 0.2 0.5 -0.8 0.5 -0.5 0.5 0.6 0.5 0.1 0.5 1.1 0.5 -0.1 0.5 -0.7 0.5 0.2 0.5 -0.8 0.5 -0.5 0.5 0.1 0.5 -0.7 0.5 0.6 0.5 0.2 0.5 -0.6 0.5 0.3 0.5 -0.1 0.5 0.2 0.5 -0.6 0.5 0.2 0.5 -0.4 0.5 0.1 0.5 0.8 0.5 -0.2 0.5 0.6 0.5 0.3 0.5 -0.1 0.5 0.3 0.5 0.9 0.5 -0.5 0.5 -0.3 0.5 -0.1 0.5 -0.9 0.5 -0.2 0.5 0.0 0.5 -0.6 0.5 0.4 0.5 0.2 0.5 0.5 0.5 0.3 0.5 -0.5 0.5 0.6 0.5 0.0 0.5 0.5 0.5 0.8 0.5 0.4 0.5 -0.4 0.5 -0.2 0.5 -0.2 0.5 0.0 0.5 -0.1 0.5 0.1 0.5 0.0 0.5 -0.3 0.5 0.2 0.5 0.4 0.5 0.0 0.5 -0.1 0.5 -0.1 0.5 -0.6 0.5 -0.1 0.5 -0.5 0.5 -0.2 0.5 -0.3 0.5 0.2 0.5 -0.7 0.5 0.2 0.5 0.0 0.5 -0.3 0.5 0.5 0.5 -0.1 0.5 0.6 0.5 0.1 0.5 -0.1 0.5 -0.2 0.5 -0.3 0.5 0.0 0.5 0.5 0.5 -0.4 0.5 0.0 0.5 -0.3 0.5 0.3 0.5 -0.2 0.5 -0.3 0.5 0.5 0.5 -0.7 0.5 0.0 0.5 0.4 0.5 -0.1 0.5 0.5 0.5 0.4 0.5 -0.5 0.5 0.0 0.5 0.0 0.5 0.2 0.5 -0.5 0.5 0.1 0.5 0.0 0.5 0.0 0.5 0.2 0.5 0.7 0.5 0.1 0.5 -0.5 0.5 0.0 0.5 0.0 0.5 0.1 0.5 0.6 0.5 -0.1 0.5 -0.1 0.5 -0.1 0.5 -0.2 0.5 0.7 0.5 0.1 0.5 0.2 0.5 -0.2 0.5 -0.9 0.5 0.2 0.5 -0.3 0.5 -0.6 0.5 0.5 0.5 -0.1 0.5 0.3 0.5 0.2 0.5 0.0 0.5 -0.3 0.5 -0.6 0.5 -0.1 0.5 -0.2 0.5 0.1 0.5 0.7 0.5 -0.5 0.5 -0.5 0.5 -0.2 0.5 -1.1 0.5 1.0 0.5 -0.2 0.5 0.5 0.5 0.4 0.5 -1.2 0.5 0.5 0.5 -0.6 0.5 0.2 0.5 0.2 0.5 -0.8 0.5 -0.4 0.5 -0.7 0.5 -0.4 0.5 -0.2 0.5 -0.2 0.5 -0.1 0.5 0.7 0.5 0.5 0.5 0.2 0.5 0.2 0.5 0.1 0.5 -0.2 0.5 0.3 0.5 0.4 0.5 -0.1 0.5 0.1 0.5 -0.6 0.5 0.1 0.5 0.1 0.5 0.0 0.5 0.5 0.5 0.3 0.5 0.4 0.5 0.4 0.5 -0.1 0.5 0.3 0.5 -0.1 0.5 -0.3 0.5 0.5 0.5 0.5 0.5 0.8 0.5 0.1 0.5 0.1 0.5 0.2 0.5 -0.6 0.5 0.3 0.5 0.2 0.5 -0.3 0.5 0.3 0.5 -0.4 0.5 -0.7 0.5 1.1 0.5 0.0 0.5 0.2 0.5 0.0 0.5 -0.3 0.5 -0.4 0.5 -0.6 0.5 0.4 0.5 -0.3 0.5 0.5 0.5 -0.3 0.5 0.2 0.5 0.5 0.5 -0.3 0.5 0.2 0.5 -0.3 0.5 0.5 0.5 0.3 0.5 0.5 0.5 0.2 0.5 -1.0 0.5 -0.2 0.5 -0.6 0.5 -1.3 0.5 0.2 0.5 0.4 0.5 0.1 0.5 0.7 0.5 -0.6 0.5 0.0 0.5 0.3 0.5 -0.1 0.5 0.2 0.5 0.2 0.5 0.1 0.5 0.0 0.5 0.1 0.5 -0.2 0.5 0.0 0.5 -0.4 0.5 -0.2 0.5 0.7 0.5 0.2 0.5 0.3 0.5 0.7 0.5 -0.6 0.5 -0.3 0.5 -0.2 0.5 -0.5 0.5 0.4 0.5 -0.1 0.5 0.2 0.5 0.0 0.5 0.0 0.5 0.3 0.5 -0.3 0.5 0.1 0.5 -0.2 0.5 -0.4 0.5 0.3 0.5 0.3 0.5 0.2 0.5 -0.3 0.5 0.6 0.5 0.0 0.5 0.2 0.5 0.4 0.5 -0.7 0.5 -0.2 0.5 -0.3 0.5 0.1 0.5 0.1 0.5 -0.3 0.5 0.1 0.5 -0.1 0.5 -0.2 0.5 -0.1 0.5 0.0 0.5 0.2 0.5 -0.3 0.5 0.0 0.5 -0.2 0.5 0.0 0.5 0.0 0.5 0.0 0.5 -0.5 0.5 1.0 0.5 0.1 0.5 0.2 0.5 0.6 0.5 -0.1 0.5 0.2 0.5 -0.8 0.5 0.0 0.5 -0.1 0.5 0.2 0.5 0.3 0.5 0.4 0.5 -0.6 0.5 0.1 0.5 -0.4 0.5 -0.6 0.5 0.0 0.5 0.3 0.5 0.6 0.5 0.6 0.5 0.5 0.5 0.0 0.5 -0.3 0.5 -0.2 0.5 -0.1 0.5 -0.4 0.5 0.1 0.5 0.1 0.5 -0.1 0.5 0.4 0.5 0.4 0.5 -0.8 0.5 0.1 0.5 -0.1 0.5 0.2 0.5 -0.3 0.5 -0.2 0.5 -0.1 0.5 -0.2 0.5 1.0 0.5 -0.8 0.5 0.1 0.5 0.3 0.5 0.1 0.5 0.4 0.5 -0.6 0.5 -0.1 0.5 0.1 0.5 0.3 0.5 -0.2 0.5 0.0 0.5 -0.1 0.5 -0.1 0.5 -0.3 0.5 -0.2 0.5 0.0 0.5 -0.1 0.5 0.2 0.5 0.0 0.5 -0.3 0.5 0.1 0.5 0.2 0.5 -0.2 0.5 0.1 0.5 -0.5 0.5 0.0 0.5 -0.1 0.5 0.1 0.5 0.7 0.5 -0.2 0.5 0.2 0.5 0.7 0.5 -0.1 0.5 -0.3 0.5 -0.5 0.5 -1.0 0.5 -0.2 0.5 -0.2 0.5 0.8 0.5 0.4 0.5 -0.2 0.5 0.4 0.5 -0.2 0.5 0.1 0.5 0.7 0.5 -0.5 0.5 0.1 0.5 0.0 0.5 -0.4 0.5 0.0 0.5 0.1 0.5 0.3 0.5 0.2 0.5 0.1 0.5 -0.1 0.5 0.1 0.5 0.6 0.5 -0.4 0.5 0.3 0.5 -0.2 0.5 -0.6 0.5 0.2 0.5 0.0 0.5 0.4 0.5 0.5 0.5 -0.5 0.5 0.0 0.5 0.4 0.5 -0.1 0.5 0.0 0.5 -0.3 0.5 -0.1 0.5 -0.9 0.5 0.6 0.5 -0.1 0.5 0.3 0.5 0.8 0.5 -0.3 0.5 -0.3 0.5 0.1 0.5 0.2 0.5 0.2 0.5 0.0 0.5 0.2 0.5 -0.3 0.5 -0.3 0.5 -0.1 0.5 -0.1 0.5 0.1 0.5 0.0 0.5 -0.2 0.5 0.1 0.5 0.1 0.5 -0.3 0.5 0.0 0.5 -0.7 0.5 0.0 0.5 -0.2 0.5 0.3 0.5 0.4 0.5 -0.4 0.5 0.5 0.5 0.0 0.5 -0.1 0.5 0.4 0.5 -0.4 0.5 -1.1 0.5 -0.4 0.5 -0.7 0.5 -0.6 0.5 0.4 0.5 -0.2 0.5 0.5 0.5 -0.2 0.5 -0.4 0.5 -0.3 0.5 -0.2 0.5 0.6 0.5 0.1 0.5 1.1 0.5 0.4 0.5 -0.1 0.5 0.5 0.5 -0.3 0.5 -0.2 0.5 0.3 0.5 0.1 0.5 0.1 0.5 0.2 0.5 0.2 0.5 -0.1 0.5 -0.2 0.5 -0.3 0.5 0.0 0.5 0.5 0.5 0.6 0.5 0.2 0.5 -0.4 0.5 -0.5 0.5 0.1 0.5 0.4 0.5 -0.2 0.5 0.7 0.5 -0.1 0.5 0.2 0.5 0.5 0.5 -0.5 0.5 0.4 0.5 -1.2 0.5 0.2 0.5 0.4 0.5 -0.1 0.5 0.7 0.5 0.1 0.5 0.5 0.5 0.4 0.5 -0.1 0.5 -0.8 0.5 0.0 0.5 -0.6 0.5 -0.3 0.5 0.0 0.5 0.4 0.5 0.2 0.5 0.0 0.5 -0.4 0.5 -0.2 0.5 -0.2 0.5 -0.1 0.5 -0.2 0.5 0.1 0.5 0.1 0.5 -0.6 0.5 0.0 0.5 0.0 0.5 -0.3 0.5 0.4 0.5 0.2 0.5 0.5 0.5 0.6 0.5 0.2 0.5 -0.1 0.5 -0.4 0.5 0.2 0.5 -0.2 0.5 0.4 0.5 0.2 0.5 -0.4 0.5 -0.5 0.5 -0.4 0.5 -0.1 0.5 0.6 0.5 -0.1 0.5 0.1 0.5 -0.1 0.5 -0.2 0.5 0.4 0.5 -0.2 0.5 -0.5 0.5 -0.1 0.5 0.3 0.5 0.0 0.5 0.5 0.5 -0.5 0.5 0.5 0.5 -0.2 0.5 0.4 0.5 -0.2 0.5 -0.5 0.5 0.6 0.5 0.1 0.5 0.3 0.5 0.2 0.5 -0.2 0.5 -0.1 0.5 -0.1 0.5 0.1 0.5 -0.4 0.5 -0.5 0.5 -0.5 0.5 -0.5 0.5 -0.2 0.5 -0.5 0.5 1.0 0.5 -0.2 0.5 0.7 0.5 0.1 0.5 0.2 0.5 0.6 0.5 -0.1 0.5 0.1 0.5 -0.1 0.5 -0.7 0.5 -0.1 0.5 0.1 0.5 -0.3 0.5 -0.4 0.5 0.4 0.5 0.7 0.5 0.0 0.5 0.9 0.5 0.1 0.5 -0.7 0.5 0.1 0.5 0.0 0.5 -0.1 0.5 0.6 0.5 -0.4 0.5 -0.1 0.5 0.0 0.5 0.6 0.5 -0.6 0.5 -0.5 0.5 -0.2 0.5 -0.6 0.5 0.5 0.5 -0.1 0.5 0.0 0.5 -0.2 0.5 -0.1 0.5 -0.2 0.5 0.0 0.5 0.6 0.5 0.1 0.5 -0.2 0.5 -0.2 0.5 0.3 0.5 -0.2 0.5 0.8 0.5 0.6 0.5 -0.4 0.5 0.0 0.5 -0.3 0.5 -0.9 0.5 0.2 0.5 -0.1 0.5 0.4 0.5 0.5 0.5 -0.2 0.5 -0.1 0.5 -0.6 0.5 -0.7 0.5 -0.3 0.5 -0.6 0.5 0.0 0.5 0.5 0.5 0.0 0.5 0.2 0.5 0.1 0.5 -0.3 0.5 0.0 0.5 0.8 0.5 0.2 0.5 0.3 0.5 -0.2 0.5 -0.6 0.5 -0.5 0.5 -0.3 0.5 0.9 0.5 0.5 0.5 0.0 0.5 -0.1 0.5 -0.8 0.5 -0.6 0.5 0.4 0.5 -0.2 0.5 0.0 0.5 0.0 0.5 0.0 0.5 -0.3 0.5 0.1 0.5 0.3 0.5 0.0 0.5 -0.2 0.5 -0.7 0.5 0.1 0.5 -0.1 0.5 1.0 0.5 0.5 0.5 0.7 0.5 -0.5 0.5 -0.7 0.5 0.4 0.5 -0.4 0.5 -0.3 0.5 -0.7 0.5 0.2 0.5 0.3 0.5 0.4 0.5 0.1 0.5 -0.4 0.5 -0.3 0.5 0.0 0.5 0.1 0.5 0.2 0.5 0.1 0.5 -0.1 0.5 -0.7 0.5 -0.4 0.5 0.1 0.5 0.3 0.5 0.3 0.5 0.1 0.5 0.0 0.5 -0.5 0.5 0.4 0.5 -0.3 0.5 -0.6 0.5 0.3 0.5 -0.1 0.5 0.2 0.5 0.7 0.5 -0.1 0.5 -0.6 0.5 -0.1 0.5 -0.6 0.5 0.5 0.5 0.0 0.5 -0.4 0.5 0.0 0.5 -0.4 0.5 -0.2 0.5 0.3 0.5 0.7 0.5 0.8 0.5 0.0 0.5 -0.9 0.5 -0.3 0.5 -0.4 0.5 0.0 0.5 -0.1 0.5 -0.5 0.5 0.4 0.5 0.2 0.5 -0.2 0.5 -0.1 0.5 -0.3 0.5 -0.2 0.5 -0.1 0.5 0.3 0.5 0.0 0.5 -0.4 0.5 -0.1 0.5 0.1 0.5 0.5 0.5 0.3 0.5 -0.3 0.5 -0.3 0.5 -0.4 0.5 0.2 0.5 0.3 0.5 0.1 0.5 0.2 0.5 -0.2 0.5 0.5 0.5 0.1 0.5 -0.2 0.5 -0.1 0.5 -0.3 0.5 -0.6 0.5 0.2 0.5 -0.3 0.5 -0.2 0.5 0.3 0.5 0.6 0.5 0.2 0.5 0.5 0.5 -0.2 0.5 -0.5 0.5 -0.2 0.5 -0.7 0.5 -0.4 0.5 0.3 0.5 0.1 0.5 0.1 0.5 0.8 0.5 -0.2 0.5 0.3 0.5 -0.9 0.5 -0.2 0.5 -0.3 0.5 -0.4 0.5 0.3 0.5 -0.1 0.5 0.1 0.5 0.3 0.5 -0.5 0.5 0.2 0.5 -0.1 0.5 -0.4 0.5 0.3 0.5 0.1 0.5 0.2 0.5 0.3 0.5 -0.2 0.5 0.2 0.5 0.0 0.5 -0.5 0.5 0.8 0.5 0.2 0.5 -0.3 0.5 0.0 0.5 -0.9 0.5 0.4 0.5 -0.3 0.5 -0.2 0.5 0.5 0.5 -0.5 0.5 -0.1 0.5 -0.5 0.5 -0.3 0.5 0.1 0.5 0.0 0.5 0.2 0.5 0.7 0.5 0.4 0.5 0.5 0.5 0.5 0.5 -0.7 0.5 -0.7 0.5 -0.7 0.5 0.0 0.5 0.7 0.5 -0.4 0.5 0.9 0.5 0.0 0.5 -0.4 0.5 0.7 0.5 0.2 0.5 -0.5 0.5 0.1 0.5 0.6 0.5 -0.4 0.5 0.5 0.5 -0.2 0.5 -0.3 0.5 0.3 0.5 0.6 0.5 -0.4 0.5 -0.2 0.5 -0.1 0.5 0.1 0.5 0.0 0.5 0.2 0.5 -0.1 0.5 -0.7 0.5 -0.1 0.5 -0.5 0.5 0.2 0.5 0.5 0.5 0.3 0.5 0.2 0.5 0.3 0.5 -0.3 0.5 0.3 0.5 -0.5 0.5 0.3 0.5 0.8 0.5 0.0 0.5 0.1 0.5 0.5 0.5 -0.3 0.5 0.0 0.5 0.1 0.5 -0.6 0.5 0.4 0.5 -0.6 0.5 -0.8 0.5 0.3 0.5 0.1 0.5 -0.2 0.5 0.3 0.5 0.4 0.5 -0.5 0.5 -0.1 0.5 0.0 0.5 0.1 0.5 0.4 0.5 0.7 0.5 0.4 0.5 -0.3 0.5 0.0 0.5 -0.4 0.5 -0.3 0.5 0.2 0.5 0.4 0.5 0.1 0.5 0.0 0.5 -0.1 0.5 0.3 0.5 0.2 0.5 0.5 0.5 0.2 0.5 -1.0 0.5 0.0 0.5 -0.3 0.5 0.4 0.5 0.6 0.5 -0.9 0.5 -0.2 0.5 0.1 0.5 -0.9 0.5 0.3 0.5 0.2 0.5 0.3 0.5 0.0 0.5 0.0 0.5 0.5 0.5 -0.4 0.5 0.2 0.5 0.2 0.5 0.0 0.5 0.1 0.5 -0.3 0.5 0.0 0.5 -0.1 0.5 0.0 0.5 0.5 0.5 -0.8 0.5 0.0 0.5 0.5 0.5 0.0 0.5 -0.8 0.5 -0.8 0.5 -1.2 0.5 -0.7 0.5 -0.9 0.5 -1.6 0.5 -1.4 0.5 -2.2 0.5 -0.9 0.5 -0.3 0.5 -0.1 0.5 -0.1 0.5 0.4 0.5 0.6 0.5 1.4 0.5 1.0 0.5 1.1 0.5 1.1 0.5 0.9 0.5 1.6 0.5 0.8 0.5 0.4 0.5 0.2 0.5 -0.8 0.5 0.2 0.5 0.6 0.5 0.3 0.5 0.8 0.5 0.3 0.5 0.3 0.5 0.0 0.5 -0.2 0.5 0.1 0.5 -0.6 0.5 -0.4 0.5 1.0 0.5 -0.1 0.5 1.1 0.5 0.1 0.5 -0.6 0.5 -0.3 0.5 -0.2 0.5 -0.1 0.5 -0.5 0.5 -0.2 0.5 -0.2 0.5 0.5 0.5 0.4 0.5 0.3 0.5 -0.3 0.5 -0.3 0.5 0.0 0.5 -0.5 0.5 0.2 0.5 0.0 0.5 -0.9 0.5 -0.2 0.5 0.7 0.5 -0.2 0.5 0.1 0.5 0.2 0.5 0.1 0.5 -0.2 0.5 -0.5 0.5 0.7 0.5 -0.6 0.5 0.5 0.5 0.4 0.5 -0.7 0.5 0.7 0.5 -0.1 0.5 -1.4 0.5 0.5 0.5 -0.4 0.5 -0.4 0.5 1.2 0.5 -0.3 0.5 -0.4 0.5 0.2 0.5 -0.6 0.5 0.2 0.5 0.6 0.5 -0.3 0.5 -0.2 0.5 -0.5 0.5 0.4 0.5 0.2 0.5 0.2 0.5 -0.1 0.5 0.2 0.5 0.2 0.5 -0.1 0.5 0.0 0.5 -0.2 0.5 -0.7 0.5 -0.4 0.5 0.1 0.5 -0.7 0.5 -0.5 0.5 -0.7 0.5 -0.1 0.5 -0.2 0.5 -0.5 0.5 1.0 0.5 -0.6 0.5 0.3 0.5 -0.4 0.5 -0.6 0.5 -0.2 0.5 0.0 0.5 0.3 0.5 0.6 0.5 -0.6 0.5 -0.4 0.5 0.3 0.5 -1.3 0.5 0.5 0.5 -0.5 0.5 -0.9 0.5 -0.2 0.5 -0.7 0.5 -1.1 0.5 -0.8 0.5 -0.9 0.5 -1.1 0.5 0.1 0.5 -0.4 0.5 -0.4 0.5 -0.7 0.5 -1.2 0.5 -0.7 0.5 -0.7 0.5 -0.2 0.5 0.5 0.5 0.2 0.5 0.1 0.5 1.0 0.5 0.1 0.5 0.7 0.5 1.1 0.5 0.9 0.5 1.3 0.5 1.7 0.5 0.5 0.5 0.8 0.5 0.5 0.5 0.4 0.5 1.3 0.5 0.9 0.5 0.7 0.5 0.2 0.5 0.3 0.5 0.3 0.5 0.3 0.5 0.0 0.5 -0.1 0.5 -0.2 0.5 0.5 0.5 0.1 0.5 0.1 0.5 -0.1 0.5 -0.1 0.5 -0.1 0.5 0.3 0.5 0.3 0.5 0.3 0.5 -0.1 0.5 0.1 0.5 -0.4 0.5 -0.3 0.5 0.4 0.5 -0.2 0.5 0.3 0.5 0.6 0.5 0.2 0.5 0.3 0.5 0.0 0.5 0.0 0.5 0.0 0.5 0.3 0.5 0.5 0.5 0.3 0.5 0.1 0.5 -0.3 0.5 -0.6 0.5 -0.4 0.5 -0.6 0.5 0.7 0.5 0.2 0.5 0.5 0.5 0.6 0.5 -0.2 0.5 -0.1 0.5 -0.1 0.5 0.1 0.5 0.4 0.5 0.2 0.5 0.5 0.5 0.4 0.5 -0.1 0.5 0.1 0.5 -1.0 0.5 0.1 0.5 -0.9 0.5 0.2 0.5 0.2 0.5 -0.9 0.5 -0.3 0.5 -0.8 0.5 -0.6 0.5 -1.1 0.5 -1.4 0.5 -0.9 0.5 -0.7 0.5 -0.5 0.5 0.1 0.5 -0.4 0.5 -0.5 0.5 0.4 0.5 -0.1 0.5 0.0 0.5 0.6 0.5 -0.4 0.5 0.8 0.5 1.5 0.5 0.6 0.5 0.5 0.5 0.6 0.5 0.5 0.5 0.4 0.5 1.0 0.5 1.1 0.5 0.1 0.5 0.6 0.5 0.6 0.5 -0.2 0.5 -0.3 0.5 0.2 0.5 0.0 0.5 1.0 0.5 0.2 0.5 0.4 0.5 0.0 0.5 0.2 0.5 0.8 0.5 -0.1 0.5 0.6 0.5 0.1 0.5 -0.6 0.5 0.0 0.5 0.1 0.5 -0.3 0.5 0.1 0.5 -0.1 0.5 0.3 0.5 -0.4 0.5 0.6 0.5 -0.1 0.5 0.0 0.5 0.3 0.5 0.2 0.5 -0.3 0.5 0.2 0.5 0.1 0.5 -0.2 0.5 0.5 0.5 -0.2 0.5 0.4 0.5 0.0 0.5 0.0 0.5 -0.3 0.5 -0.3 0.5 0.1 0.5 0.2 0.5 -0.1 0.5 0.0 0.5 -0.1 0.5 -0.2 0.5 0.0 0.5 0.0 0.5 0.0 0.5 0.1 0.5 0.3 0.5 0.1 0.5 0.2 0.5 -0.3 0.5 -0.2 0.5 0.5 0.5 -0.2 0.5 0.1 0.5 0.4 0.5 -0.4 0.5 0.2 0.5 0.0 0.5 0.1 0.5 0.4 0.5 0.3 0.5 0.3 0.5 -0.3 0.5 -0.3 0.5 0.1 0.5 -0.5 0.5 0.2 0.5 0.3 0.5 0.0 0.5 0.5 0.5 0.2 0.5 -0.4 0.5 -0.6 0.5 0.4 0.5 -0.1 0.5 0.8 0.5 0.3 0.5 -0.2 0.5 -0.2 0.5 -0.2 0.5 -0.6 0.5 0.0 0.5 0.3 0.5 -0.3 0.5 -0.4 0.5 0.2 0.5 -0.2 0.5 -0.2 0.5 0.4 0.5 -0.9 0.5 0.0 0.5 0.6 0.5 0.2 0.5 0.3 0.5 0.6 0.5 -0.5 0.5 -0.3 0.5 0.1 0.5 -0.6 0.5 0.1 0.5 0.3 0.5 0.6 0.5 0.8 0.5 0.9 0.5 -0.2 0.5 -0.2 0.5 0.3 0.5 -0.6 0.5 0.1 0.5 -0.4 0.5 -0.6 0.5 0.1 0.5 0.5 0.5 0.1 0.5 0.3 0.5 0.0 0.5 -0.1 0.5 -0.8 0.5 -0.1 0.5 0.5 0.5 -0.5 0.5 0.5 0.5 0.1 0.5 -1.0 0.5 0.2 0.5 -0.6 0.5 -0.4 0.5 0.9 0.5 0.1 0.5 0.1 0.5 0.5 0.5 0.1 0.5 0.1 0.5 -0.4 0.5 -0.5 0.5 0.0 0.5 -0.1 0.5 0.8 0.5 0.0 0.5 -0.3 0.5 -0.6 0.5 -0.2 0.5 0.2 0.5 0.2 0.5 -0.1 0.5 -0.6 0.5 -0.5 0.5 -0.1 0.5 0.8 0.5 0.5 0.5 -0.5 0.5 -0.5 0.5 -0.1 0.5 -0.2 0.5 0.0 0.5 0.1 0.5 -0.4 0.5 -0.2 0.5 -0.3 0.5 -0.8 0.5 -0.9 0.5 -1.3 0.5 -1.1 0.5 -1.2 0.5 -1.1 0.5 -1.0 0.5 -0.1 0.5 0.3 0.5 0.0 0.5 0.4 0.5 0.9 0.5 0.8 0.5 0.9 0.5 1.5 0.5 1.5 0.5 0.2 0.5 1.0 0.5 0.5 0.5 0.1 0.5 0.7 0.5 0.4 0.5 0.1 0.5 0.2 0.5 0.4 0.5 0.3 0.5 0.1 0.5 0.4 0.5 -0.1 0.5 -1.0 0.5 -0.1 0.5 -0.4 0.5 -0.3 0.5 0.5 0.5 0.2 0.5 0.5 0.5 0.5 0.5 -0.8 0.5 0.4 0.5 -0.2 0.5 -0.9 0.5 -0.5 0.5 0.0 0.5 -0.3 0.5 0.4 0.5 0.6 0.5 -0.3 0.5 0.2 0.5 -0.3 0.5 0.1 0.5 0.2 0.5 0.3 0.5 -0.6 0.5 0.2 0.5 0.3 0.5 0.3 0.5 0.5 0.5 -0.5 0.5 0.1 0.5 -0.9 0.5 0.0 0.5 0.0 0.5 0.0 0.5 -0.1 0.5 0.0 0.5 -0.2 0.5 0.2 0.5 0.2 0.5 -1.0 0.5 0.5 0.5 -0.3 0.5 0.3 0.5 0.9 0.5 -0.5 0.5 -0.7 0.5 -0.6 0.5 -0.4 0.5 0.3 0.5 0.8 0.5 -0.1 0.5 -0.6 0.5 -0.1 0.5 -0.4 0.5 0.2 0.5 0.2 0.5 0.0 0.5 0.1 0.5 -0.4 0.5 0.4 0.5 0.2 0.5 0.0 0.5 -0.2 0.5 -0.1 0.5 -0.6 0.5 -0.5 0.5 -0.4 0.5 0.1 0.5 -0.1 0.5 -0.2 0.5 -0.7 0.5 -0.5 0.5 -0.6 0.5 -0.3 0.5 -0.4 0.5 -0.8 0.5 -0.6 0.5 -0.8 0.5 -1.1 0.5 -0.7 0.5 -1.2 0.5 -2.0 0.5 -1.7 0.5 -2.0 0.5 -1.8 0.5 -2.1 0.5 -2.6 0.5 -2.0 0.5 -3.4 0.5 -2.8 0.5 -2.4 0.5 -3.2 0.5 -3.0 0.5 -4.0 0.5 -3.3 0.5 -3.2 0.5 -3.0 0.5 -2.7 0.5 -3.0 0.5 -1.9 0.5 -1.9 0.5 -0.5 0.5 0.1 0.5 0.0 0.5 1.2 0.5 1.2 0.5 2.0 0.5 2.6 0.5 2.9 0.5 2.9 0.5 2.8 0.5 3.9 0.5 3.3 0.5 3.2 0.5 3.6 0.5 3.0 0.5 3.4 0.5 3.1 0.5 3.0 0.5 2.5 0.5 2.0 0.5 1.4 0.5 1.3 0.5 1.8 0.5 1.2 0.5 1.3 0.5 1.6 0.5 0.4 0.5 1.6 0.5 -0.3 0.5 0.7 0.5 1.1 0.5 -0.3 0.5 0.6 0.5 0.1 0.5 0.7 0.5 0.1 0.5 0.6 0.5 0.4 0.5 -0.6 0.5 0.4 0.5 0.3 0.5 0.1 0.5 0.5 0.5 -0.3 0.5 0.3 0.5 -0.1 0.5 0.2 0.5 0.6 0.5 0.4 0.5 0.0 0.5 -0.6 0.5 0.3 0.5 0.2 0.5 0.4 0.5 0.6 0.5 -0.6 0.5 -0.1 0.5 1.1 0.5 0.1 0.5 0.1 0.5 -0.3 0.5 -0.2 0.5 0.4 0.5 0.2 0.5 0.6 0.5 -0.7 0.5 -0.2 0.5 -0.3 0.5 -0.1 0.5 0.1 0.5 0.2 0.5 -0.3 0.5 -0.7 0.5 0.4 0.5 -0.1 0.5 0.7 0.5 0.0 0.5 -0.3 0.5 0.2 0.5 -0.1 0.5 0.7 0.5 0.2 0.5 0.0 0.5 -0.1 0.5 -0.5 0.5 0.0 0.5 -0.5 0.5 0.3 0.5 0.1 0.5 -0.4 0.5 0.9 0.5 -0.3 0.5 -0.5 0.5 0.4 0.5 -0.5 0.5 0.2 0.5 0.4 0.5 0.0 0.5 1.0 0.5 0.2 0.5 -0.2 0.5 0.0 0.5 -0.6 0.5 -0.4 0.5 -0.5 0.5 -0.8 0.5 0.1 0.5 0.9 0.5 0.4 0.5 0.9 0.5 0.2 0.5 0.3 0.5 0.0 0.5 -0.2 0.5 0.6 0.5 -0.6 0.5 -1.0 0.5 -0.2 0.5 0.0 0.5 0.2 0.5 0.6 0.5 0.0 0.5 -0.6 0.5 -0.1 0.5 -0.1 0.5 -0.2 0.5 0.6 0.5 0.2 0.5 -0.9 0.5 0.1 0.5 -0.2 0.5 -0.6 0.5 0.4 0.5 0.1 0.5 0.4 0.5 0.2 0.5 0.4 0.5 -0.1 0.5 0.3 0.5 -0.4 0.5 0.1 0.5 0.5 0.5 0.1 0.5 -0.3 0.5 -0.2 0.5 0.0 0.5 0.3 0.5 0.4 0.5 0.4 0.5 0.4 0.5 0.3 0.5 -0.1 0.5 -0.6 0.5 -0.1 0.5 -0.7 0.5 0.1 0.5 -0.4 0.5 0.5 0.5 0.2 0.5 -0.1 0.5 -0.1 0.5 -0.7 0.5 0.2 0.5 0.2 0.5 0.4 0.5 0.0 0.5 0.0 0.5 -0.5 0.5 0.1 0.5 -0.2 0.5 0.4 0.5 -0.4 0.5 -0.2 0.5 0.2 0.5 -0.4 0.5 0.9 0.5 -0.3 0.5 0.1 0.5 0.0 0.5 -0.5 0.5 0.1 0.5 -0.2 0.5 0.1 0.5 0.0 0.5 -0.2 0.5 0.2 0.5 0.0 0.5 -0.9 0.5 0.8 0.5 -0.3 0.5 -0.5 0.5 0.5 0.5 -0.7 0.5 -0.3 0.5 -0.4 0.5 0.7 0.5 0.3 0.5 0.7 0.5 0.4 0.5 0.1 0.5 -0.2 0.5 -0.1 0.5 -0.2 0.5 0.0 0.5 0.2 0.5 -0.3 0.5 0.0 0.5 -0.3 0.5 0.3 0.5 0.5 0.5 -0.2 0.5 0.6 0.5 -0.6 0.5 -0.4 0.5 0.6 0.5 0.1 0.5 -0.1 0.5 0.2 0.5 -0.3 0.5 0.2 0.5 -0.1 0.5 0.4 0.5 -0.1 0.5 -0.2 0.5 0.5 0.5 -0.1 0.5 0.0 0.5 -0.3 0.5 -0.3 0.5 -0.3 0.5 0.0 0.5 -0.6 0.5 0.0 0.5 -0.3 0.5 -0.5 0.5 -0.3 0.5 0.7 0.5 -0.2 0.5 -0.2 0.5 0.6 0.5 -0.5 0.5 0.5 0.5 0.1 0.5 0.0 0.5 0.0 0.5 0.7 0.5 0.2 0.5 -0.2 0.5 0.5 0.5 -0.6 0.5 -0.3 0.5 0.3 0.5 0.0 0.5 0.3 0.5 0.6 0.5 -0.8 0.5 -0.2 0.5 0.3 0.5 -0.6 0.5 0.6 0.5 0.2 0.5 0.6 0.5 0.4 0.5 -0.1 0.5 0.1 0.5 -0.7 0.5 -0.4 0.5 -0.2 0.5 -0.4 0.5 0.3 0.5 0.6 0.5 0.7 0.5 0.3 0.5 0.1 0.5 -0.5 0.5 -0.8 0.5 0.1 0.5 -0.9 0.5 0.7 0.5 0.4 0.5 -0.1 0.5 0.1 0.5 -0.3 0.5 -0.7 0.5 0.5 0.5 -0.1 0.5 0.7 0.5 -0.1 0.5 0.1 0.5 -0.2 0.5 -0.3 0.5 0.8 0.5 -0.3 0.5 0.5 0.5 0.0 0.5 -0.6 0.5 0.1 0.5 -0.5 0.5 -0.6 0.5 0.0 0.5 -0.6 0.5 -0.4 0.5 0.0 0.5 0.0 0.5 0.4 0.5 0.5 0.5 0.2 0.5 -0.8 0.5 -0.8 0.5 -0.2 0.5 0.0 0.5 0.0 0.5 0.2 0.5 -0.4 0.5 -0.1 0.5 -0.1 0.5 -0.4 0.5 0.3 0.5 -0.9 0.5 0.0 0.5 0.2 0.5 0.1 0.5 0.4 0.5 0.8 0.5 0.5 0.5 0.4 0.5 0.5 0.5 -0.1 0.5 0.4 0.5 0.1 0.5 -0.3 0.5 0.1 0.5 0.1 0.5 0.0 0.5 0.6 0.5 -0.6 0.5 0.0 0.5 -0.2 0.5 -0.6 0.5 0.2 0.5 0.6 0.5 0.0 0.5 -0.3 0.5 0.6 0.5 -0.7 0.5 0.2 0.5 0.6 0.5 0.4 0.5 -0.3 0.5 0.0 0.5 -0.1 0.5 -0.4 0.5 0.5 0.5 -0.3 0.5 -0.3 0.5 0.1 0.5 -0.7 0.5 0.4 0.5 -0.2 0.5 0.6 0.5 1.1 0.5 0.1 0.5 1.1 0.5 -0.8 0.5 -0.3 0.5 -0.8 0.5 -0.4 0.5 0.4 0.5 0.1 0.5 0.0 0.5 -0.2 0.5 -0.2 0.5 -0.5 0.5 -0.3 0.5 0.0 0.5 0.2 0.5 0.5 0.5 -0.1 0.5 0.3 0.5 -0.6 0.5 0.3 0.5 0.3 0.5 -0.6 0.5 0.6 0.5 -0.1 0.5 0.2 0.5 0.4 0.5 0.1 0.5 0.4 0.5 0.3 0.5 -0.3 0.5 0.2 0.5 0.1 0.5 0.2 0.5 -0.1 0.5 -0.6 0.5 0.2 0.5 -0.4 0.5 -0.2 0.5 0.5 0.5 -0.4 0.5 0.6 0.5 -0.2 0.5 -0.8 0.5 0.2 0.5 -0.6 0.5 0.1 0.5 0.2 0.5 0.3 0.5 0.0 0.5 -0.1 0.5 0.5 0.5 -0.2 0.5 0.2 0.5 -0.2 0.5 -0.2 0.5 -0.2 0.5 0.0 0.5 0.4 0.5 -0.2 0.5 0.3 0.5 -0.2 0.5 -0.8 0.5 0.1 0.5 -0.3 0.5 -0.1 0.5 0.1 0.5 -0.1 0.5 0.0 0.5 -0.3 0.5 0.6 0.5 0.4 0.5 0.7 0.5 -0.4 0.5 -0.9 0.5 0.3 0.5 0.0 0.5 0.2 0.5 1.1 0.5 -0.4 0.5 0.0 0.5 0.7 0.5 -0.1 0.5 0.1 0.5 -0.2 0.5 -0.1 0.5 -0.2 0.5 0.0 0.5 -0.2 0.5 -0.5 0.5 -0.1 0.5 0.2 0.5 -0.2 0.5 0.1 0.5 0.3 0.5 0.3 0.5 0.0 0.5 -0.3 0.5 -0.1 0.5 -1.0 0.5 0.2 0.5 0.3 0.5 -0.3 0.5 0.9 0.5 -0.7 0.5 -0.2 0.5 -0.3 0.5 -0.3 0.5 0.3 0.5 0.0 0.5 0.2 0.5 0.3 0.5 -0.2 0.5 0.2 0.5 0.1 0.5 0.4 0.5 -0.2 0.5 0.0 0.5 0.1 0.5 -0.2 0.5 0.4 0.5 -0.1 0.5 -0.3 0.5 -0.2 0.5 -0.5 0.5 0.1 0.5 0.0 0.5 -0.3 0.5 0.2 0.5 -0.4 0.5 0.5 0.5 0.1 0.5 0.0 0.5 0.4 0.5 0.3 0.5 -0.1 0.5 0.2 0.5 -0.1 0.5 -0.7 0.5 0.0 0.5 0.1 0.5 0.2 0.5 0.5 0.5 -0.3 0.5 -0.9 0.5 0.4 0.5 -0.6 0.5 0.3 0.5 0.4 0.5 -0.1 0.5 0.5 0.5 -0.4 0.5 0.4 0.5 0.0 0.5 -0.1 0.5 0.3 0.5 -0.4 0.5 0.0 0.5 0.7 0.5 0.2 0.5 -0.4 0.5 -0.5 0.5 -0.6 0.5 -0.1 0.5 0.8 0.5 0.5 0.5 0.4 0.5 0.3 0.5 0.2 0.5 -0.4 0.5 -0.8 0.5 -0.3 0.5 -0.2 0.5 0.0 0.5 -0.1 0.5 0.0 0.5 0.3 0.5 -0.3 0.5 0.0 0.5 -0.9 0.5 -0.6 0.5 0.1 0.5 -0.3 0.5 0.7 0.5 -0.2 0.5 -0.9 0.5 -0.4 0.5 -1.0 0.5 -0.3 0.5 -0.5 0.5 -2.0 0.5 -1.0 0.5 -1.7 0.5 -0.6 0.5 -0.3 0.5 -0.1 0.5 0.7 0.5 0.9 0.5 0.5 0.5 0.5 0.5 0.9 0.5 0.0 0.5 0.5 0.5 0.1 0.5 0.9 0.5 1.2 0.5 1.5 0.5 0.7 0.5 -0.1 0.5 0.3 0.5 -0.3 0.5 -0.4 0.5 0.6 0.5 0.7 0.5 0.6 0.5 0.8 0.5 0.4 0.5 -0.2 0.5 0.3 0.5 0.1 0.5 0.0 0.5 -0.5 0.5 -0.2 0.5 0.2 0.5 -0.3 0.5 0.3 0.5 -0.1 0.5 -0.3 0.5 0.0 0.5 0.4 0.5 -0.4 0.5 -0.2 0.5 0.2 0.5 0.3 0.5 0.0 0.5 0.3 0.5 -0.3 0.5 -0.5 0.5 0.0 0.5 0.4 0.5 0.2 0.5 -0.2 0.5 0.2 0.5 -0.5 0.5 0.3 0.5 0.1 0.5 -0.1 0.5 0.7 0.5 0.7 0.5 -0.3 0.5 0.5 0.5 -0.3 0.5 -0.8 0.5 -0.4 0.5 -0.7 0.5 -0.1 0.5 0.0 0.5 0.1 0.5 0.3 0.5 0.5 0.5 -0.2 0.5 -0.4 0.5 -0.3 0.5 0.0 0.5 0.5 0.5 -0.4 0.5 0.3 0.5 0.2 0.5 -0.6 0.5 0.7 0.5 0.4 0.5 -0.1 0.5 0.0 0.5 -0.3 0.5 -0.6 0.5 0.2 0.5 -0.3 0.5 -0.1 0.5 -0.2 0.5 0.2 0.5 0.7 0.5 0.2 0.5 0.2 0.5 -0.1 0.5 -0.7 0.5 -0.1 0.5 0.2 0.5 0.1 0.5 -0.1 0.5 0.3 0.5 0.5 0.5 0.0 0.5 0.1 0.5 0.2 0.5 -0.3 0.5 0.0 0.5 0.4 0.5 -0.1 0.5 0.0 0.5 -0.7 0.5 -0.3 0.5 0.0 0.5 0.0 0.5 0.2 0.5 0.0 0.5 0.0 0.5 -0.4 0.5 -0.4 0.5 0.1 0.5 0.0 0.5 1.0 0.5 -0.2 0.5 -0.2 0.5 0.2 0.5 -1.2 0.5 0.3 0.5 0.1 0.5 -0.3 0.5 0.4 0.5 0.3 0.5 -0.4 0.5 -0.3 0.5 -0.2 0.5 0.2 0.5 -0.2 0.5 0.0 0.5 0.1 0.5 -0.3 0.5 -0.2 0.5 -0.3 0.5 0.3 0.5 -0.3 0.5 0.2 0.5 0.6 0.5 -0.7 0.5 -0.4 0.5 -0.1 0.5 -1.0 0.5 0.2 0.5 0.0 0.5 -0.4 0.5 -0.3 0.5 -0.4 0.5 0.2 0.5 -0.2 0.5 -0.2 0.5 0.1 0.5 -1.1 0.5 -0.4 0.5 0.1 0.5 -0.4 0.5 0.0 0.5 -0.9 0.5 -0.9 0.5 -0.6 0.5 -0.1 0.5 -0.3 0.5 -0.1 0.5 0.1 0.5 -0.5 0.5 0.1 0.5 0.0 0.5 -0.3 0.5 0.5 0.5 0.2 0.5 0.0 0.5 0.8 0.5 0.0 0.5 -0.5 0.5 0.4 0.5 0.2 0.5 -0.4 0.5 0.5 0.5 0.0 0.5 -0.6 0.5 0.3 0.5 -0.1 0.5 0.4 0.5 0.0 0.5 0.1 0.5 -0.1 0.5 0.2 0.5 0.6 0.5 0.3 0.5 0.3 0.5 0.2 0.5 0.9 0.5 0.6 0.5 0.3 0.5 0.1 0.5 0.1 0.5 0.0 0.5 -0.1 0.5 -0.3 0.5 1.0 0.5 0.7 0.5 0.3 0.5 0.5 0.5 -0.4 0.5 0.5 0.5 0.5 0.5 0.0 0.5 0.3 0.5 0.3 0.5 -0.8 0.5 0.5 0.5 0.5 0.5 -0.2 0.5 0.4 0.5 -0.4 0.5 0.3 0.5 0.6 0.5 -0.5 0.5 0.4 0.5 0.3 0.5 -0.6 0.5 0.4 0.5 -0.1 0.5 -0.6 0.5 -0.1 0.5 0.4 0.5 0.0 0.5 1.0 0.5 -0.8 0.5 -0.7 0.5 -0.7 0.5 -0.4 0.5 0.8 0.5 0.2 0.5 0.8 0.5 0.3 0.5 -0.1 0.5 -0.4 0.5 -0.3 0.5 -0.4 0.5 -0.3 0.5 0.3 0.5 1.0 0.5 0.9 0.5 0.4 0.5 0.1 0.5 0.0 0.5 0.0 0.5 -0.7 0.5 -0.2 0.5 0.4 0.5 -0.5 0.5 1.1 0.5 -0.3 0.5 -0.3 0.5 0.0 0.5 -0.7 0.5 -0.1 0.5 -0.1 0.5 -0.1 0.5 0.2 0.5 0.3 0.5 0.0 0.5 0.6 0.5 0.3 0.5 -0.2 0.5 0.0 0.5 0.2 0.5 0.0 0.5 -0.1 0.5 0.8 0.5 -0.6 0.5 0.0 0.5 0.0 0.5 -0.4 0.5 0.5 0.5 -0.1 0.5 0.4 0.5 0.0 0.5 -0.5 0.5 0.4 0.5 0.1 0.5 -0.1 0.5 0.6 0.5 -0.4 0.5 0.1 0.5 -0.8 0.5 -0.5 0.5 -0.1 0.5 -0.6 0.5 0.8 0.5 0.3 0.5 0.1 0.5 0.3 0.5 -0.2 0.5 0.2 0.5 -0.9 0.5 -0.2 0.5 0.2 0.5 -0.6 0.5 0.1 0.5 -0.3 0.5 0.1 0.5 0.5 0.5 0.3 0.5 0.1 0.5 -0.2 0.5 -0.4 0.5 0.1 0.5 0.6 0.5 0.5 0.5 0.5 0.5 0.1 0.5 0.1 0.5 0.1 0.5 0.0 0.5 -0.7 0.5 -0.5 0.5 0.1 0.5 0.1 0.5 -0.2 0.5 0.4 0.5 -0.1 0.5 -0.1 0.5 0.2 0.5 0.0 0.5 0.3 0.5 -0.2 0.5 -0.8 0.5 -0.4 0.5 0.4 0.5 -0.7 0.5 0.9 0.5 0.1 0.5 0.2 0.5 1.2 0.5 -1.2 0.5 -0.3 0.5 -0.4 0.5 -0.4 0.5 0.7 0.5 0.7 0.5 0.1 0.5 0.3 0.5 -0.4 0.5 -0.5 0.5 0.3 0.5 -0.8 0.5 -0.1 0.5 0.1 0.5 -0.2 0.5 0.2 0.5 0.3 0.5 -0.7 0.5 0.1 0.5 0.6 0.5 -0.2 0.5 0.7 0.5 0.0 0.5 -0.2 0.5 -0.1 0.5 -0.5 0.5 0.1 0.5 -0.1 0.5 -0.5 0.5 0.2 0.5 0.1 0.5 0.0 0.5 0.2 0.5 0.5 0.5 0.0 0.5 -0.4 0.5 0.2 0.5 -0.8 0.5 0.4 0.5 -0.4 0.5 0.1 0.5 0.1 0.5 0.7 0.5 0.8 0.5 -0.3 0.5 -0.3 0.5 -0.8 0.5 -0.1 0.5 -0.2 0.5 -0.2 0.5 -0.1 0.5 0.1 0.5 0.7 0.5 0.6 0.5 -0.2 0.5 0.1 0.5 -0.7 0.5 -0.9 0.5 -0.3 0.5 -0.4 0.5 0.3 0.5 0.4 0.5 -0.5 0.5 -0.2 0.5 -0.5 0.5 -0.3 0.5 -0.1 0.5 -0.2 0.5 -0.1 0.5 0.3 0.5 0.1 0.5 0.5 0.5 -0.8 0.5 0.1 0.5 0.0 0.5 -0.5 0.5 0.0 0.5 -1.1 0.5 0.2 0.5 -0.9 0.5 0.3 0.5 -0.2 0.5 -1.0 0.5 -0.4 0.5 -0.5 0.5 -0.5 0.5 0.5 0.5 -0.9 0.5 -0.8 0.5 -1.1 0.5 -1.3 0.5 -0.9 0.5 -1.3 0.5 -1.0 0.5 -0.8 0.5 -2.2 0.5 -2.2 0.5 -1.6 0.5 -2.5 0.5 -2.1 0.5 -2.6 0.5 -3.2 0.5 -3.1 0.5 -3.7 0.5 -4.1 0.5 -2.7 0.5 -3.6 0.5 -3.2 0.5 -3.4 0.5 -3.8 0.5 -3.6 0.5 -2.4 0.5 -1.7 0.5 -2.3 0.5 -1.3 0.5 -1.2 0.5 -0.6 0.5 0.8 0.5 1.0 0.5 0.6 0.5 1.8 0.5 2.2 0.5 2.2 0.5 3.4 0.5 3.1 0.5 3.4 0.5 3.4 0.5 3.8 0.5 3.4 0.5 2.9 0.5 2.5 0.5 2.7 0.5 3.1 0.5 2.9 0.5 3.0 0.5 2.3 0.5 2.6 0.5 2.2 0.5 1.9 0.5 1.9 0.5 2.0 0.5 1.8 0.5 0.8 0.5 0.9 0.5 0.4 0.5 0.6 0.5 1.2 0.5 0.7 0.5 0.9 0.5 0.3 0.5 -0.1 0.5 -0.2 0.5 0.6 0.5 0.3 0.5 0.2 0.5 1.5 0.5 -0.5 0.5 0.2 0.5 -0.3 0.5 -0.5 0.5 0.4 0.5 0.4 0.5 0.4 0.5 0.0 0.5 -0.5 0.5 -0.4 0.5 -0.2 0.5 -0.4 0.5 -0.7 0.5 -0.8 0.5 -0.7 0.5 -1.2 0.5 -0.1 0.5 -1.1 0.5 0.1 0.5 0.1 0.5 -0.2 0.5 0.6 0.5 1.1 0.5 1.6 0.5 0.8 0.5 0.7 0.5 0.7 0.5 0.3 0.5 0.3 0.5 0.0 0.5 0.6 0.5 0.6 0.5 0.2 0.5 0.3 0.5 0.0 0.5 0.0 0.5 -0.2 0.5 0.1 0.5 0.0 0.5 0.1 0.5 0.1 0.5 0.3 0.5 -0.2 0.5 0.2 0.5 -0.5 0.5 0.1 0.5 0.6 0.5 0.4 0.5 0.6 0.5 -0.2 0.5 0.2 0.5 -0.2 0.5 -0.6 0.5 0.1 0.5 0.0 0.5 0.2 0.5 0.2 0.5 0.1 0.5 0.1 0.5 -0.3 0.5 0.0 0.5 -0.3 0.5 -0.4 0.5 0.3 0.5 0.1 0.5 1.3 0.5 0.2 0.5 0.2 0.5 0.1 0.5 -0.1 0.5 0.6 0.5 -0.4 0.5 -0.2 0.5 -0.5 0.5 0.5 0.5 0.6 0.5 0.0 0.5 -0.4 0.5 -0.7 0.5 -0.2 0.5 0.2 0.5 0.3 0.5 -0.4 0.5 -0.3 0.5 0.6 0.5 -0.1 0.5 0.3 0.5 0.0 0.5 -0.5 0.5 -0.5 0.5 -0.6 0.5 0.5 0.5 -0.2 0.5 0.8 0.5 0.6 0.5 0.1 0.5 0.6 0.5 0.6 0.5 -0.1 0.5 0.4 0.5 -0.3 0.5 -1.6 0.5 -0.7 0.5 -1.0 0.5 0.1 0.5 0.6 0.5 0.6 0.5 -0.5 0.5 -0.7 0.5 0.0 0.5 0.0 0.5 0.1 0.5 0.3 0.5 -0.6 0.5 0.2 0.5 -0.1 0.5 0.1 0.5 0.6 0.5 -0.1 0.5 0.1 0.5 0.3 0.5 0.3 0.5 0.7 0.5 0.2 0.5 -0.2 0.5 -0.1 0.5 0.5 0.5 -0.2 0.5 0.0 0.5 -0.1 0.5 0.4 0.5 -0.4 0.5 -0.6 0.5 -0.1 0.5 -0.5 0.5 -0.3 0.5 0.2 0.5 0.8 0.5 -0.8 0.5 -0.2 0.5 -0.4 0.5 -0.1 0.5 0.3 0.5 0.6 0.5 -0.2 0.5 -0.1 0.5 0.9 0.5 0.1 0.5 0.7 0.5 0.2 0.5 0.0 0.5 0.0 0.5 0.3 0.5 0.1 0.5 -0.3 0.5 -0.4 0.5 -0.3 0.5 -0.4 0.5 0.2 0.5 0.2 0.5 0.2 0.5 -0.1 0.5 -0.3 0.5 0.4 0.5 -0.2 0.5 0.4 0.5 0.0 0.5 -0.7 0.5 -0.5 0.5 0.0 0.5 0.1 0.5 0.3 0.5 0.3 0.5 0.2 0.5 -0.1 0.5 -0.5 0.5 -0.4 0.5 -0.4 0.5 0.0 0.5 0.9 0.5 0.5 0.5 0.2 0.5 0.7 0.5 -0.3 0.5 -0.2 0.5 -0.1 0.5 -0.7 0.5 0.4 0.5 0.2 0.5 0.2 0.5 0.0 0.5 0.2 0.5 -0.2 0.5 -0.4 0.5 0.4 0.5 -0.1 0.5 0.1 0.5 0.0 0.5 -0.5 0.5 0.0 0.5 0.0 0.5 0.2 0.5 0.8 0.5 -0.1 0.5 0.1 0.5 0.2 0.5 -0.5 0.5 -0.4 0.5 -0.3 0.5 -0.2 0.5 0.1 0.5 0.5 0.5 -0.6 0.5 -0.5 0.5 0.0 0.5 0.1 0.5 -0.2 0.5 0.3 0.5 0.2 0.5 -0.4 0.5 0.3 0.5 -0.2 0.5 0.2 0.5 0.5 0.5 -0.4 0.5 -0.5 0.5 -0.2 0.5 -0.5 0.5 0.1 0.5 0.4 0.5 0.6 0.5 -0.3 0.5 -0.3 0.5 -0.6 0.5 -0.2 0.5 0.2 0.5 0.1 0.5 0.6 0.5 0.5 0.5 0.0 0.5 0.4 0.5 -0.4 0.5 0.0 0.5 -0.3 0.5 -0.2 0.5 0.2 0.5 -0.1 0.5 0.2 0.5 -0.3 0.5 0.4 0.5 0.2 0.5 0.2 0.5 0.1 0.5 0.5 0.5 0.1 0.5 0.1 0.5 -0.4 0.5 0.4 0.5 0.0 0.5 -0.1 0.5 -0.2 0.5 -0.3 0.5 -0.2 0.5 0.1 0.5 0.3 0.5 -0.3 0.5 0.5 0.5 -0.2 0.5 0.5 0.5 0.5 0.5 -0.1 0.5 -0.1 0.5 -0.1 0.5 -1.0 0.5 -0.3 0.5 -0.1 0.5 -0.2 0.5 0.3 0.5 0.3 0.5 -0.2 0.5 -0.5 0.5 0.2 0.5 -0.3 0.5 0.3 0.5 1.4 0.5 -0.1 0.5 0.0 0.5 -0.2 0.5 -0.8 0.5 0.1 0.5 0.4 0.5 -0.2 0.5 -0.2 0.5 -0.9 0.5 -0.1 0.5 0.0 0.5 0.7 0.5 0.6 0.5 -0.7 0.5 -0.2 0.5 0.2 0.5 -0.3 0.5 0.6 0.5 0.7 0.5 -0.9 0.5 0.9 0.5 -0.1 0.5 -0.3 0.5 0.5 0.5 0.0 0.5 -0.3 0.5 0.4 0.5 0.0 0.5 0.1 0.5 -0.5 0.5 -0.1 0.5 0.1 0.5 -0.7 0.5 0.4 0.5 -0.6 0.5 -0.3 0.5 0.2 0.5 -0.4 0.5 0.1 0.5 0.2 0.5 -0.2 0.5 0.2 0.5 0.0 0.5 -0.3 0.5 0.0 0.5 -0.1 0.5 -0.4 0.5 0.3 0.5 0.1 0.5 0.5 0.5 0.6 0.5 -0.3 0.5 -0.2 0.5 -0.1 0.5 -0.1 0.5 -0.1 0.5 0.1 0.5 0.5 0.5 -0.2 0.5 0.0 0.5 -0.3 0.5 -0.8 0.5 0.8 0.5 0.0 0.5 0.7 0.5 0.4 0.5 -0.3 0.5 -0.4 0.5 -1.0 0.5 -0.2 0.5 -0.1 0.5 0.0 0.5 0.5 0.5 0.3 0.5 0.4 0.5 0.2 0.5 0.1 0.5 0.6 0.5 -0.6 0.5 0.5 0.5 0.0 0.5 -0.8 0.5 0.0 0.5 -0.8 0.5 -0.3 0.5 0.4 0.5 -0.4 0.5 0.5 0.5 0.3 0.5 -0.3 0.5 0.1 0.5 0.0 0.5 0.0 0.5 0.0 0.5 0.7 0.5 0.4 0.5 0.3 0.5 -0.3 0.5 -0.8 0.5 0.1 0.5 0.2 0.5 0.5 0.5 0.3 0.5 0.0 0.5 -0.4 0.5 -0.1 0.5 0.0 0.5 0.5 0.5 0.2 0.5 -0.2 0.5 -0.4 0.5 0.0 0.5 0.0 0.5 0.3 0.5 0.0 0.5 -0.4 0.5 0.1 0.5 -0.3 0.5 0.0 0.5 0.1 0.5 -0.6 0.5 0.1 0.5 -0.1 0.5 0.2 0.5 0.5 0.5 -0.1 0.5 0.2 0.5 0.1 0.5 -0.4 0.5 0.5 0.5 0.2 0.5 -0.3 0.5 0.2 0.5 0.0 0.5 -0.2 0.5 0.0 0.5 0.3 0.5 -0.1 0.5 0.2 0.5 0.1 0.5 0.0 0.5 0.0 0.5 0.3 0.5 0.1 0.5 -0.2 0.5 0.1 0.5 0.0 0.5 -0.7 0.5 -0.2 0.5 0.3 0.5 -0.6 0.5 0.0 0.5 0.0 0.5 0.3 0.5 0.0 0.5 -0.1 0.5 -0.7 0.5 -0.3 0.5 0.4 0.5 -0.1 0.5 0.0 0.5 0.9 0.5 1.0 0.5 -0.3 0.5 0.0 0.5 -0.7 0.5 -0.5 0.5 -0.1 0.5 0.1 0.5 1.1 0.5 0.1 0.5 0.5 0.5 -0.2 0.5 -0.2 0.5 0.0 0.5 -1.0 0.5 -0.3 0.5 0.4 0.5 -0.1 0.5 0.2 0.5 0.2 0.5 -0.5 0.5 -0.3 0.5 -0.3 0.5 0.0 0.5 0.1 0.5 -0.2 0.5 -0.4 0.5 0.2 0.5 0.2 0.5 0.0 0.5 -0.1 0.5 0.1 0.5 -0.1 0.5 0.2 0.5 0.0 0.5 -0.2 0.5 0.2 0.5 0.4 0.5 0.3 0.5 0.2 0.5 0.2 0.5 -0.1 0.5 -0.2 0.5 0.5 0.5 0.1 0.5 -0.1 0.5 0.2 0.5 -0.6 0.5 0.4 0.5 -0.1 0.5 -0.8 0.5 0.0 0.5 -0.3 0.5 -0.3 0.5 0.6 0.5 0.2 0.5 -0.1 0.5 -0.1 0.5 0.5 0.5 0.3 0.5 0.4 0.5 -0.1 0.5 -0.8 0.5 -0.2 0.5 0.0 0.5 0.7 0.5 -0.1 0.5 -0.3 0.5 -0.4 0.5 -0.4 0.5 0.2 0.5 0.3 0.5 0.1 0.5 -0.8 0.5 -0.6 0.5 0.0 0.5 0.4 0.5 0.1 0.5 0.5 0.5 0.2 0.5 -0.2 0.5 -0.1 0.5 -0.4 0.5 0.1 0.5 0.1 0.5 0.6 0.5 0.4 0.5 0.3 0.5 -0.4 0.5 -0.8 0.5 -0.4 0.5 0.2 0.5 -0.2 0.5 -0.2 0.5 0.1 0.5 0.2 0.5 0.3 0.5 -0.4 0.5 -0.2 0.5 0.0 0.5 -0.4 0.5 0.4 0.5 0.5 0.5 0.2 0.5 0.2 0.5 -0.4 0.5 -0.4 0.5 -0.2 0.5 0.2 0.5 0.2 0.5 0.5 0.5 0.0 0.5 -0.4 0.5 0.2 0.5 -0.3 0.5 0.8 0.5 0.3 0.5 0.4 0.5 0.2 0.5 -0.8 0.5 0.4 0.5 -0.4 0.5 -0.2 0.5 0.4 0.5 0.1 0.5 0.7 0.5 -0.2 0.5 0.0 0.5 0.1 0.5 0.0 0.5 0.0 0.5 -0.2 0.5 -0.3 0.5 -0.5 0.5 0.6 0.5 0.2 0.5 0.4 0.5 -0.3 0.5 -0.7 0.5 -0.1 0.5 -0.5 0.5 0.0 0.5 0.4 0.5 -0.7 0.5 0.1 0.5 0.5 0.5 -0.3 0.5 0.7 0.5 0.5 0.5 -0.4 0.5 0.3 0.5 -0.4 0.5 0.5 0.5 0.4 0.5 -0.6 0.5 0.3 0.5 -0.3 0.5 0.6 0.5 -0.3 0.5 -0.6 0.5 -0.3 0.5 -0.2 0.5 0.6 0.5 0.6 0.5 0.3 0.5 -0.5 0.5 -0.7 0.5 -0.3 0.5 -0.3 0.5 1.0 0.5 0.1 0.5 0.0 0.5 0.3 0.5 -0.1 0.5 0.0 0.5 -0.5 0.5 0.7 0.5 -0.6 0.5 -0.3 0.5 0.0 0.5 -0.7 0.5 -0.1 0.5 0.0 0.5 -0.2 0.5 0.3 0.5 0.7 0.5 -0.6 0.5 -0.1 0.5 0.0 0.5 0.0 0.5 -0.2 0.5 0.5 0.5 0.0 0.5 -0.5 0.5 0.6 0.5 0.8 0.5 1.0 0.5 0.1 0.5 0.3 0.5 -0.1 0.5 -0.5 0.5 0.2 0.5 -0.6 0.5 0.2 0.5 0.2 0.5 -0.8 0.5 -0.2 0.5 -0.2 0.5 0.0 0.5 0.3 0.5 0.8 0.5 0.2 0.5 0.5 0.5 -0.6 0.5 -0.6 0.5 -0.7 0.5 -0.4 0.5 0.3 0.5 0.0 0.5 0.6 0.5 -0.4 0.5 0.4 0.5 -0.1 0.5 0.4 0.5 -0.2 0.5 -0.5 0.5 0.2 0.5 0.4 0.5 -0.1 0.5 -0.2 0.5 -0.5 0.5 0.1 0.5 0.4 0.5 0.5 0.5 0.0 0.5 -0.6 0.5 0.3 0.5 -0.3 0.5 0.1 0.5 0.2 0.5 -0.5 0.5 0.2 0.5 0.3 0.5 0.0 0.5 0.5 0.5 -1.0 0.5 0.3 0.5 0.2 0.5 -0.3 0.5 -0.2 0.5 -0.1 0.5 -0.2 0.5 -0.3 0.5 0.6 0.5 -0.3 0.5 0.5 0.5 -0.5 0.5 0.4 0.5 -0.2 0.5 -0.1 0.5 0.8 0.5 -0.3 0.5 0.2 0.5 -0.1 0.5 -0.1 0.5 -0.2 0.5 0.3 0.5 0.4 0.5 0.5 0.5 -0.5 0.5 -0.1 0.5 -0.6 0.5 -0.2 0.5 0.2 0.5 0.2 0.5 0.3 0.5 -0.3 0.5 0.7 0.5 0.0 0.5 -0.1 0.5 0.2 0.5 0.4 0.5 -0.6 0.5 -0.2 0.5 -0.3 0.5 -0.6 0.5 -0.1 0.5 -0.4 0.5 -0.5 0.5 -0.2 0.5 0.1 0.5 -0.1 0.5 0.0 0.5 -0.2 0.5 0.4 0.5 -0.2 0.5 0.0 0.5 0.7 0.5 -0.2 0.5 0.4 0.5 0.3 0.5 0.0 0.5 0.4 0.5 -0.1 0.5 -0.3 0.5 0.1 0.5 -0.1 0.5 -0.4 0.5 0.3 0.5 -0.8 0.5 0.0 0.5 0.3 0.5 0.5 0.5 0.4 0.5 0.0 0.5 0.0 0.5 -0.1 0.5 0.1 0.5 0.0 0.5 -0.1 0.5 -0.6 0.5 -0.5 0.5 0.1 0.5 1.4 0.5 0.5 0.5 0.5 0.5 -0.2 0.5 -0.5 0.5 -0.1 0.5 -0.9 0.5 0.0 0.5 -0.5 0.5 -0.4 0.5 0.1 0.5 0.6 0.5 0.6 0.5 0.4 0.5 -0.2 0.5 0.3 0.5 -0.6 0.5 0.2 0.5 0.7 0.5 -0.5 0.5 -0.2 0.5 0.3 0.5 -0.4 0.5 -0.5 0.5 0.4 0.5 -0.7 0.5 0.0 0.5 0.3 0.5 0.1 0.5 -0.5 0.5 0.3 0.5 -0.3 0.5 0.1 0.5 0.7 0.5 -0.3 0.5 -0.2 0.5 -0.7 0.5 -0.2 0.5 0.1 0.5 -0.6 0.5 0.4 0.5 0.2 0.5 0.1 0.5 0.2 0.5 0.2 0.5 0.1 0.5 -0.5 0.5 0.1 0.5 -0.2 0.5 0.2 0.5 -0.2 0.5 0.5 0.5 -0.4 0.5 -0.1 0.5 0.0 0.5 -0.2 0.5 0.2 0.5 -0.3 0.5 -0.5 0.5 -0.3 0.5 0.1 0.5 0.0 0.5 0.2 0.5 0.2 0.5 0.0 0.5 -0.1 0.5 0.4 0.5 -0.1 0.5 -0.1 0.5 -0.2 0.5 0.1 0.5 -0.3 0.5 0.2 0.5 -0.1 0.5 -0.1 0.5 0.1 0.5 -0.1 0.5 0.9 0.5 0.0 0.5 0.6 0.5 0.5 0.5 0.2 0.5 0.5 0.5 0.1 0.5 -0.3 0.5 -0.2 0.5 0.3 0.5 0.1 0.5 0.1 0.5 -0.3 0.5 -0.1 0.5 -0.7 0.5 -0.1 0.5 0.6 0.5 0.4 0.5 0.0 0.5 0.3 0.5 -0.6 0.5 0.4 0.5 0.2 0.5 -0.7 0.5 -0.4 0.5 -0.1 0.5 0.1 0.5 0.2 0.5 0.0 0.5 0.2 0.5 0.2 0.5 -0.8 0.5 0.6 0.5 0.0 0.5 0.0 0.5 0.3 0.5 -0.2 0.5 -0.5 0.5 0.3 0.5 -0.4 0.5 0.4 0.5 0.1 0.5 -0.7 0.5 0.3 0.5 -0.1 0.5 0.5 0.5 0.5 0.5 0.3 0.5 -0.3 0.5 0.1 0.5 -0.4 0.5 0.2 0.5 0.1 0.5 0.1 0.5 0.6 0.5 0.0 0.5 -0.5 0.5 -0.6 0.5 -0.4 0.5 -0.1 0.5 0.3 0.5 0.0 0.5 -0.5 0.5 -0.6 0.5 0.1 0.5 0.1 0.5 0.3 0.5 0.4 0.5 -0.6 0.5 -0.7 0.5 0.1 0.5 -0.8 0.5 0.1 0.5 0.3 0.5 -0.2 0.5 0.4 0.5 -0.5 0.5 0.5 0.5 0.3 0.5 -0.7 0.5 0.7 0.5 0.2 0.5 0.5 0.5 0.3 0.5 0.2 0.5 0.6 0.5 -0.2 0.5 0.1 0.5 -0.3 0.5 0.2 0.5 0.0 0.5 -0.2 0.5 0.1 0.5 -0.1 0.5 1.4 0.5 -0.4 0.5 0.5 0.5 0.2 0.5 -0.5 0.5 0.2 0.5 -1.0 0.5 -0.3 0.5 0.3 0.5 0.2 0.5 0.2 0.5 -0.3 0.5 0.3 0.5 0.0 0.5 -0.3 0.5 0.2 0.5 0.0 0.5 0.3 0.5 0.0 0.5 0.7 0.5 -0.3 0.5 0.2 0.5 0.0 0.5 -0.6 0.5 0.2 0.5 0.9 0.5 0.2 0.5 -0.1 0.5 -0.1 0.5 -0.2 0.5 -0.2 0.5 -1.0 0.5 0.2 0.5 -0.4 0.5 -0.3 0.5 0.3 0.5 0.4 0.5 -0.4 0.5 -0.1 0.5 -0.3 0.5 0.2 0.5 1.0 0.5 -0.7 0.5 -0.5 0.5 -0.3 0.5 -0.5 0.5 -0.3 0.5 0.3 0.5 -0.3 0.5 0.3 0.5 0.0 0.5 0.3 0.5 0.6 0.5 -0.1 0.5 -0.1 0.5 -0.4 0.5 0.2 0.5 -0.4 0.5 0.4 0.5 0.8 0.5 -0.1 0.5 -0.3 0.5 -0.1 0.5 -0.5 0.5 0.5 0.5 0.9 0.5 0.1 0.5 0.4 0.5 -0.7 0.5 -0.5 0.5 0.3 0.5 -0.8 0.5 0.0 0.5 0.1 0.5 -0.2 0.5 1.3 0.5 0.2 0.5 -0.1 0.5 0.4 0.5 -0.3 0.5 0.2 0.5 -0.1 0.5 -0.3 0.5 -0.2 0.5 -0.8 0.5 -0.2 0.5 0.2 0.5 0.3 0.5 0.0 0.5 0.5 0.5 0.7 0.5 0.2 0.5 -0.3 0.5 0.1 0.5 -0.7 0.5 -0.3 0.5 0.1 0.5 0.4 0.5 0.6 0.5 0.2 0.5 -0.1 0.5 -0.3 0.5 -0.5 0.5 -0.7 0.5 -0.1 0.5 -0.1 0.5 0.2 0.5 0.3 0.5 0.0 0.5 -0.2 0.5 -0.1 0.5 -0.5 0.5 0.5 0.5 0.0"/>
</g>
<g fill="#000" stroke="#000" stroke-width="1.2" stroke-linejoin="round">
<rect x="502.6" y="666.1" width="31.8" height="31.8"/>
<rect x="725.5" y="635.5" width="31.8" height="31.8"/>
<rect x="791.6" y="785.4" width="31.8" height="31.8"/>
<rect x="923.7" y="579.9" width="31.8" height="31.8"/>
<rect x="1146.1" y="797.8" width="31.8" height="31.8"/>
<rect x="1266.1" y="633.4" width="31.8" height="31.8"/>
<rect x="1356.9" y="896.0" width="31.8" height="31.8"/>
<rect x="1475.5" y="828.7" width="31.8" height="31.8"/>
<rect x="1522.5" y="734.8" width="31.8" height="31.8"/>
<rect x="1728.8" y="855.4" width="31.8" height="31.8"/>
<rect x="1820.3" y="895.3" width="31.8" height="31.8"/>
<rect x="1910.1" y="895.3" width="31.8" height="31.8"/>
<rect x="1960.1" y="899.3" width="31.8" height="31.8"/>
<rect x="2018.5" y="892.8" width="31.8" height="31.8"/>
<rect x="503.1" y="1056.8" width="31.8" height="31.8"/>
<rect x="733.8" y="1047.8" width="31.8" height="31.8"/>
<rect x="794.2" y="1042.7" width="31.8" height="31.8"/>
<rect x="925.6" y="1057.5" width="31.8" height="31.8"/>
<rect x="1145.5" y="1066.3" width="31.8" height="31.8"/>
<rect x="1265.4" y="1053.4" width="31.8" height="31.8"/>
<rect x="1360.5" y="1056.0" width="31.8" height="31.8"/>
<rect x="504.5" y="1217.3" width="31.8" height="31.8"/>
<rect x="732.7" y="1209.5" width="31.8" height="31.8"/>
<rect x="793.8" y="1203.7" width="31.8" height="31.8"/>
<rect x="926.6" y="1219.3" width="31.8" height="31.8"/>
<rect x="1150.6" y="1225.6" width="31.8" height="31.8"/>
<rect x="1268.4" y="1216.9" width="31.8" height="31.8"/>
<rect x="1358.4" y="1215.7" width="31.8" height="31.8"/>
<rect x="506.8" y="1359.7" width="31.8" height="31.8"/>
<rect x="735.7" y="1352.9" width="31.8" height="31.8"/>
<rect x="799.5" y="1346.6" width="31.8" height="31.8"/>
<rect x="929.4" y="1356.7" width="31.8" height="31.8"/>
<rect x="1153.2" y="1360.4" width="31.8" height="31.8"/>
<rect x="1272.5" y="1356.9" width="31.8" height="31.8"/>
<rect x="1360.7" y="1349.5" width="31.8" height="31.8"/>
<polygon stroke-width="3" points="354.4,1053.2 393.8,1053.2 374.1,1087.5"/>
<polygon stroke-width="3" points="833.3,1045.2 872.7,1045.2 853.0,1079.5"/>
<polygon stroke-width="3" points="986.3,974.6 1025.7,974.6 1006.0,1008.9"/>
<polygon stroke-width="3" points="1488.1,978.7 1527.5,978.7 1507.8,1013.0"/>
<polygon stroke-width="3" points="1919.8,1060.0 1959.2,1060.0 1939.5,1094.3"/>
<polygon stroke-width="3" points="355.6,1224.6 395.0,1224.6 375.3,1258.9"/>
<polygon stroke-width="3" points="833.3,1214.8 872.7,1214.8 853.0,1249.1"/>
<polygon stroke-width="3" points="985.6,1135.3 1025.0,1135.3 1005.3,1169.6"/>
<polygon stroke-width="3" points="1489.8,1137.5 1529.2,1137.5 1509.5,1171.8"/>
<polygon stroke-width="3" points="1919.3,1223.9 1958.7,1223.9 1939.0,1258.2"/>
<polygon stroke-width="3" points="366.4,1354.6 405.8,1354.6 386.1,1388.9"/>
<polygon stroke-width="3" points="838.8,1344.2 878.2,1344.2 858.5,1378.5"/>
<polygon stroke-width="3" points="990.5,1298.0 1029.9,1298.0 1010.2,1332.3"/>
<polygon stroke-width="3" points="1493.5,1289.7 1532.9,1289.7 1513.2,1324.0"/>
<polygon stroke-width="3" points="1926.9,1351.6 1966.3,1351.6 1946.6,1385.9"/>
</g>
<rect x="144.4" y="27.4" width="1916.4" height="1413.1" fill="none" stroke="#000" stroke-width="5"/>
<path d="M144.4 1440.5V1413.2 M264.2 1440.5V1427.3 M384.0 1440.5V1413.2 M503.7 1440.5V1427.3 M623.5 1440.5V1413.2 M743.3 1440.5V1427.3 M863.1 1440.5V1413.2 M982.8 1440.5V1427.3 M1102.6 1440.5V1413.2 M1222.4 1440.5V1427.3 M1342.2 1440.5V1413.2 M1461.9 1440.5V1427.3 M1581.7 1440.5V1413.2 M1701.5 1440.5V1427.3 M1821.3 1440.5V1413.2 M1941.0 1440.5V1427.3 M2060.8 1440.5V1413.2" stroke="#000" stroke-width="4.5" fill="none"/>
<g font-size="60" text-anchor="middle" fill="#000">
<text x="144.4" y="1510">10</text>
<text x="384.0" y="1510">20</text>
<text x="623.5" y="1510">30</text>
<text x="863.1" y="1510">40</text>
<text x="1102.6" y="1510">50</text>
<text x="1342.2" y="1510">60</text>
<text x="1581.7" y="1510">70</text>
<text x="1821.3" y="1510">80</text>
<text x="2060.8" y="1510">90</text>
</g>
<text x="1148.5" y="1573" font-size="72" letter-spacing="1.8">2θ(°)</text>
<text transform="translate(83,690.4) rotate(-90)" font-size="72" text-anchor="middle">Intensity(CPS)</text>
<line x1="187.5" y1="93.5" x2="323" y2="93.5" stroke="#9000FF" stroke-width="5" stroke-linecap="round"/>
<text x="338" y="112.4" font-size="60">Cured sealant</text>
<line x1="187.5" y1="167.5" x2="323" y2="167.5" stroke="#008000" stroke-width="5" stroke-linecap="round"/>
<text x="338" y="187.3" font-size="60">Al<tspan font-size="40" dy="15">2</tspan><tspan dy="-15">O</tspan><tspan font-size="40" dy="15">3</tspan><tspan dy="-15"> powder</tspan></text>
<line x1="187.5" y1="255.5" x2="323" y2="255.5" stroke="#006EE6" stroke-width="5" stroke-linecap="round"/>
<text x="338" y="274.9" font-size="60">Alternately sealed coating</text>
<line x1="187.5" y1="329.8" x2="323" y2="329.8" stroke="#FF3A3A" stroke-width="5" stroke-linecap="round"/>
<text x="338" y="349.3" font-size="60">Traditional sealed coating</text>
<line x1="187.5" y1="404" x2="323" y2="404" stroke="#4D4D4D" stroke-width="5" stroke-linecap="round"/>
<text x="338" y="422.9" font-size="60">As-sprayed coating</text>
<rect x="1723" y="87" width="33" height="33" fill="#000"/>
<polygon points="1720,179.8 1758.4,179.8 1739.2,213.2" fill="#000" stroke="#000" stroke-width="3" stroke-linejoin="round"/>
<text x="1807" y="123" font-size="60">α-Al<tspan font-size="40" dy="15">2</tspan><tspan dy="-15">O</tspan><tspan font-size="40" dy="15">3</tspan></text>
<text x="1805" y="210.7" font-size="60">γ-Al<tspan font-size="40" dy="15">2</tspan><tspan dy="-15">O</tspan><tspan font-size="40" dy="15">3</tspan></text>
</svg></body></html>
